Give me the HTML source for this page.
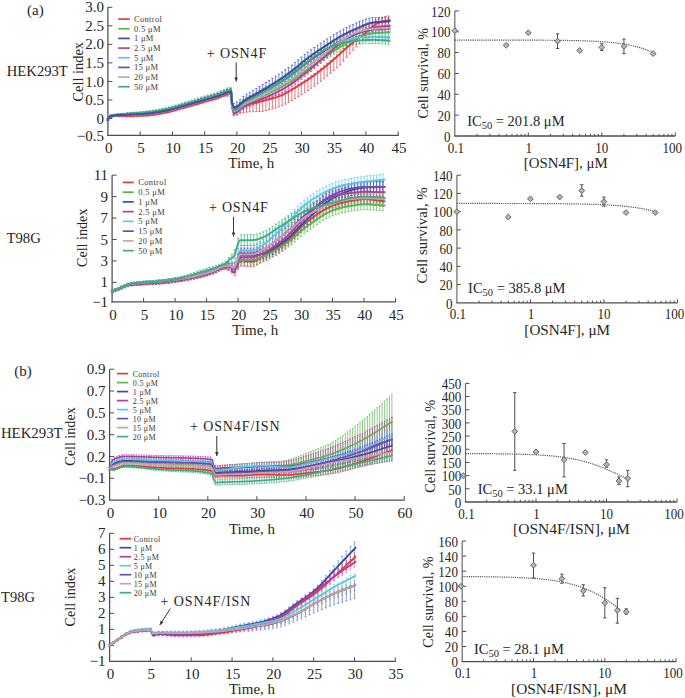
<!DOCTYPE html>
<html><head><meta charset="utf-8"><style>
html,body{margin:0;padding:0;background:#fff;}
body{width:685px;height:698px;overflow:hidden;font-family:"Liberation Serif", serif;}
svg{display:block}
</style></head><body>
<svg width="685" height="698" viewBox="0 0 685 698" font-family='"Liberation Serif", serif'>
<rect width="685" height="698" fill="#fff"/>
<line x1="107.90" y1="7.30" x2="107.90" y2="136.00" stroke="#4e4e4e" stroke-width="1.25" />
<line x1="107.30" y1="135.40" x2="398.69" y2="135.40" stroke="#4e4e4e" stroke-width="1.25" />
<line x1="107.90" y1="7.30" x2="112.40" y2="7.30" stroke="#4e4e4e" stroke-width="1" />
<text x="103.90" y="12.40" font-size="15" text-anchor="end" fill="#262626" >3.0</text>
<line x1="107.90" y1="25.83" x2="112.40" y2="25.83" stroke="#4e4e4e" stroke-width="1" />
<text x="103.90" y="30.93" font-size="15" text-anchor="end" fill="#262626" >2.5</text>
<line x1="107.90" y1="44.36" x2="112.40" y2="44.36" stroke="#4e4e4e" stroke-width="1" />
<text x="103.90" y="49.46" font-size="15" text-anchor="end" fill="#262626" >2.0</text>
<line x1="107.90" y1="62.89" x2="112.40" y2="62.89" stroke="#4e4e4e" stroke-width="1" />
<text x="103.90" y="67.99" font-size="15" text-anchor="end" fill="#262626" >1.5</text>
<line x1="107.90" y1="81.42" x2="112.40" y2="81.42" stroke="#4e4e4e" stroke-width="1" />
<text x="103.90" y="86.52" font-size="15" text-anchor="end" fill="#262626" >1.0</text>
<line x1="107.90" y1="99.95" x2="112.40" y2="99.95" stroke="#4e4e4e" stroke-width="1" />
<text x="103.90" y="105.05" font-size="15" text-anchor="end" fill="#262626" >0.5</text>
<line x1="107.90" y1="118.48" x2="112.40" y2="118.48" stroke="#4e4e4e" stroke-width="1" />
<text x="103.90" y="123.58" font-size="15" text-anchor="end" fill="#262626" >0</text>
<text x="103.90" y="140.50" font-size="15" text-anchor="end" fill="#262626" >−0.5</text>
<text x="108.70" y="153.00" font-size="15" text-anchor="middle" fill="#262626" >0</text>
<line x1="140.16" y1="135.40" x2="140.16" y2="131.40" stroke="#4e4e4e" stroke-width="1" />
<text x="140.96" y="153.00" font-size="15" text-anchor="middle" fill="#262626" >5</text>
<line x1="172.41" y1="135.40" x2="172.41" y2="131.40" stroke="#4e4e4e" stroke-width="1" />
<text x="173.21" y="153.00" font-size="15" text-anchor="middle" fill="#262626" >10</text>
<line x1="204.67" y1="135.40" x2="204.67" y2="131.40" stroke="#4e4e4e" stroke-width="1" />
<text x="205.47" y="153.00" font-size="15" text-anchor="middle" fill="#262626" >15</text>
<line x1="236.92" y1="135.40" x2="236.92" y2="131.40" stroke="#4e4e4e" stroke-width="1" />
<text x="237.72" y="153.00" font-size="15" text-anchor="middle" fill="#262626" >20</text>
<line x1="269.17" y1="135.40" x2="269.17" y2="131.40" stroke="#4e4e4e" stroke-width="1" />
<text x="269.97" y="153.00" font-size="15" text-anchor="middle" fill="#262626" >25</text>
<line x1="301.43" y1="135.40" x2="301.43" y2="131.40" stroke="#4e4e4e" stroke-width="1" />
<text x="302.23" y="153.00" font-size="15" text-anchor="middle" fill="#262626" >30</text>
<line x1="333.69" y1="135.40" x2="333.69" y2="131.40" stroke="#4e4e4e" stroke-width="1" />
<text x="334.49" y="153.00" font-size="15" text-anchor="middle" fill="#262626" >35</text>
<line x1="365.94" y1="135.40" x2="365.94" y2="131.40" stroke="#4e4e4e" stroke-width="1" />
<text x="366.74" y="153.00" font-size="15" text-anchor="middle" fill="#262626" >40</text>
<line x1="398.19" y1="135.40" x2="398.19" y2="131.40" stroke="#4e4e4e" stroke-width="1" />
<text x="398.99" y="153.00" font-size="15" text-anchor="middle" fill="#262626" >45</text>
<path d="M107.9,118.9V120.4M106.7,118.9h2.4M106.7,120.4h2.4M111.1,115.6V117.1M109.9,115.6h2.4M109.9,117.1h2.4M114.4,115.2V116.7M113.2,115.2h2.4M113.2,116.7h2.4M117.6,115.2V116.7M116.4,115.2h2.4M116.4,116.7h2.4M120.8,115.2V116.8M119.6,115.2h2.4M119.6,116.8h2.4M124.0,115.2V116.8M122.8,115.2h2.4M122.8,116.8h2.4M127.3,115.2V116.8M126.1,115.2h2.4M126.1,116.8h2.4M130.5,115.2V116.8M129.3,115.2h2.4M129.3,116.8h2.4M133.7,115.1V116.8M132.5,115.1h2.4M132.5,116.8h2.4M136.9,115.0V116.7M135.7,115.0h2.4M135.7,116.7h2.4M140.2,114.9V116.5M139.0,114.9h2.4M139.0,116.5h2.4M143.4,114.7V116.4M142.2,114.7h2.4M142.2,116.4h2.4M146.6,114.5V116.2M145.4,114.5h2.4M145.4,116.2h2.4M149.8,114.2V116.0M148.6,114.2h2.4M148.6,116.0h2.4M153.1,113.8V115.6M151.9,113.8h2.4M151.9,115.6h2.4M156.3,113.3V115.1M155.1,113.3h2.4M155.1,115.1h2.4M159.5,112.7V114.5M158.3,112.7h2.4M158.3,114.5h2.4M162.7,112.1V113.9M161.5,112.1h2.4M161.5,113.9h2.4M166.0,111.5V113.3M164.8,111.5h2.4M164.8,113.3h2.4M169.2,110.7V112.6M168.0,110.7h2.4M168.0,112.6h2.4M172.4,109.9V111.8M171.2,109.9h2.4M171.2,111.8h2.4M175.6,109.0V110.9M174.4,109.0h2.4M174.4,110.9h2.4M178.9,108.1V110.0M177.7,108.1h2.4M177.7,110.0h2.4M182.1,107.1V109.1M180.9,107.1h2.4M180.9,109.1h2.4M185.3,106.2V108.2M184.1,106.2h2.4M184.1,108.2h2.4M188.5,105.3V107.3M187.3,105.3h2.4M187.3,107.3h2.4M191.8,104.4V106.4M190.6,104.4h2.4M190.6,106.4h2.4M195.0,103.4V105.5M193.8,103.4h2.4M193.8,105.5h2.4M198.2,102.5V104.5M197.0,102.5h2.4M197.0,104.5h2.4M201.4,101.5V103.6M200.2,101.5h2.4M200.2,103.6h2.4M204.7,100.6V102.7M203.5,100.6h2.4M203.5,102.7h2.4M207.9,99.7V101.8M206.7,99.7h2.4M206.7,101.8h2.4M211.1,98.7V100.9M209.9,98.7h2.4M209.9,100.9h2.4M214.3,97.8V100.0M213.1,97.8h2.4M213.1,100.0h2.4M217.6,96.8V99.0M216.4,96.8h2.4M216.4,99.0h2.4M220.8,95.6V97.8M219.6,95.6h2.4M219.6,97.8h2.4M224.0,94.2V96.4M222.8,94.2h2.4M222.8,96.4h2.4M227.2,92.8V96.1M226.0,92.8h2.4M226.0,96.1h2.4M230.5,92.0V96.3M229.3,92.0h2.4M229.3,96.3h2.4M233.7,109.3V114.6M232.5,109.3h2.4M232.5,114.6h2.4M236.9,108.5V114.8M235.7,108.5h2.4M235.7,114.8h2.4M240.1,106.6V113.6M238.9,106.6h2.4M238.9,113.6h2.4M243.4,104.7V112.5M242.2,104.7h2.4M242.2,112.5h2.4M246.6,103.5V112.1M245.4,103.5h2.4M245.4,112.1h2.4M249.8,102.6V111.8M248.6,102.6h2.4M248.6,111.8h2.4M253.0,101.7V111.7M251.8,101.7h2.4M251.8,111.7h2.4M256.3,100.8V111.6M255.1,100.8h2.4M255.1,111.6h2.4M259.5,100.0V111.5M258.3,100.0h2.4M258.3,111.5h2.4M262.7,99.1V111.3M261.5,99.1h2.4M261.5,111.3h2.4M265.9,98.2V110.5M264.7,98.2h2.4M264.7,110.5h2.4M269.2,97.4V109.7M268.0,97.4h2.4M268.0,109.7h2.4M272.4,96.5V108.9M271.2,96.5h2.4M271.2,108.9h2.4M275.6,95.6V107.9M274.4,95.6h2.4M274.4,107.9h2.4M278.9,94.5V106.9M277.7,94.5h2.4M277.7,106.9h2.4M282.1,93.2V105.7M280.9,93.2h2.4M280.9,105.7h2.4M285.3,91.7V104.1M284.1,91.7h2.4M284.1,104.1h2.4M288.5,89.9V102.4M287.3,89.9h2.4M287.3,102.4h2.4M291.8,88.0V100.5M290.6,88.0h2.4M290.6,100.5h2.4M295.0,86.0V98.5M293.8,86.0h2.4M293.8,98.5h2.4M298.2,84.0V96.6M297.0,84.0h2.4M297.0,96.6h2.4M301.4,82.0V94.6M300.2,82.0h2.4M300.2,94.6h2.4M304.7,80.0V92.6M303.5,80.0h2.4M303.5,92.6h2.4M307.9,77.9V90.5M306.7,77.9h2.4M306.7,90.5h2.4M311.1,75.7V88.3M309.9,75.7h2.4M309.9,88.3h2.4M314.3,73.4V86.1M313.1,73.4h2.4M313.1,86.1h2.4M317.6,71.0V83.7M316.4,71.0h2.4M316.4,83.7h2.4M320.8,68.5V81.3M319.6,68.5h2.4M319.6,81.3h2.4M324.0,65.9V78.7M322.8,65.9h2.4M322.8,78.7h2.4M327.2,63.2V76.0M326.0,63.2h2.4M326.0,76.0h2.4M330.5,60.5V73.3M329.3,60.5h2.4M329.3,73.3h2.4M333.7,57.7V70.6M332.5,57.7h2.4M332.5,70.6h2.4M336.9,54.8V67.8M335.7,54.8h2.4M335.7,67.8h2.4M340.1,51.9V64.9M338.9,51.9h2.4M338.9,64.9h2.4M343.4,48.6V61.1M342.2,48.6h2.4M342.2,61.1h2.4M346.6,45.4V57.3M345.4,45.4h2.4M345.4,57.3h2.4M349.8,42.3V53.7M348.6,42.3h2.4M348.6,53.7h2.4M353.0,39.3V50.3M351.8,39.3h2.4M351.8,50.3h2.4M356.3,36.5V46.9M355.1,36.5h2.4M355.1,46.9h2.4M359.5,33.7V43.6M358.3,33.7h2.4M358.3,43.6h2.4M362.7,30.9V40.3M361.5,30.9h2.4M361.5,40.3h2.4M365.9,28.1V37.0M364.7,28.1h2.4M364.7,37.0h2.4M369.2,25.5V34.4M368.0,25.5h2.4M368.0,34.4h2.4M372.4,22.5V31.4M371.2,22.5h2.4M371.2,31.4h2.4M375.6,19.9V28.7M374.4,19.9h2.4M374.4,28.7h2.4M378.8,18.2V27.1M377.6,18.2h2.4M377.6,27.1h2.4M382.1,17.2V26.1M380.9,17.2h2.4M380.9,26.1h2.4M385.3,16.5V25.4M384.1,16.5h2.4M384.1,25.4h2.4M388.5,15.9V24.8M387.3,15.9h2.4M387.3,24.8h2.4" stroke="#e23a44" stroke-width="0.75" stroke-opacity="0.9" fill="none"/>
<path d="M107.9,118.9V120.4M106.7,118.9h2.4M106.7,120.4h2.4M111.1,115.3V116.8M109.9,115.3h2.4M109.9,116.8h2.4M114.4,114.5V116.1M113.2,114.5h2.4M113.2,116.1h2.4M117.6,114.1V115.7M116.4,114.1h2.4M116.4,115.7h2.4M120.8,113.8V115.4M119.6,113.8h2.4M119.6,115.4h2.4M124.0,113.5V115.2M122.8,113.5h2.4M122.8,115.2h2.4M127.3,113.3V115.0M126.1,113.3h2.4M126.1,115.0h2.4M130.5,113.0V114.8M129.3,113.0h2.4M129.3,114.8h2.4M133.7,112.8V114.6M132.5,112.8h2.4M132.5,114.6h2.4M136.9,112.6V114.4M135.7,112.6h2.4M135.7,114.4h2.4M140.2,112.3V114.2M139.0,112.3h2.4M139.0,114.2h2.4M143.4,112.1V114.0M142.2,112.1h2.4M142.2,114.0h2.4M146.6,111.8V113.7M145.4,111.8h2.4M145.4,113.7h2.4M149.8,111.4V113.3M148.6,111.4h2.4M148.6,113.3h2.4M153.1,110.9V112.9M151.9,110.9h2.4M151.9,112.9h2.4M156.3,110.4V112.4M155.1,110.4h2.4M155.1,112.4h2.4M159.5,109.8V111.9M158.3,109.8h2.4M158.3,111.9h2.4M162.7,109.2V111.3M161.5,109.2h2.4M161.5,111.3h2.4M166.0,108.6V110.7M164.8,108.6h2.4M164.8,110.7h2.4M169.2,107.8V110.0M168.0,107.8h2.4M168.0,110.0h2.4M172.4,107.0V109.2M171.2,107.0h2.4M171.2,109.2h2.4M175.6,106.0V108.3M174.4,106.0h2.4M174.4,108.3h2.4M178.9,105.0V107.4M177.7,105.0h2.4M177.7,107.4h2.4M182.1,104.0V106.5M180.9,104.0h2.4M180.9,106.5h2.4M185.3,103.1V105.6M184.1,103.1h2.4M184.1,105.6h2.4M188.5,102.1V104.7M187.3,102.1h2.4M187.3,104.7h2.4M191.8,101.1V103.8M190.6,101.1h2.4M190.6,103.8h2.4M195.0,100.1V102.9M193.8,100.1h2.4M193.8,102.9h2.4M198.2,99.1V102.0M197.0,99.1h2.4M197.0,102.0h2.4M201.4,98.1V101.1M200.2,98.1h2.4M200.2,101.1h2.4M204.7,97.1V100.2M203.5,97.1h2.4M203.5,100.2h2.4M207.9,96.1V99.3M206.7,96.1h2.4M206.7,99.3h2.4M211.1,95.2V98.4M209.9,95.2h2.4M209.9,98.4h2.4M214.3,94.2V97.5M213.1,94.2h2.4M213.1,97.5h2.4M217.6,93.2V96.5M216.4,93.2h2.4M216.4,96.5h2.4M220.8,91.9V95.4M219.6,91.9h2.4M219.6,95.4h2.4M224.0,90.4V94.0M222.8,90.4h2.4M222.8,94.0h2.4M227.2,89.2V92.8M226.0,89.2h2.4M226.0,92.8h2.4M230.5,88.5V92.2M229.3,88.5h2.4M229.3,92.2h2.4M233.7,107.6V112.0M232.5,107.6h2.4M232.5,112.0h2.4M236.9,106.8V112.0M235.7,106.8h2.4M235.7,112.0h2.4M240.1,104.5V109.7M238.9,104.5h2.4M238.9,109.7h2.4M243.4,102.1V107.4M242.2,102.1h2.4M242.2,107.4h2.4M246.6,100.5V105.8M245.4,100.5h2.4M245.4,105.8h2.4M249.8,99.1V104.5M248.6,99.1h2.4M248.6,104.5h2.4M253.0,97.7V103.2M251.8,97.7h2.4M251.8,103.2h2.4M256.3,96.4V101.9M255.1,96.4h2.4M255.1,101.9h2.4M259.5,95.0V100.5M258.3,95.0h2.4M258.3,100.5h2.4M262.7,93.5V99.0M261.5,93.5h2.4M261.5,99.0h2.4M265.9,92.0V97.6M264.7,92.0h2.4M264.7,97.6h2.4M269.2,90.4V96.0M268.0,90.4h2.4M268.0,96.0h2.4M272.4,88.8V94.5M271.2,88.8h2.4M271.2,94.5h2.4M275.6,87.1V92.9M274.4,87.1h2.4M274.4,92.9h2.4M278.9,85.4V91.2M277.7,85.4h2.4M277.7,91.2h2.4M282.1,83.7V89.5M280.9,83.7h2.4M280.9,89.5h2.4M285.3,81.9V87.8M284.1,81.9h2.4M284.1,87.8h2.4M288.5,80.0V86.0M287.3,80.0h2.4M287.3,86.0h2.4M291.8,78.0V84.0M290.6,78.0h2.4M290.6,84.0h2.4M295.0,75.8V81.9M293.8,75.8h2.4M293.8,81.9h2.4M298.2,73.5V79.6M297.0,73.5h2.4M297.0,79.6h2.4M301.4,71.1V77.2M300.2,71.1h2.4M300.2,77.2h2.4M304.7,68.6V74.8M303.5,68.6h2.4M303.5,74.8h2.4M307.9,66.3V72.5M306.7,66.3h2.4M306.7,72.5h2.4M311.1,63.9V70.1M309.9,63.9h2.4M309.9,70.1h2.4M314.3,61.5V67.8M313.1,61.5h2.4M313.1,67.8h2.4M317.6,59.0V65.4M316.4,59.0h2.4M316.4,65.4h2.4M320.8,56.7V63.1M319.6,56.7h2.4M319.6,63.1h2.4M324.0,54.3V60.8M322.8,54.3h2.4M322.8,60.8h2.4M327.2,52.1V58.6M326.0,52.1h2.4M326.0,58.6h2.4M330.5,49.9V56.4M329.3,49.9h2.4M329.3,56.4h2.4M333.7,47.7V54.3M332.5,47.7h2.4M332.5,54.3h2.4M336.9,45.6V52.3M335.7,45.6h2.4M335.7,52.3h2.4M340.1,43.6V50.3M338.9,43.6h2.4M338.9,50.3h2.4M343.4,41.7V48.4M342.2,41.7h2.4M342.2,48.4h2.4M346.6,39.8V46.6M345.4,39.8h2.4M345.4,46.6h2.4M349.8,37.9V44.8M348.6,37.9h2.4M348.6,44.8h2.4M353.0,36.2V43.1M351.8,36.2h2.4M351.8,43.1h2.4M356.3,34.7V41.6M355.1,34.7h2.4M355.1,41.6h2.4M359.5,33.5V40.4M358.3,33.5h2.4M358.3,40.4h2.4M362.7,32.3V39.3M361.5,32.3h2.4M361.5,39.3h2.4M365.9,31.2V38.3M364.7,31.2h2.4M364.7,38.3h2.4M369.2,30.3V37.4M368.0,30.3h2.4M368.0,37.4h2.4M372.4,29.7V36.9M371.2,29.7h2.4M371.2,36.9h2.4M375.6,29.4V36.6M374.4,29.4h2.4M374.4,36.6h2.4M378.8,29.1V36.4M377.6,29.1h2.4M377.6,36.4h2.4M382.1,28.9V36.2M380.9,28.9h2.4M380.9,36.2h2.4M385.3,28.8V36.1M384.1,28.8h2.4M384.1,36.1h2.4M388.5,28.6V35.9M387.3,28.6h2.4M387.3,35.9h2.4" stroke="#55b947" stroke-width="0.75" stroke-opacity="0.9" fill="none"/>
<path d="M107.9,118.9V120.4M106.7,118.9h2.4M106.7,120.4h2.4M111.1,115.4V117.0M109.9,115.4h2.4M109.9,117.0h2.4M114.4,114.8V116.4M113.2,114.8h2.4M113.2,116.4h2.4M117.6,114.6V116.3M116.4,114.6h2.4M116.4,116.3h2.4M120.8,114.4V116.2M119.6,114.4h2.4M119.6,116.2h2.4M124.0,114.3V116.1M122.8,114.3h2.4M122.8,116.1h2.4M127.3,114.1V116.0M126.1,114.1h2.4M126.1,116.0h2.4M130.5,113.9V115.9M129.3,113.9h2.4M129.3,115.9h2.4M133.7,113.7V115.8M132.5,113.7h2.4M132.5,115.8h2.4M136.9,113.5V115.7M135.7,113.5h2.4M135.7,115.7h2.4M140.2,113.3V115.6M139.0,113.3h2.4M139.0,115.6h2.4M143.4,113.1V115.5M142.2,113.1h2.4M142.2,115.5h2.4M146.6,112.8V115.3M145.4,112.8h2.4M145.4,115.3h2.4M149.8,112.5V115.0M148.6,112.5h2.4M148.6,115.0h2.4M153.1,112.0V114.6M151.9,112.0h2.4M151.9,114.6h2.4M156.3,111.5V114.2M155.1,111.5h2.4M155.1,114.2h2.4M159.5,110.9V113.7M158.3,110.9h2.4M158.3,113.7h2.4M162.7,110.3V113.1M161.5,110.3h2.4M161.5,113.1h2.4M166.0,109.6V112.5M164.8,109.6h2.4M164.8,112.5h2.4M169.2,108.9V111.9M168.0,108.9h2.4M168.0,111.9h2.4M172.4,108.1V111.1M171.2,108.1h2.4M171.2,111.1h2.4M175.6,107.1V110.3M174.4,107.1h2.4M174.4,110.3h2.4M178.9,106.2V109.4M177.7,106.2h2.4M177.7,109.4h2.4M182.1,105.2V108.5M180.9,105.2h2.4M180.9,108.5h2.4M185.3,104.2V107.6M184.1,104.2h2.4M184.1,107.6h2.4M188.5,103.3V106.7M187.3,103.3h2.4M187.3,106.7h2.4M191.8,102.3V105.8M190.6,102.3h2.4M190.6,105.8h2.4M195.0,101.3V104.9M193.8,101.3h2.4M193.8,104.9h2.4M198.2,100.4V104.0M197.0,100.4h2.4M197.0,104.0h2.4M201.4,99.4V103.1M200.2,99.4h2.4M200.2,103.1h2.4M204.7,98.4V102.2M203.5,98.4h2.4M203.5,102.2h2.4M207.9,97.5V101.4M206.7,97.5h2.4M206.7,101.4h2.4M211.1,96.5V100.5M209.9,96.5h2.4M209.9,100.5h2.4M214.3,95.6V99.6M213.1,95.6h2.4M213.1,99.6h2.4M217.6,94.6V98.7M216.4,94.6h2.4M216.4,98.7h2.4M220.8,93.3V97.5M219.6,93.3h2.4M219.6,97.5h2.4M224.0,91.9V96.2M222.8,91.9h2.4M222.8,96.2h2.4M227.2,90.6V95.0M226.0,90.6h2.4M226.0,95.0h2.4M230.5,90.0V94.4M229.3,90.0h2.4M229.3,94.4h2.4M233.7,110.7V115.5M232.5,110.7h2.4M232.5,115.5h2.4M236.9,109.7V114.9M235.7,109.7h2.4M235.7,114.9h2.4M240.1,107.0V112.3M238.9,107.0h2.4M238.9,112.3h2.4M243.4,104.4V109.7M242.2,104.4h2.4M242.2,109.7h2.4M246.6,102.7V108.0M245.4,102.7h2.4M245.4,108.0h2.4M249.8,101.2V106.6M248.6,101.2h2.4M248.6,106.6h2.4M253.0,99.9V105.3M251.8,99.9h2.4M251.8,105.3h2.4M256.3,98.6V104.0M255.1,98.6h2.4M255.1,104.0h2.4M259.5,97.2V102.7M258.3,97.2h2.4M258.3,102.7h2.4M262.7,95.8V101.4M261.5,95.8h2.4M261.5,101.4h2.4M265.9,94.5V100.1M264.7,94.5h2.4M264.7,100.1h2.4M269.2,93.1V98.8M268.0,93.1h2.4M268.0,98.8h2.4M272.4,91.7V97.4M271.2,91.7h2.4M271.2,97.4h2.4M275.6,90.1V95.8M274.4,90.1h2.4M274.4,95.8h2.4M278.9,88.4V94.2M277.7,88.4h2.4M277.7,94.2h2.4M282.1,86.6V92.5M280.9,86.6h2.4M280.9,92.5h2.4M285.3,84.7V90.6M284.1,84.7h2.4M284.1,90.6h2.4M288.5,82.7V88.7M287.3,82.7h2.4M287.3,88.7h2.4M291.8,80.6V86.6M290.6,80.6h2.4M290.6,86.6h2.4M295.0,78.3V84.3M293.8,78.3h2.4M293.8,84.3h2.4M298.2,75.9V81.9M297.0,75.9h2.4M297.0,81.9h2.4M301.4,73.3V79.4M300.2,73.3h2.4M300.2,79.4h2.4M304.7,70.7V76.8M303.5,70.7h2.4M303.5,76.8h2.4M307.9,68.0V74.2M306.7,68.0h2.4M306.7,74.2h2.4M311.1,65.3V71.5M309.9,65.3h2.4M309.9,71.5h2.4M314.3,62.5V68.8M313.1,62.5h2.4M313.1,68.8h2.4M317.6,59.6V66.0M316.4,59.6h2.4M316.4,66.0h2.4M320.8,56.8V63.1M319.6,56.8h2.4M319.6,63.1h2.4M324.0,53.9V60.4M322.8,53.9h2.4M322.8,60.4h2.4M327.2,51.1V57.6M326.0,51.1h2.4M326.0,57.6h2.4M330.5,48.3V54.8M329.3,48.3h2.4M329.3,54.8h2.4M333.7,45.4V52.0M332.5,45.4h2.4M332.5,52.0h2.4M336.9,42.6V49.2M335.7,42.6h2.4M335.7,49.2h2.4M340.1,40.1V46.8M338.9,40.1h2.4M338.9,46.8h2.4M343.4,37.8V44.6M342.2,37.8h2.4M342.2,44.6h2.4M346.6,35.8V42.5M345.4,35.8h2.4M345.4,42.5h2.4M349.8,33.8V40.6M348.6,33.8h2.4M348.6,40.6h2.4M353.0,32.0V38.9M351.8,32.0h2.4M351.8,38.9h2.4M356.3,30.4V37.3M355.1,30.4h2.4M355.1,37.3h2.4M359.5,28.9V35.9M358.3,28.9h2.4M358.3,35.9h2.4M362.7,27.5V34.5M361.5,27.5h2.4M361.5,34.5h2.4M365.9,26.2V33.2M364.7,26.2h2.4M364.7,33.2h2.4M369.2,25.0V32.1M368.0,25.0h2.4M368.0,32.1h2.4M372.4,24.2V31.4M371.2,24.2h2.4M371.2,31.4h2.4M375.6,23.7V30.9M374.4,23.7h2.4M374.4,30.9h2.4M378.8,23.3V30.5M377.6,23.3h2.4M377.6,30.5h2.4M382.1,23.0V30.2M380.9,23.0h2.4M380.9,30.2h2.4M385.3,22.6V30.0M384.1,22.6h2.4M384.1,30.0h2.4M388.5,22.3V29.7M387.3,22.3h2.4M387.3,29.7h2.4" stroke="#b53d9d" stroke-width="0.75" stroke-opacity="0.9" fill="none"/>
<path d="M107.9,118.9V120.4M106.7,118.9h2.4M106.7,120.4h2.4M111.1,115.3V116.9M109.9,115.3h2.4M109.9,116.9h2.4M114.4,114.6V116.3M113.2,114.6h2.4M113.2,116.3h2.4M117.6,114.3V116.0M116.4,114.3h2.4M116.4,116.0h2.4M120.8,114.0V115.8M119.6,114.0h2.4M119.6,115.8h2.4M124.0,113.8V115.6M122.8,113.8h2.4M122.8,115.6h2.4M127.3,113.5V115.5M126.1,113.5h2.4M126.1,115.5h2.4M130.5,113.3V115.3M129.3,113.3h2.4M129.3,115.3h2.4M133.7,113.1V115.2M132.5,113.1h2.4M132.5,115.2h2.4M136.9,112.9V115.1M135.7,112.9h2.4M135.7,115.1h2.4M140.2,112.6V114.9M139.0,112.6h2.4M139.0,114.9h2.4M143.4,112.4V114.7M142.2,112.4h2.4M142.2,114.7h2.4M146.6,112.1V114.5M145.4,112.1h2.4M145.4,114.5h2.4M149.8,111.7V114.2M148.6,111.7h2.4M148.6,114.2h2.4M153.1,111.3V113.9M151.9,111.3h2.4M151.9,113.9h2.4M156.3,110.8V113.4M155.1,110.8h2.4M155.1,113.4h2.4M159.5,110.2V112.9M158.3,110.2h2.4M158.3,112.9h2.4M162.7,109.6V112.4M161.5,109.6h2.4M161.5,112.4h2.4M166.0,108.9V111.8M164.8,108.9h2.4M164.8,111.8h2.4M169.2,108.2V111.1M168.0,108.2h2.4M168.0,111.1h2.4M172.4,107.3V110.4M171.2,107.3h2.4M171.2,110.4h2.4M175.6,106.4V109.5M174.4,106.4h2.4M174.4,109.5h2.4M178.9,105.4V108.6M177.7,105.4h2.4M177.7,108.6h2.4M182.1,104.4V107.7M180.9,104.4h2.4M180.9,107.7h2.4M185.3,103.5V106.8M184.1,103.5h2.4M184.1,106.8h2.4M188.5,102.5V106.0M187.3,102.5h2.4M187.3,106.0h2.4M191.8,101.6V105.1M190.6,101.6h2.4M190.6,105.1h2.4M195.0,100.6V104.2M193.8,100.6h2.4M193.8,104.2h2.4M198.2,99.6V103.3M197.0,99.6h2.4M197.0,103.3h2.4M201.4,98.7V102.4M200.2,98.7h2.4M200.2,102.4h2.4M204.7,97.7V101.5M203.5,97.7h2.4M203.5,101.5h2.4M207.9,96.7V100.6M206.7,96.7h2.4M206.7,100.6h2.4M211.1,95.8V99.8M209.9,95.8h2.4M209.9,99.8h2.4M214.3,94.8V98.9M213.1,94.8h2.4M213.1,98.9h2.4M217.6,93.8V98.0M216.4,93.8h2.4M216.4,98.0h2.4M220.8,92.6V96.8M219.6,92.6h2.4M219.6,96.8h2.4M224.0,91.1V95.4M222.8,91.1h2.4M222.8,95.4h2.4M227.2,89.9V94.3M226.0,89.9h2.4M226.0,94.3h2.4M230.5,89.2V93.7M229.3,89.2h2.4M229.3,93.7h2.4M233.7,107.8V112.6M232.5,107.8h2.4M232.5,112.6h2.4M236.9,106.6V111.8M235.7,106.6h2.4M235.7,111.8h2.4M240.1,103.7V108.9M238.9,103.7h2.4M238.9,108.9h2.4M243.4,100.7V106.0M242.2,100.7h2.4M242.2,106.0h2.4M246.6,98.8V104.1M245.4,98.8h2.4M245.4,104.1h2.4M249.8,97.1V102.5M248.6,97.1h2.4M248.6,102.5h2.4M253.0,95.6V101.0M251.8,95.6h2.4M251.8,101.0h2.4M256.3,94.0V99.5M255.1,94.0h2.4M255.1,99.5h2.4M259.5,92.4V97.9M258.3,92.4h2.4M258.3,97.9h2.4M262.7,90.6V96.2M261.5,90.6h2.4M261.5,96.2h2.4M265.9,88.8V94.4M264.7,88.8h2.4M264.7,94.4h2.4M269.2,86.9V92.5M268.0,86.9h2.4M268.0,92.5h2.4M272.4,85.0V90.7M271.2,85.0h2.4M271.2,90.7h2.4M275.6,83.0V88.7M274.4,83.0h2.4M274.4,88.7h2.4M278.9,81.0V86.8M277.7,81.0h2.4M277.7,86.8h2.4M282.1,79.0V84.8M280.9,79.0h2.4M280.9,84.8h2.4M285.3,76.9V82.8M284.1,76.9h2.4M284.1,82.8h2.4M288.5,74.7V80.7M287.3,74.7h2.4M287.3,80.7h2.4M291.8,72.4V78.4M290.6,72.4h2.4M290.6,78.4h2.4M295.0,69.8V75.8M293.8,69.8h2.4M293.8,75.8h2.4M298.2,67.0V73.0M297.0,67.0h2.4M297.0,73.0h2.4M301.4,64.1V70.2M300.2,64.1h2.4M300.2,70.2h2.4M304.7,61.3V67.5M303.5,61.3h2.4M303.5,67.5h2.4M307.9,58.8V65.0M306.7,58.8h2.4M306.7,65.0h2.4M311.1,56.4V62.6M309.9,56.4h2.4M309.9,62.6h2.4M314.3,54.0V60.3M313.1,54.0h2.4M313.1,60.3h2.4M317.6,51.8V58.1M316.4,51.8h2.4M316.4,58.1h2.4M320.8,49.6V56.0M319.6,49.6h2.4M319.6,56.0h2.4M324.0,47.5V53.9M322.8,47.5h2.4M322.8,53.9h2.4M327.2,45.5V52.0M326.0,45.5h2.4M326.0,52.0h2.4M330.5,43.6V50.1M329.3,43.6h2.4M329.3,50.1h2.4M333.7,41.7V48.2M332.5,41.7h2.4M332.5,48.2h2.4M336.9,39.9V46.6M335.7,39.9h2.4M335.7,46.6h2.4M340.1,38.5V45.2M338.9,38.5h2.4M338.9,45.2h2.4M343.4,37.4V44.1M342.2,37.4h2.4M342.2,44.1h2.4M346.6,36.4V43.2M345.4,36.4h2.4M345.4,43.2h2.4M349.8,35.6V42.4M348.6,35.6h2.4M348.6,42.4h2.4M353.0,34.9V41.7M351.8,34.9h2.4M351.8,41.7h2.4M356.3,34.4V41.3M355.1,34.4h2.4M355.1,41.3h2.4M359.5,34.1V41.0M358.3,34.1h2.4M358.3,41.0h2.4M362.7,33.8V40.8M361.5,33.8h2.4M361.5,40.8h2.4M365.9,33.6V40.7M364.7,33.6h2.4M364.7,40.7h2.4M369.2,33.5V40.5M368.0,33.5h2.4M368.0,40.5h2.4M372.4,33.4V40.5M371.2,33.4h2.4M371.2,40.5h2.4M375.6,33.4V40.6M374.4,33.4h2.4M374.4,40.6h2.4M378.8,33.5V40.7M377.6,33.5h2.4M377.6,40.7h2.4M382.1,33.6V40.9M380.9,33.6h2.4M380.9,40.9h2.4M385.3,33.8V41.1M384.1,33.8h2.4M384.1,41.1h2.4M388.5,33.9V41.3M387.3,33.9h2.4M387.3,41.3h2.4" stroke="#5bc6e6" stroke-width="0.75" stroke-opacity="0.9" fill="none"/>
<path d="M107.9,118.9V120.4M106.7,118.9h2.4M106.7,120.4h2.4M111.1,115.4V116.9M109.9,115.4h2.4M109.9,116.9h2.4M114.4,114.7V116.4M113.2,114.7h2.4M113.2,116.4h2.4M117.6,114.4V116.1M116.4,114.4h2.4M116.4,116.1h2.4M120.8,114.2V116.0M119.6,114.2h2.4M119.6,116.0h2.4M124.0,114.0V115.9M122.8,114.0h2.4M122.8,115.9h2.4M127.3,113.8V115.8M126.1,113.8h2.4M126.1,115.8h2.4M130.5,113.6V115.6M129.3,113.6h2.4M129.3,115.6h2.4M133.7,113.4V115.5M132.5,113.4h2.4M132.5,115.5h2.4M136.9,113.2V115.4M135.7,113.2h2.4M135.7,115.4h2.4M140.2,113.0V115.3M139.0,113.0h2.4M139.0,115.3h2.4M143.4,112.8V115.1M142.2,112.8h2.4M142.2,115.1h2.4M146.6,112.5V114.9M145.4,112.5h2.4M145.4,114.9h2.4M149.8,112.1V114.6M148.6,112.1h2.4M148.6,114.6h2.4M153.1,111.7V114.2M151.9,111.7h2.4M151.9,114.2h2.4M156.3,111.1V113.8M155.1,111.1h2.4M155.1,113.8h2.4M159.5,110.6V113.3M158.3,110.6h2.4M158.3,113.3h2.4M162.7,109.9V112.7M161.5,109.9h2.4M161.5,112.7h2.4M166.0,109.3V112.2M164.8,109.3h2.4M164.8,112.2h2.4M169.2,108.5V111.5M168.0,108.5h2.4M168.0,111.5h2.4M172.4,107.7V110.7M171.2,107.7h2.4M171.2,110.7h2.4M175.6,106.8V109.9M174.4,106.8h2.4M174.4,109.9h2.4M178.9,105.8V109.0M177.7,105.8h2.4M177.7,109.0h2.4M182.1,104.8V108.1M180.9,104.8h2.4M180.9,108.1h2.4M185.3,103.8V107.2M184.1,103.8h2.4M184.1,107.2h2.4M188.5,102.9V106.3M187.3,102.9h2.4M187.3,106.3h2.4M191.8,101.9V105.5M190.6,101.9h2.4M190.6,105.5h2.4M195.0,101.0V104.6M193.8,101.0h2.4M193.8,104.6h2.4M198.2,100.0V103.7M197.0,100.0h2.4M197.0,103.7h2.4M201.4,99.0V102.8M200.2,99.0h2.4M200.2,102.8h2.4M204.7,98.1V101.9M203.5,98.1h2.4M203.5,101.9h2.4M207.9,97.1V101.0M206.7,97.1h2.4M206.7,101.0h2.4M211.1,96.2V100.1M209.9,96.2h2.4M209.9,100.1h2.4M214.3,95.2V99.2M213.1,95.2h2.4M213.1,99.2h2.4M217.6,94.2V98.3M216.4,94.2h2.4M216.4,98.3h2.4M220.8,92.9V97.2M219.6,92.9h2.4M219.6,97.2h2.4M224.0,91.5V95.8M222.8,91.5h2.4M222.8,95.8h2.4M227.2,90.3V94.6M226.0,90.3h2.4M226.0,94.6h2.4M230.5,89.6V94.1M229.3,89.6h2.4M229.3,94.1h2.4M233.7,106.7V111.5M232.5,106.7h2.4M232.5,111.5h2.4M236.9,105.5V110.7M235.7,105.5h2.4M235.7,110.7h2.4M240.1,102.6V107.8M238.9,102.6h2.4M238.9,107.8h2.4M243.4,99.6V104.9M242.2,99.6h2.4M242.2,104.9h2.4M246.6,97.6V102.9M245.4,97.6h2.4M245.4,102.9h2.4M249.8,95.7V101.1M248.6,95.7h2.4M248.6,101.1h2.4M253.0,94.0V99.4M251.8,94.0h2.4M251.8,99.4h2.4M256.3,92.3V97.7M255.1,92.3h2.4M255.1,97.7h2.4M259.5,90.5V96.0M258.3,90.5h2.4M258.3,96.0h2.4M262.7,88.8V94.4M261.5,88.8h2.4M261.5,94.4h2.4M265.9,87.1V92.8M264.7,87.1h2.4M264.7,92.8h2.4M269.2,85.5V91.1M268.0,85.5h2.4M268.0,91.1h2.4M272.4,83.7V89.4M271.2,83.7h2.4M271.2,89.4h2.4M275.6,81.9V87.6M274.4,81.9h2.4M274.4,87.6h2.4M278.9,79.9V85.7M277.7,79.9h2.4M277.7,85.7h2.4M282.1,77.9V83.7M280.9,77.9h2.4M280.9,83.7h2.4M285.3,75.8V81.7M284.1,75.8h2.4M284.1,81.7h2.4M288.5,73.6V79.5M287.3,73.6h2.4M287.3,79.5h2.4M291.8,71.3V77.3M290.6,71.3h2.4M290.6,77.3h2.4M295.0,68.9V74.9M293.8,68.9h2.4M293.8,74.9h2.4M298.2,66.3V72.4M297.0,66.3h2.4M297.0,72.4h2.4M301.4,63.8V69.9M300.2,63.8h2.4M300.2,69.9h2.4M304.7,61.2V67.4M303.5,61.2h2.4M303.5,67.4h2.4M307.9,58.9V65.1M306.7,58.9h2.4M306.7,65.1h2.4M311.1,56.6V62.8M309.9,56.6h2.4M309.9,62.8h2.4M314.3,54.4V60.7M313.1,54.4h2.4M313.1,60.7h2.4M317.6,52.2V58.5M316.4,52.2h2.4M316.4,58.5h2.4M320.8,50.0V56.4M319.6,50.0h2.4M319.6,56.4h2.4M324.0,47.9V54.4M322.8,47.9h2.4M322.8,54.4h2.4M327.2,45.9V52.3M326.0,45.9h2.4M326.0,52.3h2.4M330.5,43.8V50.3M329.3,43.8h2.4M329.3,50.3h2.4M333.7,41.8V48.4M332.5,41.8h2.4M332.5,48.4h2.4M336.9,39.8V46.5M335.7,39.8h2.4M335.7,46.5h2.4M340.1,38.0V44.7M338.9,38.0h2.4M338.9,44.7h2.4M343.4,36.3V43.0M342.2,36.3h2.4M342.2,43.0h2.4M346.6,34.6V41.4M345.4,34.6h2.4M345.4,41.4h2.4M349.8,33.0V39.8M348.6,33.0h2.4M348.6,39.8h2.4M353.0,31.5V38.3M351.8,31.5h2.4M351.8,38.3h2.4M356.3,30.2V37.1M355.1,30.2h2.4M355.1,37.1h2.4M359.5,29.2V36.1M358.3,29.2h2.4M358.3,36.1h2.4M362.7,28.1V35.1M361.5,28.1h2.4M361.5,35.1h2.4M365.9,27.2V34.3M364.7,27.2h2.4M364.7,34.3h2.4M369.2,26.5V33.6M368.0,26.5h2.4M368.0,33.6h2.4M372.4,26.0V33.2M371.2,26.0h2.4M371.2,33.2h2.4M375.6,25.8V33.0M374.4,25.8h2.4M374.4,33.0h2.4M378.8,25.6V32.8M377.6,25.6h2.4M377.6,32.8h2.4M382.1,25.4V32.7M380.9,25.4h2.4M380.9,32.7h2.4M385.3,25.3V32.6M384.1,25.3h2.4M384.1,32.6h2.4M388.5,25.2V32.6M387.3,25.2h2.4M387.3,32.6h2.4" stroke="#6a4fb4" stroke-width="0.75" stroke-opacity="0.9" fill="none"/>
<path d="M107.9,118.9V120.4M106.7,118.9h2.4M106.7,120.4h2.4M111.1,115.4V117.0M109.9,115.4h2.4M109.9,117.0h2.4M114.4,114.8V116.4M113.2,114.8h2.4M113.2,116.4h2.4M117.6,114.6V116.3M116.4,114.6h2.4M116.4,116.3h2.4M120.8,114.4V116.2M119.6,114.4h2.4M119.6,116.2h2.4M124.0,114.3V116.1M122.8,114.3h2.4M122.8,116.1h2.4M127.3,114.1V116.0M126.1,114.1h2.4M126.1,116.0h2.4M130.5,113.9V115.9M129.3,113.9h2.4M129.3,115.9h2.4M133.7,113.7V115.8M132.5,113.7h2.4M132.5,115.8h2.4M136.9,113.5V115.7M135.7,113.5h2.4M135.7,115.7h2.4M140.2,113.3V115.6M139.0,113.3h2.4M139.0,115.6h2.4M143.4,113.1V115.5M142.2,113.1h2.4M142.2,115.5h2.4M146.6,112.8V115.3M145.4,112.8h2.4M145.4,115.3h2.4M149.8,112.5V115.0M148.6,112.5h2.4M148.6,115.0h2.4M153.1,112.0V114.6M151.9,112.0h2.4M151.9,114.6h2.4M156.3,111.5V114.2M155.1,111.5h2.4M155.1,114.2h2.4M159.5,110.9V113.7M158.3,110.9h2.4M158.3,113.7h2.4M162.7,110.3V113.1M161.5,110.3h2.4M161.5,113.1h2.4M166.0,109.6V112.5M164.8,109.6h2.4M164.8,112.5h2.4M169.2,108.9V111.9M168.0,108.9h2.4M168.0,111.9h2.4M172.4,108.1V111.1M171.2,108.1h2.4M171.2,111.1h2.4M175.6,107.1V110.3M174.4,107.1h2.4M174.4,110.3h2.4M178.9,106.2V109.4M177.7,106.2h2.4M177.7,109.4h2.4M182.1,105.2V108.5M180.9,105.2h2.4M180.9,108.5h2.4M185.3,104.2V107.6M184.1,104.2h2.4M184.1,107.6h2.4M188.5,103.3V106.7M187.3,103.3h2.4M187.3,106.7h2.4M191.8,102.3V105.8M190.6,102.3h2.4M190.6,105.8h2.4M195.0,101.3V104.9M193.8,101.3h2.4M193.8,104.9h2.4M198.2,100.4V104.0M197.0,100.4h2.4M197.0,104.0h2.4M201.4,99.4V103.1M200.2,99.4h2.4M200.2,103.1h2.4M204.7,98.4V102.2M203.5,98.4h2.4M203.5,102.2h2.4M207.9,97.5V101.4M206.7,97.5h2.4M206.7,101.4h2.4M211.1,96.5V100.5M209.9,96.5h2.4M209.9,100.5h2.4M214.3,95.6V99.6M213.1,95.6h2.4M213.1,99.6h2.4M217.6,94.6V98.7M216.4,94.6h2.4M216.4,98.7h2.4M220.8,93.3V97.5M219.6,93.3h2.4M219.6,97.5h2.4M224.0,91.9V96.2M222.8,91.9h2.4M222.8,96.2h2.4M227.2,90.6V95.0M226.0,90.6h2.4M226.0,95.0h2.4M230.5,90.0V94.4M229.3,90.0h2.4M229.3,94.4h2.4M233.7,108.5V113.3M232.5,108.5h2.4M232.5,113.3h2.4M236.9,107.5V112.7M235.7,107.5h2.4M235.7,112.7h2.4M240.1,104.8V110.1M238.9,104.8h2.4M238.9,110.1h2.4M243.4,102.2V107.5M242.2,102.2h2.4M242.2,107.5h2.4M246.6,100.4V105.7M245.4,100.4h2.4M245.4,105.7h2.4M249.8,98.8V104.2M248.6,98.8h2.4M248.6,104.2h2.4M253.0,97.3V102.7M251.8,97.3h2.4M251.8,102.7h2.4M256.3,95.8V101.3M255.1,95.8h2.4M255.1,101.3h2.4M259.5,94.2V99.8M258.3,94.2h2.4M258.3,99.8h2.4M262.7,92.6V98.1M261.5,92.6h2.4M261.5,98.1h2.4M265.9,90.9V96.5M264.7,90.9h2.4M264.7,96.5h2.4M269.2,89.2V94.8M268.0,89.2h2.4M268.0,94.8h2.4M272.4,87.4V93.1M271.2,87.4h2.4M271.2,93.1h2.4M275.6,85.6V91.4M274.4,85.6h2.4M274.4,91.4h2.4M278.9,83.8V89.6M277.7,83.8h2.4M277.7,89.6h2.4M282.1,82.1V87.9M280.9,82.1h2.4M280.9,87.9h2.4M285.3,80.2V86.1M284.1,80.2h2.4M284.1,86.1h2.4M288.5,78.3V84.2M287.3,78.3h2.4M287.3,84.2h2.4M291.8,76.2V82.1M290.6,76.2h2.4M290.6,82.1h2.4M295.0,73.8V79.8M293.8,73.8h2.4M293.8,79.8h2.4M298.2,71.2V77.2M297.0,71.2h2.4M297.0,77.2h2.4M301.4,68.5V74.6M300.2,68.5h2.4M300.2,74.6h2.4M304.7,65.8V72.0M303.5,65.8h2.4M303.5,72.0h2.4M307.9,63.2V69.4M306.7,63.2h2.4M306.7,69.4h2.4M311.1,60.7V67.0M309.9,60.7h2.4M309.9,67.0h2.4M314.3,58.2V64.5M313.1,58.2h2.4M313.1,64.5h2.4M317.6,55.7V62.1M316.4,55.7h2.4M316.4,62.1h2.4M320.8,53.3V59.7M319.6,53.3h2.4M319.6,59.7h2.4M324.0,50.8V57.2M322.8,50.8h2.4M322.8,57.2h2.4M327.2,48.3V54.8M326.0,48.3h2.4M326.0,54.8h2.4M330.5,45.7V52.2M329.3,45.7h2.4M329.3,52.2h2.4M333.7,43.0V49.6M332.5,43.0h2.4M332.5,49.6h2.4M336.9,40.5V47.1M335.7,40.5h2.4M335.7,47.1h2.4M340.1,38.2V44.8M338.9,38.2h2.4M338.9,44.8h2.4M343.4,36.1V42.8M342.2,36.1h2.4M342.2,42.8h2.4M346.6,34.1V40.8M345.4,34.1h2.4M345.4,40.8h2.4M349.8,32.2V39.0M348.6,32.2h2.4M348.6,39.0h2.4M353.0,30.5V37.3M351.8,30.5h2.4M351.8,37.3h2.4M356.3,29.1V36.0M355.1,29.1h2.4M355.1,36.0h2.4M359.5,28.1V35.0M358.3,28.1h2.4M358.3,35.0h2.4M362.7,27.1V34.1M361.5,27.1h2.4M361.5,34.1h2.4M365.9,26.3V33.4M364.7,26.3h2.4M364.7,33.4h2.4M369.2,25.7V32.8M368.0,25.7h2.4M368.0,32.8h2.4M372.4,25.3V32.4M371.2,25.3h2.4M371.2,32.4h2.4M375.6,25.0V32.2M374.4,25.0h2.4M374.4,32.2h2.4M378.8,24.9V32.1M377.6,24.9h2.4M377.6,32.1h2.4M382.1,24.7V32.0M380.9,24.7h2.4M380.9,32.0h2.4M385.3,24.6V31.9M384.1,24.6h2.4M384.1,31.9h2.4M388.5,24.4V31.8M387.3,24.4h2.4M387.3,31.8h2.4" stroke="#c9a3aa" stroke-width="0.75" stroke-opacity="0.9" fill="none"/>
<path d="M107.9,118.9V120.4M106.7,118.9h2.4M106.7,120.4h2.4M111.1,115.2V116.7M109.9,115.2h2.4M109.9,116.7h2.4M114.4,114.4V116.0M113.2,114.4h2.4M113.2,116.0h2.4M117.6,113.8V115.5M116.4,113.8h2.4M116.4,115.5h2.4M120.8,113.4V115.1M119.6,113.4h2.4M119.6,115.1h2.4M124.0,113.1V114.8M122.8,113.1h2.4M122.8,114.8h2.4M127.3,112.7V114.6M126.1,112.7h2.4M126.1,114.6h2.4M130.5,112.4V114.3M129.3,112.4h2.4M129.3,114.3h2.4M133.7,112.1V114.1M132.5,112.1h2.4M132.5,114.1h2.4M136.9,111.9V113.9M135.7,111.9h2.4M135.7,113.9h2.4M140.2,111.6V113.7M139.0,111.6h2.4M139.0,113.7h2.4M143.4,111.3V113.4M142.2,111.3h2.4M142.2,113.4h2.4M146.6,111.0V113.1M145.4,111.0h2.4M145.4,113.1h2.4M149.8,110.6V112.8M148.6,110.6h2.4M148.6,112.8h2.4M153.1,110.1V112.3M151.9,110.1h2.4M151.9,112.3h2.4M156.3,109.6V111.9M155.1,109.6h2.4M155.1,111.9h2.4M159.5,109.0V111.3M158.3,109.0h2.4M158.3,111.3h2.4M162.7,108.3V110.8M161.5,108.3h2.4M161.5,110.8h2.4M166.0,107.7V110.2M164.8,107.7h2.4M164.8,110.2h2.4M169.2,106.9V109.5M168.0,106.9h2.4M168.0,109.5h2.4M172.4,106.1V108.7M171.2,106.1h2.4M171.2,108.7h2.4M175.6,105.1V107.8M174.4,105.1h2.4M174.4,107.8h2.4M178.9,104.1V106.9M177.7,104.1h2.4M177.7,106.9h2.4M182.1,103.0V105.9M180.9,103.0h2.4M180.9,105.9h2.4M185.3,102.0V105.1M184.1,102.0h2.4M184.1,105.1h2.4M188.5,101.1V104.2M187.3,101.1h2.4M187.3,104.2h2.4M191.8,100.1V103.3M190.6,100.1h2.4M190.6,103.3h2.4M195.0,99.0V102.4M193.8,99.0h2.4M193.8,102.4h2.4M198.2,98.0V101.4M197.0,98.0h2.4M197.0,101.4h2.4M201.4,97.0V100.5M200.2,97.0h2.4M200.2,100.5h2.4M204.7,96.0V99.6M203.5,96.0h2.4M203.5,99.6h2.4M207.9,95.0V98.7M206.7,95.0h2.4M206.7,98.7h2.4M211.1,94.0V97.8M209.9,94.0h2.4M209.9,97.8h2.4M214.3,93.0V96.9M213.1,93.0h2.4M213.1,96.9h2.4M217.6,92.0V96.0M216.4,92.0h2.4M216.4,96.0h2.4M220.8,90.7V94.8M219.6,90.7h2.4M219.6,94.8h2.4M224.0,89.2V93.4M222.8,89.2h2.4M222.8,93.4h2.4M227.2,87.9V92.2M226.0,87.9h2.4M226.0,92.2h2.4M230.5,87.2V91.6M229.3,87.2h2.4M229.3,91.6h2.4M233.7,107.2V112.0M232.5,107.2h2.4M232.5,112.0h2.4M236.9,106.5V111.7M235.7,106.5h2.4M235.7,111.7h2.4M240.1,103.5V108.7M238.9,103.5h2.4M238.9,108.7h2.4M243.4,100.4V105.7M242.2,100.4h2.4M242.2,105.7h2.4M246.6,98.4V103.7M245.4,98.4h2.4M245.4,103.7h2.4M249.8,96.6V102.0M248.6,96.6h2.4M248.6,102.0h2.4M253.0,95.0V100.4M251.8,95.0h2.4M251.8,100.4h2.4M256.3,93.4V98.8M255.1,93.4h2.4M255.1,98.8h2.4M259.5,91.6V97.2M258.3,91.6h2.4M258.3,97.2h2.4M262.7,89.8V95.4M261.5,89.8h2.4M261.5,95.4h2.4M265.9,87.9V93.5M264.7,87.9h2.4M264.7,93.5h2.4M269.2,85.9V91.6M268.0,85.9h2.4M268.0,91.6h2.4M272.4,83.9V89.6M271.2,83.9h2.4M271.2,89.6h2.4M275.6,81.8V87.6M274.4,81.8h2.4M274.4,87.6h2.4M278.9,79.7V85.5M277.7,79.7h2.4M277.7,85.5h2.4M282.1,77.5V83.3M280.9,77.5h2.4M280.9,83.3h2.4M285.3,75.2V81.1M284.1,75.2h2.4M284.1,81.1h2.4M288.5,72.9V78.8M287.3,72.9h2.4M287.3,78.8h2.4M291.8,70.6V76.5M290.6,70.6h2.4M290.6,76.5h2.4M295.0,68.1V74.1M293.8,68.1h2.4M293.8,74.1h2.4M298.2,65.5V71.6M297.0,65.5h2.4M297.0,71.6h2.4M301.4,63.0V69.1M300.2,63.0h2.4M300.2,69.1h2.4M304.7,60.5V66.7M303.5,60.5h2.4M303.5,66.7h2.4M307.9,58.1V64.3M306.7,58.1h2.4M306.7,64.3h2.4M311.1,55.7V62.0M309.9,55.7h2.4M309.9,62.0h2.4M314.3,53.3V59.6M313.1,53.3h2.4M313.1,59.6h2.4M317.6,51.0V57.4M316.4,51.0h2.4M316.4,57.4h2.4M320.8,48.9V55.3M319.6,48.9h2.4M319.6,55.3h2.4M324.0,47.0V53.4M322.8,47.0h2.4M322.8,53.4h2.4M327.2,45.3V51.8M326.0,45.3h2.4M326.0,51.8h2.4M330.5,43.8V50.3M329.3,43.8h2.4M329.3,50.3h2.4M333.7,42.4V49.0M332.5,42.4h2.4M332.5,49.0h2.4M336.9,41.2V47.8M335.7,41.2h2.4M335.7,47.8h2.4M340.1,40.2V46.9M338.9,40.2h2.4M338.9,46.9h2.4M343.4,39.5V46.2M342.2,39.5h2.4M342.2,46.2h2.4M346.6,38.8V45.5M345.4,38.8h2.4M345.4,45.5h2.4M349.8,38.2V45.0M348.6,38.2h2.4M348.6,45.0h2.4M353.0,37.7V44.5M351.8,37.7h2.4M351.8,44.5h2.4M356.3,37.3V44.2M355.1,37.3h2.4M355.1,44.2h2.4M359.5,37.0V44.0M358.3,37.0h2.4M358.3,44.0h2.4M362.7,36.8V43.8M361.5,36.8h2.4M361.5,43.8h2.4M365.9,36.6V43.6M364.7,36.6h2.4M364.7,43.6h2.4M369.2,36.4V43.5M368.0,36.4h2.4M368.0,43.5h2.4M372.4,36.3V43.5M371.2,36.3h2.4M371.2,43.5h2.4M375.6,36.4V43.5M374.4,36.4h2.4M374.4,43.5h2.4M378.8,36.4V43.7M377.6,36.4h2.4M377.6,43.7h2.4M382.1,36.6V43.8M380.9,36.6h2.4M380.9,43.8h2.4M385.3,36.7V44.0M384.1,36.7h2.4M384.1,44.0h2.4M388.5,36.9V44.2M387.3,36.9h2.4M387.3,44.2h2.4" stroke="#3fae7c" stroke-width="0.75" stroke-opacity="0.9" fill="none"/>
<path d="M107.9,118.5V120.7M106.7,118.5h2.4M106.7,120.7h2.4M111.1,115.0V117.3M109.9,115.0h2.4M109.9,117.3h2.4M114.4,114.3V116.6M113.2,114.3h2.4M113.2,116.6h2.4M117.6,114.0V116.4M116.4,114.0h2.4M116.4,116.4h2.4M120.8,113.8V116.2M119.6,113.8h2.4M119.6,116.2h2.4M124.0,113.6V116.1M122.8,113.6h2.4M122.8,116.1h2.4M127.3,113.4V115.9M126.1,113.4h2.4M126.1,115.9h2.4M130.5,113.2V115.7M129.3,113.2h2.4M129.3,115.7h2.4M133.7,113.0V115.6M132.5,113.0h2.4M132.5,115.6h2.4M136.9,112.7V115.4M135.7,112.7h2.4M135.7,115.4h2.4M140.2,112.5V115.2M139.0,112.5h2.4M139.0,115.2h2.4M143.4,112.3V115.0M142.2,112.3h2.4M142.2,115.0h2.4M146.6,112.0V114.8M145.4,112.0h2.4M145.4,114.8h2.4M149.8,111.6V114.5M148.6,111.6h2.4M148.6,114.5h2.4M153.1,111.2V114.1M151.9,111.2h2.4M151.9,114.1h2.4M156.3,110.6V113.6M155.1,110.6h2.4M155.1,113.6h2.4M159.5,110.0V113.0M158.3,110.0h2.4M158.3,113.0h2.4M162.7,109.4V112.4M161.5,109.4h2.4M161.5,112.4h2.4M166.0,108.7V111.8M164.8,108.7h2.4M164.8,111.8h2.4M169.2,108.0V111.1M168.0,108.0h2.4M168.0,111.1h2.4M172.4,107.1V110.3M171.2,107.1h2.4M171.2,110.3h2.4M175.6,106.2V109.4M174.4,106.2h2.4M174.4,109.4h2.4M178.9,105.2V108.5M177.7,105.2h2.4M177.7,108.5h2.4M182.1,104.2V107.6M180.9,104.2h2.4M180.9,107.6h2.4M185.3,103.2V106.6M184.1,103.2h2.4M184.1,106.6h2.4M188.5,102.3V105.7M187.3,102.3h2.4M187.3,105.7h2.4M191.8,101.3V104.8M190.6,101.3h2.4M190.6,104.8h2.4M195.0,100.3V103.9M193.8,100.3h2.4M193.8,103.9h2.4M198.2,99.4V102.9M197.0,99.4h2.4M197.0,102.9h2.4M201.4,98.4V102.0M200.2,98.4h2.4M200.2,102.0h2.4M204.7,97.4V101.1M203.5,97.4h2.4M203.5,101.1h2.4M207.9,96.4V100.2M206.7,96.4h2.4M206.7,100.2h2.4M211.1,95.5V99.3M209.9,95.5h2.4M209.9,99.3h2.4M214.3,94.5V98.3M213.1,94.5h2.4M213.1,98.3h2.4M217.6,93.5V97.4M216.4,93.5h2.4M216.4,97.4h2.4M220.8,92.2V96.2M219.6,92.2h2.4M219.6,96.2h2.4M224.0,90.8V94.8M222.8,90.8h2.4M222.8,94.8h2.4M227.2,89.5V93.6M226.0,89.5h2.4M226.0,93.6h2.4M230.5,88.9V92.9M229.3,88.9h2.4M229.3,92.9h2.4M233.7,103.5V108.2M232.5,103.5h2.4M232.5,108.2h2.4M236.9,101.9V107.1M235.7,101.9h2.4M235.7,107.1h2.4M240.1,99.3V104.6M238.9,99.3h2.4M238.9,104.6h2.4M243.4,96.4V101.9M242.2,96.4h2.4M242.2,101.9h2.4M246.6,94.3V99.9M245.4,94.3h2.4M245.4,99.9h2.4M249.8,92.3V98.0M248.6,92.3h2.4M248.6,98.0h2.4M253.0,90.4V96.2M251.8,90.4h2.4M251.8,96.2h2.4M256.3,88.5V94.4M255.1,88.5h2.4M255.1,94.4h2.4M259.5,86.5V92.6M258.3,86.5h2.4M258.3,92.6h2.4M262.7,84.5V90.7M261.5,84.5h2.4M261.5,90.7h2.4M265.9,82.5V88.8M264.7,82.5h2.4M264.7,88.8h2.4M269.2,80.4V86.9M268.0,80.4h2.4M268.0,86.9h2.4M272.4,78.4V84.9M271.2,78.4h2.4M271.2,84.9h2.4M275.6,76.2V82.9M274.4,76.2h2.4M274.4,82.9h2.4M278.9,74.1V80.8M277.7,74.1h2.4M277.7,80.8h2.4M282.1,72.0V78.6M280.9,72.0h2.4M280.9,78.6h2.4M285.3,69.7V76.4M284.1,69.7h2.4M284.1,76.4h2.4M288.5,67.4V74.1M287.3,67.4h2.4M287.3,74.1h2.4M291.8,65.1V71.7M290.6,65.1h2.4M290.6,71.7h2.4M295.0,62.5V69.1M293.8,62.5h2.4M293.8,69.1h2.4M298.2,59.8V66.4M297.0,59.8h2.4M297.0,66.4h2.4M301.4,57.1V63.7M300.2,57.1h2.4M300.2,63.7h2.4M304.7,54.5V61.1M303.5,54.5h2.4M303.5,61.1h2.4M307.9,52.1V58.6M306.7,52.1h2.4M306.7,58.6h2.4M311.1,49.7V56.3M309.9,49.7h2.4M309.9,56.3h2.4M314.3,47.5V54.0M313.1,47.5h2.4M313.1,54.0h2.4M317.6,45.3V51.8M316.4,45.3h2.4M316.4,51.8h2.4M320.8,43.1V49.6M319.6,43.1h2.4M319.6,49.6h2.4M324.0,41.0V47.5M322.8,41.0h2.4M322.8,47.5h2.4M327.2,38.9V45.4M326.0,38.9h2.4M326.0,45.4h2.4M330.5,36.8V43.3M329.3,36.8h2.4M329.3,43.3h2.4M333.7,34.7V41.2M332.5,34.7h2.4M332.5,41.2h2.4M336.9,32.8V39.2M335.7,32.8h2.4M335.7,39.2h2.4M340.1,30.9V37.3M338.9,30.9h2.4M338.9,37.3h2.4M343.4,29.1V35.5M342.2,29.1h2.4M342.2,35.5h2.4M346.6,27.5V33.9M345.4,27.5h2.4M345.4,33.9h2.4M349.8,25.9V32.3M348.6,25.9h2.4M348.6,32.3h2.4M353.0,24.4V30.7M351.8,24.4h2.4M351.8,30.7h2.4M356.3,23.0V29.3M355.1,23.0h2.4M355.1,29.3h2.4M359.5,21.6V28.0M358.3,21.6h2.4M358.3,28.0h2.4M362.7,20.2V26.6M361.5,20.2h2.4M361.5,26.6h2.4M365.9,18.9V25.2M364.7,18.9h2.4M364.7,25.2h2.4M369.2,18.1V24.1M368.0,18.1h2.4M368.0,24.1h2.4M372.4,17.7V23.3M371.2,17.7h2.4M371.2,23.3h2.4M375.6,17.6V22.9M374.4,17.6h2.4M374.4,22.9h2.4M378.8,17.6V22.6M377.6,17.6h2.4M377.6,22.6h2.4M382.1,17.7V22.3M380.9,17.7h2.4M380.9,22.3h2.4M385.3,17.8V22.1M384.1,17.8h2.4M384.1,22.1h2.4M388.5,17.9V21.9M387.3,17.9h2.4M387.3,21.9h2.4" stroke="#3b4ba6" stroke-width="0.75" stroke-opacity="0.9" fill="none"/>
<path d="M107.9,119.6 L109.2,117.4 L109.8,116.8 L110.5,116.6 L111.8,116.2 L113.0,116.0 L114.3,116.0 L114.4,116.0 L115.6,116.0 L116.9,116.0 L118.2,116.0 L119.5,116.0 L120.7,116.0 L122.0,116.0 L123.3,116.0 L124.6,116.0 L125.9,116.0 L127.2,116.0 L127.3,116.0 L128.4,116.0 L129.7,116.0 L131.0,116.0 L132.3,116.0 L133.6,116.0 L134.9,115.9 L136.2,115.9 L137.4,115.8 L138.7,115.8 L140.0,115.7 L141.3,115.6 L142.6,115.6 L143.9,115.5 L145.1,115.4 L146.4,115.4 L146.6,115.3 L147.7,115.3 L149.0,115.2 L150.3,115.0 L151.6,114.9 L152.9,114.7 L154.1,114.5 L155.4,114.3 L156.7,114.1 L158.0,113.9 L159.3,113.7 L160.6,113.4 L161.8,113.2 L163.1,112.9 L164.4,112.7 L165.7,112.4 L166.0,112.4 L167.0,112.2 L168.3,111.9 L169.5,111.6 L170.8,111.3 L172.1,111.0 L173.4,110.6 L174.7,110.3 L176.0,109.9 L177.3,109.5 L178.5,109.1 L179.8,108.8 L181.1,108.4 L182.4,108.0 L183.7,107.7 L185.0,107.3 L185.3,107.2 L186.2,106.9 L187.5,106.6 L188.8,106.2 L190.1,105.8 L191.4,105.5 L192.7,105.1 L194.0,104.7 L195.2,104.4 L196.5,104.0 L197.8,103.6 L199.1,103.2 L200.4,102.9 L201.7,102.5 L202.9,102.1 L204.2,101.8 L204.7,101.6 L205.5,101.4 L206.8,101.0 L208.1,100.7 L209.4,100.3 L210.6,99.9 L211.9,99.6 L213.2,99.2 L214.5,98.8 L215.8,98.5 L217.1,98.1 L217.6,97.9 L218.4,97.7 L219.6,97.2 L220.9,96.7 L222.2,96.1 L223.5,95.5 L224.8,95.0 L226.1,94.5 L227.3,94.1 L228.6,93.8 L229.9,93.5 L231.1,93.5 L231.2,93.8 L231.9,105.5 L232.5,108.1 L233.8,111.0 L234.0,111.1 L235.0,111.0 L236.3,110.6 L237.6,110.0 L238.9,109.2 L240.2,108.4 L241.5,107.6 L242.8,106.8 L244.0,106.3 L244.0,106.3 L245.3,105.8 L246.6,105.4 L247.9,105.0 L249.2,104.6 L250.5,104.2 L251.7,103.9 L253.0,103.6 L254.3,103.2 L255.6,102.9 L256.9,102.5 L258.2,102.2 L259.5,101.8 L259.5,101.8 L260.7,101.5 L262.0,101.1 L263.3,100.8 L264.6,100.4 L265.9,100.1 L267.2,99.8 L268.4,99.5 L269.7,99.1 L271.0,98.8 L272.3,98.4 L273.6,98.1 L274.9,97.7 L276.1,97.3 L277.4,96.9 L278.7,96.4 L280.0,95.9 L280.1,95.9 L281.3,95.4 L282.6,94.9 L283.9,94.3 L285.1,93.6 L286.4,92.9 L287.7,92.2 L289.0,91.5 L290.3,90.7 L291.6,89.9 L292.8,89.1 L294.1,88.3 L295.4,87.6 L296.7,86.8 L297.6,86.2 L298.0,86.0 L299.3,85.2 L300.6,84.4 L301.8,83.6 L303.1,82.8 L304.4,82.0 L305.7,81.2 L307.0,80.3 L308.3,79.5 L309.5,78.6 L310.8,77.7 L312.1,76.8 L313.4,75.9 L314.7,75.0 L315.0,74.8 L316.0,74.0 L317.2,73.1 L318.5,72.1 L319.8,71.1 L321.1,70.1 L322.4,69.0 L323.7,68.0 L325.0,66.9 L326.2,65.9 L327.5,64.8 L328.8,63.7 L330.1,62.6 L331.4,61.5 L332.4,60.7 L332.7,60.4 L333.9,59.3 L335.2,58.2 L336.5,57.1 L337.8,55.9 L339.1,54.7 L340.4,53.5 L341.6,52.3 L342.9,51.2 L344.2,50.0 L345.5,48.8 L346.8,47.7 L348.1,46.6 L349.4,45.5 L349.8,45.1 L350.6,44.4 L351.9,43.4 L353.2,42.3 L354.5,41.3 L355.8,40.3 L357.1,39.3 L358.3,38.3 L359.6,37.3 L360.9,36.4 L362.2,35.4 L363.5,34.4 L364.8,33.4 L366.1,32.4 L367.3,31.4 L367.9,31.0 L368.6,30.4 L369.9,29.3 L371.2,28.1 L372.5,26.9 L373.8,25.8 L375.0,24.7 L376.3,23.8 L377.6,23.1 L378.2,22.9 L378.9,22.6 L380.2,22.2 L381.5,21.8 L382.7,21.5 L384.0,21.2 L385.3,21.0 L386.6,20.7 L387.9,20.5 L389.2,20.2 L390.5,19.9" stroke="#e23a44" stroke-width="1.9" fill="none" stroke-linejoin="round"/>
<path d="M107.9,119.6 L109.2,117.3 L109.8,116.6 L110.5,116.3 L111.8,115.8 L113.0,115.6 L114.3,115.4 L114.4,115.3 L115.6,115.2 L116.9,115.0 L118.2,114.9 L119.5,114.8 L120.7,114.7 L122.0,114.6 L123.3,114.5 L124.6,114.4 L125.9,114.3 L127.2,114.2 L127.3,114.2 L128.4,114.1 L129.7,114.1 L131.0,114.0 L132.3,113.9 L133.6,113.8 L134.9,113.7 L136.2,113.7 L137.4,113.6 L138.7,113.5 L140.0,113.4 L141.3,113.4 L142.6,113.3 L143.9,113.2 L145.1,113.1 L146.4,113.0 L146.6,112.9 L147.7,112.8 L149.0,112.7 L150.3,112.5 L151.6,112.4 L152.9,112.2 L154.1,112.0 L155.4,111.8 L156.7,111.6 L158.0,111.4 L159.3,111.2 L160.6,111.0 L161.8,110.8 L163.1,110.5 L164.4,110.3 L165.7,110.0 L166.0,110.0 L167.0,109.8 L168.3,109.5 L169.5,109.2 L170.8,108.9 L172.1,108.5 L173.4,108.2 L174.7,107.8 L176.0,107.5 L177.3,107.1 L178.5,106.7 L179.8,106.4 L181.1,106.0 L182.4,105.6 L183.7,105.2 L185.0,104.9 L185.3,104.8 L186.2,104.5 L187.5,104.2 L188.8,103.8 L190.1,103.4 L191.4,103.1 L192.7,102.7 L194.0,102.3 L195.2,102.0 L196.5,101.6 L197.8,101.2 L199.1,100.8 L200.4,100.5 L201.7,100.1 L202.9,99.7 L204.2,99.4 L204.7,99.2 L205.5,99.0 L206.8,98.6 L208.1,98.3 L209.4,97.9 L210.6,97.5 L211.9,97.2 L213.2,96.8 L214.5,96.4 L215.8,96.1 L217.1,95.7 L217.6,95.5 L218.4,95.3 L219.6,94.8 L220.9,94.3 L222.2,93.7 L223.5,93.1 L224.8,92.6 L226.1,92.1 L227.3,91.7 L228.6,91.3 L229.9,91.1 L231.1,91.1 L231.2,91.4 L231.9,103.7 L232.5,106.7 L233.8,110.2 L234.0,110.3 L235.0,110.2 L236.3,109.7 L237.6,109.0 L238.9,108.1 L240.2,107.1 L241.5,106.1 L242.8,105.2 L244.0,104.4 L244.0,104.4 L245.3,103.8 L246.6,103.2 L247.9,102.6 L249.2,102.0 L250.5,101.5 L251.7,101.0 L253.0,100.5 L254.3,99.9 L255.6,99.4 L256.9,98.9 L258.2,98.3 L259.5,97.8 L259.5,97.7 L260.7,97.2 L262.0,96.6 L263.3,96.0 L264.6,95.4 L265.9,94.8 L267.2,94.2 L268.4,93.6 L269.7,92.9 L271.0,92.3 L272.3,91.7 L273.6,91.0 L274.9,90.4 L275.0,90.3 L276.1,89.7 L277.4,89.1 L278.7,88.4 L280.0,87.7 L281.3,87.1 L282.6,86.4 L283.9,85.7 L285.1,85.0 L286.4,84.2 L287.7,83.5 L289.0,82.7 L290.3,81.9 L291.1,81.4 L291.6,81.1 L292.8,80.3 L294.1,79.4 L295.4,78.6 L296.7,77.6 L298.0,76.7 L299.3,75.8 L300.6,74.8 L301.8,73.8 L303.1,72.9 L304.4,71.9 L305.7,71.0 L306.6,70.3 L307.0,70.0 L308.3,69.1 L309.5,68.2 L310.8,67.2 L312.1,66.3 L313.4,65.3 L314.7,64.3 L316.0,63.4 L317.2,62.4 L318.5,61.5 L319.8,60.6 L321.1,59.6 L322.4,58.7 L323.7,57.8 L325.0,56.9 L325.9,56.2 L326.2,56.0 L327.5,55.1 L328.8,54.3 L330.1,53.4 L331.4,52.5 L332.7,51.7 L333.9,50.9 L335.2,50.0 L336.5,49.2 L337.8,48.4 L339.1,47.6 L340.4,46.8 L341.4,46.2 L341.6,46.1 L342.9,45.3 L344.2,44.6 L345.5,43.8 L346.8,43.1 L348.1,42.3 L349.4,41.6 L350.6,40.9 L351.9,40.2 L353.2,39.6 L354.5,39.0 L355.8,38.4 L357.1,37.9 L357.6,37.7 L358.3,37.4 L359.6,36.9 L360.9,36.4 L362.2,36.0 L363.5,35.5 L364.8,35.1 L366.1,34.7 L367.3,34.4 L368.6,34.0 L369.9,33.7 L371.2,33.5 L372.5,33.3 L373.0,33.2 L373.8,33.2 L375.0,33.0 L376.3,32.9 L377.6,32.8 L378.9,32.8 L380.2,32.7 L381.5,32.6 L382.7,32.5 L384.0,32.5 L385.3,32.4 L386.6,32.3 L387.9,32.3 L389.2,32.2 L390.5,32.1" stroke="#55b947" stroke-width="1.9" fill="none" stroke-linejoin="round"/>
<path d="M107.9,119.6 L109.2,117.4 L109.8,116.7 L110.5,116.4 L111.8,116.0 L113.0,115.8 L114.3,115.6 L114.4,115.6 L115.6,115.5 L116.9,115.5 L118.2,115.4 L119.5,115.3 L120.7,115.3 L122.0,115.3 L123.3,115.2 L124.6,115.2 L125.9,115.1 L127.2,115.1 L127.3,115.1 L128.4,115.0 L129.7,115.0 L131.0,114.9 L132.3,114.8 L133.6,114.8 L134.9,114.7 L136.2,114.7 L137.4,114.6 L138.7,114.5 L140.0,114.5 L141.3,114.4 L142.6,114.3 L143.9,114.3 L145.1,114.2 L146.4,114.1 L146.6,114.1 L147.7,114.0 L149.0,113.8 L150.3,113.7 L151.6,113.5 L152.9,113.4 L154.1,113.2 L155.4,113.0 L156.7,112.8 L158.0,112.6 L159.3,112.3 L160.6,112.1 L161.8,111.9 L163.1,111.6 L164.4,111.4 L165.7,111.1 L166.0,111.1 L167.0,110.9 L168.3,110.6 L169.5,110.3 L170.8,110.0 L172.1,109.7 L173.4,109.3 L174.7,109.0 L176.0,108.6 L177.3,108.2 L178.5,107.9 L179.8,107.5 L181.1,107.1 L182.4,106.7 L183.7,106.4 L185.0,106.0 L185.3,105.9 L186.2,105.6 L187.5,105.3 L188.8,104.9 L190.1,104.5 L191.4,104.2 L192.7,103.8 L194.0,103.4 L195.2,103.1 L196.5,102.7 L197.8,102.3 L199.1,101.9 L200.4,101.6 L201.7,101.2 L202.9,100.8 L204.2,100.5 L204.7,100.3 L205.5,100.1 L206.8,99.7 L208.1,99.4 L209.4,99.0 L210.6,98.6 L211.9,98.3 L213.2,97.9 L214.5,97.5 L215.8,97.2 L217.1,96.8 L217.6,96.6 L218.4,96.4 L219.6,95.9 L220.9,95.4 L222.2,94.8 L223.5,94.2 L224.8,93.7 L226.1,93.2 L227.3,92.8 L228.6,92.5 L229.9,92.2 L231.1,92.2 L231.2,92.5 L231.9,105.5 L232.5,109.1 L233.8,113.2 L234.0,113.3 L235.0,113.2 L236.3,112.6 L237.6,111.8 L238.9,110.7 L240.2,109.6 L241.5,108.5 L242.8,107.4 L244.0,106.6 L244.0,106.6 L245.3,106.0 L246.6,105.3 L247.9,104.7 L249.2,104.2 L250.5,103.6 L251.7,103.1 L253.0,102.6 L254.3,102.1 L255.6,101.6 L256.9,101.1 L258.2,100.5 L259.5,100.0 L259.5,100.0 L260.7,99.4 L262.0,98.9 L263.3,98.4 L264.6,97.8 L265.9,97.3 L267.2,96.8 L268.4,96.2 L269.7,95.7 L271.0,95.1 L272.3,94.6 L273.6,94.0 L274.9,93.4 L275.0,93.3 L276.1,92.7 L277.4,92.1 L278.7,91.4 L280.0,90.7 L281.3,90.0 L282.6,89.3 L283.9,88.5 L285.1,87.8 L286.4,87.0 L287.7,86.2 L289.0,85.4 L290.3,84.6 L291.1,84.0 L291.6,83.7 L292.8,82.9 L294.1,81.9 L295.4,81.0 L296.7,80.0 L298.0,79.1 L299.3,78.1 L300.6,77.0 L301.8,76.0 L303.1,75.0 L304.4,73.9 L305.7,72.9 L306.6,72.2 L307.0,71.9 L308.3,70.8 L309.5,69.7 L310.8,68.6 L312.1,67.5 L313.4,66.4 L314.7,65.3 L316.0,64.2 L317.2,63.1 L318.5,61.9 L319.8,60.8 L321.1,59.7 L322.4,58.5 L323.7,57.4 L325.0,56.3 L325.9,55.5 L326.2,55.2 L327.5,54.1 L328.8,53.0 L330.1,51.9 L331.4,50.7 L332.7,49.6 L333.9,48.4 L335.2,47.3 L336.5,46.3 L337.8,45.2 L339.1,44.2 L340.4,43.3 L341.4,42.5 L341.6,42.4 L342.9,41.5 L344.2,40.6 L345.5,39.8 L346.8,39.0 L348.1,38.2 L349.4,37.5 L350.6,36.7 L351.9,36.0 L353.2,35.3 L354.5,34.7 L355.8,34.1 L357.1,33.5 L357.6,33.2 L358.3,32.9 L359.6,32.3 L360.9,31.8 L362.2,31.2 L363.5,30.7 L364.8,30.1 L366.1,29.6 L367.3,29.2 L368.6,28.8 L369.9,28.4 L371.2,28.0 L372.5,27.8 L373.0,27.7 L373.8,27.6 L375.0,27.4 L376.3,27.2 L377.6,27.0 L378.9,26.9 L380.2,26.8 L381.5,26.6 L382.7,26.5 L384.0,26.4 L385.3,26.3 L386.6,26.2 L387.9,26.1 L389.2,26.0 L390.5,25.8" stroke="#b53d9d" stroke-width="1.9" fill="none" stroke-linejoin="round"/>
<path d="M107.9,119.6 L109.2,117.3 L109.8,116.6 L110.5,116.3 L111.8,115.9 L113.0,115.6 L114.3,115.4 L114.4,115.4 L115.6,115.3 L116.9,115.2 L118.2,115.1 L119.5,115.0 L120.7,114.9 L122.0,114.8 L123.3,114.7 L124.6,114.7 L125.9,114.6 L127.2,114.5 L127.3,114.5 L128.4,114.4 L129.7,114.4 L131.0,114.3 L132.3,114.2 L133.6,114.1 L134.9,114.1 L136.2,114.0 L137.4,113.9 L138.7,113.9 L140.0,113.8 L141.3,113.7 L142.6,113.6 L143.9,113.5 L145.1,113.4 L146.4,113.3 L146.6,113.3 L147.7,113.2 L149.0,113.1 L150.3,112.9 L151.6,112.8 L152.9,112.6 L154.1,112.4 L155.4,112.2 L156.7,112.0 L158.0,111.8 L159.3,111.6 L160.6,111.4 L161.8,111.1 L163.1,110.9 L164.4,110.6 L165.7,110.4 L166.0,110.3 L167.0,110.1 L168.3,109.9 L169.5,109.6 L170.8,109.2 L172.1,108.9 L173.4,108.6 L174.7,108.2 L176.0,107.9 L177.3,107.5 L178.5,107.1 L179.8,106.7 L181.1,106.4 L182.4,106.0 L183.7,105.6 L185.0,105.3 L185.3,105.2 L186.2,104.9 L187.5,104.5 L188.8,104.2 L190.1,103.8 L191.4,103.4 L192.7,103.1 L194.0,102.7 L195.2,102.3 L196.5,102.0 L197.8,101.6 L199.1,101.2 L200.4,100.8 L201.7,100.5 L202.9,100.1 L204.2,99.7 L204.7,99.6 L205.5,99.4 L206.8,99.0 L208.1,98.6 L209.4,98.3 L210.6,97.9 L211.9,97.5 L213.2,97.2 L214.5,96.8 L215.8,96.4 L217.1,96.0 L217.6,95.9 L218.4,95.6 L219.6,95.2 L220.9,94.6 L222.2,94.1 L223.5,93.5 L224.8,93.0 L226.1,92.5 L227.3,92.0 L228.6,91.7 L229.9,91.5 L231.1,91.4 L231.2,91.8 L231.9,103.7 L232.5,106.7 L233.8,110.2 L234.0,110.3 L235.0,110.2 L236.3,109.6 L237.6,108.7 L238.9,107.5 L240.2,106.2 L241.5,105.0 L242.8,103.8 L244.0,102.9 L244.0,102.9 L245.3,102.2 L246.6,101.5 L247.9,100.8 L249.2,100.1 L250.5,99.5 L251.7,98.9 L253.0,98.3 L254.3,97.7 L255.6,97.1 L256.9,96.5 L258.2,95.8 L259.5,95.2 L259.5,95.1 L260.7,94.5 L262.0,93.8 L263.3,93.1 L264.6,92.3 L265.9,91.6 L267.2,90.9 L268.4,90.1 L269.7,89.4 L271.0,88.6 L272.3,87.9 L273.6,87.1 L274.9,86.3 L275.0,86.2 L276.1,85.5 L277.4,84.8 L278.7,84.0 L280.0,83.2 L281.3,82.4 L282.6,81.6 L283.9,80.8 L285.1,80.0 L286.4,79.1 L287.7,78.3 L289.0,77.4 L290.3,76.5 L291.1,75.9 L291.6,75.5 L292.8,74.6 L294.1,73.5 L295.4,72.4 L296.7,71.3 L298.0,70.2 L299.3,69.1 L300.6,67.9 L301.8,66.8 L303.1,65.7 L304.4,64.6 L305.7,63.6 L306.6,62.9 L307.0,62.6 L308.3,61.6 L309.5,60.7 L310.8,59.7 L312.1,58.8 L313.4,57.9 L314.7,56.9 L316.0,56.0 L317.2,55.1 L318.5,54.3 L319.8,53.4 L321.1,52.6 L322.4,51.7 L323.7,50.9 L325.0,50.1 L325.9,49.5 L326.2,49.4 L327.5,48.6 L328.8,47.8 L330.1,47.0 L331.4,46.3 L332.7,45.5 L333.9,44.8 L335.2,44.1 L336.5,43.4 L337.8,42.8 L339.1,42.3 L340.4,41.8 L341.4,41.4 L341.6,41.3 L342.9,40.9 L344.2,40.5 L345.5,40.1 L346.8,39.8 L348.1,39.4 L349.4,39.1 L350.6,38.8 L351.9,38.5 L353.2,38.3 L354.5,38.0 L355.8,37.9 L357.1,37.7 L357.6,37.7 L358.3,37.6 L359.6,37.5 L360.9,37.4 L362.2,37.3 L363.5,37.3 L364.8,37.2 L366.1,37.1 L367.3,37.1 L368.6,37.0 L369.9,37.0 L371.2,37.0 L372.5,36.9 L373.0,36.9 L373.8,36.9 L375.0,37.0 L376.3,37.0 L377.6,37.0 L378.9,37.1 L380.2,37.1 L381.5,37.2 L382.7,37.3 L384.0,37.4 L385.3,37.4 L386.6,37.5 L387.9,37.6 L389.2,37.6 L390.5,37.7" stroke="#5bc6e6" stroke-width="1.9" fill="none" stroke-linejoin="round"/>
<path d="M107.9,119.6 L109.2,117.3 L109.8,116.6 L110.5,116.4 L111.8,116.0 L113.0,115.7 L114.3,115.5 L114.4,115.5 L115.6,115.4 L116.9,115.3 L118.2,115.2 L119.5,115.2 L120.7,115.1 L122.0,115.0 L123.3,115.0 L124.6,114.9 L125.9,114.9 L127.2,114.8 L127.3,114.8 L128.4,114.7 L129.7,114.7 L131.0,114.6 L132.3,114.5 L133.6,114.5 L134.9,114.4 L136.2,114.3 L137.4,114.3 L138.7,114.2 L140.0,114.1 L141.3,114.1 L142.6,114.0 L143.9,113.9 L145.1,113.8 L146.4,113.7 L146.6,113.7 L147.7,113.6 L149.0,113.5 L150.3,113.3 L151.6,113.2 L152.9,113.0 L154.1,112.8 L155.4,112.6 L156.7,112.4 L158.0,112.2 L159.3,112.0 L160.6,111.7 L161.8,111.5 L163.1,111.3 L164.4,111.0 L165.7,110.8 L166.0,110.7 L167.0,110.5 L168.3,110.2 L169.5,109.9 L170.8,109.6 L172.1,109.3 L173.4,108.9 L174.7,108.6 L176.0,108.2 L177.3,107.9 L178.5,107.5 L179.8,107.1 L181.1,106.7 L182.4,106.4 L183.7,106.0 L185.0,105.6 L185.3,105.5 L186.2,105.3 L187.5,104.9 L188.8,104.5 L190.1,104.2 L191.4,103.8 L192.7,103.4 L194.0,103.1 L195.2,102.7 L196.5,102.3 L197.8,102.0 L199.1,101.6 L200.4,101.2 L201.7,100.8 L202.9,100.5 L204.2,100.1 L204.7,100.0 L205.5,99.7 L206.8,99.4 L208.1,99.0 L209.4,98.6 L210.6,98.3 L211.9,97.9 L213.2,97.5 L214.5,97.2 L215.8,96.8 L217.1,96.4 L217.6,96.3 L218.4,96.0 L219.6,95.5 L220.9,95.0 L222.2,94.4 L223.5,93.9 L224.8,93.3 L226.1,92.8 L227.3,92.4 L228.6,92.1 L229.9,91.9 L231.1,91.8 L231.2,92.1 L231.9,102.9 L232.5,105.8 L233.8,109.1 L234.0,109.2 L235.0,109.1 L236.3,108.5 L237.6,107.6 L238.9,106.4 L240.2,105.2 L241.5,103.9 L242.8,102.8 L244.0,101.8 L244.0,101.8 L245.3,101.0 L246.6,100.2 L247.9,99.5 L249.2,98.8 L250.5,98.1 L251.7,97.4 L253.0,96.7 L254.3,96.0 L255.6,95.3 L256.9,94.7 L258.2,94.0 L259.5,93.3 L259.5,93.3 L260.7,92.6 L262.0,92.0 L263.3,91.3 L264.6,90.6 L265.9,90.0 L267.2,89.3 L268.4,88.7 L269.7,88.0 L271.0,87.3 L272.3,86.6 L273.6,85.9 L274.9,85.2 L275.0,85.1 L276.1,84.5 L277.4,83.7 L278.7,82.9 L280.0,82.1 L281.3,81.3 L282.6,80.5 L283.9,79.7 L285.1,78.8 L286.4,78.0 L287.7,77.1 L289.0,76.2 L290.3,75.3 L291.1,74.8 L291.6,74.4 L292.8,73.5 L294.1,72.5 L295.4,71.6 L296.7,70.6 L298.0,69.5 L299.3,68.5 L300.6,67.5 L301.8,66.5 L303.1,65.5 L304.4,64.5 L305.7,63.6 L306.6,62.9 L307.0,62.6 L308.3,61.7 L309.5,60.8 L310.8,59.9 L312.1,59.0 L313.4,58.1 L314.7,57.3 L316.0,56.4 L317.2,55.5 L318.5,54.7 L319.8,53.9 L321.1,53.0 L322.4,52.2 L323.7,51.4 L325.0,50.5 L325.9,49.9 L326.2,49.7 L327.5,48.9 L328.8,48.1 L330.1,47.3 L331.4,46.5 L332.7,45.7 L333.9,44.9 L335.2,44.1 L336.5,43.4 L337.8,42.6 L339.1,41.9 L340.4,41.2 L341.4,40.7 L341.6,40.5 L342.9,39.9 L344.2,39.2 L345.5,38.5 L346.8,37.9 L348.1,37.2 L349.4,36.6 L350.6,36.0 L351.9,35.4 L353.2,34.8 L354.5,34.3 L355.8,33.8 L357.1,33.4 L357.6,33.2 L358.3,33.0 L359.6,32.6 L360.9,32.2 L362.2,31.8 L363.5,31.4 L364.8,31.1 L366.1,30.7 L367.3,30.4 L368.6,30.1 L369.9,29.9 L371.2,29.7 L372.5,29.6 L373.0,29.5 L373.8,29.5 L375.0,29.4 L376.3,29.3 L377.6,29.3 L378.9,29.2 L380.2,29.2 L381.5,29.1 L382.7,29.1 L384.0,29.0 L385.3,29.0 L386.6,28.9 L387.9,28.9 L389.2,28.8 L390.5,28.8" stroke="#6a4fb4" stroke-width="1.9" fill="none" stroke-linejoin="round"/>
<path d="M107.9,119.6 L109.2,117.4 L109.8,116.7 L110.5,116.4 L111.8,116.0 L113.0,115.8 L114.3,115.6 L114.4,115.6 L115.6,115.5 L116.9,115.5 L118.2,115.4 L119.5,115.3 L120.7,115.3 L122.0,115.3 L123.3,115.2 L124.6,115.2 L125.9,115.1 L127.2,115.1 L127.3,115.1 L128.4,115.0 L129.7,115.0 L131.0,114.9 L132.3,114.8 L133.6,114.8 L134.9,114.7 L136.2,114.7 L137.4,114.6 L138.7,114.5 L140.0,114.5 L141.3,114.4 L142.6,114.3 L143.9,114.3 L145.1,114.2 L146.4,114.1 L146.6,114.1 L147.7,114.0 L149.0,113.8 L150.3,113.7 L151.6,113.5 L152.9,113.4 L154.1,113.2 L155.4,113.0 L156.7,112.8 L158.0,112.6 L159.3,112.3 L160.6,112.1 L161.8,111.9 L163.1,111.6 L164.4,111.4 L165.7,111.1 L166.0,111.1 L167.0,110.9 L168.3,110.6 L169.5,110.3 L170.8,110.0 L172.1,109.7 L173.4,109.3 L174.7,109.0 L176.0,108.6 L177.3,108.2 L178.5,107.9 L179.8,107.5 L181.1,107.1 L182.4,106.7 L183.7,106.4 L185.0,106.0 L185.3,105.9 L186.2,105.6 L187.5,105.3 L188.8,104.9 L190.1,104.5 L191.4,104.2 L192.7,103.8 L194.0,103.4 L195.2,103.1 L196.5,102.7 L197.8,102.3 L199.1,101.9 L200.4,101.6 L201.7,101.2 L202.9,100.8 L204.2,100.5 L204.7,100.3 L205.5,100.1 L206.8,99.7 L208.1,99.4 L209.4,99.0 L210.6,98.6 L211.9,98.3 L213.2,97.9 L214.5,97.5 L215.8,97.2 L217.1,96.8 L217.6,96.6 L218.4,96.4 L219.6,95.9 L220.9,95.4 L222.2,94.8 L223.5,94.2 L224.8,93.7 L226.1,93.2 L227.3,92.8 L228.6,92.5 L229.9,92.2 L231.1,92.2 L231.2,92.5 L231.9,104.4 L232.5,107.5 L233.8,111.0 L234.0,111.1 L235.0,110.9 L236.3,110.4 L237.6,109.6 L238.9,108.6 L240.2,107.4 L241.5,106.3 L242.8,105.2 L244.0,104.4 L244.0,104.4 L245.3,103.7 L246.6,103.0 L247.9,102.4 L249.2,101.8 L250.5,101.2 L251.7,100.6 L253.0,100.0 L254.3,99.4 L255.6,98.9 L256.9,98.3 L258.2,97.7 L259.5,97.0 L259.5,97.0 L260.7,96.4 L262.0,95.7 L263.3,95.1 L264.6,94.4 L265.9,93.7 L267.2,93.1 L268.4,92.4 L269.7,91.7 L271.0,91.0 L272.3,90.3 L273.6,89.6 L274.9,88.9 L275.0,88.8 L276.1,88.2 L277.4,87.5 L278.7,86.8 L280.0,86.1 L281.3,85.4 L282.6,84.7 L283.9,84.0 L285.1,83.3 L286.4,82.5 L287.7,81.7 L289.0,80.9 L290.3,80.1 L291.1,79.6 L291.6,79.3 L292.8,78.4 L294.1,77.4 L295.4,76.4 L296.7,75.4 L298.0,74.4 L299.3,73.3 L300.6,72.3 L301.8,71.2 L303.1,70.1 L304.4,69.1 L305.7,68.1 L306.6,67.3 L307.0,67.0 L308.3,66.1 L309.5,65.1 L310.8,64.1 L312.1,63.1 L313.4,62.1 L314.7,61.1 L316.0,60.1 L317.2,59.2 L318.5,58.2 L319.8,57.2 L321.1,56.2 L322.4,55.2 L323.7,54.3 L325.0,53.3 L325.9,52.5 L326.2,52.3 L327.5,51.3 L328.8,50.3 L330.1,49.2 L331.4,48.2 L332.7,47.1 L333.9,46.1 L335.2,45.1 L336.5,44.1 L337.8,43.1 L339.1,42.2 L340.4,41.3 L341.4,40.7 L341.6,40.5 L342.9,39.7 L344.2,38.9 L345.5,38.1 L346.8,37.3 L348.1,36.6 L349.4,35.8 L350.6,35.1 L351.9,34.4 L353.2,33.8 L354.5,33.3 L355.8,32.7 L357.1,32.3 L357.6,32.1 L358.3,31.9 L359.6,31.5 L360.9,31.1 L362.2,30.8 L363.5,30.4 L364.8,30.1 L366.1,29.8 L367.3,29.6 L368.6,29.3 L369.9,29.1 L371.2,29.0 L372.5,28.8 L373.0,28.8 L373.8,28.7 L375.0,28.7 L376.3,28.6 L377.6,28.5 L378.9,28.5 L380.2,28.4 L381.5,28.4 L382.7,28.3 L384.0,28.3 L385.3,28.2 L386.6,28.2 L387.9,28.1 L389.2,28.1 L390.5,28.0" stroke="#c9a3aa" stroke-width="1.9" fill="none" stroke-linejoin="round"/>
<path d="M107.9,119.6 L109.2,117.3 L109.8,116.5 L110.5,116.2 L111.8,115.8 L113.0,115.4 L114.3,115.2 L114.4,115.2 L115.6,115.0 L116.9,114.8 L118.2,114.7 L119.5,114.5 L120.7,114.4 L122.0,114.3 L123.3,114.2 L124.6,114.0 L125.9,113.9 L127.2,113.8 L127.3,113.8 L128.4,113.7 L129.7,113.6 L131.0,113.5 L132.3,113.4 L133.6,113.3 L134.9,113.3 L136.2,113.2 L137.4,113.1 L138.7,113.0 L140.0,112.9 L141.3,112.8 L142.6,112.7 L143.9,112.6 L145.1,112.5 L146.4,112.4 L146.6,112.4 L147.7,112.3 L149.0,112.1 L150.3,112.0 L151.6,111.8 L152.9,111.6 L154.1,111.5 L155.4,111.3 L156.7,111.1 L158.0,110.9 L159.3,110.6 L160.6,110.4 L161.8,110.2 L163.1,110.0 L164.4,109.7 L165.7,109.5 L166.0,109.4 L167.0,109.2 L168.3,108.9 L169.5,108.6 L170.8,108.3 L172.1,108.0 L173.4,107.6 L174.7,107.3 L176.0,106.9 L177.3,106.6 L178.5,106.2 L179.8,105.8 L181.1,105.4 L182.4,105.1 L183.7,104.7 L185.0,104.3 L185.3,104.2 L186.2,104.0 L187.5,103.6 L188.8,103.2 L190.1,102.9 L191.4,102.5 L192.7,102.1 L194.0,101.8 L195.2,101.4 L196.5,101.0 L197.8,100.7 L199.1,100.3 L200.4,99.9 L201.7,99.5 L202.9,99.2 L204.2,98.8 L204.7,98.7 L205.5,98.4 L206.8,98.1 L208.1,97.7 L209.4,97.3 L210.6,97.0 L211.9,96.6 L213.2,96.2 L214.5,95.9 L215.8,95.5 L217.1,95.1 L217.6,95.0 L218.4,94.7 L219.6,94.2 L220.9,93.7 L222.2,93.1 L223.5,92.6 L224.8,92.0 L226.1,91.5 L227.3,91.1 L228.6,90.8 L229.9,90.6 L231.1,90.5 L231.2,90.9 L231.9,102.9 L232.5,106.3 L233.8,110.2 L234.0,110.3 L235.0,110.2 L236.3,109.5 L237.6,108.6 L238.9,107.4 L240.2,106.0 L241.5,104.7 L242.8,103.5 L244.0,102.6 L244.0,102.5 L245.3,101.8 L246.6,101.0 L247.9,100.3 L249.2,99.6 L250.5,99.0 L251.7,98.3 L253.0,97.7 L254.3,97.1 L255.6,96.5 L256.9,95.8 L258.2,95.1 L259.5,94.4 L259.5,94.4 L260.7,93.7 L262.0,93.0 L263.3,92.2 L264.6,91.5 L265.9,90.7 L267.2,90.0 L268.4,89.2 L269.7,88.4 L271.0,87.6 L272.3,86.8 L273.6,86.0 L274.9,85.2 L275.0,85.1 L276.1,84.4 L277.4,83.5 L278.7,82.7 L280.0,81.8 L281.3,81.0 L282.6,80.1 L283.9,79.2 L285.1,78.3 L286.4,77.4 L287.7,76.5 L289.0,75.5 L290.3,74.6 L291.1,74.0 L291.6,73.7 L292.8,72.7 L294.1,71.8 L295.4,70.8 L296.7,69.8 L298.0,68.8 L299.3,67.7 L300.6,66.7 L301.8,65.7 L303.1,64.7 L304.4,63.8 L305.7,62.8 L306.6,62.2 L307.0,61.9 L308.3,60.9 L309.5,60.0 L310.8,59.1 L312.1,58.1 L313.4,57.2 L314.7,56.2 L316.0,55.3 L317.2,54.4 L318.5,53.5 L319.8,52.7 L321.1,51.9 L322.4,51.1 L323.7,50.4 L325.0,49.7 L325.9,49.2 L326.2,49.0 L327.5,48.4 L328.8,47.8 L330.1,47.2 L331.4,46.7 L332.7,46.1 L333.9,45.6 L335.2,45.1 L336.5,44.7 L337.8,44.2 L339.1,43.9 L340.4,43.5 L341.4,43.2 L341.6,43.2 L342.9,42.9 L344.2,42.6 L345.5,42.4 L346.8,42.1 L348.1,41.9 L349.4,41.7 L350.6,41.5 L351.9,41.3 L353.2,41.1 L354.5,40.9 L355.8,40.8 L357.1,40.7 L357.6,40.7 L358.3,40.6 L359.6,40.5 L360.9,40.4 L362.2,40.3 L363.5,40.2 L364.8,40.2 L366.1,40.1 L367.3,40.0 L368.6,40.0 L369.9,40.0 L371.2,39.9 L372.5,39.9 L373.0,39.9 L373.8,39.9 L375.0,39.9 L376.3,40.0 L377.6,40.0 L378.9,40.1 L380.2,40.1 L381.5,40.2 L382.7,40.2 L384.0,40.3 L385.3,40.4 L386.6,40.5 L387.9,40.5 L389.2,40.6 L390.5,40.7" stroke="#3fae7c" stroke-width="1.9" fill="none" stroke-linejoin="round"/>
<path d="M107.9,119.6 L109.2,117.3 L109.8,116.6 L110.5,116.4 L111.8,116.0 L113.0,115.7 L114.3,115.5 L114.4,115.5 L115.6,115.4 L116.9,115.3 L118.2,115.2 L119.5,115.2 L120.7,115.1 L122.0,115.0 L123.3,115.0 L124.6,114.9 L125.9,114.9 L127.2,114.8 L127.3,114.8 L128.4,114.7 L129.7,114.7 L131.0,114.6 L132.3,114.5 L133.6,114.5 L134.9,114.4 L136.2,114.3 L137.4,114.3 L138.7,114.2 L140.0,114.1 L141.3,114.1 L142.6,114.0 L143.9,113.9 L145.1,113.8 L146.4,113.7 L146.6,113.7 L147.7,113.6 L149.0,113.5 L150.3,113.3 L151.6,113.2 L152.9,113.0 L154.1,112.8 L155.4,112.6 L156.7,112.4 L158.0,112.2 L159.3,112.0 L160.6,111.7 L161.8,111.5 L163.1,111.3 L164.4,111.0 L165.7,110.8 L166.0,110.7 L167.0,110.5 L168.3,110.2 L169.5,109.9 L170.8,109.6 L172.1,109.3 L173.4,108.9 L174.7,108.6 L176.0,108.2 L177.3,107.9 L178.5,107.5 L179.8,107.1 L181.1,106.7 L182.4,106.4 L183.7,106.0 L185.0,105.6 L185.3,105.5 L186.2,105.3 L187.5,104.9 L188.8,104.5 L190.1,104.2 L191.4,103.8 L192.7,103.4 L194.0,103.1 L195.2,102.7 L196.5,102.3 L197.8,102.0 L199.1,101.6 L200.4,101.2 L201.7,100.8 L202.9,100.5 L204.2,100.1 L204.7,100.0 L205.5,99.7 L206.8,99.4 L208.1,99.0 L209.4,98.6 L210.6,98.3 L211.9,97.9 L213.2,97.5 L214.5,97.2 L215.8,96.8 L217.1,96.4 L217.6,96.3 L218.4,96.0 L219.6,95.5 L220.9,95.0 L222.2,94.4 L223.5,93.9 L224.8,93.3 L226.1,92.8 L227.3,92.4 L228.6,92.1 L229.9,91.9 L231.1,91.8 L231.2,92.1 L231.9,101.8 L232.5,104.4 L233.8,107.3 L234.0,107.4 L235.0,107.2 L236.3,106.7 L237.6,105.9 L238.9,104.9 L240.2,103.8 L241.5,102.7 L242.8,101.6 L244.0,100.7 L244.0,100.7 L245.3,99.9 L246.6,99.1 L247.9,98.4 L249.2,97.6 L250.5,96.9 L251.7,96.2 L253.0,95.5 L254.3,94.8 L255.6,94.0 L256.9,93.3 L258.2,92.6 L259.5,91.8 L259.5,91.8 L260.7,91.1 L262.0,90.3 L263.3,89.6 L264.6,88.8 L265.9,88.1 L267.2,87.3 L268.4,86.6 L269.7,85.8 L271.0,85.0 L272.3,84.2 L273.6,83.4 L274.9,82.6 L275.0,82.5 L276.1,81.8 L277.4,81.0 L278.7,80.1 L280.0,79.3 L281.3,78.4 L282.6,77.5 L283.9,76.6 L285.1,75.7 L286.4,74.8 L287.7,73.9 L289.0,73.0 L290.3,72.0 L291.1,71.4 L291.6,71.1 L292.8,70.1 L294.1,69.1 L295.4,68.0 L296.7,66.9 L298.0,65.9 L299.3,64.8 L300.6,63.7 L301.8,62.6 L303.1,61.5 L304.4,60.5 L305.7,59.5 L306.6,58.8 L307.0,58.5 L308.3,57.6 L309.5,56.6 L310.8,55.7 L312.1,54.8 L313.4,53.9 L314.7,53.0 L316.0,52.1 L317.2,51.2 L318.5,50.4 L319.8,49.5 L321.1,48.7 L322.4,47.8 L323.7,47.0 L325.0,46.1 L325.9,45.5 L326.2,45.3 L327.5,44.4 L328.8,43.6 L330.1,42.8 L331.4,41.9 L332.7,41.1 L333.9,40.3 L335.2,39.5 L336.5,38.7 L337.8,37.9 L339.1,37.2 L340.4,36.4 L341.4,35.8 L341.6,35.7 L342.9,35.0 L344.2,34.3 L345.5,33.7 L346.8,33.0 L348.1,32.4 L349.4,31.7 L350.6,31.1 L351.9,30.5 L353.2,29.9 L354.5,29.4 L355.8,28.8 L357.1,28.3 L357.6,28.0 L358.3,27.7 L359.6,27.2 L360.9,26.6 L362.2,26.0 L363.5,25.5 L364.8,25.0 L366.1,24.4 L367.3,24.0 L368.6,23.5 L369.9,23.1 L371.2,22.8 L372.5,22.6 L373.0,22.5 L373.8,22.4 L375.0,22.2 L376.3,22.1 L377.6,22.0 L378.9,21.9 L380.2,21.7 L381.5,21.6 L382.7,21.6 L384.0,21.5 L385.3,21.4 L386.6,21.3 L387.9,21.2 L389.2,21.1 L390.5,21.0" stroke="#3b4ba6" stroke-width="1.9" fill="none" stroke-linejoin="round"/>
<line x1="118.20" y1="19.10" x2="129.70" y2="19.10" stroke="#e23a44" stroke-width="1.7" />
<text x="133.90" y="22.10" font-size="8.5" text-anchor="start" fill="#3a3a3a" letter-spacing="0.35">Control</text>
<line x1="118.20" y1="28.76" x2="129.70" y2="28.76" stroke="#55b947" stroke-width="1.7" />
<text x="133.90" y="31.76" font-size="8.5" text-anchor="start" fill="#3a3a3a" letter-spacing="0.35">0.5 μM</text>
<line x1="118.20" y1="38.42" x2="129.70" y2="38.42" stroke="#3b4ba6" stroke-width="1.7" />
<text x="133.90" y="41.42" font-size="8.5" text-anchor="start" fill="#3a3a3a" letter-spacing="0.35">1 μM</text>
<line x1="118.20" y1="48.08" x2="129.70" y2="48.08" stroke="#b53d9d" stroke-width="1.7" />
<text x="133.90" y="51.08" font-size="8.5" text-anchor="start" fill="#3a3a3a" letter-spacing="0.35">2.5 μM</text>
<line x1="118.20" y1="57.74" x2="129.70" y2="57.74" stroke="#5bc6e6" stroke-width="1.7" />
<text x="133.90" y="60.74" font-size="8.5" text-anchor="start" fill="#3a3a3a" letter-spacing="0.35">5 μM</text>
<line x1="118.20" y1="67.40" x2="129.70" y2="67.40" stroke="#6a4fb4" stroke-width="1.7" />
<text x="133.90" y="70.40" font-size="8.5" text-anchor="start" fill="#3a3a3a" letter-spacing="0.35">15 μM</text>
<line x1="118.20" y1="77.06" x2="129.70" y2="77.06" stroke="#c9a3aa" stroke-width="1.7" />
<text x="133.90" y="80.06" font-size="8.5" text-anchor="start" fill="#3a3a3a" letter-spacing="0.35">20 μM</text>
<line x1="118.20" y1="86.72" x2="129.70" y2="86.72" stroke="#3fae7c" stroke-width="1.7" />
<text x="133.90" y="89.72" font-size="8.5" text-anchor="start" fill="#3a3a3a" letter-spacing="0.35">50 μM</text>
<text x="206.70" y="57.80" font-size="14" text-anchor="start" fill="#262626" textLength="59.6" lengthAdjust="spacing">+ OSN4F</text>
<line x1="236.20" y1="62.50" x2="236.20" y2="81.50" stroke="#333" stroke-width="1" />
<path d="M236.20,81.50 L234.40,77.50 L238.00,77.50Z" fill="#333"/>
<line x1="112.10" y1="175.20" x2="112.10" y2="302.50" stroke="#4e4e4e" stroke-width="1.25" />
<line x1="111.50" y1="301.90" x2="396.01" y2="301.90" stroke="#4e4e4e" stroke-width="1.25" />
<line x1="112.10" y1="175.18" x2="116.60" y2="175.18" stroke="#4e4e4e" stroke-width="1" />
<text x="108.10" y="180.28" font-size="15" text-anchor="end" fill="#262626" >11</text>
<line x1="112.10" y1="196.62" x2="116.60" y2="196.62" stroke="#4e4e4e" stroke-width="1" />
<text x="108.10" y="201.72" font-size="15" text-anchor="end" fill="#262626" >9</text>
<line x1="112.10" y1="218.06" x2="116.60" y2="218.06" stroke="#4e4e4e" stroke-width="1" />
<text x="108.10" y="223.16" font-size="15" text-anchor="end" fill="#262626" >7</text>
<line x1="112.10" y1="239.50" x2="116.60" y2="239.50" stroke="#4e4e4e" stroke-width="1" />
<text x="108.10" y="244.60" font-size="15" text-anchor="end" fill="#262626" >5</text>
<line x1="112.10" y1="260.94" x2="116.60" y2="260.94" stroke="#4e4e4e" stroke-width="1" />
<text x="108.10" y="266.04" font-size="15" text-anchor="end" fill="#262626" >3</text>
<line x1="112.10" y1="282.38" x2="116.60" y2="282.38" stroke="#4e4e4e" stroke-width="1" />
<text x="108.10" y="287.48" font-size="15" text-anchor="end" fill="#262626" >1</text>
<text x="108.10" y="307.00" font-size="15" text-anchor="end" fill="#262626" >−1</text>
<text x="112.90" y="319.50" font-size="15" text-anchor="middle" fill="#262626" >0</text>
<line x1="143.59" y1="301.90" x2="143.59" y2="297.90" stroke="#4e4e4e" stroke-width="1" />
<text x="144.39" y="319.50" font-size="15" text-anchor="middle" fill="#262626" >5</text>
<line x1="175.08" y1="301.90" x2="175.08" y2="297.90" stroke="#4e4e4e" stroke-width="1" />
<text x="175.88" y="319.50" font-size="15" text-anchor="middle" fill="#262626" >10</text>
<line x1="206.57" y1="301.90" x2="206.57" y2="297.90" stroke="#4e4e4e" stroke-width="1" />
<text x="207.37" y="319.50" font-size="15" text-anchor="middle" fill="#262626" >15</text>
<line x1="238.06" y1="301.90" x2="238.06" y2="297.90" stroke="#4e4e4e" stroke-width="1" />
<text x="238.86" y="319.50" font-size="15" text-anchor="middle" fill="#262626" >20</text>
<line x1="269.55" y1="301.90" x2="269.55" y2="297.90" stroke="#4e4e4e" stroke-width="1" />
<text x="270.35" y="319.50" font-size="15" text-anchor="middle" fill="#262626" >25</text>
<line x1="301.04" y1="301.90" x2="301.04" y2="297.90" stroke="#4e4e4e" stroke-width="1" />
<text x="301.84" y="319.50" font-size="15" text-anchor="middle" fill="#262626" >30</text>
<line x1="332.53" y1="301.90" x2="332.53" y2="297.90" stroke="#4e4e4e" stroke-width="1" />
<text x="333.33" y="319.50" font-size="15" text-anchor="middle" fill="#262626" >35</text>
<line x1="364.02" y1="301.90" x2="364.02" y2="297.90" stroke="#4e4e4e" stroke-width="1" />
<text x="364.82" y="319.50" font-size="15" text-anchor="middle" fill="#262626" >40</text>
<line x1="395.51" y1="301.90" x2="395.51" y2="297.90" stroke="#4e4e4e" stroke-width="1" />
<text x="396.31" y="319.50" font-size="15" text-anchor="middle" fill="#262626" >45</text>
<path d="M112.1,290.4V292.6M110.9,290.4h2.4M110.9,292.6h2.4M115.2,289.1V291.3M114.0,289.1h2.4M114.0,291.3h2.4M118.4,287.7V290.0M117.2,287.7h2.4M117.2,290.0h2.4M121.5,286.4V288.8M120.3,286.4h2.4M120.3,288.8h2.4M124.7,285.3V287.6M123.5,285.3h2.4M123.5,287.6h2.4M127.8,284.1V286.5M126.6,284.1h2.4M126.6,286.5h2.4M131.0,283.2V285.7M129.8,283.2h2.4M129.8,285.7h2.4M134.1,282.7V285.3M132.9,282.7h2.4M132.9,285.3h2.4M137.3,282.4V285.0M136.1,282.4h2.4M136.1,285.0h2.4M140.4,282.2V284.8M139.2,282.2h2.4M139.2,284.8h2.4M143.6,281.9V284.6M142.4,281.9h2.4M142.4,284.6h2.4M146.7,281.7V284.5M145.5,281.7h2.4M145.5,284.5h2.4M149.9,281.4V284.3M148.7,281.4h2.4M148.7,284.3h2.4M153.0,281.2V284.1M151.8,281.2h2.4M151.8,284.1h2.4M156.2,281.0V284.0M155.0,281.0h2.4M155.0,284.0h2.4M159.3,280.7V283.7M158.1,280.7h2.4M158.1,283.7h2.4M162.5,280.4V283.5M161.3,280.4h2.4M161.3,283.5h2.4M165.6,280.0V283.2M164.4,280.0h2.4M164.4,283.2h2.4M168.8,279.6V282.8M167.6,279.6h2.4M167.6,282.8h2.4M171.9,279.2V282.5M170.7,279.2h2.4M170.7,282.5h2.4M175.1,278.7V282.0M173.9,278.7h2.4M173.9,282.0h2.4M178.2,278.2V281.6M177.0,278.2h2.4M177.0,281.6h2.4M181.4,277.7V281.1M180.2,277.7h2.4M180.2,281.1h2.4M184.5,277.1V280.6M183.3,277.1h2.4M183.3,280.6h2.4M187.7,276.5V280.0M186.5,276.5h2.4M186.5,280.0h2.4M190.8,275.8V279.4M189.6,275.8h2.4M189.6,279.4h2.4M194.0,275.1V278.8M192.8,275.1h2.4M192.8,278.8h2.4M197.1,274.3V278.1M195.9,274.3h2.4M195.9,278.1h2.4M200.3,273.5V277.3M199.1,273.5h2.4M199.1,277.3h2.4M203.4,272.7V276.5M202.2,272.7h2.4M202.2,276.5h2.4M206.6,271.7V275.6M205.4,271.7h2.4M205.4,275.6h2.4M209.7,270.7V274.7M208.5,270.7h2.4M208.5,274.7h2.4M212.9,269.6V273.7M211.7,269.6h2.4M211.7,273.7h2.4M216.0,268.2V272.3M214.8,268.2h2.4M214.8,272.3h2.4M219.2,266.5V270.7M218.0,266.5h2.4M218.0,270.7h2.4M222.3,265.1V269.3M221.1,265.1h2.4M221.1,269.3h2.4M225.5,264.5V268.8M224.3,264.5h2.4M224.3,268.8h2.4M228.6,263.8V269.7M227.4,263.8h2.4M227.4,269.7h2.4M231.8,263.7V271.2M230.6,263.7h2.4M230.6,271.2h2.4M234.9,263.4V272.5M233.7,263.4h2.4M233.7,272.5h2.4M238.1,258.5V269.3M236.9,258.5h2.4M236.9,269.3h2.4M241.2,255.4V266.1M240.0,255.4h2.4M240.0,266.1h2.4M244.4,255.6V266.3M243.2,255.6h2.4M243.2,266.3h2.4M247.5,255.9V266.6M246.3,255.9h2.4M246.3,266.6h2.4M250.7,256.1V266.8M249.5,256.1h2.4M249.5,266.8h2.4M253.8,255.9V266.7M252.6,255.9h2.4M252.6,266.7h2.4M257.0,254.3V265.1M255.8,254.3h2.4M255.8,265.1h2.4M260.1,252.4V263.1M258.9,252.4h2.4M258.9,263.1h2.4M263.3,250.7V261.4M262.1,250.7h2.4M262.1,261.4h2.4M266.4,249.1V259.8M265.2,249.1h2.4M265.2,259.8h2.4M269.5,247.4V258.1M268.3,247.4h2.4M268.3,258.1h2.4M272.7,245.6V256.4M271.5,245.6h2.4M271.5,256.4h2.4M275.8,243.8V254.5M274.6,243.8h2.4M274.6,254.5h2.4M279.0,241.9V252.6M277.8,241.9h2.4M277.8,252.6h2.4M282.1,239.7V250.5M280.9,239.7h2.4M280.9,250.5h2.4M285.3,237.4V248.1M284.1,237.4h2.4M284.1,248.1h2.4M288.4,234.6V245.3M287.2,234.6h2.4M287.2,245.3h2.4M291.6,231.5V242.2M290.4,231.5h2.4M290.4,242.2h2.4M294.7,228.2V239.0M293.5,228.2h2.4M293.5,239.0h2.4M297.9,224.9V235.6M296.7,224.9h2.4M296.7,235.6h2.4M301.0,221.7V232.4M299.8,221.7h2.4M299.8,232.4h2.4M304.2,218.8V229.5M303.0,218.8h2.4M303.0,229.5h2.4M307.3,216.2V226.9M306.1,216.2h2.4M306.1,226.9h2.4M310.5,213.8V224.5M309.3,213.8h2.4M309.3,224.5h2.4M313.6,211.4V222.2M312.4,211.4h2.4M312.4,222.2h2.4M316.8,209.2V219.9M315.6,209.2h2.4M315.6,219.9h2.4M319.9,207.1V217.8M318.7,207.1h2.4M318.7,217.8h2.4M323.1,205.1V215.9M321.9,205.1h2.4M321.9,215.9h2.4M326.2,203.4V214.1M325.0,203.4h2.4M325.0,214.1h2.4M329.4,201.8V212.6M328.2,201.8h2.4M328.2,212.6h2.4M332.5,200.5V211.2M331.3,200.5h2.4M331.3,211.2h2.4M335.7,199.4V210.1M334.5,199.4h2.4M334.5,210.1h2.4M338.8,198.4V209.1M337.6,198.4h2.4M337.6,209.1h2.4M342.0,197.5V208.2M340.8,197.5h2.4M340.8,208.2h2.4M345.1,196.8V207.5M343.9,196.8h2.4M343.9,207.5h2.4M348.3,196.1V206.8M347.1,196.1h2.4M347.1,206.8h2.4M351.4,195.5V206.3M350.2,195.5h2.4M350.2,206.3h2.4M354.6,195.0V205.8M353.4,195.0h2.4M353.4,205.8h2.4M357.7,194.5V205.2M356.5,194.5h2.4M356.5,205.2h2.4M360.9,194.1V204.9M359.7,194.1h2.4M359.7,204.9h2.4M364.0,193.9V204.7M362.8,193.9h2.4M362.8,204.7h2.4M367.2,194.0V204.7M366.0,194.0h2.4M366.0,204.7h2.4M370.3,194.2V204.9M369.1,194.2h2.4M369.1,204.9h2.4M373.5,194.5V205.3M372.3,194.5h2.4M372.3,205.3h2.4M376.6,195.0V205.7M375.4,195.0h2.4M375.4,205.7h2.4M379.8,195.4V206.1M378.6,195.4h2.4M378.6,206.1h2.4M382.9,195.8V206.5M381.7,195.8h2.4M381.7,206.5h2.4" stroke="#e23a44" stroke-width="0.75" stroke-opacity="0.9" fill="none"/>
<path d="M112.1,290.4V292.6M110.9,290.4h2.4M110.9,292.6h2.4M115.2,289.1V291.3M114.0,289.1h2.4M114.0,291.3h2.4M118.4,287.7V290.0M117.2,287.7h2.4M117.2,290.0h2.4M121.5,286.4V288.8M120.3,286.4h2.4M120.3,288.8h2.4M124.7,285.3V287.6M123.5,285.3h2.4M123.5,287.6h2.4M127.8,284.1V286.5M126.6,284.1h2.4M126.6,286.5h2.4M131.0,283.2V285.7M129.8,283.2h2.4M129.8,285.7h2.4M134.1,282.7V285.3M132.9,282.7h2.4M132.9,285.3h2.4M137.3,282.4V285.0M136.1,282.4h2.4M136.1,285.0h2.4M140.4,282.2V284.8M139.2,282.2h2.4M139.2,284.8h2.4M143.6,281.9V284.6M142.4,281.9h2.4M142.4,284.6h2.4M146.7,281.7V284.5M145.5,281.7h2.4M145.5,284.5h2.4M149.9,281.4V284.3M148.7,281.4h2.4M148.7,284.3h2.4M153.0,281.2V284.1M151.8,281.2h2.4M151.8,284.1h2.4M156.2,281.0V284.0M155.0,281.0h2.4M155.0,284.0h2.4M159.3,280.7V283.7M158.1,280.7h2.4M158.1,283.7h2.4M162.5,280.4V283.5M161.3,280.4h2.4M161.3,283.5h2.4M165.6,280.0V283.2M164.4,280.0h2.4M164.4,283.2h2.4M168.8,279.6V282.8M167.6,279.6h2.4M167.6,282.8h2.4M171.9,279.2V282.5M170.7,279.2h2.4M170.7,282.5h2.4M175.1,278.7V282.0M173.9,278.7h2.4M173.9,282.0h2.4M178.2,278.2V281.6M177.0,278.2h2.4M177.0,281.6h2.4M181.4,277.7V281.1M180.2,277.7h2.4M180.2,281.1h2.4M184.5,277.1V280.6M183.3,277.1h2.4M183.3,280.6h2.4M187.7,276.5V280.0M186.5,276.5h2.4M186.5,280.0h2.4M190.8,275.8V279.4M189.6,275.8h2.4M189.6,279.4h2.4M194.0,275.1V278.8M192.8,275.1h2.4M192.8,278.8h2.4M197.1,274.3V278.1M195.9,274.3h2.4M195.9,278.1h2.4M200.3,273.5V277.3M199.1,273.5h2.4M199.1,277.3h2.4M203.4,272.7V276.5M202.2,272.7h2.4M202.2,276.5h2.4M206.6,271.7V275.6M205.4,271.7h2.4M205.4,275.6h2.4M209.7,270.7V274.7M208.5,270.7h2.4M208.5,274.7h2.4M212.9,269.6V273.7M211.7,269.6h2.4M211.7,273.7h2.4M216.0,268.2V272.3M214.8,268.2h2.4M214.8,272.3h2.4M219.2,266.5V270.7M218.0,266.5h2.4M218.0,270.7h2.4M222.3,265.1V269.3M221.1,265.1h2.4M221.1,269.3h2.4M225.5,264.5V268.8M224.3,264.5h2.4M224.3,268.8h2.4M228.6,263.8V269.7M227.4,263.8h2.4M227.4,269.7h2.4M231.8,263.7V271.2M230.6,263.7h2.4M230.6,271.2h2.4M234.9,263.4V272.6M233.7,263.4h2.4M233.7,272.6h2.4M238.1,258.2V268.9M236.9,258.2h2.4M236.9,268.9h2.4M241.2,254.5V265.2M240.0,254.5h2.4M240.0,265.2h2.4M244.4,254.5V265.2M243.2,254.5h2.4M243.2,265.2h2.4M247.5,254.5V265.2M246.3,254.5h2.4M246.3,265.2h2.4M250.7,254.5V265.2M249.5,254.5h2.4M249.5,265.2h2.4M253.8,254.4V265.1M252.6,254.4h2.4M252.6,265.1h2.4M257.0,253.5V264.3M255.8,253.5h2.4M255.8,264.3h2.4M260.1,252.4V263.1M258.9,252.4h2.4M258.9,263.1h2.4M263.3,251.2V261.9M262.1,251.2h2.4M262.1,261.9h2.4M266.4,249.8V260.5M265.2,249.8h2.4M265.2,260.5h2.4M269.5,248.2V258.9M268.3,248.2h2.4M268.3,258.9h2.4M272.7,246.5V257.2M271.5,246.5h2.4M271.5,257.2h2.4M275.8,244.7V255.4M274.6,244.7h2.4M274.6,255.4h2.4M279.0,242.8V253.5M277.8,242.8h2.4M277.8,253.5h2.4M282.1,240.8V251.6M280.9,240.8h2.4M280.9,251.6h2.4M285.3,238.8V249.5M284.1,238.8h2.4M284.1,249.5h2.4M288.4,236.4V247.1M287.2,236.4h2.4M287.2,247.1h2.4M291.6,233.9V244.6M290.4,233.9h2.4M290.4,244.6h2.4M294.7,231.2V241.9M293.5,231.2h2.4M293.5,241.9h2.4M297.9,228.4V239.1M296.7,228.4h2.4M296.7,239.1h2.4M301.0,225.7V236.5M299.8,225.7h2.4M299.8,236.5h2.4M304.2,223.2V233.9M303.0,223.2h2.4M303.0,233.9h2.4M307.3,220.8V231.5M306.1,220.8h2.4M306.1,231.5h2.4M310.5,218.5V229.3M309.3,218.5h2.4M309.3,229.3h2.4M313.6,216.2V227.0M312.4,216.2h2.4M312.4,227.0h2.4M316.8,214.0V224.7M315.6,214.0h2.4M315.6,224.7h2.4M319.9,211.8V222.6M318.7,211.8h2.4M318.7,222.6h2.4M323.1,209.8V220.6M321.9,209.8h2.4M321.9,220.6h2.4M326.2,208.0V218.7M325.0,208.0h2.4M325.0,218.7h2.4M329.4,206.4V217.2M328.2,206.4h2.4M328.2,217.2h2.4M332.5,205.1V215.8M331.3,205.1h2.4M331.3,215.8h2.4M335.7,203.9V214.7M334.5,203.9h2.4M334.5,214.7h2.4M338.8,203.0V213.7M337.6,203.0h2.4M337.6,213.7h2.4M342.0,202.2V212.9M340.8,202.2h2.4M340.8,212.9h2.4M345.1,201.5V212.2M343.9,201.5h2.4M343.9,212.2h2.4M348.3,200.9V211.6M347.1,200.9h2.4M347.1,211.6h2.4M351.4,200.4V211.1M350.2,200.4h2.4M350.2,211.1h2.4M354.6,199.9V210.6M353.4,199.9h2.4M353.4,210.6h2.4M357.7,199.4V210.1M356.5,199.4h2.4M356.5,210.1h2.4M360.9,199.1V209.8M359.7,199.1h2.4M359.7,209.8h2.4M364.0,198.9V209.6M362.8,198.9h2.4M362.8,209.6h2.4M367.2,198.9V209.6M366.0,198.9h2.4M366.0,209.6h2.4M370.3,199.0V209.8M369.1,199.0h2.4M369.1,209.8h2.4M373.5,199.2V210.0M372.3,199.2h2.4M372.3,210.0h2.4M376.6,199.5V210.2M375.4,199.5h2.4M375.4,210.2h2.4M379.8,199.7V210.5M378.6,199.7h2.4M378.6,210.5h2.4M382.9,200.0V210.7M381.7,200.0h2.4M381.7,210.7h2.4" stroke="#55b947" stroke-width="0.75" stroke-opacity="0.9" fill="none"/>
<path d="M112.1,290.4V292.6M110.9,290.4h2.4M110.9,292.6h2.4M115.2,289.0V291.2M114.0,289.0h2.4M114.0,291.2h2.4M118.4,287.6V289.9M117.2,287.6h2.4M117.2,289.9h2.4M121.5,286.3V288.6M120.3,286.3h2.4M120.3,288.6h2.4M124.7,285.0V287.4M123.5,285.0h2.4M123.5,287.4h2.4M127.8,283.8V286.3M126.6,283.8h2.4M126.6,286.3h2.4M131.0,282.9V285.4M129.8,282.9h2.4M129.8,285.4h2.4M134.1,282.3V284.9M132.9,282.3h2.4M132.9,284.9h2.4M137.3,282.0V284.6M136.1,282.0h2.4M136.1,284.6h2.4M140.4,281.7V284.4M139.2,281.7h2.4M139.2,284.4h2.4M143.6,281.4V284.1M142.4,281.4h2.4M142.4,284.1h2.4M146.7,281.1V283.9M145.5,281.1h2.4M145.5,283.9h2.4M149.9,280.9V283.8M148.7,280.9h2.4M148.7,283.8h2.4M153.0,280.7V283.6M151.8,280.7h2.4M151.8,283.6h2.4M156.2,280.4V283.4M155.0,280.4h2.4M155.0,283.4h2.4M159.3,280.2V283.2M158.1,280.2h2.4M158.1,283.2h2.4M162.5,279.9V282.9M161.3,279.9h2.4M161.3,282.9h2.4M165.6,279.5V282.6M164.4,279.5h2.4M164.4,282.6h2.4M168.8,279.1V282.3M167.6,279.1h2.4M167.6,282.3h2.4M171.9,278.6V281.9M170.7,278.6h2.4M170.7,281.9h2.4M175.1,278.2V281.5M173.9,278.2h2.4M173.9,281.5h2.4M178.2,277.6V281.0M177.0,277.6h2.4M177.0,281.0h2.4M181.4,277.1V280.6M180.2,277.1h2.4M180.2,280.6h2.4M184.5,276.5V280.1M183.3,276.5h2.4M183.3,280.1h2.4M187.7,275.9V279.5M186.5,275.9h2.4M186.5,279.5h2.4M190.8,275.2V278.9M189.6,275.2h2.4M189.6,278.9h2.4M194.0,274.5V278.2M192.8,274.5h2.4M192.8,278.2h2.4M197.1,273.8V277.5M195.9,273.8h2.4M195.9,277.5h2.4M200.3,273.0V276.8M199.1,273.0h2.4M199.1,276.8h2.4M203.4,272.1V276.0M202.2,272.1h2.4M202.2,276.0h2.4M206.6,271.2V275.1M205.4,271.2h2.4M205.4,275.1h2.4M209.7,270.2V274.2M208.5,270.2h2.4M208.5,274.2h2.4M212.9,269.1V273.1M211.7,269.1h2.4M211.7,273.1h2.4M216.0,267.7V271.8M214.8,267.7h2.4M214.8,271.8h2.4M219.2,266.0V270.2M218.0,266.0h2.4M218.0,270.2h2.4M222.3,264.6V268.8M221.1,264.6h2.4M221.1,268.8h2.4M225.5,263.9V268.2M224.3,263.9h2.4M224.3,268.2h2.4M228.6,263.2V269.1M227.4,263.2h2.4M227.4,269.1h2.4M231.8,263.3V270.8M230.6,263.3h2.4M230.6,270.8h2.4M234.9,262.9V272.1M233.7,262.9h2.4M233.7,272.1h2.4M238.1,254.7V265.4M236.9,254.7h2.4M236.9,265.4h2.4M241.2,249.6V260.3M240.0,249.6h2.4M240.0,260.3h2.4M244.4,249.8V260.5M243.2,249.8h2.4M243.2,260.5h2.4M247.5,250.0V260.7M246.3,250.0h2.4M246.3,260.7h2.4M250.7,250.2V260.9M249.5,250.2h2.4M249.5,260.9h2.4M253.8,250.2V260.9M252.6,250.2h2.4M252.6,260.9h2.4M257.0,249.8V260.5M255.8,249.8h2.4M255.8,260.5h2.4M260.1,249.1V259.9M258.9,249.1h2.4M258.9,259.9h2.4M263.3,248.3V259.0M262.1,248.3h2.4M262.1,259.0h2.4M266.4,247.0V257.8M265.2,247.0h2.4M265.2,257.8h2.4M269.5,245.5V256.2M268.3,245.5h2.4M268.3,256.2h2.4M272.7,243.7V254.4M271.5,243.7h2.4M271.5,254.4h2.4M275.8,241.7V252.4M274.6,241.7h2.4M274.6,252.4h2.4M279.0,239.6V250.3M277.8,239.6h2.4M277.8,250.3h2.4M282.1,237.4V248.1M280.9,237.4h2.4M280.9,248.1h2.4M285.3,235.1V245.8M284.1,235.1h2.4M284.1,245.8h2.4M288.4,232.5V243.2M287.2,232.5h2.4M287.2,243.2h2.4M291.6,229.5V240.2M290.4,229.5h2.4M290.4,240.2h2.4M294.7,226.3V237.0M293.5,226.3h2.4M293.5,237.0h2.4M297.9,223.1V233.8M296.7,223.1h2.4M296.7,233.8h2.4M301.0,219.8V230.5M299.8,219.8h2.4M299.8,230.5h2.4M304.2,216.7V227.4M303.0,216.7h2.4M303.0,227.4h2.4M307.3,213.7V224.5M306.1,213.7h2.4M306.1,224.5h2.4M310.5,210.9V221.6M309.3,210.9h2.4M309.3,221.6h2.4M313.6,208.0V218.7M312.4,208.0h2.4M312.4,218.7h2.4M316.8,205.1V215.8M315.6,205.1h2.4M315.6,215.8h2.4M319.9,202.3V213.0M318.7,202.3h2.4M318.7,213.0h2.4M323.1,199.7V210.4M321.9,199.7h2.4M321.9,210.4h2.4M326.2,197.2V207.9M325.0,197.2h2.4M325.0,207.9h2.4M329.4,195.0V205.7M328.2,195.0h2.4M328.2,205.7h2.4M332.5,193.0V203.7M331.3,193.0h2.4M331.3,203.7h2.4M335.7,191.3V202.0M334.5,191.3h2.4M334.5,202.0h2.4M338.8,189.7V200.4M337.6,189.7h2.4M337.6,200.4h2.4M342.0,188.3V199.0M340.8,188.3h2.4M340.8,199.0h2.4M345.1,187.0V197.7M343.9,187.0h2.4M343.9,197.7h2.4M348.3,185.8V196.5M347.1,185.8h2.4M347.1,196.5h2.4M351.4,184.8V195.5M350.2,184.8h2.4M350.2,195.5h2.4M354.6,184.0V194.7M353.4,184.0h2.4M353.4,194.7h2.4M357.7,183.2V193.9M356.5,183.2h2.4M356.5,193.9h2.4M360.9,182.6V193.3M359.7,182.6h2.4M359.7,193.3h2.4M364.0,182.2V192.9M362.8,182.2h2.4M362.8,192.9h2.4M367.2,182.0V192.8M366.0,182.0h2.4M366.0,192.8h2.4M370.3,181.9V192.7M369.1,181.9h2.4M369.1,192.7h2.4M373.5,181.9V192.6M372.3,181.9h2.4M372.3,192.6h2.4M376.6,181.8V192.5M375.4,181.8h2.4M375.4,192.5h2.4M379.8,181.7V192.5M378.6,181.7h2.4M378.6,192.5h2.4M382.9,181.7V192.4M381.7,181.7h2.4M381.7,192.4h2.4" stroke="#3b4ba6" stroke-width="0.75" stroke-opacity="0.9" fill="none"/>
<path d="M112.1,290.4V292.6M110.9,290.4h2.4M110.9,292.6h2.4M115.2,289.1V291.3M114.0,289.1h2.4M114.0,291.3h2.4M118.4,287.8V290.1M117.2,287.8h2.4M117.2,290.1h2.4M121.5,286.6V288.9M120.3,286.6h2.4M120.3,288.9h2.4M124.7,285.5V287.8M123.5,285.5h2.4M123.5,287.8h2.4M127.8,284.3V286.8M126.6,284.3h2.4M126.6,286.8h2.4M131.0,283.5V286.0M129.8,283.5h2.4M129.8,286.0h2.4M134.1,283.1V285.7M132.9,283.1h2.4M132.9,285.7h2.4M137.3,282.9V285.5M136.1,282.9h2.4M136.1,285.5h2.4M140.4,282.6V285.3M139.2,282.6h2.4M139.2,285.3h2.4M143.6,282.4V285.2M142.4,282.4h2.4M142.4,285.2h2.4M146.7,282.2V285.0M145.5,282.2h2.4M145.5,285.0h2.4M149.9,282.0V284.8M148.7,282.0h2.4M148.7,284.8h2.4M153.0,281.7V284.7M151.8,281.7h2.4M151.8,284.7h2.4M156.2,281.5V284.5M155.0,281.5h2.4M155.0,284.5h2.4M159.3,281.2V284.3M158.1,281.2h2.4M158.1,284.3h2.4M162.5,280.9V284.0M161.3,280.9h2.4M161.3,284.0h2.4M165.6,280.6V283.7M164.4,280.6h2.4M164.4,283.7h2.4M168.8,280.2V283.4M167.6,280.2h2.4M167.6,283.4h2.4M171.9,279.7V283.0M170.7,279.7h2.4M170.7,283.0h2.4M175.1,279.2V282.6M173.9,279.2h2.4M173.9,282.6h2.4M178.2,278.7V282.1M177.0,278.7h2.4M177.0,282.1h2.4M181.4,278.2V281.6M180.2,278.2h2.4M180.2,281.6h2.4M184.5,277.6V281.1M183.3,277.6h2.4M183.3,281.1h2.4M187.7,277.0V280.6M186.5,277.0h2.4M186.5,280.6h2.4M190.8,276.3V280.0M189.6,276.3h2.4M189.6,280.0h2.4M194.0,275.6V279.3M192.8,275.6h2.4M192.8,279.3h2.4M197.1,274.8V278.6M195.9,274.8h2.4M195.9,278.6h2.4M200.3,274.0V277.9M199.1,274.0h2.4M199.1,277.9h2.4M203.4,273.2V277.1M202.2,273.2h2.4M202.2,277.1h2.4M206.6,272.3V276.2M205.4,272.3h2.4M205.4,276.2h2.4M209.7,271.2V275.2M208.5,271.2h2.4M208.5,275.2h2.4M212.9,270.2V274.2M211.7,270.2h2.4M211.7,274.2h2.4M216.0,268.7V272.9M214.8,268.7h2.4M214.8,272.9h2.4M219.2,267.1V271.2M218.0,267.1h2.4M218.0,271.2h2.4M222.3,265.6V269.9M221.1,265.6h2.4M221.1,269.9h2.4M225.5,265.0V269.3M224.3,265.0h2.4M224.3,269.3h2.4M228.6,264.3V270.2M227.4,264.3h2.4M227.4,270.2h2.4M231.8,265.5V273.1M230.6,265.5h2.4M230.6,273.1h2.4M234.9,266.6V275.7M233.7,266.6h2.4M233.7,275.7h2.4M238.1,256.6V267.4M236.9,256.6h2.4M236.9,267.4h2.4M241.2,251.8V262.5M240.0,251.8h2.4M240.0,262.5h2.4M244.4,251.8V262.5M243.2,251.8h2.4M243.2,262.5h2.4M247.5,251.8V262.5M246.3,251.8h2.4M246.3,262.5h2.4M250.7,251.8V262.5M249.5,251.8h2.4M249.5,262.5h2.4M253.8,251.7V262.4M252.6,251.7h2.4M252.6,262.4h2.4M257.0,250.6V261.3M255.8,250.6h2.4M255.8,261.3h2.4M260.1,249.1V259.9M258.9,249.1h2.4M258.9,259.9h2.4M263.3,247.7V258.4M262.1,247.7h2.4M262.1,258.4h2.4M266.4,246.0V256.7M265.2,246.0h2.4M265.2,256.7h2.4M269.5,244.1V254.8M268.3,244.1h2.4M268.3,254.8h2.4M272.7,242.0V252.8M271.5,242.0h2.4M271.5,252.8h2.4M275.8,239.8V250.6M274.6,239.8h2.4M274.6,250.6h2.4M279.0,237.5V248.3M277.8,237.5h2.4M277.8,248.3h2.4M282.1,235.1V245.8M280.9,235.1h2.4M280.9,245.8h2.4M285.3,232.6V243.3M284.1,232.6h2.4M284.1,243.3h2.4M288.4,229.6V240.3M287.2,229.6h2.4M287.2,240.3h2.4M291.6,226.4V237.1M290.4,226.4h2.4M290.4,237.1h2.4M294.7,223.0V233.7M293.5,223.0h2.4M293.5,233.7h2.4M297.9,219.5V230.2M296.7,219.5h2.4M296.7,230.2h2.4M301.0,216.1V226.8M299.8,216.1h2.4M299.8,226.8h2.4M304.2,212.9V223.6M303.0,212.9h2.4M303.0,223.6h2.4M307.3,210.0V220.7M306.1,210.0h2.4M306.1,220.7h2.4M310.5,207.2V217.9M309.3,207.2h2.4M309.3,217.9h2.4M313.6,204.3V215.0M312.4,204.3h2.4M312.4,215.0h2.4M316.8,201.5V212.2M315.6,201.5h2.4M315.6,212.2h2.4M319.9,198.8V209.5M318.7,198.8h2.4M318.7,209.5h2.4M323.1,196.4V207.1M321.9,196.4h2.4M321.9,207.1h2.4M326.2,194.3V205.0M325.0,194.3h2.4M325.0,205.0h2.4M329.4,192.6V203.3M328.2,192.6h2.4M328.2,203.3h2.4M332.5,191.3V202.0M331.3,191.3h2.4M331.3,202.0h2.4M335.7,190.2V201.0M334.5,190.2h2.4M334.5,201.0h2.4M338.8,189.4V200.1M337.6,189.4h2.4M337.6,200.1h2.4M342.0,188.8V199.5M340.8,188.8h2.4M340.8,199.5h2.4M345.1,188.3V199.0M343.9,188.3h2.4M343.9,199.0h2.4M348.3,187.9V198.6M347.1,187.9h2.4M347.1,198.6h2.4M351.4,187.5V198.2M350.2,187.5h2.4M350.2,198.2h2.4M354.6,187.2V197.9M353.4,187.2h2.4M353.4,197.9h2.4M357.7,186.8V197.6M356.5,186.8h2.4M356.5,197.6h2.4M360.9,186.6V197.3M359.7,186.6h2.4M359.7,197.3h2.4M364.0,186.4V197.2M362.8,186.4h2.4M362.8,197.2h2.4M367.2,186.5V197.2M366.0,186.5h2.4M366.0,197.2h2.4M370.3,186.5V197.2M369.1,186.5h2.4M369.1,197.2h2.4M373.5,186.6V197.3M372.3,186.6h2.4M372.3,197.3h2.4M376.6,186.7V197.4M375.4,186.7h2.4M375.4,197.4h2.4M379.8,186.8V197.5M378.6,186.8h2.4M378.6,197.5h2.4M382.9,186.9V197.6M381.7,186.9h2.4M381.7,197.6h2.4" stroke="#b53d9d" stroke-width="0.75" stroke-opacity="0.9" fill="none"/>
<path d="M112.1,290.4V292.6M110.9,290.4h2.4M110.9,292.6h2.4M115.2,289.0V291.2M114.0,289.0h2.4M114.0,291.2h2.4M118.4,287.6V289.8M117.2,287.6h2.4M117.2,289.8h2.4M121.5,286.2V288.5M120.3,286.2h2.4M120.3,288.5h2.4M124.7,285.0V287.3M123.5,285.0h2.4M123.5,287.3h2.4M127.8,283.7V286.2M126.6,283.7h2.4M126.6,286.2h2.4M131.0,282.7V285.2M129.8,282.7h2.4M129.8,285.2h2.4M134.1,282.2V284.7M132.9,282.2h2.4M132.9,284.7h2.4M137.3,281.8V284.4M136.1,281.8h2.4M136.1,284.4h2.4M140.4,281.5V284.2M139.2,281.5h2.4M139.2,284.2h2.4M143.6,281.2V283.9M142.4,281.2h2.4M142.4,283.9h2.4M146.7,280.9V283.7M145.5,280.9h2.4M145.5,283.7h2.4M149.9,280.7V283.6M148.7,280.7h2.4M148.7,283.6h2.4M153.0,280.5V283.4M151.8,280.5h2.4M151.8,283.4h2.4M156.2,280.2V283.2M155.0,280.2h2.4M155.0,283.2h2.4M159.3,280.0V283.0M158.1,280.0h2.4M158.1,283.0h2.4M162.5,279.6V282.7M161.3,279.6h2.4M161.3,282.7h2.4M165.6,279.3V282.4M164.4,279.3h2.4M164.4,282.4h2.4M168.8,278.9V282.1M167.6,278.9h2.4M167.6,282.1h2.4M171.9,278.4V281.7M170.7,278.4h2.4M170.7,281.7h2.4M175.1,277.9V281.3M173.9,277.9h2.4M173.9,281.3h2.4M178.2,277.4V280.8M177.0,277.4h2.4M177.0,280.8h2.4M181.4,276.9V280.4M180.2,276.9h2.4M180.2,280.4h2.4M184.5,276.3V279.8M183.3,276.3h2.4M183.3,279.8h2.4M187.7,275.7V279.3M186.5,275.7h2.4M186.5,279.3h2.4M190.8,275.0V278.7M189.6,275.0h2.4M189.6,278.7h2.4M194.0,274.3V278.0M192.8,274.3h2.4M192.8,278.0h2.4M197.1,273.6V277.3M195.9,273.6h2.4M195.9,277.3h2.4M200.3,272.8V276.6M199.1,272.8h2.4M199.1,276.6h2.4M203.4,271.9V275.8M202.2,271.9h2.4M202.2,275.8h2.4M206.6,271.0V274.9M205.4,271.0h2.4M205.4,274.9h2.4M209.7,270.0V273.9M208.5,270.0h2.4M208.5,273.9h2.4M212.9,268.9V272.9M211.7,268.9h2.4M211.7,272.9h2.4M216.0,267.5V271.6M214.8,267.5h2.4M214.8,271.6h2.4M219.2,265.8V269.9M218.0,265.8h2.4M218.0,269.9h2.4M222.3,264.3V268.6M221.1,264.3h2.4M221.1,268.6h2.4M225.5,263.7V268.0M224.3,263.7h2.4M224.3,268.0h2.4M228.6,263.0V268.9M227.4,263.0h2.4M227.4,268.9h2.4M231.8,262.8V270.3M230.6,262.8h2.4M230.6,270.3h2.4M234.9,261.0V270.1M233.7,261.0h2.4M233.7,270.1h2.4M238.1,250.1V260.8M236.9,250.1h2.4M236.9,260.8h2.4M241.2,245.4V256.1M240.0,245.4h2.4M240.0,256.1h2.4M244.4,245.4V256.1M243.2,245.4h2.4M243.2,256.1h2.4M247.5,245.4V256.1M246.3,245.4h2.4M246.3,256.1h2.4M250.7,245.4V256.1M249.5,245.4h2.4M249.5,256.1h2.4M253.8,245.2V255.9M252.6,245.2h2.4M252.6,255.9h2.4M257.0,243.7V254.4M255.8,243.7h2.4M255.8,254.4h2.4M260.1,241.6V252.4M258.9,241.6h2.4M258.9,252.4h2.4M263.3,239.5V250.3M262.1,239.5h2.4M262.1,250.3h2.4M266.4,237.1V247.8M265.2,237.1h2.4M265.2,247.8h2.4M269.5,234.4V245.1M268.3,234.4h2.4M268.3,245.1h2.4M272.7,231.5V242.3M271.5,231.5h2.4M271.5,242.3h2.4M275.8,228.5V239.2M274.6,228.5h2.4M274.6,239.2h2.4M279.0,225.5V236.2M277.8,225.5h2.4M277.8,236.2h2.4M282.1,222.5V233.2M280.9,222.5h2.4M280.9,233.2h2.4M285.3,219.5V230.2M284.1,219.5h2.4M284.1,230.2h2.4M288.4,216.2V226.9M287.2,216.2h2.4M287.2,226.9h2.4M291.6,212.8V223.6M290.4,212.8h2.4M290.4,223.6h2.4M294.7,209.4V220.1M293.5,209.4h2.4M293.5,220.1h2.4M297.9,206.1V216.8M296.7,206.1h2.4M296.7,216.8h2.4M301.0,202.9V213.6M299.8,202.9h2.4M299.8,213.6h2.4M304.2,200.0V210.7M303.0,200.0h2.4M303.0,210.7h2.4M307.3,197.6V208.3M306.1,197.6h2.4M306.1,208.3h2.4M310.5,195.4V206.1M309.3,195.4h2.4M309.3,206.1h2.4M313.6,193.3V204.0M312.4,193.3h2.4M312.4,204.0h2.4M316.8,191.4V202.1M315.6,191.4h2.4M315.6,202.1h2.4M319.9,189.6V200.3M318.7,189.6h2.4M318.7,200.3h2.4M323.1,187.9V198.6M321.9,187.9h2.4M321.9,198.6h2.4M326.2,186.3V197.0M325.0,186.3h2.4M325.0,197.0h2.4M329.4,184.8V195.5M328.2,184.8h2.4M328.2,195.5h2.4M332.5,183.4V194.1M331.3,183.4h2.4M331.3,194.1h2.4M335.7,182.0V192.7M334.5,182.0h2.4M334.5,192.7h2.4M338.8,180.9V191.6M337.6,180.9h2.4M337.6,191.6h2.4M342.0,180.1V190.8M340.8,180.1h2.4M340.8,190.8h2.4M345.1,179.5V190.2M343.9,179.5h2.4M343.9,190.2h2.4M348.3,178.9V189.6M347.1,178.9h2.4M347.1,189.6h2.4M351.4,178.4V189.1M350.2,178.4h2.4M350.2,189.1h2.4M354.6,177.8V188.6M353.4,177.8h2.4M353.4,188.6h2.4M357.7,177.3V188.0M356.5,177.3h2.4M356.5,188.0h2.4M360.9,176.8V187.5M359.7,176.8h2.4M359.7,187.5h2.4M364.0,176.3V187.1M362.8,176.3h2.4M362.8,187.1h2.4M367.2,175.9V186.7M366.0,175.9h2.4M366.0,186.7h2.4M370.3,175.6V186.3M369.1,175.6h2.4M369.1,186.3h2.4M373.5,175.3V186.0M372.3,175.3h2.4M372.3,186.0h2.4M376.6,175.0V185.7M375.4,175.0h2.4M375.4,185.7h2.4M379.8,174.7V185.4M378.6,174.7h2.4M378.6,185.4h2.4M382.9,174.4V185.1M381.7,174.4h2.4M381.7,185.1h2.4" stroke="#5bc6e6" stroke-width="0.75" stroke-opacity="0.9" fill="none"/>
<path d="M112.1,290.4V292.6M110.9,290.4h2.4M110.9,292.6h2.4M115.2,289.0V291.2M114.0,289.0h2.4M114.0,291.2h2.4M118.4,287.6V289.9M117.2,287.6h2.4M117.2,289.9h2.4M121.5,286.3V288.6M120.3,286.3h2.4M120.3,288.6h2.4M124.7,285.0V287.4M123.5,285.0h2.4M123.5,287.4h2.4M127.8,283.8V286.3M126.6,283.8h2.4M126.6,286.3h2.4M131.0,282.9V285.4M129.8,282.9h2.4M129.8,285.4h2.4M134.1,282.3V284.9M132.9,282.3h2.4M132.9,284.9h2.4M137.3,282.0V284.6M136.1,282.0h2.4M136.1,284.6h2.4M140.4,281.7V284.4M139.2,281.7h2.4M139.2,284.4h2.4M143.6,281.4V284.1M142.4,281.4h2.4M142.4,284.1h2.4M146.7,281.1V283.9M145.5,281.1h2.4M145.5,283.9h2.4M149.9,280.9V283.8M148.7,280.9h2.4M148.7,283.8h2.4M153.0,280.7V283.6M151.8,280.7h2.4M151.8,283.6h2.4M156.2,280.4V283.4M155.0,280.4h2.4M155.0,283.4h2.4M159.3,280.2V283.2M158.1,280.2h2.4M158.1,283.2h2.4M162.5,279.9V282.9M161.3,279.9h2.4M161.3,282.9h2.4M165.6,279.5V282.6M164.4,279.5h2.4M164.4,282.6h2.4M168.8,279.1V282.3M167.6,279.1h2.4M167.6,282.3h2.4M171.9,278.6V281.9M170.7,278.6h2.4M170.7,281.9h2.4M175.1,278.2V281.5M173.9,278.2h2.4M173.9,281.5h2.4M178.2,277.6V281.0M177.0,277.6h2.4M177.0,281.0h2.4M181.4,277.1V280.6M180.2,277.1h2.4M180.2,280.6h2.4M184.5,276.5V280.1M183.3,276.5h2.4M183.3,280.1h2.4M187.7,275.9V279.5M186.5,275.9h2.4M186.5,279.5h2.4M190.8,275.2V278.9M189.6,275.2h2.4M189.6,278.9h2.4M194.0,274.5V278.2M192.8,274.5h2.4M192.8,278.2h2.4M197.1,273.8V277.5M195.9,273.8h2.4M195.9,277.5h2.4M200.3,273.0V276.8M199.1,273.0h2.4M199.1,276.8h2.4M203.4,272.1V276.0M202.2,272.1h2.4M202.2,276.0h2.4M206.6,271.2V275.1M205.4,271.2h2.4M205.4,275.1h2.4M209.7,270.2V274.2M208.5,270.2h2.4M208.5,274.2h2.4M212.9,269.1V273.1M211.7,269.1h2.4M211.7,273.1h2.4M216.0,267.7V271.8M214.8,267.7h2.4M214.8,271.8h2.4M219.2,266.0V270.2M218.0,266.0h2.4M218.0,270.2h2.4M222.3,264.6V268.8M221.1,264.6h2.4M221.1,268.8h2.4M225.5,263.9V268.2M224.3,263.9h2.4M224.3,268.2h2.4M228.6,263.2V269.1M227.4,263.2h2.4M227.4,269.1h2.4M231.8,263.3V270.8M230.6,263.3h2.4M230.6,270.8h2.4M234.9,262.7V271.8M233.7,262.7h2.4M233.7,271.8h2.4M238.1,253.3V264.1M236.9,253.3h2.4M236.9,264.1h2.4M241.2,248.1V258.8M240.0,248.1h2.4M240.0,258.8h2.4M244.4,248.1V258.8M243.2,248.1h2.4M243.2,258.8h2.4M247.5,248.1V258.8M246.3,248.1h2.4M246.3,258.8h2.4M250.7,248.1V258.8M249.5,248.1h2.4M249.5,258.8h2.4M253.8,248.0V258.7M252.6,248.0h2.4M252.6,258.7h2.4M257.0,247.1V257.8M255.8,247.1h2.4M255.8,257.8h2.4M260.1,245.8V256.5M258.9,245.8h2.4M258.9,256.5h2.4M263.3,244.4V255.1M262.1,244.4h2.4M262.1,255.1h2.4M266.4,242.6V253.3M265.2,242.6h2.4M265.2,253.3h2.4M269.5,240.4V251.2M268.3,240.4h2.4M268.3,251.2h2.4M272.7,238.1V248.8M271.5,238.1h2.4M271.5,248.8h2.4M275.8,235.6V246.4M274.6,235.6h2.4M274.6,246.4h2.4M279.0,233.1V243.8M277.8,233.1h2.4M277.8,243.8h2.4M282.1,230.5V241.3M280.9,230.5h2.4M280.9,241.3h2.4M285.3,228.0V238.7M284.1,228.0h2.4M284.1,238.7h2.4M288.4,225.3V236.0M287.2,225.3h2.4M287.2,236.0h2.4M291.6,222.4V233.1M290.4,222.4h2.4M290.4,233.1h2.4M294.7,219.4V230.1M293.5,219.4h2.4M293.5,230.1h2.4M297.9,216.4V227.1M296.7,216.4h2.4M296.7,227.1h2.4M301.0,213.5V224.2M299.8,213.5h2.4M299.8,224.2h2.4M304.2,210.7V221.4M303.0,210.7h2.4M303.0,221.4h2.4M307.3,208.0V218.7M306.1,208.0h2.4M306.1,218.7h2.4M310.5,205.4V216.1M309.3,205.4h2.4M309.3,216.1h2.4M313.6,202.8V213.5M312.4,202.8h2.4M312.4,213.5h2.4M316.8,200.3V211.0M315.6,200.3h2.4M315.6,211.0h2.4M319.9,197.8V208.5M318.7,197.8h2.4M318.7,208.5h2.4M323.1,195.5V206.2M321.9,195.5h2.4M321.9,206.2h2.4M326.2,193.3V204.1M325.0,193.3h2.4M325.0,204.1h2.4M329.4,191.4V202.1M328.2,191.4h2.4M328.2,202.1h2.4M332.5,189.7V200.4M331.3,189.7h2.4M331.3,200.4h2.4M335.7,188.1V198.8M334.5,188.1h2.4M334.5,198.8h2.4M338.8,186.8V197.5M337.6,186.8h2.4M337.6,197.5h2.4M342.0,185.7V196.4M340.8,185.7h2.4M340.8,196.4h2.4M345.1,184.7V195.4M343.9,184.7h2.4M343.9,195.4h2.4M348.3,183.9V194.6M347.1,183.9h2.4M347.1,194.6h2.4M351.4,183.2V193.9M350.2,183.2h2.4M350.2,193.9h2.4M354.6,182.7V193.4M353.4,182.7h2.4M353.4,193.4h2.4M357.7,182.2V192.9M356.5,182.2h2.4M356.5,192.9h2.4M360.9,181.8V192.5M359.7,181.8h2.4M359.7,192.5h2.4M364.0,181.6V192.3M362.8,181.6h2.4M362.8,192.3h2.4M367.2,181.6V192.3M366.0,181.6h2.4M366.0,192.3h2.4M370.3,181.6V192.3M369.1,181.6h2.4M369.1,192.3h2.4M373.5,181.6V192.3M372.3,181.6h2.4M372.3,192.3h2.4M376.6,181.6V192.3M375.4,181.6h2.4M375.4,192.3h2.4M379.8,181.6V192.3M378.6,181.6h2.4M378.6,192.3h2.4M382.9,181.6V192.3M381.7,181.6h2.4M381.7,192.3h2.4" stroke="#6a4fb4" stroke-width="0.75" stroke-opacity="0.9" fill="none"/>
<path d="M112.1,290.4V292.6M110.9,290.4h2.4M110.9,292.6h2.4M115.2,289.0V291.2M114.0,289.0h2.4M114.0,291.2h2.4M118.4,287.6V289.9M117.2,287.6h2.4M117.2,289.9h2.4M121.5,286.3V288.6M120.3,286.3h2.4M120.3,288.6h2.4M124.7,285.0V287.4M123.5,285.0h2.4M123.5,287.4h2.4M127.8,283.8V286.3M126.6,283.8h2.4M126.6,286.3h2.4M131.0,282.9V285.4M129.8,282.9h2.4M129.8,285.4h2.4M134.1,282.3V284.9M132.9,282.3h2.4M132.9,284.9h2.4M137.3,282.0V284.6M136.1,282.0h2.4M136.1,284.6h2.4M140.4,281.7V284.4M139.2,281.7h2.4M139.2,284.4h2.4M143.6,281.4V284.1M142.4,281.4h2.4M142.4,284.1h2.4M146.7,281.1V283.9M145.5,281.1h2.4M145.5,283.9h2.4M149.9,280.9V283.8M148.7,280.9h2.4M148.7,283.8h2.4M153.0,280.7V283.6M151.8,280.7h2.4M151.8,283.6h2.4M156.2,280.4V283.4M155.0,280.4h2.4M155.0,283.4h2.4M159.3,280.2V283.2M158.1,280.2h2.4M158.1,283.2h2.4M162.5,279.9V282.9M161.3,279.9h2.4M161.3,282.9h2.4M165.6,279.5V282.6M164.4,279.5h2.4M164.4,282.6h2.4M168.8,279.1V282.3M167.6,279.1h2.4M167.6,282.3h2.4M171.9,278.6V281.9M170.7,278.6h2.4M170.7,281.9h2.4M175.1,278.2V281.5M173.9,278.2h2.4M173.9,281.5h2.4M178.2,277.6V281.0M177.0,277.6h2.4M177.0,281.0h2.4M181.4,277.1V280.6M180.2,277.1h2.4M180.2,280.6h2.4M184.5,276.5V280.1M183.3,276.5h2.4M183.3,280.1h2.4M187.7,275.9V279.5M186.5,275.9h2.4M186.5,279.5h2.4M190.8,275.2V278.9M189.6,275.2h2.4M189.6,278.9h2.4M194.0,274.5V278.2M192.8,274.5h2.4M192.8,278.2h2.4M197.1,273.8V277.5M195.9,273.8h2.4M195.9,277.5h2.4M200.3,273.0V276.8M199.1,273.0h2.4M199.1,276.8h2.4M203.4,272.1V276.0M202.2,272.1h2.4M202.2,276.0h2.4M206.6,271.2V275.1M205.4,271.2h2.4M205.4,275.1h2.4M209.7,270.2V274.2M208.5,270.2h2.4M208.5,274.2h2.4M212.9,269.1V273.1M211.7,269.1h2.4M211.7,273.1h2.4M216.0,267.7V271.8M214.8,267.7h2.4M214.8,271.8h2.4M219.2,266.0V270.2M218.0,266.0h2.4M218.0,270.2h2.4M222.3,264.6V268.8M221.1,264.6h2.4M221.1,268.8h2.4M225.5,263.9V268.2M224.3,263.9h2.4M224.3,268.2h2.4M228.6,263.2V269.1M227.4,263.2h2.4M227.4,269.1h2.4M231.8,263.2V270.7M230.6,263.2h2.4M230.6,270.7h2.4M234.9,261.9V271.0M233.7,261.9h2.4M233.7,271.0h2.4M238.1,253.1V263.8M236.9,253.1h2.4M236.9,263.8h2.4M241.2,249.1V259.9M240.0,249.1h2.4M240.0,259.9h2.4M244.4,249.1V259.9M243.2,249.1h2.4M243.2,259.9h2.4M247.5,249.1V259.9M246.3,249.1h2.4M246.3,259.9h2.4M250.7,249.1V259.9M249.5,249.1h2.4M249.5,259.9h2.4M253.8,249.0V259.7M252.6,249.0h2.4M252.6,259.7h2.4M257.0,247.7V258.4M255.8,247.7h2.4M255.8,258.4h2.4M260.1,245.9V256.7M258.9,245.9h2.4M258.9,256.7h2.4M263.3,244.2V254.9M262.1,244.2h2.4M262.1,254.9h2.4M266.4,242.3V253.0M265.2,242.3h2.4M265.2,253.0h2.4M269.5,240.2V250.9M268.3,240.2h2.4M268.3,250.9h2.4M272.7,237.9V248.6M271.5,237.9h2.4M271.5,248.6h2.4M275.8,235.6V246.3M274.6,235.6h2.4M274.6,246.3h2.4M279.0,233.2V243.9M277.8,233.2h2.4M277.8,243.9h2.4M282.1,230.8V241.5M280.9,230.8h2.4M280.9,241.5h2.4M285.3,228.4V239.1M284.1,228.4h2.4M284.1,239.1h2.4M288.4,225.7V236.5M287.2,225.7h2.4M287.2,236.5h2.4M291.6,223.0V233.7M290.4,223.0h2.4M290.4,233.7h2.4M294.7,220.1V230.8M293.5,220.1h2.4M293.5,230.8h2.4M297.9,217.3V228.1M296.7,217.3h2.4M296.7,228.1h2.4M301.0,214.7V225.4M299.8,214.7h2.4M299.8,225.4h2.4M304.2,212.3V223.0M303.0,212.3h2.4M303.0,223.0h2.4M307.3,210.2V220.9M306.1,210.2h2.4M306.1,220.9h2.4M310.5,208.3V219.0M309.3,208.3h2.4M309.3,219.0h2.4M313.6,206.5V217.2M312.4,206.5h2.4M312.4,217.2h2.4M316.8,204.7V215.5M315.6,204.7h2.4M315.6,215.5h2.4M319.9,203.2V213.9M318.7,203.2h2.4M318.7,213.9h2.4M323.1,201.7V212.4M321.9,201.7h2.4M321.9,212.4h2.4M326.2,200.3V211.0M325.0,200.3h2.4M325.0,211.0h2.4M329.4,199.0V209.7M328.2,199.0h2.4M328.2,209.7h2.4M332.5,197.8V208.6M331.3,197.8h2.4M331.3,208.6h2.4M335.7,196.8V207.5M334.5,196.8h2.4M334.5,207.5h2.4M338.8,195.9V206.6M337.6,195.9h2.4M337.6,206.6h2.4M342.0,195.1V205.8M340.8,195.1h2.4M340.8,205.8h2.4M345.1,194.4V205.1M343.9,194.4h2.4M343.9,205.1h2.4M348.3,193.8V204.5M347.1,193.8h2.4M347.1,204.5h2.4M351.4,193.4V204.1M350.2,193.4h2.4M350.2,204.1h2.4M354.6,193.2V203.9M353.4,193.2h2.4M353.4,203.9h2.4M357.7,193.0V203.8M356.5,193.0h2.4M356.5,203.8h2.4M360.9,192.9V203.6M359.7,192.9h2.4M359.7,203.6h2.4M364.0,192.9V203.6M362.8,192.9h2.4M362.8,203.6h2.4M367.2,192.9V203.6M366.0,192.9h2.4M366.0,203.6h2.4M370.3,192.9V203.7M369.1,192.9h2.4M369.1,203.7h2.4M373.5,193.0V203.7M372.3,193.0h2.4M372.3,203.7h2.4M376.6,193.1V203.8M375.4,193.1h2.4M375.4,203.8h2.4M379.8,193.2V203.9M378.6,193.2h2.4M378.6,203.9h2.4M382.9,193.3V204.1M381.7,193.3h2.4M381.7,204.1h2.4" stroke="#c9a3aa" stroke-width="0.75" stroke-opacity="0.9" fill="none"/>
<path d="M112.1,290.4V292.6M110.9,290.4h2.4M110.9,292.6h2.4M115.2,289.0V291.2M114.0,289.0h2.4M114.0,291.2h2.4M118.4,287.6V289.9M117.2,287.6h2.4M117.2,289.9h2.4M121.5,286.3V288.6M120.3,286.3h2.4M120.3,288.6h2.4M124.7,285.0V287.4M123.5,285.0h2.4M123.5,287.4h2.4M127.8,283.8V286.3M126.6,283.8h2.4M126.6,286.3h2.4M131.0,282.9V285.4M129.8,282.9h2.4M129.8,285.4h2.4M134.1,282.3V284.9M132.9,282.3h2.4M132.9,284.9h2.4M137.3,282.0V284.6M136.1,282.0h2.4M136.1,284.6h2.4M140.4,281.7V284.4M139.2,281.7h2.4M139.2,284.4h2.4M143.6,281.4V284.1M142.4,281.4h2.4M142.4,284.1h2.4M146.7,281.2V284.0M145.5,281.2h2.4M145.5,284.0h2.4M149.9,280.9V283.8M148.7,280.9h2.4M148.7,283.8h2.4M153.0,280.7V283.6M151.8,280.7h2.4M151.8,283.6h2.4M156.2,280.5V283.4M155.0,280.5h2.4M155.0,283.4h2.4M159.3,280.2V283.2M158.1,280.2h2.4M158.1,283.2h2.4M162.5,279.8V282.9M161.3,279.8h2.4M161.3,282.9h2.4M165.6,279.4V282.6M164.4,279.4h2.4M164.4,282.6h2.4M168.8,278.9V282.2M167.6,278.9h2.4M167.6,282.2h2.4M171.9,278.4V281.7M170.7,278.4h2.4M170.7,281.7h2.4M175.1,277.8V281.1M173.9,277.8h2.4M173.9,281.1h2.4M178.2,277.1V280.5M177.0,277.1h2.4M177.0,280.5h2.4M181.4,276.4V279.9M180.2,276.4h2.4M180.2,279.9h2.4M184.5,275.6V279.1M183.3,275.6h2.4M183.3,279.1h2.4M187.7,274.7V278.2M186.5,274.7h2.4M186.5,278.2h2.4M190.8,273.6V277.2M189.6,273.6h2.4M189.6,277.2h2.4M194.0,272.5V276.1M192.8,272.5h2.4M192.8,276.1h2.4M197.1,271.3V275.1M195.9,271.3h2.4M195.9,275.1h2.4M200.3,270.3V274.1M199.1,270.3h2.4M199.1,274.1h2.4M203.4,269.3V273.2M202.2,269.3h2.4M202.2,273.2h2.4M206.6,268.4V272.3M205.4,268.4h2.4M205.4,272.3h2.4M209.7,267.5V271.4M208.5,267.5h2.4M208.5,271.4h2.4M212.9,266.4V270.5M211.7,266.4h2.4M211.7,270.5h2.4M216.0,265.3V269.5M214.8,265.3h2.4M214.8,269.5h2.4M219.2,264.2V268.4M218.0,264.2h2.4M218.0,268.4h2.4M222.3,262.9V267.1M221.1,262.9h2.4M221.1,267.1h2.4M225.5,261.3V265.5M224.3,261.3h2.4M224.3,265.5h2.4M228.6,257.6V263.5M227.4,257.6h2.4M227.4,263.5h2.4M231.8,254.2V261.7M230.6,254.2h2.4M230.6,261.7h2.4M234.9,249.6V258.7M233.7,249.6h2.4M233.7,258.7h2.4M238.1,238.1V248.8M236.9,238.1h2.4M236.9,248.8h2.4M241.2,234.9V245.6M240.0,234.9h2.4M240.0,245.6h2.4M244.4,234.8V245.5M243.2,234.8h2.4M243.2,245.5h2.4M247.5,234.8V245.5M246.3,234.8h2.4M246.3,245.5h2.4M250.7,234.7V245.5M249.5,234.7h2.4M249.5,245.5h2.4M253.8,234.7V245.4M252.6,234.7h2.4M252.6,245.4h2.4M257.0,234.1V244.8M255.8,234.1h2.4M255.8,244.8h2.4M260.1,233.1V243.8M258.9,233.1h2.4M258.9,243.8h2.4M263.3,231.8V242.5M262.1,231.8h2.4M262.1,242.5h2.4M266.4,230.2V240.9M265.2,230.2h2.4M265.2,240.9h2.4M269.5,228.3V239.0M268.3,228.3h2.4M268.3,239.0h2.4M272.7,226.2V236.9M271.5,226.2h2.4M271.5,236.9h2.4M275.8,224.0V234.7M274.6,224.0h2.4M274.6,234.7h2.4M279.0,221.9V232.6M277.8,221.9h2.4M277.8,232.6h2.4M282.1,219.8V230.5M280.9,219.8h2.4M280.9,230.5h2.4M285.3,217.9V228.6M284.1,217.9h2.4M284.1,228.6h2.4M288.4,215.8V226.6M287.2,215.8h2.4M287.2,226.6h2.4M291.6,213.8V224.5M290.4,213.8h2.4M290.4,224.5h2.4M294.7,211.7V222.4M293.5,211.7h2.4M293.5,222.4h2.4M297.9,209.7V220.4M296.7,209.7h2.4M296.7,220.4h2.4M301.0,207.8V218.6M299.8,207.8h2.4M299.8,218.6h2.4M304.2,206.2V216.9M303.0,206.2h2.4M303.0,216.9h2.4M307.3,204.8V215.6M306.1,204.8h2.4M306.1,215.6h2.4M310.5,203.7V214.4M309.3,203.7h2.4M309.3,214.4h2.4M313.6,202.6V213.3M312.4,202.6h2.4M312.4,213.3h2.4M316.8,201.6V212.3M315.6,201.6h2.4M315.6,212.3h2.4M319.9,200.7V211.4M318.7,200.7h2.4M318.7,211.4h2.4M323.1,199.8V210.5M321.9,199.8h2.4M321.9,210.5h2.4M326.2,199.0V209.7M325.0,199.0h2.4M325.0,209.7h2.4M329.4,198.2V208.9M328.2,198.2h2.4M328.2,208.9h2.4M332.5,197.4V208.1M331.3,197.4h2.4M331.3,208.1h2.4M335.7,196.7V207.4M334.5,196.7h2.4M334.5,207.4h2.4M338.8,196.0V206.7M337.6,196.0h2.4M337.6,206.7h2.4M342.0,195.1V205.8M340.8,195.1h2.4M340.8,205.8h2.4M345.1,194.0V204.7M343.9,194.0h2.4M343.9,204.7h2.4M348.3,193.0V203.7M347.1,193.0h2.4M347.1,203.7h2.4M351.4,192.3V203.1M350.2,192.3h2.4M350.2,203.1h2.4M354.6,191.9V202.7M353.4,191.9h2.4M353.4,202.7h2.4M357.7,191.6V202.3M356.5,191.6h2.4M356.5,202.3h2.4M360.9,191.4V202.1M359.7,191.4h2.4M359.7,202.1h2.4M364.0,191.3V202.0M362.8,191.3h2.4M362.8,202.0h2.4M367.2,191.3V202.0M366.0,191.3h2.4M366.0,202.0h2.4M370.3,191.4V202.1M369.1,191.4h2.4M369.1,202.1h2.4M373.5,191.6V202.3M372.3,191.6h2.4M372.3,202.3h2.4M376.6,191.8V202.5M375.4,191.8h2.4M375.4,202.5h2.4M379.8,192.0V202.7M378.6,192.0h2.4M378.6,202.7h2.4M382.9,192.2V202.9M381.7,192.2h2.4M381.7,202.9h2.4" stroke="#3fae7c" stroke-width="0.75" stroke-opacity="0.9" fill="none"/>
<path d="M112.1,291.5 L113.4,291.0 L114.6,290.4 L115.9,289.9 L117.1,289.4 L118.4,288.9 L119.6,288.3 L120.9,287.9 L122.1,287.4 L122.2,287.4 L123.4,286.9 L124.6,286.5 L125.9,286.0 L127.1,285.5 L128.4,285.1 L129.7,284.8 L130.9,284.5 L132.2,284.2 L132.3,284.2 L133.4,284.1 L134.7,284.0 L135.9,283.8 L137.2,283.7 L138.4,283.7 L139.7,283.6 L140.4,283.5 L140.9,283.5 L142.2,283.4 L143.4,283.3 L144.7,283.2 L146.0,283.1 L147.2,283.0 L148.5,283.0 L149.7,282.9 L151.0,282.8 L152.2,282.7 L153.5,282.6 L154.7,282.6 L156.0,282.5 L157.2,282.4 L158.5,282.3 L159.7,282.2 L161.0,282.1 L161.2,282.1 L162.3,282.0 L163.5,281.8 L164.8,281.7 L166.0,281.6 L167.3,281.4 L168.5,281.3 L169.8,281.1 L171.0,280.9 L172.3,280.8 L173.5,280.6 L174.8,280.4 L176.0,280.2 L177.3,280.0 L178.6,279.8 L179.8,279.6 L181.1,279.4 L181.4,279.4 L182.3,279.2 L183.6,279.0 L184.8,278.8 L186.1,278.6 L187.3,278.3 L188.6,278.1 L189.8,277.8 L191.1,277.5 L192.3,277.3 L193.6,277.0 L194.9,276.7 L196.1,276.4 L197.4,276.1 L198.6,275.8 L199.9,275.5 L200.3,275.4 L201.1,275.2 L202.4,274.9 L203.6,274.5 L204.9,274.2 L206.1,273.8 L207.4,273.4 L208.6,273.0 L209.9,272.6 L211.2,272.2 L212.4,271.8 L212.9,271.7 L213.7,271.4 L214.9,270.8 L216.2,270.2 L217.4,269.5 L218.7,268.9 L219.9,268.2 L221.2,267.6 L222.4,267.2 L223.7,266.8 L224.9,266.6 L225.5,266.6 L226.2,266.6 L227.5,266.7 L228.7,266.7 L230.0,266.8 L230.5,266.8 L231.2,267.1 L232.5,268.0 L233.7,268.4 L233.7,268.4 L235.0,267.9 L236.2,266.9 L236.8,266.3 L237.5,265.2 L238.7,262.3 L239.9,260.7 L240.0,260.7 L241.2,260.7 L242.5,260.8 L243.8,260.9 L245.0,261.0 L246.3,261.1 L247.5,261.2 L248.8,261.3 L250.0,261.4 L251.3,261.5 L252.5,261.5 L252.5,261.5 L253.8,261.3 L255.0,260.8 L256.3,260.1 L257.5,259.3 L258.8,258.5 L260.1,257.8 L260.1,257.7 L261.3,257.1 L262.6,256.4 L263.8,255.8 L265.1,255.1 L266.3,254.5 L267.6,253.8 L268.8,253.1 L270.1,252.5 L271.3,251.8 L272.6,251.1 L273.8,250.3 L275.1,249.6 L276.4,248.9 L277.6,248.1 L278.9,247.3 L280.1,246.5 L281.4,245.6 L282.6,244.8 L283.4,244.2 L283.9,243.9 L285.1,242.9 L286.4,241.8 L287.6,240.7 L288.9,239.6 L290.1,238.3 L291.4,237.1 L292.7,235.8 L293.9,234.5 L295.2,233.2 L296.4,231.8 L297.7,230.5 L298.9,229.2 L300.2,227.9 L301.4,226.7 L302.7,225.5 L303.9,224.3 L305.2,223.3 L306.4,222.2 L306.7,222.0 L307.7,221.3 L309.0,220.3 L310.2,219.4 L311.5,218.4 L312.7,217.5 L314.0,216.6 L315.2,215.7 L316.5,214.8 L317.7,213.9 L319.0,213.1 L320.2,212.3 L321.5,211.5 L322.7,210.7 L324.0,210.0 L325.2,209.3 L326.5,208.6 L327.8,208.0 L329.0,207.4 L330.0,206.9 L330.3,206.8 L331.5,206.3 L332.8,205.8 L334.0,205.3 L335.3,204.8 L336.5,204.4 L337.8,204.0 L339.0,203.7 L340.1,203.4 L340.3,203.3 L341.5,203.0 L342.8,202.7 L344.1,202.4 L345.3,202.1 L346.6,201.8 L347.8,201.5 L349.1,201.3 L350.3,201.1 L351.4,200.9 L351.6,200.9 L352.8,200.7 L354.1,200.5 L355.3,200.3 L356.6,200.1 L357.8,199.9 L359.1,199.7 L360.4,199.6 L361.6,199.4 L362.9,199.3 L364.1,199.3 L364.6,199.3 L365.4,199.3 L366.6,199.3 L367.9,199.4 L369.1,199.5 L370.4,199.6 L371.6,199.7 L372.9,199.8 L374.1,200.0 L375.4,200.2 L376.7,200.3 L377.9,200.5 L379.2,200.7 L380.4,200.8 L381.7,201.0 L382.9,201.2 L384.2,201.3 L385.4,201.4" stroke="#e23a44" stroke-width="1.9" fill="none" stroke-linejoin="round"/>
<path d="M112.1,291.5 L113.4,291.0 L114.6,290.4 L115.9,289.9 L117.1,289.4 L118.4,288.9 L119.6,288.3 L120.9,287.9 L122.1,287.4 L122.2,287.4 L123.4,286.9 L124.6,286.5 L125.9,286.0 L127.1,285.5 L128.4,285.1 L129.7,284.8 L130.9,284.5 L132.2,284.2 L132.3,284.2 L133.4,284.1 L134.7,284.0 L135.9,283.8 L137.2,283.7 L138.4,283.7 L139.7,283.6 L140.4,283.5 L140.9,283.5 L142.2,283.4 L143.4,283.3 L144.7,283.2 L146.0,283.1 L147.2,283.0 L148.5,283.0 L149.7,282.9 L151.0,282.8 L152.2,282.7 L153.5,282.6 L154.7,282.6 L156.0,282.5 L157.2,282.4 L158.5,282.3 L159.7,282.2 L161.0,282.1 L161.2,282.1 L162.3,282.0 L163.5,281.8 L164.8,281.7 L166.0,281.6 L167.3,281.4 L168.5,281.3 L169.8,281.1 L171.0,280.9 L172.3,280.8 L173.5,280.6 L174.8,280.4 L176.0,280.2 L177.3,280.0 L178.6,279.8 L179.8,279.6 L181.1,279.4 L181.4,279.4 L182.3,279.2 L183.6,279.0 L184.8,278.8 L186.1,278.6 L187.3,278.3 L188.6,278.1 L189.8,277.8 L191.1,277.5 L192.3,277.3 L193.6,277.0 L194.9,276.7 L196.1,276.4 L197.4,276.1 L198.6,275.8 L199.9,275.5 L200.3,275.4 L201.1,275.2 L202.4,274.9 L203.6,274.5 L204.9,274.2 L206.1,273.8 L207.4,273.4 L208.6,273.0 L209.9,272.6 L211.2,272.2 L212.4,271.8 L212.9,271.7 L213.7,271.4 L214.9,270.8 L216.2,270.2 L217.4,269.5 L218.7,268.9 L219.9,268.2 L221.2,267.6 L222.4,267.2 L223.7,266.8 L224.9,266.6 L225.5,266.6 L226.2,266.6 L227.5,266.7 L228.7,266.7 L230.0,266.8 L230.5,266.8 L231.2,267.1 L232.5,268.0 L233.7,268.4 L233.7,268.4 L235.0,268.0 L236.2,266.9 L236.8,266.3 L237.5,265.1 L238.7,261.7 L239.9,259.9 L240.0,259.9 L241.2,259.9 L242.5,259.9 L243.8,259.9 L245.0,259.9 L246.3,259.9 L247.5,259.9 L248.8,259.9 L250.0,259.9 L251.3,259.9 L252.5,259.9 L252.5,259.9 L253.8,259.8 L255.0,259.5 L256.3,259.1 L257.5,258.7 L258.8,258.2 L260.1,257.7 L260.1,257.7 L261.3,257.3 L262.6,256.8 L263.8,256.3 L265.1,255.7 L266.3,255.2 L267.6,254.6 L268.8,253.9 L270.1,253.3 L271.3,252.6 L272.6,251.9 L273.8,251.2 L275.1,250.5 L276.4,249.8 L277.6,249.0 L278.9,248.3 L280.1,247.5 L281.4,246.7 L282.6,245.9 L283.4,245.4 L283.9,245.1 L285.1,244.2 L286.4,243.3 L287.6,242.4 L288.9,241.4 L290.1,240.4 L291.4,239.4 L292.7,238.3 L293.9,237.2 L295.2,236.2 L296.4,235.1 L297.7,234.0 L298.9,232.9 L300.2,231.8 L301.4,230.8 L302.7,229.7 L303.9,228.7 L305.2,227.8 L306.4,226.8 L306.7,226.6 L307.7,225.9 L309.0,225.0 L310.2,224.1 L311.5,223.2 L312.7,222.3 L314.0,221.4 L315.2,220.5 L316.5,219.6 L317.7,218.7 L319.0,217.8 L320.2,217.0 L321.5,216.2 L322.7,215.4 L324.0,214.6 L325.2,213.9 L326.5,213.2 L327.8,212.6 L329.0,212.0 L330.0,211.5 L330.3,211.4 L331.5,210.9 L332.8,210.4 L334.0,209.9 L335.3,209.4 L336.5,209.0 L337.8,208.6 L339.0,208.3 L340.1,208.0 L340.3,207.9 L341.5,207.6 L342.8,207.3 L344.1,207.1 L345.3,206.8 L346.6,206.5 L347.8,206.3 L349.1,206.1 L350.3,205.9 L351.4,205.7 L351.6,205.7 L352.8,205.5 L354.1,205.3 L355.3,205.1 L356.6,204.9 L357.8,204.8 L359.1,204.6 L360.4,204.5 L361.6,204.4 L362.9,204.3 L364.1,204.2 L364.6,204.2 L365.4,204.2 L366.6,204.3 L367.9,204.3 L369.1,204.3 L370.4,204.4 L371.6,204.5 L372.9,204.6 L374.1,204.6 L375.4,204.7 L376.7,204.8 L377.9,204.9 L379.2,205.0 L380.4,205.2 L381.7,205.3 L382.9,205.3 L384.2,205.4 L385.4,205.5" stroke="#55b947" stroke-width="1.9" fill="none" stroke-linejoin="round"/>
<path d="M112.1,291.5 L113.4,291.0 L114.6,290.4 L115.9,289.8 L117.1,289.3 L118.4,288.7 L119.6,288.2 L120.9,287.7 L122.1,287.2 L122.2,287.2 L123.4,286.7 L124.6,286.3 L125.9,285.8 L127.1,285.3 L128.4,284.9 L129.7,284.5 L130.9,284.1 L132.2,283.9 L132.3,283.9 L133.4,283.7 L134.7,283.6 L135.9,283.4 L137.2,283.3 L138.4,283.2 L139.7,283.1 L140.4,283.0 L140.9,283.0 L142.2,282.9 L143.4,282.8 L144.7,282.7 L146.0,282.6 L147.2,282.5 L148.5,282.4 L149.7,282.4 L151.0,282.3 L152.2,282.2 L153.5,282.1 L154.7,282.0 L156.0,281.9 L157.2,281.9 L158.5,281.8 L159.7,281.7 L161.0,281.5 L161.2,281.5 L162.3,281.4 L163.5,281.3 L164.8,281.2 L166.0,281.0 L167.3,280.9 L168.5,280.7 L169.8,280.6 L171.0,280.4 L172.3,280.2 L173.5,280.0 L174.8,279.9 L176.0,279.7 L177.3,279.5 L178.6,279.3 L179.8,279.1 L181.1,278.9 L181.4,278.8 L182.3,278.7 L183.6,278.5 L184.8,278.2 L186.1,278.0 L187.3,277.8 L188.6,277.5 L189.8,277.3 L191.1,277.0 L192.3,276.7 L193.6,276.5 L194.9,276.2 L196.1,275.9 L197.4,275.6 L198.6,275.3 L199.9,275.0 L200.3,274.9 L201.1,274.7 L202.4,274.3 L203.6,274.0 L204.9,273.6 L206.1,273.3 L207.4,272.9 L208.6,272.5 L209.9,272.1 L211.2,271.7 L212.4,271.3 L212.9,271.1 L213.7,270.8 L214.9,270.3 L216.2,269.7 L217.4,269.0 L218.7,268.3 L219.9,267.7 L221.2,267.1 L222.4,266.6 L223.7,266.3 L224.9,266.1 L225.5,266.1 L226.2,266.1 L227.5,266.1 L228.7,266.2 L230.0,266.3 L230.5,266.3 L231.2,266.6 L232.5,267.8 L233.7,268.4 L233.7,268.4 L235.0,267.4 L236.2,265.2 L236.8,264.2 L237.5,262.3 L238.7,257.5 L239.9,254.9 L240.0,254.9 L241.2,255.0 L242.5,255.0 L243.8,255.1 L245.0,255.2 L246.3,255.3 L247.5,255.4 L248.8,255.4 L250.0,255.5 L251.3,255.6 L252.5,255.6 L252.5,255.6 L253.8,255.5 L255.0,255.4 L256.3,255.2 L257.5,255.0 L258.8,254.8 L260.1,254.5 L260.1,254.5 L261.3,254.2 L262.6,253.9 L263.8,253.5 L265.1,253.0 L266.3,252.4 L267.6,251.9 L268.8,251.2 L270.1,250.6 L271.3,249.8 L272.6,249.1 L273.8,248.3 L275.1,247.5 L276.4,246.7 L277.6,245.9 L278.9,245.0 L280.1,244.1 L281.4,243.3 L282.6,242.4 L283.4,241.9 L283.9,241.5 L285.1,240.6 L286.4,239.6 L287.6,238.5 L288.9,237.4 L290.1,236.3 L291.4,235.0 L292.7,233.8 L293.9,232.5 L295.2,231.3 L296.4,230.0 L297.7,228.6 L298.9,227.3 L300.2,226.0 L301.4,224.8 L302.7,223.5 L303.9,222.3 L305.2,221.1 L306.4,219.9 L306.7,219.7 L307.7,218.8 L309.0,217.6 L310.2,216.5 L311.5,215.3 L312.7,214.2 L314.0,213.0 L315.2,211.9 L316.5,210.8 L317.7,209.6 L319.0,208.5 L320.2,207.4 L321.5,206.4 L322.7,205.3 L324.0,204.3 L325.2,203.3 L326.5,202.4 L327.8,201.5 L329.0,200.6 L330.0,199.9 L330.3,199.8 L331.5,199.0 L332.8,198.2 L334.0,197.5 L335.3,196.8 L336.5,196.2 L337.8,195.6 L339.0,195.0 L340.1,194.5 L340.3,194.4 L341.5,193.8 L342.8,193.3 L344.1,192.8 L345.3,192.2 L346.6,191.8 L347.8,191.3 L349.1,190.9 L350.3,190.5 L351.4,190.2 L351.6,190.1 L352.8,189.8 L354.1,189.5 L355.3,189.1 L356.6,188.8 L357.8,188.5 L359.1,188.3 L360.4,188.0 L361.6,187.8 L362.9,187.7 L364.1,187.5 L364.6,187.5 L365.4,187.5 L366.6,187.4 L367.9,187.4 L369.1,187.3 L370.4,187.3 L371.6,187.3 L372.9,187.2 L374.1,187.2 L375.4,187.2 L376.7,187.1 L377.9,187.1 L379.2,187.1 L380.4,187.1 L381.7,187.1 L382.9,187.0 L384.2,187.0 L385.4,187.0" stroke="#3b4ba6" stroke-width="1.9" fill="none" stroke-linejoin="round"/>
<path d="M112.1,291.5 L113.4,291.0 L114.6,290.5 L115.9,290.0 L117.1,289.5 L118.4,289.0 L119.6,288.5 L120.9,288.0 L122.1,287.6 L122.2,287.5 L123.4,287.1 L124.6,286.7 L125.9,286.2 L127.1,285.8 L128.4,285.4 L129.7,285.1 L130.9,284.8 L132.2,284.6 L132.3,284.6 L133.4,284.4 L134.7,284.3 L135.9,284.3 L137.2,284.2 L138.4,284.1 L139.7,284.0 L140.4,284.0 L140.9,284.0 L142.2,283.9 L143.4,283.8 L144.7,283.7 L146.0,283.6 L147.2,283.6 L148.5,283.5 L149.7,283.4 L151.0,283.3 L152.2,283.3 L153.5,283.2 L154.7,283.1 L156.0,283.0 L157.2,282.9 L158.5,282.8 L159.7,282.7 L161.0,282.6 L161.2,282.6 L162.3,282.5 L163.5,282.4 L164.8,282.2 L166.0,282.1 L167.3,282.0 L168.5,281.8 L169.8,281.6 L171.0,281.5 L172.3,281.3 L173.5,281.1 L174.8,280.9 L176.0,280.8 L177.3,280.6 L178.6,280.4 L179.8,280.2 L181.1,280.0 L181.4,279.9 L182.3,279.8 L183.6,279.5 L184.8,279.3 L186.1,279.1 L187.3,278.8 L188.6,278.6 L189.8,278.3 L191.1,278.1 L192.3,277.8 L193.6,277.5 L194.9,277.2 L196.1,277.0 L197.4,276.7 L198.6,276.4 L199.9,276.0 L200.3,275.9 L201.1,275.7 L202.4,275.4 L203.6,275.1 L204.9,274.7 L206.1,274.3 L207.4,274.0 L208.6,273.6 L209.9,273.2 L211.2,272.8 L212.4,272.4 L212.9,272.2 L213.7,271.9 L214.9,271.4 L216.2,270.7 L217.4,270.1 L218.7,269.4 L219.9,268.8 L221.2,268.2 L222.4,267.7 L223.7,267.4 L224.9,267.2 L225.5,267.2 L226.2,267.2 L227.5,267.2 L228.7,267.2 L230.0,267.3 L230.5,267.4 L231.2,268.1 L232.5,271.1 L233.7,272.7 L233.7,272.7 L235.0,271.1 L236.2,267.8 L236.8,266.3 L237.5,264.2 L238.7,259.5 L239.9,257.2 L240.0,257.2 L241.2,257.2 L242.5,257.2 L243.8,257.2 L245.0,257.2 L246.3,257.2 L247.5,257.2 L248.8,257.2 L250.0,257.2 L251.3,257.2 L252.5,257.2 L252.5,257.2 L253.8,257.1 L255.0,256.7 L256.3,256.3 L257.5,255.7 L258.8,255.1 L260.1,254.5 L260.1,254.5 L261.3,254.0 L262.6,253.4 L263.8,252.7 L265.1,252.1 L266.3,251.4 L267.6,250.6 L268.8,249.9 L270.1,249.1 L271.3,248.3 L272.6,247.5 L273.8,246.6 L275.1,245.7 L276.4,244.8 L277.6,243.9 L278.9,243.0 L280.1,242.1 L281.4,241.1 L282.6,240.1 L283.4,239.5 L283.9,239.1 L285.1,238.1 L286.4,237.0 L287.6,235.8 L288.9,234.5 L290.1,233.3 L291.4,232.0 L292.7,230.6 L293.9,229.3 L295.2,227.9 L296.4,226.5 L297.7,225.1 L298.9,223.7 L300.2,222.4 L301.4,221.1 L302.7,219.8 L303.9,218.5 L305.2,217.3 L306.4,216.2 L306.7,215.9 L307.7,215.0 L309.0,213.9 L310.2,212.8 L311.5,211.6 L312.7,210.5 L314.0,209.3 L315.2,208.2 L316.5,207.1 L317.7,206.0 L319.0,205.0 L320.2,203.9 L321.5,202.9 L322.7,202.0 L324.0,201.1 L325.2,200.3 L326.5,199.5 L327.8,198.8 L329.0,198.1 L330.0,197.7 L330.3,197.6 L331.5,197.1 L332.8,196.6 L334.0,196.1 L335.3,195.7 L336.5,195.3 L337.8,195.0 L339.0,194.7 L340.1,194.5 L340.3,194.4 L341.5,194.2 L342.8,194.0 L344.1,193.8 L345.3,193.6 L346.6,193.4 L347.8,193.3 L349.1,193.1 L350.3,193.0 L351.4,192.9 L351.6,192.9 L352.8,192.7 L354.1,192.6 L355.3,192.4 L356.6,192.3 L357.8,192.2 L359.1,192.1 L360.4,192.0 L361.6,191.9 L362.9,191.8 L364.1,191.8 L364.6,191.8 L365.4,191.8 L366.6,191.8 L367.9,191.8 L369.1,191.8 L370.4,191.9 L371.6,191.9 L372.9,191.9 L374.1,192.0 L375.4,192.0 L376.7,192.1 L377.9,192.1 L379.2,192.1 L380.4,192.2 L381.7,192.2 L382.9,192.3 L384.2,192.3 L385.4,192.3" stroke="#b53d9d" stroke-width="1.9" fill="none" stroke-linejoin="round"/>
<path d="M112.1,291.5 L113.4,290.9 L114.6,290.4 L115.9,289.8 L117.1,289.3 L118.4,288.7 L119.6,288.2 L120.9,287.6 L122.1,287.2 L122.2,287.1 L123.4,286.7 L124.6,286.2 L125.9,285.7 L127.1,285.2 L128.4,284.8 L129.7,284.4 L130.9,284.0 L132.2,283.8 L132.3,283.7 L133.4,283.6 L134.7,283.4 L135.9,283.3 L137.2,283.1 L138.4,283.0 L139.7,282.9 L140.4,282.8 L140.9,282.8 L142.2,282.7 L143.4,282.6 L144.7,282.5 L146.0,282.4 L147.2,282.3 L148.5,282.2 L149.7,282.1 L151.0,282.1 L152.2,282.0 L153.5,281.9 L154.7,281.8 L156.0,281.7 L157.2,281.6 L158.5,281.5 L159.7,281.4 L161.0,281.3 L161.2,281.3 L162.3,281.2 L163.5,281.1 L164.8,280.9 L166.0,280.8 L167.3,280.7 L168.5,280.5 L169.8,280.3 L171.0,280.2 L172.3,280.0 L173.5,279.8 L174.8,279.6 L176.0,279.5 L177.3,279.3 L178.6,279.1 L179.8,278.9 L181.1,278.7 L181.4,278.6 L182.3,278.5 L183.6,278.3 L184.8,278.0 L186.1,277.8 L187.3,277.6 L188.6,277.3 L189.8,277.1 L191.1,276.8 L192.3,276.5 L193.6,276.2 L194.9,276.0 L196.1,275.7 L197.4,275.4 L198.6,275.1 L199.9,274.8 L200.3,274.7 L201.1,274.4 L202.4,274.1 L203.6,273.8 L204.9,273.4 L206.1,273.1 L207.4,272.7 L208.6,272.3 L209.9,271.9 L211.2,271.5 L212.4,271.1 L212.9,270.9 L213.7,270.6 L214.9,270.1 L216.2,269.4 L217.4,268.8 L218.7,268.1 L219.9,267.5 L221.2,266.9 L222.4,266.4 L223.7,266.1 L224.9,265.9 L225.5,265.9 L226.2,265.9 L227.5,265.9 L228.7,266.0 L230.0,266.0 L230.5,266.1 L231.2,266.3 L232.5,267.0 L233.7,267.4 L233.7,267.4 L235.0,265.4 L236.2,261.5 L236.8,259.9 L237.5,257.7 L238.7,253.0 L239.9,250.8 L240.0,250.8 L241.2,250.8 L242.5,250.8 L243.8,250.8 L245.0,250.8 L246.3,250.8 L247.5,250.8 L248.8,250.8 L250.0,250.8 L251.3,250.8 L252.5,250.8 L252.5,250.8 L253.8,250.6 L255.0,250.1 L256.3,249.5 L257.5,248.7 L258.8,247.8 L260.1,247.0 L260.1,247.0 L261.3,246.2 L262.6,245.4 L263.8,244.5 L265.1,243.5 L266.3,242.5 L267.6,241.5 L268.8,240.4 L270.1,239.3 L271.3,238.2 L272.6,237.0 L273.8,235.8 L275.1,234.6 L276.4,233.4 L277.6,232.2 L278.9,231.0 L280.1,229.8 L281.4,228.6 L282.6,227.4 L283.4,226.6 L283.9,226.2 L285.1,225.0 L286.4,223.7 L287.6,222.4 L288.9,221.1 L290.1,219.8 L291.4,218.4 L292.7,217.0 L293.9,215.7 L295.2,214.3 L296.4,213.0 L297.7,211.6 L298.9,210.3 L300.2,209.1 L301.4,207.9 L302.7,206.7 L303.9,205.6 L305.2,204.5 L306.4,203.6 L306.7,203.4 L307.7,202.7 L309.0,201.8 L310.2,200.9 L311.5,200.1 L312.7,199.2 L314.0,198.4 L315.2,197.7 L316.5,196.9 L317.7,196.2 L319.0,195.5 L320.2,194.8 L321.5,194.1 L322.7,193.4 L324.0,192.8 L325.2,192.1 L326.5,191.5 L327.8,190.9 L329.0,190.3 L330.0,189.9 L330.3,189.8 L331.5,189.2 L332.8,188.6 L334.0,188.1 L335.3,187.5 L336.5,187.0 L337.8,186.6 L339.0,186.2 L340.1,185.9 L340.3,185.8 L341.5,185.5 L342.8,185.3 L344.1,185.0 L345.3,184.8 L346.6,184.6 L347.8,184.4 L349.1,184.2 L350.3,183.9 L351.4,183.8 L351.6,183.7 L352.8,183.5 L354.1,183.3 L355.3,183.1 L356.6,182.9 L357.8,182.6 L359.1,182.4 L360.4,182.2 L361.6,182.0 L362.9,181.9 L364.1,181.7 L364.6,181.6 L365.4,181.5 L366.6,181.4 L367.9,181.2 L369.1,181.1 L370.4,180.9 L371.6,180.8 L372.9,180.7 L374.1,180.6 L375.4,180.4 L376.7,180.3 L377.9,180.2 L379.2,180.1 L380.4,180.0 L381.7,179.8 L382.9,179.7 L384.2,179.6 L385.4,179.5" stroke="#5bc6e6" stroke-width="1.9" fill="none" stroke-linejoin="round"/>
<path d="M112.1,291.5 L113.4,291.0 L114.6,290.4 L115.9,289.8 L117.1,289.3 L118.4,288.7 L119.6,288.2 L120.9,287.7 L122.1,287.2 L122.2,287.2 L123.4,286.7 L124.6,286.3 L125.9,285.8 L127.1,285.3 L128.4,284.9 L129.7,284.5 L130.9,284.1 L132.2,283.9 L132.3,283.9 L133.4,283.7 L134.7,283.6 L135.9,283.4 L137.2,283.3 L138.4,283.2 L139.7,283.1 L140.4,283.0 L140.9,283.0 L142.2,282.9 L143.4,282.8 L144.7,282.7 L146.0,282.6 L147.2,282.5 L148.5,282.4 L149.7,282.4 L151.0,282.3 L152.2,282.2 L153.5,282.1 L154.7,282.0 L156.0,281.9 L157.2,281.9 L158.5,281.8 L159.7,281.7 L161.0,281.5 L161.2,281.5 L162.3,281.4 L163.5,281.3 L164.8,281.2 L166.0,281.0 L167.3,280.9 L168.5,280.7 L169.8,280.6 L171.0,280.4 L172.3,280.2 L173.5,280.0 L174.8,279.9 L176.0,279.7 L177.3,279.5 L178.6,279.3 L179.8,279.1 L181.1,278.9 L181.4,278.8 L182.3,278.7 L183.6,278.5 L184.8,278.2 L186.1,278.0 L187.3,277.8 L188.6,277.5 L189.8,277.3 L191.1,277.0 L192.3,276.7 L193.6,276.5 L194.9,276.2 L196.1,275.9 L197.4,275.6 L198.6,275.3 L199.9,275.0 L200.3,274.9 L201.1,274.7 L202.4,274.3 L203.6,274.0 L204.9,273.6 L206.1,273.3 L207.4,272.9 L208.6,272.5 L209.9,272.1 L211.2,271.7 L212.4,271.3 L212.9,271.1 L213.7,270.8 L214.9,270.3 L216.2,269.7 L217.4,269.0 L218.7,268.3 L219.9,267.7 L221.2,267.1 L222.4,266.6 L223.7,266.3 L224.9,266.1 L225.5,266.1 L226.2,266.1 L227.5,266.1 L228.7,266.2 L230.0,266.3 L230.5,266.3 L231.2,266.6 L232.5,267.8 L233.7,268.4 L233.7,268.4 L235.0,267.1 L236.2,264.4 L236.8,263.1 L237.5,261.0 L238.7,256.0 L239.9,253.4 L240.0,253.4 L241.2,253.4 L242.5,253.4 L243.8,253.4 L245.0,253.4 L246.3,253.4 L247.5,253.4 L248.8,253.4 L250.0,253.4 L251.3,253.4 L252.5,253.4 L252.5,253.4 L253.8,253.3 L255.0,253.1 L256.3,252.7 L257.5,252.2 L258.8,251.7 L260.1,251.2 L260.1,251.2 L261.3,250.7 L262.6,250.1 L263.8,249.4 L265.1,248.7 L266.3,248.0 L267.6,247.2 L268.8,246.3 L270.1,245.4 L271.3,244.5 L272.6,243.6 L273.8,242.6 L275.1,241.6 L276.4,240.6 L277.6,239.6 L278.9,238.6 L280.1,237.5 L281.4,236.5 L282.6,235.5 L283.4,234.9 L283.9,234.5 L285.1,233.5 L286.4,232.4 L287.6,231.3 L288.9,230.2 L290.1,229.1 L291.4,227.9 L292.7,226.8 L293.9,225.6 L295.2,224.4 L296.4,223.2 L297.7,222.0 L298.9,220.8 L300.2,219.6 L301.4,218.5 L302.7,217.3 L303.9,216.2 L305.2,215.1 L306.4,214.1 L306.7,213.9 L307.7,213.1 L309.0,212.0 L310.2,211.0 L311.5,210.0 L312.7,208.9 L314.0,207.9 L315.2,206.9 L316.5,205.9 L317.7,204.9 L319.0,203.9 L320.2,202.9 L321.5,202.0 L322.7,201.1 L324.0,200.2 L325.2,199.3 L326.5,198.5 L327.8,197.7 L329.0,197.0 L330.0,196.4 L330.3,196.3 L331.5,195.6 L332.8,194.9 L334.0,194.3 L335.3,193.7 L336.5,193.1 L337.8,192.6 L339.0,192.1 L340.1,191.7 L340.3,191.6 L341.5,191.2 L342.8,190.8 L344.1,190.4 L345.3,190.0 L346.6,189.7 L347.8,189.3 L349.1,189.0 L350.3,188.8 L351.4,188.6 L351.6,188.6 L352.8,188.3 L354.1,188.1 L355.3,187.9 L356.6,187.7 L357.8,187.5 L359.1,187.4 L360.4,187.2 L361.6,187.1 L362.9,187.0 L364.1,187.0 L364.6,187.0 L365.4,187.0 L366.6,187.0 L367.9,187.0 L369.1,187.0 L370.4,187.0 L371.6,187.0 L372.9,187.0 L374.1,187.0 L375.4,187.0 L376.7,187.0 L377.9,187.0 L379.2,187.0 L380.4,187.0 L381.7,187.0 L382.9,187.0 L384.2,187.0 L385.4,187.0" stroke="#6a4fb4" stroke-width="1.9" fill="none" stroke-linejoin="round"/>
<path d="M112.1,291.5 L113.4,291.0 L114.6,290.4 L115.9,289.8 L117.1,289.3 L118.4,288.7 L119.6,288.2 L120.9,287.7 L122.1,287.2 L122.2,287.2 L123.4,286.7 L124.6,286.3 L125.9,285.8 L127.1,285.3 L128.4,284.9 L129.7,284.5 L130.9,284.1 L132.2,283.9 L132.3,283.9 L133.4,283.7 L134.7,283.6 L135.9,283.4 L137.2,283.3 L138.4,283.2 L139.7,283.1 L140.4,283.0 L140.9,283.0 L142.2,282.9 L143.4,282.8 L144.7,282.7 L146.0,282.6 L147.2,282.5 L148.5,282.4 L149.7,282.4 L151.0,282.3 L152.2,282.2 L153.5,282.1 L154.7,282.0 L156.0,281.9 L157.2,281.9 L158.5,281.8 L159.7,281.7 L161.0,281.5 L161.2,281.5 L162.3,281.4 L163.5,281.3 L164.8,281.2 L166.0,281.0 L167.3,280.9 L168.5,280.7 L169.8,280.6 L171.0,280.4 L172.3,280.2 L173.5,280.0 L174.8,279.9 L176.0,279.7 L177.3,279.5 L178.6,279.3 L179.8,279.1 L181.1,278.9 L181.4,278.8 L182.3,278.7 L183.6,278.5 L184.8,278.2 L186.1,278.0 L187.3,277.8 L188.6,277.5 L189.8,277.3 L191.1,277.0 L192.3,276.7 L193.6,276.5 L194.9,276.2 L196.1,275.9 L197.4,275.6 L198.6,275.3 L199.9,275.0 L200.3,274.9 L201.1,274.7 L202.4,274.3 L203.6,274.0 L204.9,273.6 L206.1,273.3 L207.4,272.9 L208.6,272.5 L209.9,272.1 L211.2,271.7 L212.4,271.3 L212.9,271.1 L213.7,270.8 L214.9,270.3 L216.2,269.7 L217.4,269.0 L218.7,268.3 L219.9,267.7 L221.2,267.1 L222.4,266.6 L223.7,266.3 L224.9,266.1 L225.5,266.1 L226.2,266.1 L227.5,266.1 L228.7,266.2 L230.0,266.3 L230.5,266.3 L231.2,266.5 L232.5,267.4 L233.7,267.9 L233.7,267.9 L235.0,266.3 L236.2,263.3 L236.8,262.0 L237.5,260.2 L238.7,256.4 L239.9,254.5 L240.0,254.5 L241.2,254.5 L242.5,254.5 L243.8,254.5 L245.0,254.5 L246.3,254.5 L247.5,254.5 L248.8,254.5 L250.0,254.5 L251.3,254.5 L252.5,254.5 L252.5,254.5 L253.8,254.4 L255.0,254.0 L256.3,253.4 L257.5,252.7 L258.8,252.0 L260.1,251.3 L260.1,251.3 L261.3,250.7 L262.6,250.0 L263.8,249.2 L265.1,248.5 L266.3,247.7 L267.6,246.9 L268.8,246.0 L270.1,245.2 L271.3,244.3 L272.6,243.4 L273.8,242.4 L275.1,241.5 L276.4,240.6 L277.6,239.6 L278.9,238.7 L280.1,237.7 L281.4,236.8 L282.6,235.8 L283.4,235.2 L283.9,234.9 L285.1,233.9 L286.4,232.9 L287.6,231.8 L288.9,230.7 L290.1,229.6 L291.4,228.5 L292.7,227.4 L293.9,226.2 L295.2,225.1 L296.4,224.0 L297.7,222.9 L298.9,221.8 L300.2,220.8 L301.4,219.7 L302.7,218.7 L303.9,217.8 L305.2,216.9 L306.4,216.1 L306.7,215.9 L307.7,215.3 L309.0,214.5 L310.2,213.8 L311.5,213.0 L312.7,212.3 L314.0,211.6 L315.2,210.9 L316.5,210.3 L317.7,209.6 L319.0,209.0 L320.2,208.4 L321.5,207.8 L322.7,207.2 L324.0,206.6 L325.2,206.1 L326.5,205.5 L327.8,205.0 L329.0,204.5 L330.0,204.1 L330.3,204.0 L331.5,203.6 L332.8,203.1 L334.0,202.7 L335.3,202.3 L336.5,201.9 L337.8,201.5 L339.0,201.2 L340.1,200.9 L340.3,200.9 L341.5,200.6 L342.8,200.3 L344.1,200.0 L345.3,199.7 L346.6,199.4 L347.8,199.2 L349.1,199.0 L350.3,198.9 L351.4,198.8 L351.6,198.8 L352.8,198.7 L354.1,198.6 L355.3,198.5 L356.6,198.5 L357.8,198.4 L359.1,198.3 L360.4,198.3 L361.6,198.3 L362.9,198.2 L364.1,198.2 L364.6,198.2 L365.4,198.2 L366.6,198.2 L367.9,198.3 L369.1,198.3 L370.4,198.3 L371.6,198.3 L372.9,198.4 L374.1,198.4 L375.4,198.4 L376.7,198.5 L377.9,198.5 L379.2,198.6 L380.4,198.6 L381.7,198.7 L382.9,198.7 L384.2,198.7 L385.4,198.8" stroke="#c9a3aa" stroke-width="1.9" fill="none" stroke-linejoin="round"/>
<path d="M112.1,291.5 L113.4,291.0 L114.6,290.4 L115.9,289.8 L117.1,289.3 L118.4,288.7 L119.6,288.2 L120.9,287.7 L122.1,287.2 L122.2,287.2 L123.4,286.7 L124.6,286.3 L125.9,285.8 L127.1,285.3 L128.4,284.9 L129.7,284.5 L130.9,284.1 L132.2,283.9 L132.3,283.9 L133.4,283.7 L134.7,283.6 L135.9,283.4 L137.2,283.3 L138.4,283.2 L139.7,283.1 L140.4,283.0 L140.9,283.0 L142.2,282.9 L143.4,282.8 L144.7,282.7 L146.0,282.6 L147.2,282.5 L148.5,282.5 L149.7,282.4 L151.0,282.3 L152.2,282.2 L153.5,282.1 L154.7,282.1 L156.0,282.0 L157.2,281.9 L158.5,281.8 L159.7,281.7 L161.0,281.5 L161.2,281.5 L162.3,281.4 L163.5,281.3 L164.8,281.1 L166.0,281.0 L167.3,280.8 L168.5,280.6 L169.8,280.4 L171.0,280.2 L172.3,280.0 L173.5,279.8 L174.8,279.5 L176.0,279.3 L177.3,279.0 L178.6,278.8 L179.8,278.5 L181.1,278.2 L181.4,278.2 L182.3,278.0 L183.6,277.6 L184.8,277.3 L186.1,276.9 L187.3,276.5 L188.6,276.1 L189.8,275.7 L191.1,275.3 L192.3,274.9 L193.6,274.4 L194.9,274.0 L196.1,273.6 L197.4,273.1 L198.6,272.7 L199.9,272.3 L200.3,272.2 L201.1,271.9 L202.4,271.6 L203.6,271.2 L204.9,270.9 L206.1,270.5 L207.4,270.1 L208.6,269.8 L209.9,269.4 L211.2,269.0 L212.4,268.6 L212.9,268.4 L213.7,268.2 L214.9,267.8 L216.2,267.4 L217.4,266.9 L218.7,266.5 L219.9,266.0 L221.2,265.5 L222.4,265.0 L223.7,264.4 L224.9,263.7 L225.5,263.4 L226.2,262.9 L227.5,261.8 L228.7,260.5 L230.0,259.2 L230.5,258.8 L231.2,258.3 L232.5,257.6 L233.7,256.7 L233.7,256.6 L235.0,254.0 L236.2,249.8 L237.5,245.3 L238.7,241.7 L239.9,240.3 L240.0,240.2 L241.2,240.2 L242.5,240.2 L243.8,240.2 L245.0,240.2 L246.3,240.1 L247.5,240.1 L248.8,240.1 L250.0,240.1 L251.3,240.1 L252.5,240.1 L253.8,240.0 L253.8,240.0 L255.0,239.9 L256.3,239.7 L257.5,239.3 L258.8,238.9 L260.1,238.4 L260.1,238.4 L261.3,238.0 L262.6,237.5 L263.8,236.9 L265.1,236.3 L266.3,235.6 L267.6,234.9 L268.8,234.1 L270.1,233.3 L271.3,232.5 L272.6,231.6 L273.8,230.8 L275.1,229.9 L276.4,229.0 L277.6,228.2 L278.9,227.3 L280.1,226.5 L281.4,225.7 L282.6,224.9 L283.4,224.4 L283.9,224.1 L285.1,223.3 L286.4,222.5 L287.6,221.7 L288.9,220.9 L290.1,220.1 L291.4,219.2 L292.7,218.4 L293.9,217.6 L295.2,216.8 L296.4,216.0 L297.7,215.2 L298.9,214.4 L300.2,213.7 L301.4,213.0 L302.7,212.3 L303.9,211.7 L305.2,211.1 L306.4,210.6 L306.7,210.4 L307.7,210.1 L309.0,209.6 L310.2,209.1 L311.5,208.7 L312.7,208.2 L314.0,207.8 L315.2,207.4 L316.5,207.1 L317.7,206.7 L319.0,206.3 L320.2,206.0 L321.5,205.6 L322.7,205.3 L324.0,204.9 L325.2,204.6 L326.5,204.3 L327.8,204.0 L329.0,203.6 L330.0,203.4 L330.3,203.3 L331.5,203.0 L332.8,202.7 L334.0,202.4 L335.3,202.1 L336.5,201.9 L337.8,201.6 L339.0,201.3 L340.1,201.0 L340.3,201.0 L341.5,200.6 L342.8,200.2 L344.1,199.8 L345.3,199.3 L346.6,198.9 L347.8,198.5 L349.1,198.2 L350.3,197.9 L351.4,197.7 L351.6,197.7 L352.8,197.5 L354.1,197.4 L355.3,197.2 L356.6,197.1 L357.8,197.0 L359.1,196.9 L360.4,196.8 L361.6,196.7 L362.9,196.6 L364.1,196.6 L364.6,196.6 L365.4,196.6 L366.6,196.6 L367.9,196.7 L369.1,196.7 L370.4,196.8 L371.6,196.8 L372.9,196.9 L374.1,197.0 L375.4,197.0 L376.7,197.1 L377.9,197.2 L379.2,197.3 L380.4,197.4 L381.7,197.5 L382.9,197.5 L384.2,197.6 L385.4,197.7" stroke="#3fae7c" stroke-width="1.9" fill="none" stroke-linejoin="round"/>
<line x1="122.80" y1="182.40" x2="133.70" y2="182.40" stroke="#e23a44" stroke-width="1.7" />
<text x="138.20" y="185.40" font-size="8.5" text-anchor="start" fill="#3a3a3a" letter-spacing="0.35">Control</text>
<line x1="122.80" y1="192.15" x2="133.70" y2="192.15" stroke="#55b947" stroke-width="1.7" />
<text x="138.20" y="195.15" font-size="8.5" text-anchor="start" fill="#3a3a3a" letter-spacing="0.35">0.5 μM</text>
<line x1="122.80" y1="201.90" x2="133.70" y2="201.90" stroke="#3b4ba6" stroke-width="1.7" />
<text x="138.20" y="204.90" font-size="8.5" text-anchor="start" fill="#3a3a3a" letter-spacing="0.35">1 μM</text>
<line x1="122.80" y1="211.65" x2="133.70" y2="211.65" stroke="#b53d9d" stroke-width="1.7" />
<text x="138.20" y="214.65" font-size="8.5" text-anchor="start" fill="#3a3a3a" letter-spacing="0.35">2.5 μM</text>
<line x1="122.80" y1="221.40" x2="133.70" y2="221.40" stroke="#5bc6e6" stroke-width="1.7" />
<text x="138.20" y="224.40" font-size="8.5" text-anchor="start" fill="#3a3a3a" letter-spacing="0.35">5 μM</text>
<line x1="122.80" y1="231.15" x2="133.70" y2="231.15" stroke="#6a4fb4" stroke-width="1.7" />
<text x="138.20" y="234.15" font-size="8.5" text-anchor="start" fill="#3a3a3a" letter-spacing="0.35">15 μM</text>
<line x1="122.80" y1="240.90" x2="133.70" y2="240.90" stroke="#c9a3aa" stroke-width="1.7" />
<text x="138.20" y="243.90" font-size="8.5" text-anchor="start" fill="#3a3a3a" letter-spacing="0.35">20 μM</text>
<line x1="122.80" y1="250.65" x2="133.70" y2="250.65" stroke="#3fae7c" stroke-width="1.7" />
<text x="138.20" y="253.65" font-size="8.5" text-anchor="start" fill="#3a3a3a" letter-spacing="0.35">50 μM</text>
<text x="209.10" y="212.00" font-size="14" text-anchor="start" fill="#262626" textLength="58.7" lengthAdjust="spacing">+ OSN4F</text>
<line x1="233.50" y1="216.80" x2="233.50" y2="236.40" stroke="#333" stroke-width="1" />
<path d="M233.50,236.40 L231.70,232.40 L235.30,232.40Z" fill="#333"/>
<line x1="109.60" y1="369.20" x2="109.60" y2="500.70" stroke="#4e4e4e" stroke-width="1.25" />
<line x1="109.00" y1="500.10" x2="404.70" y2="500.10" stroke="#4e4e4e" stroke-width="1.25" />
<line x1="109.60" y1="369.23" x2="114.10" y2="369.23" stroke="#4e4e4e" stroke-width="1" />
<text x="105.60" y="374.33" font-size="15" text-anchor="end" fill="#262626" >0.9</text>
<line x1="109.60" y1="391.04" x2="114.10" y2="391.04" stroke="#4e4e4e" stroke-width="1" />
<text x="105.60" y="396.14" font-size="15" text-anchor="end" fill="#262626" >0.7</text>
<line x1="109.60" y1="412.86" x2="114.10" y2="412.86" stroke="#4e4e4e" stroke-width="1" />
<text x="105.60" y="417.96" font-size="15" text-anchor="end" fill="#262626" >0.5</text>
<line x1="109.60" y1="434.68" x2="114.10" y2="434.68" stroke="#4e4e4e" stroke-width="1" />
<text x="105.60" y="439.78" font-size="15" text-anchor="end" fill="#262626" >0.3</text>
<line x1="109.60" y1="456.49" x2="114.10" y2="456.49" stroke="#4e4e4e" stroke-width="1" />
<text x="105.60" y="461.59" font-size="15" text-anchor="end" fill="#262626" >0.2</text>
<line x1="109.60" y1="478.31" x2="114.10" y2="478.31" stroke="#4e4e4e" stroke-width="1" />
<text x="105.60" y="483.41" font-size="15" text-anchor="end" fill="#262626" >−0.1</text>
<text x="105.60" y="505.20" font-size="15" text-anchor="end" fill="#262626" >−0.3</text>
<text x="110.40" y="517.70" font-size="15" text-anchor="middle" fill="#262626" >0</text>
<line x1="158.70" y1="500.10" x2="158.70" y2="496.10" stroke="#4e4e4e" stroke-width="1" />
<text x="159.50" y="517.70" font-size="15" text-anchor="middle" fill="#262626" >10</text>
<line x1="207.80" y1="500.10" x2="207.80" y2="496.10" stroke="#4e4e4e" stroke-width="1" />
<text x="208.60" y="517.70" font-size="15" text-anchor="middle" fill="#262626" >20</text>
<line x1="256.90" y1="500.10" x2="256.90" y2="496.10" stroke="#4e4e4e" stroke-width="1" />
<text x="257.70" y="517.70" font-size="15" text-anchor="middle" fill="#262626" >30</text>
<line x1="306.00" y1="500.10" x2="306.00" y2="496.10" stroke="#4e4e4e" stroke-width="1" />
<text x="306.80" y="517.70" font-size="15" text-anchor="middle" fill="#262626" >40</text>
<line x1="355.10" y1="500.10" x2="355.10" y2="496.10" stroke="#4e4e4e" stroke-width="1" />
<text x="355.90" y="517.70" font-size="15" text-anchor="middle" fill="#262626" >50</text>
<line x1="404.20" y1="500.10" x2="404.20" y2="496.10" stroke="#4e4e4e" stroke-width="1" />
<text x="405.00" y="517.70" font-size="15" text-anchor="middle" fill="#262626" >60</text>
<path d="M109.6,467.4V469.6M108.7,467.4h1.8M108.7,469.6h1.8M112.1,467.9V470.1M111.2,467.9h1.8M111.2,470.1h1.8M114.5,467.8V470.0M113.6,467.8h1.8M113.6,470.0h1.8M117.0,467.0V469.3M116.1,467.0h1.8M116.1,469.3h1.8M119.4,465.9V468.2M118.5,465.9h1.8M118.5,468.2h1.8M121.9,465.0V467.3M121.0,465.0h1.8M121.0,467.3h1.8M124.3,464.6V466.9M123.4,464.6h1.8M123.4,466.9h1.8M126.8,464.6V467.0M125.9,464.6h1.8M125.9,467.0h1.8M129.2,464.6V467.0M128.3,464.6h1.8M128.3,467.0h1.8M131.7,464.7V467.1M130.8,464.7h1.8M130.8,467.1h1.8M134.2,464.8V467.3M133.2,464.8h1.8M133.2,467.3h1.8M136.6,464.9V467.4M135.7,464.9h1.8M135.7,467.4h1.8M139.1,465.1V467.6M138.2,465.1h1.8M138.2,467.6h1.8M141.5,465.2V467.7M140.6,465.2h1.8M140.6,467.7h1.8M144.0,465.4V467.9M143.1,465.4h1.8M143.1,467.9h1.8M146.4,465.5V468.1M145.5,465.5h1.8M145.5,468.1h1.8M148.9,465.7V468.3M148.0,465.7h1.8M148.0,468.3h1.8M151.3,465.9V468.5M150.4,465.9h1.8M150.4,468.5h1.8M153.8,466.0V468.7M152.9,466.0h1.8M152.9,468.7h1.8M156.2,466.2V468.9M155.3,466.2h1.8M155.3,468.9h1.8M158.7,466.3V469.0M157.8,466.3h1.8M157.8,469.0h1.8M161.2,466.4V469.2M160.3,466.4h1.8M160.3,469.2h1.8M163.6,466.5V469.3M162.7,466.5h1.8M162.7,469.3h1.8M166.1,466.6V469.4M165.2,466.6h1.8M165.2,469.4h1.8M168.5,466.7V469.5M167.6,466.7h1.8M167.6,469.5h1.8M171.0,466.7V469.6M170.1,466.7h1.8M170.1,469.6h1.8M173.4,466.8V469.7M172.5,466.8h1.8M172.5,469.7h1.8M175.9,466.8V469.8M175.0,466.8h1.8M175.0,469.8h1.8M178.3,466.9V469.8M177.4,466.9h1.8M177.4,469.8h1.8M180.8,467.0V469.9M179.9,467.0h1.8M179.9,469.9h1.8M183.2,467.0V470.0M182.3,467.0h1.8M182.3,470.0h1.8M185.7,467.1V470.1M184.8,467.1h1.8M184.8,470.1h1.8M188.2,467.2V470.2M187.3,467.2h1.8M187.3,470.2h1.8M190.6,467.3V470.3M189.7,467.3h1.8M189.7,470.3h1.8M193.1,467.4V470.5M192.2,467.4h1.8M192.2,470.5h1.8M195.5,467.5V470.6M194.6,467.5h1.8M194.6,470.6h1.8M198.0,467.7V470.8M197.1,467.7h1.8M197.1,470.8h1.8M200.4,467.8V471.0M199.5,467.8h1.8M199.5,471.0h1.8M202.9,468.1V471.3M202.0,468.1h1.8M202.0,471.3h1.8M205.3,468.3V471.5M204.4,468.3h1.8M204.4,471.5h1.8M207.8,468.6V471.8M206.9,468.6h1.8M206.9,471.8h1.8M210.3,468.8V472.3M209.4,468.8h1.8M209.4,472.3h1.8M212.7,470.3V474.1M211.8,470.3h1.8M211.8,474.1h1.8M215.2,473.9V478.0M214.3,473.9h1.8M214.3,478.0h1.8M217.6,473.8V478.2M216.7,473.8h1.8M216.7,478.2h1.8M220.1,473.5V478.0M219.2,473.5h1.8M219.2,478.0h1.8M222.5,473.3V477.8M221.6,473.3h1.8M221.6,477.8h1.8M225.0,473.3V477.9M224.1,473.3h1.8M224.1,477.9h1.8M227.4,473.3V477.9M226.5,473.3h1.8M226.5,477.9h1.8M229.9,473.2V477.9M229.0,473.2h1.8M229.0,477.9h1.8M232.3,473.2V477.9M231.4,473.2h1.8M231.4,477.9h1.8M234.8,473.2V478.0M233.9,473.2h1.8M233.9,478.0h1.8M237.3,473.2V478.0M236.4,473.2h1.8M236.4,478.0h1.8M239.7,473.1V478.0M238.8,473.1h1.8M238.8,478.0h1.8M242.2,473.1V478.1M241.3,473.1h1.8M241.3,478.1h1.8M244.6,473.0V478.0M243.7,473.0h1.8M243.7,478.0h1.8M247.1,472.9V478.0M246.2,472.9h1.8M246.2,478.0h1.8M249.5,472.7V477.8M248.6,472.7h1.8M248.6,477.8h1.8M252.0,472.4V477.6M251.1,472.4h1.8M251.1,477.6h1.8M254.4,472.2V477.5M253.5,472.2h1.8M253.5,477.5h1.8M256.9,472.0V477.3M256.0,472.0h1.8M256.0,477.3h1.8M259.4,471.8V477.2M258.5,471.8h1.8M258.5,477.2h1.8M261.8,471.8V477.2M260.9,471.8h1.8M260.9,477.2h1.8M264.3,471.7V477.3M263.4,471.7h1.8M263.4,477.3h1.8M266.7,471.8V477.3M265.8,471.8h1.8M265.8,477.3h1.8M269.2,471.8V477.4M268.3,471.8h1.8M268.3,477.4h1.8M271.6,471.8V477.5M270.7,471.8h1.8M270.7,477.5h1.8M274.1,471.9V477.6M273.2,471.9h1.8M273.2,477.6h1.8M276.5,471.9V477.8M275.6,471.9h1.8M275.6,477.8h1.8M279.0,472.0V477.9M278.1,472.0h1.8M278.1,477.9h1.8M281.4,472.0V477.9M280.6,472.0h1.8M280.6,477.9h1.8M283.9,472.0V478.0M283.0,472.0h1.8M283.0,478.0h1.8M286.4,472.0V478.1M285.5,472.0h1.8M285.5,478.1h1.8M288.8,471.9V478.1M287.9,471.9h1.8M287.9,478.1h1.8M291.3,471.8V478.0M290.4,471.8h1.8M290.4,478.0h1.8M293.7,471.6V477.8M292.8,471.6h1.8M292.8,477.8h1.8M296.2,471.3V477.6M295.3,471.3h1.8M295.3,477.6h1.8M298.6,471.0V477.3M297.7,471.0h1.8M297.7,477.3h1.8M301.1,470.6V477.1M300.2,470.6h1.8M300.2,477.1h1.8M303.5,470.3V476.8M302.6,470.3h1.8M302.6,476.8h1.8M306.0,469.9V476.5M305.1,469.9h1.8M305.1,476.5h1.8M308.5,469.5V476.2M307.6,469.5h1.8M307.6,476.2h1.8M310.9,469.2V476.0M310.0,469.2h1.8M310.0,476.0h1.8M313.4,468.9V475.8M312.5,468.9h1.8M312.5,475.8h1.8M315.8,468.5V475.6M314.9,468.5h1.8M314.9,475.6h1.8M318.3,468.2V475.4M317.4,468.2h1.8M317.4,475.4h1.8M320.7,467.8V475.1M319.8,467.8h1.8M319.8,475.1h1.8M323.2,467.5V474.9M322.3,467.5h1.8M322.3,474.9h1.8M325.6,467.1V474.6M324.7,467.1h1.8M324.7,474.6h1.8M328.1,466.7V474.4M327.2,466.7h1.8M327.2,474.4h1.8M330.6,466.2V474.0M329.7,466.2h1.8M329.7,474.0h1.8M333.0,465.7V473.6M332.1,465.7h1.8M332.1,473.6h1.8M335.5,465.1V473.2M334.6,465.1h1.8M334.6,473.2h1.8M337.9,464.5V472.7M337.0,464.5h1.8M337.0,472.7h1.8M340.4,463.8V472.1M339.5,463.8h1.8M339.5,472.1h1.8M342.8,463.1V471.5M341.9,463.1h1.8M341.9,471.5h1.8M345.3,462.3V470.9M344.4,462.3h1.8M344.4,470.9h1.8M347.7,461.5V470.2M346.8,461.5h1.8M346.8,470.2h1.8M350.2,460.7V469.5M349.3,460.7h1.8M349.3,469.5h1.8M352.6,459.8V468.8M351.7,459.8h1.8M351.7,468.8h1.8M355.1,459.0V468.0M354.2,459.0h1.8M354.2,468.0h1.8M357.6,458.1V467.3M356.7,458.1h1.8M356.7,467.3h1.8M360.0,457.3V466.6M359.1,457.3h1.8M359.1,466.6h1.8M362.5,456.4V465.9M361.6,456.4h1.8M361.6,465.9h1.8M364.9,455.5V465.1M364.0,455.5h1.8M364.0,465.1h1.8M367.4,454.6V464.3M366.5,454.6h1.8M366.5,464.3h1.8M369.8,453.7V463.5M368.9,453.7h1.8M368.9,463.5h1.8M372.3,452.7V462.6M371.4,452.7h1.8M371.4,462.6h1.8M374.7,451.7V461.7M373.8,451.7h1.8M373.8,461.7h1.8M377.2,450.7V460.9M376.3,450.7h1.8M376.3,460.9h1.8M379.6,449.7V460.0M378.8,449.7h1.8M378.8,460.0h1.8M382.1,448.7V459.1M381.2,448.7h1.8M381.2,459.1h1.8M384.6,447.7V458.2M383.7,447.7h1.8M383.7,458.2h1.8M387.0,446.7V457.3M386.1,446.7h1.8M386.1,457.3h1.8M389.5,445.7V456.4M388.6,445.7h1.8M388.6,456.4h1.8M391.9,444.7V455.6M391.0,444.7h1.8M391.0,455.6h1.8" stroke="#e23a44" stroke-width="0.75" stroke-opacity="0.9" fill="none"/>
<path d="M109.6,467.4V469.6M108.7,467.4h1.8M108.7,469.6h1.8M112.1,465.3V467.5M111.2,465.3h1.8M111.2,467.5h1.8M114.5,464.0V466.2M113.6,464.0h1.8M113.6,466.2h1.8M117.0,462.9V465.3M116.1,462.9h1.8M116.1,465.3h1.8M119.4,462.1V464.5M118.5,462.1h1.8M118.5,464.5h1.8M121.9,461.5V463.9M121.0,461.5h1.8M121.0,463.9h1.8M124.3,461.2V463.7M123.4,461.2h1.8M123.4,463.7h1.8M126.8,461.2V463.8M125.9,461.2h1.8M125.9,463.8h1.8M129.2,461.2V463.9M128.3,461.2h1.8M128.3,463.9h1.8M131.7,461.3V464.0M130.8,461.3h1.8M130.8,464.0h1.8M134.2,461.4V464.1M133.2,461.4h1.8M133.2,464.1h1.8M136.6,461.4V464.2M135.7,461.4h1.8M135.7,464.2h1.8M139.1,461.5V464.4M138.2,461.5h1.8M138.2,464.4h1.8M141.5,461.7V464.5M140.6,461.7h1.8M140.6,464.5h1.8M144.0,461.8V464.7M143.1,461.8h1.8M143.1,464.7h1.8M146.4,461.9V464.9M145.5,461.9h1.8M145.5,464.9h1.8M148.9,462.0V465.1M148.0,462.0h1.8M148.0,465.1h1.8M151.3,462.2V465.3M150.4,462.2h1.8M150.4,465.3h1.8M153.8,462.3V465.4M152.9,462.3h1.8M152.9,465.4h1.8M156.2,462.4V465.6M155.3,462.4h1.8M155.3,465.6h1.8M158.7,462.5V465.8M157.8,462.5h1.8M157.8,465.8h1.8M161.2,462.6V465.9M160.3,462.6h1.8M160.3,465.9h1.8M163.6,462.7V466.0M162.7,462.7h1.8M162.7,466.0h1.8M166.1,462.7V466.1M165.2,462.7h1.8M165.2,466.1h1.8M168.5,462.8V466.3M167.6,462.8h1.8M167.6,466.3h1.8M171.0,462.8V466.4M170.1,462.8h1.8M170.1,466.4h1.8M173.4,462.9V466.5M172.5,462.9h1.8M172.5,466.5h1.8M175.9,462.9V466.5M175.0,462.9h1.8M175.0,466.5h1.8M178.3,462.9V466.6M177.4,462.9h1.8M177.4,466.6h1.8M180.8,463.0V466.7M179.9,463.0h1.8M179.9,466.7h1.8M183.2,463.0V466.8M182.3,463.0h1.8M182.3,466.8h1.8M185.7,463.1V467.0M184.8,463.1h1.8M184.8,467.0h1.8M188.2,463.1V467.1M187.3,463.1h1.8M187.3,467.1h1.8M190.6,463.2V467.2M189.7,463.2h1.8M189.7,467.2h1.8M193.1,463.3V467.3M192.2,463.3h1.8M192.2,467.3h1.8M195.5,463.4V467.5M194.6,463.4h1.8M194.6,467.5h1.8M198.0,463.5V467.7M197.1,463.5h1.8M197.1,467.7h1.8M200.4,463.7V467.9M199.5,463.7h1.8M199.5,467.9h1.8M202.9,463.9V468.1M202.0,463.9h1.8M202.0,468.1h1.8M205.3,464.1V468.4M204.4,464.1h1.8M204.4,468.4h1.8M207.8,464.3V468.6M206.9,464.3h1.8M206.9,468.6h1.8M210.3,464.3V469.2M209.4,464.3h1.8M209.4,469.2h1.8M212.7,464.9V470.4M211.8,464.9h1.8M211.8,470.4h1.8M215.2,466.5V472.5M214.3,466.5h1.8M214.3,472.5h1.8M217.6,466.2V472.8M216.7,466.2h1.8M216.7,472.8h1.8M220.1,466.0V472.6M219.2,466.0h1.8M219.2,472.6h1.8M222.5,465.7V472.4M221.6,465.7h1.8M221.6,472.4h1.8M225.0,465.4V472.2M224.1,465.4h1.8M224.1,472.2h1.8M227.4,465.2V472.1M226.5,465.2h1.8M226.5,472.1h1.8M229.9,464.9V471.9M229.0,464.9h1.8M229.0,471.9h1.8M232.3,464.7V471.7M231.4,464.7h1.8M231.4,471.7h1.8M234.8,464.4V471.5M233.9,464.4h1.8M233.9,471.5h1.8M237.3,464.2V471.4M236.4,464.2h1.8M236.4,471.4h1.8M239.7,463.9V471.2M238.8,463.9h1.8M238.8,471.2h1.8M242.2,463.7V471.1M241.3,463.7h1.8M241.3,471.1h1.8M244.6,463.5V471.0M243.7,463.5h1.8M243.7,471.0h1.8M247.1,463.3V470.9M246.2,463.3h1.8M246.2,470.9h1.8M249.5,463.1V470.8M248.6,463.1h1.8M248.6,470.8h1.8M252.0,463.0V470.7M251.1,463.0h1.8M251.1,470.7h1.8M254.4,462.8V470.6M253.5,462.8h1.8M253.5,470.6h1.8M256.9,462.6V470.5M256.0,462.6h1.8M256.0,470.5h1.8M259.4,462.4V470.4M258.5,462.4h1.8M258.5,470.4h1.8M261.8,462.3V470.3M260.9,462.3h1.8M260.9,470.3h1.8M264.3,462.1V470.3M263.4,462.1h1.8M263.4,470.3h1.8M266.7,462.0V470.2M265.8,462.0h1.8M265.8,470.2h1.8M269.2,461.9V470.2M268.3,461.9h1.8M268.3,470.2h1.8M271.6,461.7V470.1M270.7,461.7h1.8M270.7,470.1h1.8M274.1,461.6V470.1M273.2,461.6h1.8M273.2,470.1h1.8M276.5,461.5V470.0M275.6,461.5h1.8M275.6,470.0h1.8M279.0,461.3V470.0M278.1,461.3h1.8M278.1,470.0h1.8M281.4,461.2V469.9M280.6,461.2h1.8M280.6,469.9h1.8M283.9,460.7V470.1M283.0,460.7h1.8M283.0,470.1h1.8M286.4,460.2V470.2M285.5,460.2h1.8M285.5,470.2h1.8M288.8,459.6V470.3M287.9,459.6h1.8M287.9,470.3h1.8M291.3,458.9V470.3M290.4,458.9h1.8M290.4,470.3h1.8M293.7,458.2V470.2M292.8,458.2h1.8M292.8,470.2h1.8M296.2,457.3V469.9M295.3,457.3h1.8M295.3,469.9h1.8M298.6,456.4V469.7M297.7,456.4h1.8M297.7,469.7h1.8M301.1,455.4V469.4M300.2,455.4h1.8M300.2,469.4h1.8M303.5,454.4V469.0M302.6,454.4h1.8M302.6,469.0h1.8M306.0,453.4V468.7M305.1,453.4h1.8M305.1,468.7h1.8M308.5,452.4V468.4M307.6,452.4h1.8M307.6,468.4h1.8M310.9,451.5V468.1M310.0,451.5h1.8M310.0,468.1h1.8M313.4,450.5V467.8M312.5,450.5h1.8M312.5,467.8h1.8M315.8,449.6V467.5M314.9,449.6h1.8M314.9,467.5h1.8M318.3,448.6V467.2M317.4,448.6h1.8M317.4,467.2h1.8M320.7,447.7V466.9M319.8,447.7h1.8M319.8,466.9h1.8M323.2,446.7V466.5M322.3,446.7h1.8M322.3,466.5h1.8M325.6,445.6V466.1M324.7,445.6h1.8M324.7,466.1h1.8M328.1,444.5V465.7M327.2,444.5h1.8M327.2,465.7h1.8M330.6,443.4V465.2M329.7,443.4h1.8M329.7,465.2h1.8M333.0,441.9V465.0M332.1,441.9h1.8M332.1,465.0h1.8M335.5,440.3V464.8M334.6,440.3h1.8M334.6,464.8h1.8M337.9,438.7V464.4M337.0,438.7h1.8M337.0,464.4h1.8M340.4,437.0V464.1M339.5,437.0h1.8M339.5,464.1h1.8M342.8,435.3V463.7M341.9,435.3h1.8M341.9,463.7h1.8M345.3,433.6V463.2M344.4,433.6h1.8M344.4,463.2h1.8M347.7,431.8V462.8M346.8,431.8h1.8M346.8,462.8h1.8M350.2,430.0V462.3M349.3,430.0h1.8M349.3,462.3h1.8M352.6,428.1V461.7M351.7,428.1h1.8M351.7,461.7h1.8M355.1,426.3V461.2M354.2,426.3h1.8M354.2,461.2h1.8M357.6,424.4V460.6M356.7,424.4h1.8M356.7,460.6h1.8M360.0,422.5V460.0M359.1,422.5h1.8M359.1,460.0h1.8M362.5,420.5V459.3M361.6,420.5h1.8M361.6,459.3h1.8M364.9,418.5V458.7M364.0,418.5h1.8M364.0,458.7h1.8M367.4,416.4V457.9M366.5,416.4h1.8M366.5,457.9h1.8M369.8,414.3V457.1M368.9,414.3h1.8M368.9,457.1h1.8M372.3,412.2V456.3M371.4,412.2h1.8M371.4,456.3h1.8M374.7,410.0V455.4M373.8,410.0h1.8M373.8,455.4h1.8M377.2,407.8V454.5M376.3,407.8h1.8M376.3,454.5h1.8M379.6,405.6V453.6M378.8,405.6h1.8M378.8,453.6h1.8M382.1,403.4V452.7M381.2,403.4h1.8M381.2,452.7h1.8M384.6,401.2V451.8M383.7,401.2h1.8M383.7,451.8h1.8M387.0,399.0V450.9M386.1,399.0h1.8M386.1,450.9h1.8M389.5,396.8V450.0M388.6,396.8h1.8M388.6,450.0h1.8M391.9,394.6V449.2M391.0,394.6h1.8M391.0,449.2h1.8" stroke="#55b947" stroke-width="0.75" stroke-opacity="0.9" fill="none"/>
<path d="M109.6,467.4V469.6M108.7,467.4h1.8M108.7,469.6h1.8M112.1,463.9V466.1M111.2,463.9h1.8M111.2,466.1h1.8M114.5,462.3V464.5M113.6,462.3h1.8M113.6,464.5h1.8M117.0,461.2V463.5M116.1,461.2h1.8M116.1,463.5h1.8M119.4,460.4V462.7M118.5,460.4h1.8M118.5,462.7h1.8M121.9,459.9V462.2M121.0,459.9h1.8M121.0,462.2h1.8M124.3,459.7V462.0M123.4,459.7h1.8M123.4,462.0h1.8M126.8,459.7V462.0M125.9,459.7h1.8M125.9,462.0h1.8M129.2,459.7V462.1M128.3,459.7h1.8M128.3,462.1h1.8M131.7,459.7V462.1M130.8,459.7h1.8M130.8,462.1h1.8M134.2,459.7V462.2M133.2,459.7h1.8M133.2,462.2h1.8M136.6,459.8V462.3M135.7,459.8h1.8M135.7,462.3h1.8M139.1,459.8V462.3M138.2,459.8h1.8M138.2,462.3h1.8M141.5,459.9V462.4M140.6,459.9h1.8M140.6,462.4h1.8M144.0,459.9V462.5M143.1,459.9h1.8M143.1,462.5h1.8M146.4,460.0V462.6M145.5,460.0h1.8M145.5,462.6h1.8M148.9,460.1V462.7M148.0,460.1h1.8M148.0,462.7h1.8M151.3,460.1V462.8M150.4,460.1h1.8M150.4,462.8h1.8M153.8,460.2V462.9M152.9,460.2h1.8M152.9,462.9h1.8M156.2,460.3V463.0M155.3,460.3h1.8M155.3,463.0h1.8M158.7,460.3V463.0M157.8,460.3h1.8M157.8,463.0h1.8M161.2,460.4V463.1M160.3,460.4h1.8M160.3,463.1h1.8M163.6,460.4V463.2M162.7,460.4h1.8M162.7,463.2h1.8M166.1,460.4V463.2M165.2,460.4h1.8M165.2,463.2h1.8M168.5,460.5V463.3M167.6,460.5h1.8M167.6,463.3h1.8M171.0,460.5V463.4M170.1,460.5h1.8M170.1,463.4h1.8M173.4,460.5V463.4M172.5,460.5h1.8M172.5,463.4h1.8M175.9,460.5V463.5M175.0,460.5h1.8M175.0,463.5h1.8M178.3,460.6V463.5M177.4,460.6h1.8M177.4,463.5h1.8M180.8,460.6V463.6M179.9,460.6h1.8M179.9,463.6h1.8M183.2,460.6V463.6M182.3,460.6h1.8M182.3,463.6h1.8M185.7,460.7V463.7M184.8,460.7h1.8M184.8,463.7h1.8M188.2,460.7V463.8M187.3,460.7h1.8M187.3,463.8h1.8M190.6,460.8V463.9M189.7,460.8h1.8M189.7,463.9h1.8M193.1,460.9V464.0M192.2,460.9h1.8M192.2,464.0h1.8M195.5,460.9V464.1M194.6,460.9h1.8M194.6,464.1h1.8M198.0,461.0V464.2M197.1,461.0h1.8M197.1,464.2h1.8M200.4,461.2V464.3M199.5,461.2h1.8M199.5,464.3h1.8M202.9,461.3V464.5M202.0,461.3h1.8M202.0,464.5h1.8M205.3,461.5V464.7M204.4,461.5h1.8M204.4,464.7h1.8M207.8,461.6V464.9M206.9,461.6h1.8M206.9,464.9h1.8M210.3,461.7V465.3M209.4,461.7h1.8M209.4,465.3h1.8M212.7,464.1V468.0M211.8,464.1h1.8M211.8,468.0h1.8M215.2,470.5V474.6M214.3,470.5h1.8M214.3,474.6h1.8M217.6,470.6V474.9M216.7,470.6h1.8M216.7,474.9h1.8M220.1,470.3V474.7M219.2,470.3h1.8M219.2,474.7h1.8M222.5,470.1V474.6M221.6,470.1h1.8M221.6,474.6h1.8M225.0,469.9V474.5M224.1,469.9h1.8M224.1,474.5h1.8M227.4,469.8V474.4M226.5,469.8h1.8M226.5,474.4h1.8M229.9,469.7V474.4M229.0,469.7h1.8M229.0,474.4h1.8M232.3,469.7V474.4M231.4,469.7h1.8M231.4,474.4h1.8M234.8,469.6V474.4M233.9,469.6h1.8M233.9,474.4h1.8M237.3,469.5V474.3M236.4,469.5h1.8M236.4,474.3h1.8M239.7,469.4V474.3M238.8,469.4h1.8M238.8,474.3h1.8M242.2,469.3V474.2M241.3,469.3h1.8M241.3,474.2h1.8M244.6,469.1V474.2M243.7,469.1h1.8M243.7,474.2h1.8M247.1,469.0V474.1M246.2,469.0h1.8M246.2,474.1h1.8M249.5,468.8V474.0M248.6,468.8h1.8M248.6,474.0h1.8M252.0,468.6V473.9M251.1,468.6h1.8M251.1,473.9h1.8M254.4,468.5V473.7M253.5,468.5h1.8M253.5,473.7h1.8M256.9,468.3V473.6M256.0,468.3h1.8M256.0,473.6h1.8M259.4,468.1V473.5M258.5,468.1h1.8M258.5,473.5h1.8M261.8,467.9V473.4M260.9,467.9h1.8M260.9,473.4h1.8M264.3,467.8V473.3M263.4,467.8h1.8M263.4,473.3h1.8M266.7,467.7V473.2M265.8,467.7h1.8M265.8,473.2h1.8M269.2,467.5V473.2M268.3,467.5h1.8M268.3,473.2h1.8M271.6,467.4V473.1M270.7,467.4h1.8M270.7,473.1h1.8M274.1,467.3V473.1M273.2,467.3h1.8M273.2,473.1h1.8M276.5,467.2V473.0M275.6,467.2h1.8M275.6,473.0h1.8M279.0,467.1V472.9M278.1,467.1h1.8M278.1,472.9h1.8M281.4,466.9V472.8M280.6,466.9h1.8M280.6,472.8h1.8M283.9,466.7V472.7M283.0,466.7h1.8M283.0,472.7h1.8M286.4,466.6V472.6M285.5,466.6h1.8M285.5,472.6h1.8M288.8,466.3V472.4M287.9,466.3h1.8M287.9,472.4h1.8M291.3,466.0V472.2M290.4,466.0h1.8M290.4,472.2h1.8M293.7,465.7V471.9M292.8,465.7h1.8M292.8,471.9h1.8M296.2,465.3V471.6M295.3,465.3h1.8M295.3,471.6h1.8M298.6,464.8V471.2M297.7,464.8h1.8M297.7,471.2h1.8M301.1,464.3V470.8M300.2,464.3h1.8M300.2,470.8h1.8M303.5,463.9V470.3M302.6,463.9h1.8M302.6,470.3h1.8M306.0,463.4V469.9M305.1,463.4h1.8M305.1,469.9h1.8M308.5,462.9V469.5M307.6,462.9h1.8M307.6,469.5h1.8M310.9,462.4V469.2M310.0,462.4h1.8M310.0,469.2h1.8M313.4,461.9V468.8M312.5,461.9h1.8M312.5,468.8h1.8M315.8,461.4V468.4M314.9,461.4h1.8M314.9,468.4h1.8M318.3,460.8V468.0M317.4,460.8h1.8M317.4,468.0h1.8M320.7,460.3V467.6M319.8,460.3h1.8M319.8,467.6h1.8M323.2,459.7V467.2M322.3,459.7h1.8M322.3,467.2h1.8M325.6,459.2V466.7M324.7,459.2h1.8M324.7,466.7h1.8M328.1,458.6V466.3M327.2,458.6h1.8M327.2,466.3h1.8M330.6,458.1V465.8M329.7,458.1h1.8M329.7,465.8h1.8M333.0,457.5V465.4M332.1,457.5h1.8M332.1,465.4h1.8M335.5,456.9V465.0M334.6,456.9h1.8M334.6,465.0h1.8M337.9,456.3V464.5M337.0,456.3h1.8M337.0,464.5h1.8M340.4,455.8V464.1M339.5,455.8h1.8M339.5,464.1h1.8M342.8,455.2V463.6M341.9,455.2h1.8M341.9,463.6h1.8M345.3,454.6V463.1M344.4,454.6h1.8M344.4,463.1h1.8M347.7,454.0V462.6M346.8,454.0h1.8M346.8,462.6h1.8M350.2,453.4V462.2M349.3,453.4h1.8M349.3,462.2h1.8M352.6,452.7V461.7M351.7,452.7h1.8M351.7,461.7h1.8M355.1,452.1V461.1M354.2,452.1h1.8M354.2,461.1h1.8M357.6,451.4V460.6M356.7,451.4h1.8M356.7,460.6h1.8M360.0,450.8V460.0M359.1,450.8h1.8M359.1,460.0h1.8M362.5,450.1V459.5M361.6,450.1h1.8M361.6,459.5h1.8M364.9,449.3V458.8M364.0,449.3h1.8M364.0,458.8h1.8M367.4,448.5V458.2M366.5,448.5h1.8M366.5,458.2h1.8M369.8,447.8V457.5M368.9,447.8h1.8M368.9,457.5h1.8M372.3,447.0V456.9M371.4,447.0h1.8M371.4,456.9h1.8M374.7,446.1V456.2M373.8,446.1h1.8M373.8,456.2h1.8M377.2,445.3V455.5M376.3,445.3h1.8M376.3,455.5h1.8M379.6,444.5V454.7M378.8,444.5h1.8M378.8,454.7h1.8M382.1,443.6V454.0M381.2,443.6h1.8M381.2,454.0h1.8M384.6,442.8V453.3M383.7,442.8h1.8M383.7,453.3h1.8M387.0,441.9V452.6M386.1,441.9h1.8M386.1,452.6h1.8M389.5,441.1V451.9M388.6,441.1h1.8M388.6,451.9h1.8M391.9,440.3V451.2M391.0,440.3h1.8M391.0,451.2h1.8" stroke="#3b4ba6" stroke-width="0.75" stroke-opacity="0.9" fill="none"/>
<path d="M109.6,466.9V470.1M108.7,466.9h1.8M108.7,470.1h1.8M112.1,459.6V462.9M111.2,459.6h1.8M111.2,462.9h1.8M114.5,457.3V460.6M113.6,457.3h1.8M113.6,460.6h1.8M117.0,456.2V459.5M116.1,456.2h1.8M116.1,459.5h1.8M119.4,455.4V458.8M118.5,455.4h1.8M118.5,458.8h1.8M121.9,454.9V458.3M121.0,454.9h1.8M121.0,458.3h1.8M124.3,454.8V458.2M123.4,454.8h1.8M123.4,458.2h1.8M126.8,454.8V458.2M125.9,454.8h1.8M125.9,458.2h1.8M129.2,454.8V458.3M128.3,454.8h1.8M128.3,458.3h1.8M131.7,454.8V458.3M130.8,454.8h1.8M130.8,458.3h1.8M134.2,454.8V458.4M133.2,454.8h1.8M133.2,458.4h1.8M136.6,454.9V458.5M135.7,454.9h1.8M135.7,458.5h1.8M139.1,454.9V458.5M138.2,454.9h1.8M138.2,458.5h1.8M141.5,455.0V458.6M140.6,455.0h1.8M140.6,458.6h1.8M144.0,455.1V458.7M143.1,455.1h1.8M143.1,458.7h1.8M146.4,455.1V458.8M145.5,455.1h1.8M145.5,458.8h1.8M148.9,455.2V458.9M148.0,455.2h1.8M148.0,458.9h1.8M151.3,455.3V459.0M150.4,455.3h1.8M150.4,459.0h1.8M153.8,455.4V459.1M152.9,455.4h1.8M152.9,459.1h1.8M156.2,455.4V459.2M155.3,455.4h1.8M155.3,459.2h1.8M158.7,455.5V459.3M157.8,455.5h1.8M157.8,459.3h1.8M161.2,455.6V459.4M160.3,455.6h1.8M160.3,459.4h1.8M163.6,455.6V459.5M162.7,455.6h1.8M162.7,459.5h1.8M166.1,455.7V459.6M165.2,455.7h1.8M165.2,459.6h1.8M168.5,455.7V459.6M167.6,455.7h1.8M167.6,459.6h1.8M171.0,455.7V459.7M170.1,455.7h1.8M170.1,459.7h1.8M173.4,455.7V459.7M172.5,455.7h1.8M172.5,459.7h1.8M175.9,455.8V459.8M175.0,455.8h1.8M175.0,459.8h1.8M178.3,455.8V459.8M177.4,455.8h1.8M177.4,459.8h1.8M180.8,455.8V459.9M179.9,455.8h1.8M179.9,459.9h1.8M183.2,455.9V460.0M182.3,455.9h1.8M182.3,460.0h1.8M185.7,455.9V460.0M184.8,455.9h1.8M184.8,460.0h1.8M188.2,456.0V460.1M187.3,456.0h1.8M187.3,460.1h1.8M190.6,456.0V460.2M189.7,456.0h1.8M189.7,460.2h1.8M193.1,456.1V460.3M192.2,456.1h1.8M192.2,460.3h1.8M195.5,456.2V460.4M194.6,456.2h1.8M194.6,460.4h1.8M198.0,456.3V460.6M197.1,456.3h1.8M197.1,460.6h1.8M200.4,456.4V460.7M199.5,456.4h1.8M199.5,460.7h1.8M202.9,456.6V460.9M202.0,456.6h1.8M202.0,460.9h1.8M205.3,456.7V461.1M204.4,456.7h1.8M204.4,461.1h1.8M207.8,456.9V461.3M206.9,456.9h1.8M206.9,461.3h1.8M210.3,457.0V461.7M209.4,457.0h1.8M209.4,461.7h1.8M212.7,459.4V464.3M211.8,459.4h1.8M211.8,464.3h1.8M215.2,465.6V470.8M214.3,465.6h1.8M214.3,470.8h1.8M217.6,465.7V471.1M216.7,465.7h1.8M216.7,471.1h1.8M220.1,465.4V470.9M219.2,465.4h1.8M219.2,470.9h1.8M222.5,465.1V470.8M221.6,465.1h1.8M221.6,470.8h1.8M225.0,464.9V470.8M224.1,464.9h1.8M224.1,470.8h1.8M227.4,464.8V470.7M226.5,464.8h1.8M226.5,470.7h1.8M229.9,464.7V470.8M229.0,464.7h1.8M229.0,470.8h1.8M232.3,464.5V470.8M231.4,464.5h1.8M231.4,470.8h1.8M234.8,464.4V470.8M233.9,464.4h1.8M233.9,470.8h1.8M237.3,464.3V470.8M236.4,464.3h1.8M236.4,470.8h1.8M239.7,464.2V470.8M238.8,464.2h1.8M238.8,470.8h1.8M242.2,464.0V470.8M241.3,464.0h1.8M241.3,470.8h1.8M244.6,463.9V470.7M243.7,463.9h1.8M243.7,470.7h1.8M247.1,463.6V470.6M246.2,463.6h1.8M246.2,470.6h1.8M249.5,463.4V470.5M248.6,463.4h1.8M248.6,470.5h1.8M252.0,463.2V470.4M251.1,463.2h1.8M251.1,470.4h1.8M254.4,462.9V470.3M253.5,462.9h1.8M253.5,470.3h1.8M256.9,462.7V470.2M256.0,462.7h1.8M256.0,470.2h1.8M259.4,462.5V470.1M258.5,462.5h1.8M258.5,470.1h1.8M261.8,462.4V470.2M260.9,462.4h1.8M260.9,470.2h1.8M264.3,462.4V470.2M263.4,462.4h1.8M263.4,470.2h1.8M266.7,462.3V470.3M265.8,462.3h1.8M265.8,470.3h1.8M269.2,462.3V470.4M268.3,462.3h1.8M268.3,470.4h1.8M271.6,462.2V470.4M270.7,462.2h1.8M270.7,470.4h1.8M274.1,462.1V470.5M273.2,462.1h1.8M273.2,470.5h1.8M276.5,462.1V470.5M275.6,462.1h1.8M275.6,470.5h1.8M279.0,462.0V470.6M278.1,462.0h1.8M278.1,470.6h1.8M281.4,461.9V470.7M280.6,461.9h1.8M280.6,470.7h1.8M283.9,461.7V470.9M283.0,461.7h1.8M283.0,470.9h1.8M286.4,461.4V471.2M285.5,461.4h1.8M285.5,471.2h1.8M288.8,461.0V471.4M287.9,461.0h1.8M287.9,471.4h1.8M291.3,460.6V471.5M290.4,460.6h1.8M290.4,471.5h1.8M293.7,459.9V471.4M292.8,459.9h1.8M292.8,471.4h1.8M296.2,459.2V471.2M295.3,459.2h1.8M295.3,471.2h1.8M298.6,458.5V471.0M297.7,458.5h1.8M297.7,471.0h1.8M301.1,457.6V470.7M300.2,457.6h1.8M300.2,470.7h1.8M303.5,456.8V470.4M302.6,456.8h1.8M302.6,470.4h1.8M306.0,455.9V470.1M305.1,455.9h1.8M305.1,470.1h1.8M308.5,455.1V469.8M307.6,455.1h1.8M307.6,469.8h1.8M310.9,454.3V469.6M310.0,454.3h1.8M310.0,469.6h1.8M313.4,453.5V469.4M312.5,453.5h1.8M312.5,469.4h1.8M315.8,452.8V469.1M314.9,452.8h1.8M314.9,469.1h1.8M318.3,452.0V468.9M317.4,452.0h1.8M317.4,468.9h1.8M320.7,451.1V468.6M319.8,451.1h1.8M319.8,468.6h1.8M323.2,450.3V468.3M322.3,450.3h1.8M322.3,468.3h1.8M325.6,449.5V468.0M324.7,449.5h1.8M324.7,468.0h1.8M328.1,448.6V467.7M327.2,448.6h1.8M327.2,467.7h1.8M330.6,447.8V467.4M329.7,447.8h1.8M329.7,467.4h1.8M333.0,446.7V467.3M332.1,446.7h1.8M332.1,467.3h1.8M335.5,445.6V467.2M334.6,445.6h1.8M334.6,467.2h1.8M337.9,444.6V467.1M337.0,444.6h1.8M337.0,467.1h1.8M340.4,443.5V466.9M339.5,443.5h1.8M339.5,466.9h1.8M342.8,442.4V466.8M341.9,442.4h1.8M341.9,466.8h1.8M345.3,441.3V466.7M344.4,441.3h1.8M344.4,466.7h1.8M347.7,440.2V466.5M346.8,440.2h1.8M346.8,466.5h1.8M350.2,439.0V466.3M349.3,439.0h1.8M349.3,466.3h1.8M352.6,437.9V466.2M351.7,437.9h1.8M351.7,466.2h1.8M355.1,436.7V466.0M354.2,436.7h1.8M354.2,466.0h1.8M357.6,435.6V465.8M356.7,435.6h1.8M356.7,465.8h1.8M360.0,434.4V465.5M359.1,434.4h1.8M359.1,465.5h1.8M362.5,433.2V465.3M361.6,433.2h1.8M361.6,465.3h1.8M364.9,431.9V465.0M364.0,431.9h1.8M364.0,465.0h1.8M367.4,430.6V464.7M366.5,430.6h1.8M366.5,464.7h1.8M369.8,429.4V464.3M368.9,429.4h1.8M368.9,464.3h1.8M372.3,428.0V464.0M371.4,428.0h1.8M371.4,464.0h1.8M374.7,426.7V463.6M373.8,426.7h1.8M373.8,463.6h1.8M377.2,425.4V463.3M376.3,425.4h1.8M376.3,463.3h1.8M379.6,424.1V462.9M378.8,424.1h1.8M378.8,462.9h1.8M382.1,422.7V462.5M381.2,422.7h1.8M381.2,462.5h1.8M384.6,421.4V462.1M383.7,421.4h1.8M383.7,462.1h1.8M387.0,420.0V461.7M386.1,420.0h1.8M386.1,461.7h1.8M389.5,418.7V461.4M388.6,418.7h1.8M388.6,461.4h1.8M391.9,417.4V461.0M391.0,417.4h1.8M391.0,461.0h1.8" stroke="#b53d9d" stroke-width="0.75" stroke-opacity="0.9" fill="none"/>
<path d="M109.6,467.4V469.6M108.7,467.4h1.8M108.7,469.6h1.8M112.1,462.5V464.7M111.2,462.5h1.8M111.2,464.7h1.8M114.5,460.6V462.8M113.6,460.6h1.8M113.6,462.8h1.8M117.0,459.5V461.8M116.1,459.5h1.8M116.1,461.8h1.8M119.4,458.7V461.0M118.5,458.7h1.8M118.5,461.0h1.8M121.9,458.2V460.5M121.0,458.2h1.8M121.0,460.5h1.8M124.3,458.0V460.4M123.4,458.0h1.8M123.4,460.4h1.8M126.8,458.0V460.4M125.9,458.0h1.8M125.9,460.4h1.8M129.2,458.1V460.5M128.3,458.1h1.8M128.3,460.5h1.8M131.7,458.1V460.5M130.8,458.1h1.8M130.8,460.5h1.8M134.2,458.2V460.6M133.2,458.2h1.8M133.2,460.6h1.8M136.6,458.3V460.7M135.7,458.3h1.8M135.7,460.7h1.8M139.1,458.3V460.9M138.2,458.3h1.8M138.2,460.9h1.8M141.5,458.4V461.0M140.6,458.4h1.8M140.6,461.0h1.8M144.0,458.6V461.1M143.1,458.6h1.8M143.1,461.1h1.8M146.4,458.7V461.3M145.5,458.7h1.8M145.5,461.3h1.8M148.9,458.8V461.4M148.0,458.8h1.8M148.0,461.4h1.8M151.3,458.9V461.6M150.4,458.9h1.8M150.4,461.6h1.8M153.8,459.0V461.7M152.9,459.0h1.8M152.9,461.7h1.8M156.2,459.1V461.8M155.3,459.1h1.8M155.3,461.8h1.8M158.7,459.2V461.9M157.8,459.2h1.8M157.8,461.9h1.8M161.2,459.3V462.1M160.3,459.3h1.8M160.3,462.1h1.8M163.6,459.4V462.2M162.7,459.4h1.8M162.7,462.2h1.8M166.1,459.4V462.2M165.2,459.4h1.8M165.2,462.2h1.8M168.5,459.5V462.3M167.6,459.5h1.8M167.6,462.3h1.8M171.0,459.5V462.4M170.1,459.5h1.8M170.1,462.4h1.8M173.4,459.6V462.5M172.5,459.6h1.8M172.5,462.5h1.8M175.9,459.6V462.5M175.0,459.6h1.8M175.0,462.5h1.8M178.3,459.6V462.6M177.4,459.6h1.8M177.4,462.6h1.8M180.8,459.7V462.7M179.9,459.7h1.8M179.9,462.7h1.8M183.2,459.7V462.7M182.3,459.7h1.8M182.3,462.7h1.8M185.7,459.8V462.8M184.8,459.8h1.8M184.8,462.8h1.8M188.2,459.8V462.9M187.3,459.8h1.8M187.3,462.9h1.8M190.6,459.9V463.0M189.7,459.9h1.8M189.7,463.0h1.8M193.1,460.0V463.1M192.2,460.0h1.8M192.2,463.1h1.8M195.5,460.1V463.3M194.6,460.1h1.8M194.6,463.3h1.8M198.0,460.3V463.4M197.1,460.3h1.8M197.1,463.4h1.8M200.4,460.4V463.6M199.5,460.4h1.8M199.5,463.6h1.8M202.9,460.6V463.8M202.0,460.6h1.8M202.0,463.8h1.8M205.3,460.8V464.0M204.4,460.8h1.8M204.4,464.0h1.8M207.8,461.0V464.3M206.9,461.0h1.8M206.9,464.3h1.8M210.3,461.1V464.7M209.4,461.1h1.8M209.4,464.7h1.8M212.7,463.2V467.0M211.8,463.2h1.8M211.8,467.0h1.8M215.2,468.4V472.5M214.3,468.4h1.8M214.3,472.5h1.8M217.6,468.4V472.8M216.7,468.4h1.8M216.7,472.8h1.8M220.1,468.2V472.6M219.2,468.2h1.8M219.2,472.6h1.8M222.5,467.9V472.4M221.6,467.9h1.8M221.6,472.4h1.8M225.0,467.5V472.1M224.1,467.5h1.8M224.1,472.1h1.8M227.4,467.1V471.7M226.5,467.1h1.8M226.5,471.7h1.8M229.9,466.6V471.3M229.0,466.6h1.8M229.0,471.3h1.8M232.3,466.1V470.8M231.4,466.1h1.8M231.4,470.8h1.8M234.8,465.6V470.3M233.9,465.6h1.8M233.9,470.3h1.8M237.3,465.1V469.9M236.4,465.1h1.8M236.4,469.9h1.8M239.7,464.7V469.6M238.8,464.7h1.8M238.8,469.6h1.8M242.2,464.4V469.3M241.3,464.4h1.8M241.3,469.3h1.8M244.6,464.1V469.2M243.7,464.1h1.8M243.7,469.2h1.8M247.1,463.9V469.0M246.2,463.9h1.8M246.2,469.0h1.8M249.5,463.7V468.8M248.6,463.7h1.8M248.6,468.8h1.8M252.0,463.5V468.7M251.1,463.5h1.8M251.1,468.7h1.8M254.4,463.3V468.6M253.5,463.3h1.8M253.5,468.6h1.8M256.9,463.2V468.5M256.0,463.2h1.8M256.0,468.5h1.8M259.4,463.1V468.5M258.5,463.1h1.8M258.5,468.5h1.8M261.8,463.0V468.5M260.9,463.0h1.8M260.9,468.5h1.8M264.3,463.1V468.6M263.4,463.1h1.8M263.4,468.6h1.8M266.7,463.1V468.7M265.8,463.1h1.8M265.8,468.7h1.8M269.2,463.3V468.9M268.3,463.3h1.8M268.3,468.9h1.8M271.6,463.5V469.2M270.7,463.5h1.8M270.7,469.2h1.8M274.1,463.7V469.5M273.2,463.7h1.8M273.2,469.5h1.8M276.5,463.9V469.7M275.6,463.9h1.8M275.6,469.7h1.8M279.0,464.1V470.0M278.1,464.1h1.8M278.1,470.0h1.8M281.4,464.3V470.2M280.6,464.3h1.8M280.6,470.2h1.8M283.9,464.4V470.4M283.0,464.4h1.8M283.0,470.4h1.8M286.4,464.4V470.4M285.5,464.4h1.8M285.5,470.4h1.8M288.8,464.3V470.4M287.9,464.3h1.8M287.9,470.4h1.8M291.3,464.0V470.2M290.4,464.0h1.8M290.4,470.2h1.8M293.7,463.6V469.8M292.8,463.6h1.8M292.8,469.8h1.8M296.2,463.1V469.4M295.3,463.1h1.8M295.3,469.4h1.8M298.6,462.5V468.9M297.7,462.5h1.8M297.7,468.9h1.8M301.1,461.9V468.4M300.2,461.9h1.8M300.2,468.4h1.8M303.5,461.3V467.8M302.6,461.3h1.8M302.6,467.8h1.8M306.0,460.6V467.2M305.1,460.6h1.8M305.1,467.2h1.8M308.5,460.0V466.6M307.6,460.0h1.8M307.6,466.6h1.8M310.9,459.4V466.2M310.0,459.4h1.8M310.0,466.2h1.8M313.4,458.8V465.7M312.5,458.8h1.8M312.5,465.7h1.8M315.8,458.2V465.2M314.9,458.2h1.8M314.9,465.2h1.8M318.3,457.5V464.7M317.4,457.5h1.8M317.4,464.7h1.8M320.7,456.9V464.2M319.8,456.9h1.8M319.8,464.2h1.8M323.2,456.3V463.7M322.3,456.3h1.8M322.3,463.7h1.8M325.6,455.6V463.1M324.7,455.6h1.8M324.7,463.1h1.8M328.1,454.9V462.6M327.2,454.9h1.8M327.2,462.6h1.8M330.6,454.2V462.0M329.7,454.2h1.8M329.7,462.0h1.8M333.0,453.6V461.5M332.1,453.6h1.8M332.1,461.5h1.8M335.5,452.9V460.9M334.6,452.9h1.8M334.6,460.9h1.8M337.9,452.2V460.4M337.0,452.2h1.8M337.0,460.4h1.8M340.4,451.5V459.8M339.5,451.5h1.8M339.5,459.8h1.8M342.8,450.8V459.2M341.9,450.8h1.8M341.9,459.2h1.8M345.3,450.1V458.7M344.4,450.1h1.8M344.4,458.7h1.8M347.7,449.4V458.1M346.8,449.4h1.8M346.8,458.1h1.8M350.2,448.6V457.4M349.3,448.6h1.8M349.3,457.4h1.8M352.6,447.9V456.8M351.7,447.9h1.8M351.7,456.8h1.8M355.1,447.0V456.1M354.2,447.0h1.8M354.2,456.1h1.8M357.6,446.2V455.4M356.7,446.2h1.8M356.7,455.4h1.8M360.0,445.3V454.6M359.1,445.3h1.8M359.1,454.6h1.8M362.5,444.3V453.8M361.6,444.3h1.8M361.6,453.8h1.8M364.9,443.3V452.8M364.0,443.3h1.8M364.0,452.8h1.8M367.4,442.2V451.8M366.5,442.2h1.8M366.5,451.8h1.8M369.8,441.0V450.8M368.9,441.0h1.8M368.9,450.8h1.8M372.3,439.8V449.7M371.4,439.8h1.8M371.4,449.7h1.8M374.7,438.5V448.6M373.8,438.5h1.8M373.8,448.6h1.8M377.2,437.2V447.4M376.3,437.2h1.8M376.3,447.4h1.8M379.6,435.9V446.2M378.8,435.9h1.8M378.8,446.2h1.8M382.1,434.6V445.0M381.2,434.6h1.8M381.2,445.0h1.8M384.6,433.3V443.8M383.7,433.3h1.8M383.7,443.8h1.8M387.0,432.0V442.6M386.1,432.0h1.8M386.1,442.6h1.8M389.5,430.7V441.5M388.6,430.7h1.8M388.6,441.5h1.8M391.9,429.5V440.4M391.0,429.5h1.8M391.0,440.4h1.8" stroke="#5bc6e6" stroke-width="0.75" stroke-opacity="0.9" fill="none"/>
<path d="M109.6,467.4V469.6M108.7,467.4h1.8M108.7,469.6h1.8M112.1,464.4V466.6M111.2,464.4h1.8M111.2,466.6h1.8M114.5,462.8V465.1M113.6,462.8h1.8M113.6,465.1h1.8M117.0,461.8V464.0M116.1,461.8h1.8M116.1,464.0h1.8M119.4,461.0V463.2M118.5,461.0h1.8M118.5,463.2h1.8M121.9,460.4V462.7M121.0,460.4h1.8M121.0,462.7h1.8M124.3,460.2V462.6M123.4,460.2h1.8M123.4,462.6h1.8M126.8,460.2V462.6M125.9,460.2h1.8M125.9,462.6h1.8M129.2,460.2V462.6M128.3,460.2h1.8M128.3,462.6h1.8M131.7,460.2V462.7M130.8,460.2h1.8M130.8,462.7h1.8M134.2,460.3V462.7M133.2,460.3h1.8M133.2,462.7h1.8M136.6,460.3V462.8M135.7,460.3h1.8M135.7,462.8h1.8M139.1,460.4V462.9M138.2,460.4h1.8M138.2,462.9h1.8M141.5,460.4V463.0M140.6,460.4h1.8M140.6,463.0h1.8M144.0,460.5V463.0M143.1,460.5h1.8M143.1,463.0h1.8M146.4,460.5V463.1M145.5,460.5h1.8M145.5,463.1h1.8M148.9,460.6V463.2M148.0,460.6h1.8M148.0,463.2h1.8M151.3,460.7V463.3M150.4,460.7h1.8M150.4,463.3h1.8M153.8,460.7V463.4M152.9,460.7h1.8M152.9,463.4h1.8M156.2,460.8V463.5M155.3,460.8h1.8M155.3,463.5h1.8M158.7,460.9V463.6M157.8,460.9h1.8M157.8,463.6h1.8M161.2,460.9V463.7M160.3,460.9h1.8M160.3,463.7h1.8M163.6,460.9V463.7M162.7,460.9h1.8M162.7,463.7h1.8M166.1,461.0V463.8M165.2,461.0h1.8M165.2,463.8h1.8M168.5,461.0V463.8M167.6,461.0h1.8M167.6,463.8h1.8M171.0,461.0V463.9M170.1,461.0h1.8M170.1,463.9h1.8M173.4,461.1V464.0M172.5,461.1h1.8M172.5,464.0h1.8M175.9,461.1V464.0M175.0,461.1h1.8M175.0,464.0h1.8M178.3,461.1V464.1M177.4,461.1h1.8M177.4,464.1h1.8M180.8,461.1V464.1M179.9,461.1h1.8M179.9,464.1h1.8M183.2,461.2V464.2M182.3,461.2h1.8M182.3,464.2h1.8M185.7,461.2V464.2M184.8,461.2h1.8M184.8,464.2h1.8M188.2,461.3V464.3M187.3,461.3h1.8M187.3,464.3h1.8M190.6,461.3V464.4M189.7,461.3h1.8M189.7,464.4h1.8M193.1,461.4V464.5M192.2,461.4h1.8M192.2,464.5h1.8M195.5,461.5V464.6M194.6,461.5h1.8M194.6,464.6h1.8M198.0,461.6V464.7M197.1,461.6h1.8M197.1,464.7h1.8M200.4,461.7V464.9M199.5,461.7h1.8M199.5,464.9h1.8M202.9,461.8V465.1M202.0,461.8h1.8M202.0,465.1h1.8M205.3,462.0V465.2M204.4,462.0h1.8M204.4,465.2h1.8M207.8,462.2V465.5M206.9,462.2h1.8M206.9,465.5h1.8M210.3,462.3V465.8M209.4,462.3h1.8M209.4,465.8h1.8M212.7,464.8V468.6M211.8,464.8h1.8M211.8,468.6h1.8M215.2,471.6V475.7M214.3,471.6h1.8M214.3,475.7h1.8M217.6,471.7V476.0M216.7,471.7h1.8M216.7,476.0h1.8M220.1,471.4V475.8M219.2,471.4h1.8M219.2,475.8h1.8M222.5,471.2V475.6M221.6,471.2h1.8M221.6,475.6h1.8M225.0,471.0V475.6M224.1,471.0h1.8M224.1,475.6h1.8M227.4,470.9V475.5M226.5,470.9h1.8M226.5,475.5h1.8M229.9,470.8V475.5M229.0,470.8h1.8M229.0,475.5h1.8M232.3,470.7V475.5M231.4,470.7h1.8M231.4,475.5h1.8M234.8,470.7V475.4M233.9,470.7h1.8M233.9,475.4h1.8M237.3,470.6V475.4M236.4,470.6h1.8M236.4,475.4h1.8M239.7,470.5V475.4M238.8,470.5h1.8M238.8,475.4h1.8M242.2,470.4V475.3M241.3,470.4h1.8M241.3,475.3h1.8M244.6,470.2V475.3M243.7,470.2h1.8M243.7,475.3h1.8M247.1,470.1V475.2M246.2,470.1h1.8M246.2,475.2h1.8M249.5,469.9V475.1M248.6,469.9h1.8M248.6,475.1h1.8M252.0,469.7V474.9M251.1,469.7h1.8M251.1,474.9h1.8M254.4,469.6V474.8M253.5,469.6h1.8M253.5,474.8h1.8M256.9,469.4V474.7M256.0,469.4h1.8M256.0,474.7h1.8M259.4,469.2V474.6M258.5,469.2h1.8M258.5,474.6h1.8M261.8,469.0V474.5M260.9,469.0h1.8M260.9,474.5h1.8M264.3,468.9V474.4M263.4,468.9h1.8M263.4,474.4h1.8M266.7,468.8V474.3M265.8,468.8h1.8M265.8,474.3h1.8M269.2,468.6V474.3M268.3,468.6h1.8M268.3,474.3h1.8M271.6,468.5V474.2M270.7,468.5h1.8M270.7,474.2h1.8M274.1,468.4V474.2M273.2,468.4h1.8M273.2,474.2h1.8M276.5,468.3V474.1M275.6,468.3h1.8M275.6,474.1h1.8M279.0,468.2V474.0M278.1,468.2h1.8M278.1,474.0h1.8M281.4,468.0V473.9M280.6,468.0h1.8M280.6,473.9h1.8M283.9,467.8V473.8M283.0,467.8h1.8M283.0,473.8h1.8M286.4,467.6V473.7M285.5,467.6h1.8M285.5,473.7h1.8M288.8,467.4V473.5M287.9,467.4h1.8M287.9,473.5h1.8M291.3,467.0V473.2M290.4,467.0h1.8M290.4,473.2h1.8M293.7,466.6V472.8M292.8,466.6h1.8M292.8,472.8h1.8M296.2,466.1V472.4M295.3,466.1h1.8M295.3,472.4h1.8M298.6,465.5V471.9M297.7,465.5h1.8M297.7,471.9h1.8M301.1,464.9V471.3M300.2,464.9h1.8M300.2,471.3h1.8M303.5,464.3V470.8M302.6,464.3h1.8M302.6,470.8h1.8M306.0,463.6V470.2M305.1,463.6h1.8M305.1,470.2h1.8M308.5,463.0V469.7M307.6,463.0h1.8M307.6,469.7h1.8M310.9,462.4V469.2M310.0,462.4h1.8M310.0,469.2h1.8M313.4,461.7V468.7M312.5,461.7h1.8M312.5,468.7h1.8M315.8,461.1V468.2M314.9,461.1h1.8M314.9,468.2h1.8M318.3,460.5V467.6M317.4,460.5h1.8M317.4,467.6h1.8M320.7,459.8V467.1M319.8,459.8h1.8M319.8,467.1h1.8M323.2,459.1V466.5M322.3,459.1h1.8M322.3,466.5h1.8M325.6,458.4V465.9M324.7,458.4h1.8M324.7,465.9h1.8M328.1,457.7V465.3M327.2,457.7h1.8M327.2,465.3h1.8M330.6,457.0V464.8M329.7,457.0h1.8M329.7,464.8h1.8M333.0,456.2V464.1M332.1,456.2h1.8M332.1,464.1h1.8M335.5,455.5V463.5M334.6,455.5h1.8M334.6,463.5h1.8M337.9,454.8V462.9M337.0,454.8h1.8M337.0,462.9h1.8M340.4,454.0V462.3M339.5,454.0h1.8M339.5,462.3h1.8M342.8,453.3V461.7M341.9,453.3h1.8M341.9,461.7h1.8M345.3,452.5V461.0M344.4,452.5h1.8M344.4,461.0h1.8M347.7,451.7V460.4M346.8,451.7h1.8M346.8,460.4h1.8M350.2,450.9V459.7M349.3,450.9h1.8M349.3,459.7h1.8M352.6,450.1V459.0M351.7,450.1h1.8M351.7,459.0h1.8M355.1,449.2V458.3M354.2,449.2h1.8M354.2,458.3h1.8M357.6,448.4V457.5M356.7,448.4h1.8M356.7,457.5h1.8M360.0,447.5V456.8M359.1,447.5h1.8M359.1,456.8h1.8M362.5,446.6V456.0M361.6,446.6h1.8M361.6,456.0h1.8M364.9,445.6V455.1M364.0,445.6h1.8M364.0,455.1h1.8M367.4,444.6V454.3M366.5,444.6h1.8M366.5,454.3h1.8M369.8,443.6V453.4M368.9,443.6h1.8M368.9,453.4h1.8M372.3,442.5V452.4M371.4,442.5h1.8M371.4,452.4h1.8M374.7,441.4V451.5M373.8,441.4h1.8M373.8,451.5h1.8M377.2,440.3V450.5M376.3,440.3h1.8M376.3,450.5h1.8M379.6,439.2V449.5M378.8,439.2h1.8M378.8,449.5h1.8M382.1,438.1V448.5M381.2,438.1h1.8M381.2,448.5h1.8M384.6,437.0V447.6M383.7,437.0h1.8M383.7,447.6h1.8M387.0,435.9V446.6M386.1,435.9h1.8M386.1,446.6h1.8M389.5,434.9V445.6M388.6,434.9h1.8M388.6,445.6h1.8M391.9,433.8V444.7M391.0,433.8h1.8M391.0,444.7h1.8" stroke="#6a4fb4" stroke-width="0.75" stroke-opacity="0.9" fill="none"/>
<path d="M109.6,467.4V469.6M108.7,467.4h1.8M108.7,469.6h1.8M112.1,465.7V467.9M111.2,465.7h1.8M111.2,467.9h1.8M114.5,464.6V466.8M113.6,464.6h1.8M113.6,466.8h1.8M117.0,463.6V465.8M116.1,463.6h1.8M116.1,465.8h1.8M119.4,462.7V465.0M118.5,462.7h1.8M118.5,465.0h1.8M121.9,462.1V464.4M121.0,462.1h1.8M121.0,464.4h1.8M124.3,461.9V464.2M123.4,461.9h1.8M123.4,464.2h1.8M126.8,461.9V464.2M125.9,461.9h1.8M125.9,464.2h1.8M129.2,461.9V464.3M128.3,461.9h1.8M128.3,464.3h1.8M131.7,462.0V464.4M130.8,462.0h1.8M130.8,464.4h1.8M134.2,462.0V464.5M133.2,462.0h1.8M133.2,464.5h1.8M136.6,462.1V464.6M135.7,462.1h1.8M135.7,464.6h1.8M139.1,462.2V464.8M138.2,462.2h1.8M138.2,464.8h1.8M141.5,462.4V464.9M140.6,462.4h1.8M140.6,464.9h1.8M144.0,462.5V465.1M143.1,462.5h1.8M143.1,465.1h1.8M146.4,462.6V465.2M145.5,462.6h1.8M145.5,465.2h1.8M148.9,462.8V465.4M148.0,462.8h1.8M148.0,465.4h1.8M151.3,462.9V465.6M150.4,462.9h1.8M150.4,465.6h1.8M153.8,463.1V465.7M152.9,463.1h1.8M152.9,465.7h1.8M156.2,463.2V465.9M155.3,463.2h1.8M155.3,465.9h1.8M158.7,463.3V466.0M157.8,463.3h1.8M157.8,466.0h1.8M161.2,463.4V466.2M160.3,463.4h1.8M160.3,466.2h1.8M163.6,463.5V466.3M162.7,463.5h1.8M162.7,466.3h1.8M166.1,463.6V466.4M165.2,463.6h1.8M165.2,466.4h1.8M168.5,463.6V466.5M167.6,463.6h1.8M167.6,466.5h1.8M171.0,463.7V466.5M170.1,463.7h1.8M170.1,466.5h1.8M173.4,463.7V466.6M172.5,463.7h1.8M172.5,466.6h1.8M175.9,463.8V466.7M175.0,463.8h1.8M175.0,466.7h1.8M178.3,463.8V466.8M177.4,463.8h1.8M177.4,466.8h1.8M180.8,463.9V466.8M179.9,463.9h1.8M179.9,466.8h1.8M183.2,463.9V466.9M182.3,463.9h1.8M182.3,466.9h1.8M185.7,464.0V467.0M184.8,464.0h1.8M184.8,467.0h1.8M188.2,464.0V467.1M187.3,464.0h1.8M187.3,467.1h1.8M190.6,464.1V467.2M189.7,464.1h1.8M189.7,467.2h1.8M193.1,464.2V467.3M192.2,464.2h1.8M192.2,467.3h1.8M195.5,464.4V467.5M194.6,464.4h1.8M194.6,467.5h1.8M198.0,464.5V467.7M197.1,464.5h1.8M197.1,467.7h1.8M200.4,464.7V467.8M199.5,464.7h1.8M199.5,467.8h1.8M202.9,464.9V468.1M202.0,464.9h1.8M202.0,468.1h1.8M205.3,465.1V468.3M204.4,465.1h1.8M204.4,468.3h1.8M207.8,465.3V468.6M206.9,465.3h1.8M206.9,468.6h1.8M210.3,465.5V469.0M209.4,465.5h1.8M209.4,469.0h1.8M212.7,467.6V471.4M211.8,467.6h1.8M211.8,471.4h1.8M215.2,472.7V476.8M214.3,472.7h1.8M214.3,476.8h1.8M217.6,472.8V477.1M216.7,472.8h1.8M216.7,477.1h1.8M220.1,472.5V476.9M219.2,472.5h1.8M219.2,476.9h1.8M222.5,472.2V476.7M221.6,472.2h1.8M221.6,476.7h1.8M225.0,472.1V476.7M224.1,472.1h1.8M224.1,476.7h1.8M227.4,472.0V476.6M226.5,472.0h1.8M226.5,476.6h1.8M229.9,471.9V476.6M229.0,471.9h1.8M229.0,476.6h1.8M232.3,471.8V476.6M231.4,471.8h1.8M231.4,476.6h1.8M234.8,471.8V476.5M233.9,471.8h1.8M233.9,476.5h1.8M237.3,471.7V476.5M236.4,471.7h1.8M236.4,476.5h1.8M239.7,471.6V476.5M238.8,471.6h1.8M238.8,476.5h1.8M242.2,471.5V476.4M241.3,471.5h1.8M241.3,476.4h1.8M244.6,471.3V476.4M243.7,471.3h1.8M243.7,476.4h1.8M247.1,471.2V476.3M246.2,471.2h1.8M246.2,476.3h1.8M249.5,471.0V476.2M248.6,471.0h1.8M248.6,476.2h1.8M252.0,470.8V476.0M251.1,470.8h1.8M251.1,476.0h1.8M254.4,470.6V475.9M253.5,470.6h1.8M253.5,475.9h1.8M256.9,470.5V475.8M256.0,470.5h1.8M256.0,475.8h1.8M259.4,470.3V475.7M258.5,470.3h1.8M258.5,475.7h1.8M261.8,470.1V475.6M260.9,470.1h1.8M260.9,475.6h1.8M264.3,470.0V475.5M263.4,470.0h1.8M263.4,475.5h1.8M266.7,469.9V475.4M265.8,469.9h1.8M265.8,475.4h1.8M269.2,469.7V475.4M268.3,469.7h1.8M268.3,475.4h1.8M271.6,469.6V475.3M270.7,469.6h1.8M270.7,475.3h1.8M274.1,469.5V475.3M273.2,469.5h1.8M273.2,475.3h1.8M276.5,469.4V475.2M275.6,469.4h1.8M275.6,475.2h1.8M279.0,469.2V475.1M278.1,469.2h1.8M278.1,475.1h1.8M281.4,469.1V475.0M280.6,469.1h1.8M280.6,475.0h1.8M283.9,468.9V474.9M283.0,468.9h1.8M283.0,474.9h1.8M286.4,468.7V474.8M285.5,468.7h1.8M285.5,474.8h1.8M288.8,468.5V474.6M287.9,468.5h1.8M287.9,474.6h1.8M291.3,468.2V474.3M290.4,468.2h1.8M290.4,474.3h1.8M293.7,467.7V474.0M292.8,467.7h1.8M292.8,474.0h1.8M296.2,467.3V473.6M295.3,467.3h1.8M295.3,473.6h1.8M298.6,466.8V473.2M297.7,466.8h1.8M297.7,473.2h1.8M301.1,466.3V472.7M300.2,466.3h1.8M300.2,472.7h1.8M303.5,465.7V472.2M302.6,465.7h1.8M302.6,472.2h1.8M306.0,465.1V471.7M305.1,465.1h1.8M305.1,471.7h1.8M308.5,464.6V471.2M307.6,464.6h1.8M307.6,471.2h1.8M310.9,464.0V470.8M310.0,464.0h1.8M310.0,470.8h1.8M313.4,463.4V470.4M312.5,463.4h1.8M312.5,470.4h1.8M315.8,462.8V469.9M314.9,462.8h1.8M314.9,469.9h1.8M318.3,462.2V469.4M317.4,462.2h1.8M317.4,469.4h1.8M320.7,461.6V468.9M319.8,461.6h1.8M319.8,468.9h1.8M323.2,461.0V468.4M322.3,461.0h1.8M322.3,468.4h1.8M325.6,460.3V467.9M324.7,460.3h1.8M324.7,467.9h1.8M328.1,459.7V467.4M327.2,459.7h1.8M327.2,467.4h1.8M330.6,459.1V466.9M329.7,459.1h1.8M329.7,466.9h1.8M333.0,458.6V466.5M332.1,458.6h1.8M332.1,466.5h1.8M335.5,458.0V466.1M334.6,458.0h1.8M334.6,466.1h1.8M337.9,457.5V465.7M337.0,457.5h1.8M337.0,465.7h1.8M340.4,457.0V465.3M339.5,457.0h1.8M339.5,465.3h1.8M342.8,456.5V464.9M341.9,456.5h1.8M341.9,464.9h1.8M345.3,455.9V464.5M344.4,455.9h1.8M344.4,464.5h1.8M347.7,455.4V464.1M346.8,455.4h1.8M346.8,464.1h1.8M350.2,454.9V463.7M349.3,454.9h1.8M349.3,463.7h1.8M352.6,454.4V463.3M351.7,454.4h1.8M351.7,463.3h1.8M355.1,453.9V463.0M354.2,453.9h1.8M354.2,463.0h1.8M357.6,453.4V462.6M356.7,453.4h1.8M356.7,462.6h1.8M360.0,452.9V462.2M359.1,452.9h1.8M359.1,462.2h1.8M362.5,452.4V461.9M361.6,452.4h1.8M361.6,461.9h1.8M364.9,452.0V461.5M364.0,452.0h1.8M364.0,461.5h1.8M367.4,451.5V461.1M366.5,451.5h1.8M366.5,461.1h1.8M369.8,451.0V460.8M368.9,451.0h1.8M368.9,460.8h1.8M372.3,450.5V460.4M371.4,450.5h1.8M371.4,460.4h1.8M374.7,450.1V460.1M373.8,450.1h1.8M373.8,460.1h1.8M377.2,449.6V459.7M376.3,449.6h1.8M376.3,459.7h1.8M379.6,449.1V459.4M378.8,449.1h1.8M378.8,459.4h1.8M382.1,448.6V459.1M381.2,448.6h1.8M381.2,459.1h1.8M384.6,448.2V458.7M383.7,448.2h1.8M383.7,458.7h1.8M387.0,447.7V458.4M386.1,447.7h1.8M386.1,458.4h1.8M389.5,447.2V458.0M388.6,447.2h1.8M388.6,458.0h1.8M391.9,446.8V457.7M391.0,446.8h1.8M391.0,457.7h1.8" stroke="#c9a3aa" stroke-width="0.75" stroke-opacity="0.9" fill="none"/>
<path d="M109.6,467.4V469.6M108.7,467.4h1.8M108.7,469.6h1.8M112.1,468.3V470.5M111.2,468.3h1.8M111.2,470.5h1.8M114.5,468.3V470.5M113.6,468.3h1.8M113.6,470.5h1.8M117.0,467.5V469.8M116.1,467.5h1.8M116.1,469.8h1.8M119.4,466.5V468.8M118.5,466.5h1.8M118.5,468.8h1.8M121.9,465.5V467.9M121.0,465.5h1.8M121.0,467.9h1.8M124.3,465.1V467.5M123.4,465.1h1.8M123.4,467.5h1.8M126.8,465.2V467.5M125.9,465.2h1.8M125.9,467.5h1.8M129.2,465.2V467.6M128.3,465.2h1.8M128.3,467.6h1.8M131.7,465.3V467.8M130.8,465.3h1.8M130.8,467.8h1.8M134.2,465.5V468.0M133.2,465.5h1.8M133.2,468.0h1.8M136.6,465.7V468.2M135.7,465.7h1.8M135.7,468.2h1.8M139.1,465.9V468.4M138.2,465.9h1.8M138.2,468.4h1.8M141.5,466.2V468.7M140.6,466.2h1.8M140.6,468.7h1.8M144.0,466.4V469.0M143.1,466.4h1.8M143.1,469.0h1.8M146.4,466.7V469.3M145.5,466.7h1.8M145.5,469.3h1.8M148.9,467.0V469.6M148.0,467.0h1.8M148.0,469.6h1.8M151.3,467.3V469.9M150.4,467.3h1.8M150.4,469.9h1.8M153.8,467.5V470.2M152.9,467.5h1.8M152.9,470.2h1.8M156.2,467.7V470.4M155.3,467.7h1.8M155.3,470.4h1.8M158.7,467.9V470.7M157.8,467.9h1.8M157.8,470.7h1.8M161.2,468.1V470.9M160.3,468.1h1.8M160.3,470.9h1.8M163.6,468.3V471.0M162.7,468.3h1.8M162.7,471.0h1.8M166.1,468.4V471.2M165.2,468.4h1.8M165.2,471.2h1.8M168.5,468.5V471.3M167.6,468.5h1.8M167.6,471.3h1.8M171.0,468.6V471.5M170.1,468.6h1.8M170.1,471.5h1.8M173.4,468.7V471.6M172.5,468.7h1.8M172.5,471.6h1.8M175.9,468.8V471.7M175.0,468.8h1.8M175.0,471.7h1.8M178.3,468.8V471.8M177.4,468.8h1.8M177.4,471.8h1.8M180.8,468.9V471.9M179.9,468.9h1.8M179.9,471.9h1.8M183.2,469.0V472.0M182.3,469.0h1.8M182.3,472.0h1.8M185.7,469.1V472.1M184.8,469.1h1.8M184.8,472.1h1.8M188.2,469.2V472.2M187.3,469.2h1.8M187.3,472.2h1.8M190.6,469.3V472.4M189.7,469.3h1.8M189.7,472.4h1.8M193.1,469.5V472.6M192.2,469.5h1.8M192.2,472.6h1.8M195.5,469.7V472.8M194.6,469.7h1.8M194.6,472.8h1.8M198.0,469.9V473.0M197.1,469.9h1.8M197.1,473.0h1.8M200.4,470.1V473.3M199.5,470.1h1.8M199.5,473.3h1.8M202.9,470.4V473.6M202.0,470.4h1.8M202.0,473.6h1.8M205.3,470.7V474.0M204.4,470.7h1.8M204.4,474.0h1.8M207.8,471.1V474.4M206.9,471.1h1.8M206.9,474.4h1.8M210.3,471.3V475.1M209.4,471.3h1.8M209.4,475.1h1.8M212.7,473.8V478.1M211.8,473.8h1.8M211.8,478.1h1.8M215.2,479.9V484.8M214.3,479.9h1.8M214.3,484.8h1.8M217.6,479.9V485.3M216.7,479.9h1.8M216.7,485.3h1.8M220.1,479.6V485.1M219.2,479.6h1.8M219.2,485.1h1.8M222.5,479.4V484.9M221.6,479.4h1.8M221.6,484.9h1.8M225.0,479.3V484.8M224.1,479.3h1.8M224.1,484.8h1.8M227.4,479.2V484.7M226.5,479.2h1.8M226.5,484.7h1.8M229.9,479.1V484.7M229.0,479.1h1.8M229.0,484.7h1.8M232.3,479.0V484.7M231.4,479.0h1.8M231.4,484.7h1.8M234.8,478.9V484.6M233.9,478.9h1.8M233.9,484.6h1.8M237.3,478.9V484.6M236.4,478.9h1.8M236.4,484.6h1.8M239.7,478.8V484.5M238.8,478.8h1.8M238.8,484.5h1.8M242.2,478.7V484.5M241.3,478.7h1.8M241.3,484.5h1.8M244.6,478.6V484.4M243.7,478.6h1.8M243.7,484.4h1.8M247.1,478.5V484.3M246.2,478.5h1.8M246.2,484.3h1.8M249.5,478.3V484.2M248.6,478.3h1.8M248.6,484.2h1.8M252.0,478.2V484.0M251.1,478.2h1.8M251.1,484.0h1.8M254.4,478.0V483.9M253.5,478.0h1.8M253.5,483.9h1.8M256.9,477.8V483.8M256.0,477.8h1.8M256.0,483.8h1.8M259.4,477.7V483.6M258.5,477.7h1.8M258.5,483.6h1.8M261.8,477.5V483.5M260.9,477.5h1.8M260.9,483.5h1.8M264.3,477.3V483.3M263.4,477.3h1.8M263.4,483.3h1.8M266.7,477.1V483.2M265.8,477.1h1.8M265.8,483.2h1.8M269.2,476.9V483.0M268.3,476.9h1.8M268.3,483.0h1.8M271.6,476.7V482.8M270.7,476.7h1.8M270.7,482.8h1.8M274.1,476.5V482.6M273.2,476.5h1.8M273.2,482.6h1.8M276.5,476.2V482.4M275.6,476.2h1.8M275.6,482.4h1.8M279.0,476.0V482.2M278.1,476.0h1.8M278.1,482.2h1.8M281.4,475.7V482.0M280.6,475.7h1.8M280.6,482.0h1.8M283.9,475.5V481.7M283.0,475.5h1.8M283.0,481.7h1.8M286.4,475.2V481.5M285.5,475.2h1.8M285.5,481.5h1.8M288.8,474.8V481.2M287.9,474.8h1.8M287.9,481.2h1.8M291.3,474.5V480.8M290.4,474.5h1.8M290.4,480.8h1.8M293.7,474.0V480.4M292.8,474.0h1.8M292.8,480.4h1.8M296.2,473.6V480.0M295.3,473.6h1.8M295.3,480.0h1.8M298.6,473.1V479.6M297.7,473.1h1.8M297.7,479.6h1.8M301.1,472.7V479.1M300.2,472.7h1.8M300.2,479.1h1.8M303.5,472.2V478.7M302.6,472.2h1.8M302.6,478.7h1.8M306.0,471.7V478.2M305.1,471.7h1.8M305.1,478.2h1.8M308.5,471.1V477.7M307.6,471.1h1.8M307.6,477.7h1.8M310.9,470.6V477.3M310.0,470.6h1.8M310.0,477.3h1.8M313.4,470.1V476.8M312.5,470.1h1.8M312.5,476.8h1.8M315.8,469.5V476.3M314.9,469.5h1.8M314.9,476.3h1.8M318.3,468.9V475.8M317.4,468.9h1.8M317.4,475.8h1.8M320.7,468.4V475.3M319.8,468.4h1.8M319.8,475.3h1.8M323.2,467.8V474.7M322.3,467.8h1.8M322.3,474.7h1.8M325.6,467.2V474.2M324.7,467.2h1.8M324.7,474.2h1.8M328.1,466.6V473.7M327.2,466.6h1.8M327.2,473.7h1.8M330.6,466.0V473.2M329.7,466.0h1.8M329.7,473.2h1.8M333.0,465.4V472.7M332.1,465.4h1.8M332.1,472.7h1.8M335.5,464.8V472.1M334.6,464.8h1.8M334.6,472.1h1.8M337.9,464.3V471.6M337.0,464.3h1.8M337.0,471.6h1.8M340.4,463.7V471.1M339.5,463.7h1.8M339.5,471.1h1.8M342.8,463.1V470.6M341.9,463.1h1.8M341.9,470.6h1.8M345.3,462.6V470.1M344.4,462.6h1.8M344.4,470.1h1.8M347.7,462.0V469.6M346.8,462.0h1.8M346.8,469.6h1.8M350.2,461.4V469.1M349.3,461.4h1.8M349.3,469.1h1.8M352.6,460.8V468.6M351.7,460.8h1.8M351.7,468.6h1.8M355.1,460.3V468.0M354.2,460.3h1.8M354.2,468.0h1.8M357.6,459.7V467.5M356.7,459.7h1.8M356.7,467.5h1.8M360.0,459.1V467.0M359.1,459.1h1.8M359.1,467.0h1.8M362.5,458.5V466.5M361.6,458.5h1.8M361.6,466.5h1.8M364.9,457.9V465.9M364.0,457.9h1.8M364.0,465.9h1.8M367.4,457.3V465.4M366.5,457.3h1.8M366.5,465.4h1.8M369.8,456.7V464.8M368.9,456.7h1.8M368.9,464.8h1.8M372.3,456.1V464.3M371.4,456.1h1.8M371.4,464.3h1.8M374.7,455.5V463.7M373.8,455.5h1.8M373.8,463.7h1.8M377.2,454.8V463.2M376.3,454.8h1.8M376.3,463.2h1.8M379.6,454.2V462.6M378.8,454.2h1.8M378.8,462.6h1.8M382.1,453.6V462.1M381.2,453.6h1.8M381.2,462.1h1.8M384.6,453.0V461.5M383.7,453.0h1.8M383.7,461.5h1.8M387.0,452.4V461.0M386.1,452.4h1.8M386.1,461.0h1.8M389.5,451.8V460.4M388.6,451.8h1.8M388.6,460.4h1.8M391.9,451.2V459.9M391.0,451.2h1.8M391.0,459.9h1.8" stroke="#3fae7c" stroke-width="0.75" stroke-opacity="0.9" fill="none"/>
<path d="M109.6,468.5 L110.6,468.7 L111.6,468.9 L112.5,469.0 L113.0,469.0 L113.5,469.0 L114.5,468.9 L115.5,468.6 L116.5,468.3 L117.4,467.9 L118.4,467.5 L119.4,467.1 L120.4,466.7 L121.3,466.3 L122.3,466.0 L123.3,465.8 L124.3,465.8 L124.3,465.8 L125.3,465.8 L126.2,465.8 L127.2,465.8 L128.2,465.8 L129.2,465.8 L130.2,465.9 L131.1,465.9 L132.1,465.9 L133.1,466.0 L134.1,466.0 L135.0,466.1 L136.0,466.1 L137.0,466.2 L138.0,466.2 L139.0,466.3 L139.9,466.4 L140.9,466.4 L141.9,466.5 L142.9,466.6 L143.9,466.6 L144.8,466.7 L145.8,466.8 L146.8,466.9 L147.8,466.9 L148.7,467.0 L149.7,467.1 L150.7,467.1 L151.7,467.2 L152.7,467.3 L153.6,467.4 L154.6,467.4 L155.6,467.5 L156.6,467.5 L157.6,467.6 L158.5,467.7 L158.7,467.7 L159.5,467.7 L160.5,467.8 L161.5,467.8 L162.4,467.9 L163.4,467.9 L164.4,467.9 L165.4,468.0 L166.4,468.0 L167.3,468.1 L168.3,468.1 L169.3,468.1 L170.3,468.1 L171.3,468.2 L172.2,468.2 L173.2,468.2 L174.2,468.3 L175.2,468.3 L176.1,468.3 L177.1,468.3 L178.1,468.4 L179.1,468.4 L180.1,468.4 L181.0,468.5 L182.0,468.5 L183.0,468.5 L184.0,468.5 L185.0,468.6 L185.9,468.6 L186.9,468.6 L187.9,468.7 L188.9,468.7 L189.8,468.8 L190.8,468.8 L191.8,468.9 L192.8,468.9 L193.8,469.0 L194.7,469.0 L195.7,469.1 L196.7,469.2 L197.7,469.2 L198.7,469.3 L199.6,469.4 L200.6,469.5 L201.6,469.5 L202.6,469.6 L203.5,469.7 L204.5,469.8 L205.5,469.9 L206.5,470.0 L207.5,470.2 L208.4,470.3 L209.4,470.4 L210.4,470.6 L211.2,470.7 L211.4,470.7 L212.4,471.6 L213.3,473.3 L214.3,475.0 L215.3,476.0 L215.7,476.1 L216.3,476.1 L217.2,476.1 L218.2,476.0 L219.2,475.8 L220.2,475.7 L221.2,475.6 L222.1,475.6 L222.5,475.6 L223.1,475.6 L224.1,475.6 L225.1,475.6 L226.1,475.6 L227.0,475.6 L228.0,475.6 L229.0,475.6 L230.0,475.6 L230.9,475.6 L231.9,475.6 L232.9,475.6 L233.9,475.6 L234.9,475.6 L235.8,475.6 L236.8,475.6 L237.8,475.6 L238.8,475.6 L239.8,475.6 L240.7,475.6 L241.7,475.6 L242.2,475.6 L242.7,475.6 L243.7,475.6 L244.6,475.5 L245.6,475.5 L246.6,475.4 L247.6,475.4 L248.6,475.3 L249.5,475.2 L250.5,475.2 L251.5,475.1 L252.5,475.0 L253.5,474.9 L254.4,474.8 L255.4,474.8 L256.4,474.7 L257.4,474.6 L258.3,474.6 L259.3,474.5 L260.3,474.5 L261.3,474.5 L261.8,474.5 L262.3,474.5 L263.2,474.5 L264.2,474.5 L265.2,474.5 L266.2,474.5 L267.2,474.6 L268.1,474.6 L269.1,474.6 L270.1,474.6 L271.1,474.7 L272.0,474.7 L273.0,474.7 L274.0,474.8 L275.0,474.8 L276.0,474.8 L276.9,474.9 L277.9,474.9 L278.9,474.9 L279.9,474.9 L280.9,475.0 L281.8,475.0 L282.8,475.0 L283.8,475.0 L284.8,475.0 L285.7,475.0 L286.4,475.0 L286.7,475.0 L287.7,475.0 L288.7,475.0 L289.7,475.0 L290.6,474.9 L291.6,474.8 L292.6,474.8 L293.6,474.7 L294.6,474.6 L295.5,474.5 L296.5,474.4 L297.5,474.3 L298.5,474.2 L299.4,474.0 L300.4,473.9 L301.4,473.8 L302.4,473.7 L303.4,473.5 L304.3,473.4 L305.3,473.3 L306.3,473.1 L307.3,473.0 L308.3,472.9 L309.2,472.8 L310.2,472.7 L310.9,472.6 L311.2,472.5 L312.2,472.4 L313.1,472.3 L314.1,472.2 L315.1,472.1 L316.1,472.0 L317.1,471.9 L318.0,471.8 L319.0,471.7 L320.0,471.6 L321.0,471.5 L322.0,471.3 L322.9,471.2 L323.9,471.1 L324.9,471.0 L325.9,470.8 L326.8,470.7 L327.8,470.6 L328.8,470.4 L329.8,470.3 L330.6,470.1 L330.8,470.1 L331.7,469.9 L332.7,469.7 L333.7,469.5 L334.7,469.3 L335.7,469.1 L336.6,468.9 L337.6,468.7 L338.6,468.4 L339.6,468.2 L340.6,467.9 L341.5,467.7 L342.5,467.4 L343.5,467.1 L344.5,466.8 L345.4,466.5 L346.4,466.2 L347.4,465.9 L348.4,465.6 L349.4,465.3 L350.3,465.0 L351.3,464.7 L352.3,464.4 L353.3,464.1 L354.3,463.8 L355.2,463.5 L356.2,463.2 L357.2,462.8 L358.2,462.5 L359.1,462.2 L360.0,461.9 L360.1,461.9 L361.1,461.6 L362.1,461.3 L363.1,461.0 L364.0,460.6 L365.0,460.3 L366.0,459.9 L367.0,459.6 L368.0,459.2 L368.9,458.9 L369.9,458.5 L370.9,458.2 L371.9,457.8 L372.8,457.4 L373.8,457.1 L374.8,456.7 L375.8,456.3 L376.8,456.0 L377.7,455.6 L378.7,455.2 L379.7,454.8 L380.7,454.4 L381.7,454.1 L382.6,453.7 L383.6,453.3 L384.6,452.9 L385.6,452.5 L386.5,452.2 L387.5,451.8 L388.5,451.4 L389.5,451.0 L390.5,450.7 L391.4,450.3 L392.4,449.9" stroke="#e23a44" stroke-width="1.6" fill="none" stroke-linejoin="round"/>
<path d="M109.6,468.5 L110.6,467.6 L111.6,466.8 L112.5,466.0 L113.0,465.8 L113.5,465.5 L114.5,465.1 L115.5,464.7 L116.5,464.3 L117.4,463.9 L118.4,463.6 L119.4,463.3 L120.4,463.0 L121.3,462.8 L122.3,462.6 L123.3,462.5 L124.3,462.5 L124.3,462.5 L125.3,462.5 L126.2,462.5 L127.2,462.5 L128.2,462.5 L129.2,462.6 L130.2,462.6 L131.1,462.6 L132.1,462.6 L133.1,462.7 L134.1,462.7 L135.0,462.8 L136.0,462.8 L137.0,462.8 L138.0,462.9 L139.0,463.0 L139.9,463.0 L140.9,463.1 L141.9,463.1 L142.9,463.2 L143.9,463.2 L144.8,463.3 L145.8,463.4 L146.8,463.4 L147.8,463.5 L148.7,463.5 L149.7,463.6 L150.7,463.7 L151.7,463.7 L152.7,463.8 L153.6,463.8 L154.6,463.9 L155.6,464.0 L156.6,464.0 L157.6,464.1 L158.5,464.1 L158.7,464.1 L159.5,464.2 L160.5,464.2 L161.5,464.3 L162.4,464.3 L163.4,464.3 L164.4,464.4 L165.4,464.4 L166.4,464.4 L167.3,464.5 L168.3,464.5 L169.3,464.5 L170.3,464.6 L171.3,464.6 L172.2,464.6 L173.2,464.6 L174.2,464.7 L175.2,464.7 L176.1,464.7 L177.1,464.8 L178.1,464.8 L179.1,464.8 L180.1,464.8 L181.0,464.9 L182.0,464.9 L183.0,464.9 L184.0,465.0 L185.0,465.0 L185.9,465.0 L186.9,465.1 L187.9,465.1 L188.9,465.1 L189.8,465.2 L190.8,465.2 L191.8,465.3 L192.8,465.3 L193.8,465.4 L194.7,465.4 L195.7,465.5 L196.7,465.5 L197.7,465.6 L198.7,465.7 L199.6,465.7 L200.6,465.8 L201.6,465.9 L202.6,466.0 L203.5,466.0 L204.5,466.1 L205.5,466.2 L206.5,466.3 L207.5,466.4 L208.4,466.5 L209.4,466.6 L210.4,466.8 L211.2,466.9 L211.4,466.9 L212.4,467.4 L213.3,468.2 L214.3,469.0 L215.3,469.5 L215.7,469.6 L216.3,469.6 L217.2,469.5 L218.2,469.5 L219.2,469.4 L220.2,469.3 L221.2,469.2 L222.1,469.1 L222.5,469.0 L223.1,469.0 L224.1,468.9 L225.1,468.8 L226.1,468.7 L227.0,468.7 L228.0,468.6 L229.0,468.5 L230.0,468.4 L230.9,468.3 L231.9,468.2 L232.9,468.1 L233.9,468.0 L234.9,468.0 L235.8,467.9 L236.8,467.8 L237.8,467.7 L238.8,467.6 L239.8,467.6 L240.7,467.5 L241.7,467.4 L242.2,467.4 L242.7,467.4 L243.7,467.3 L244.6,467.2 L245.6,467.2 L246.6,467.1 L247.6,467.1 L248.6,467.0 L249.5,466.9 L250.5,466.9 L251.5,466.8 L252.5,466.8 L253.5,466.7 L254.4,466.7 L255.4,466.6 L256.4,466.6 L257.4,466.5 L258.3,466.5 L259.3,466.4 L260.3,466.4 L261.3,466.3 L261.8,466.3 L262.3,466.3 L263.2,466.2 L264.2,466.2 L265.2,466.2 L266.2,466.1 L267.2,466.1 L268.1,466.0 L269.1,466.0 L270.1,466.0 L271.1,465.9 L272.0,465.9 L273.0,465.9 L274.0,465.8 L275.0,465.8 L276.0,465.8 L276.9,465.7 L277.9,465.7 L278.9,465.6 L279.9,465.6 L280.9,465.6 L281.8,465.5 L282.8,465.5 L283.8,465.4 L284.8,465.3 L285.7,465.3 L286.4,465.2 L286.7,465.2 L287.7,465.1 L288.7,465.0 L289.7,464.9 L290.6,464.7 L291.6,464.6 L292.6,464.4 L293.6,464.2 L294.6,464.0 L295.5,463.8 L296.5,463.5 L297.5,463.3 L298.5,463.1 L299.4,462.8 L300.4,462.6 L301.4,462.3 L302.4,462.0 L303.4,461.8 L304.3,461.5 L305.3,461.2 L306.3,461.0 L307.3,460.7 L308.3,460.4 L309.2,460.2 L310.2,459.9 L310.9,459.8 L311.2,459.7 L312.2,459.5 L313.1,459.2 L314.1,459.0 L315.1,458.7 L316.1,458.5 L317.1,458.2 L318.0,458.0 L319.0,457.7 L320.0,457.5 L321.0,457.2 L322.0,456.9 L322.9,456.6 L323.9,456.4 L324.9,456.1 L325.9,455.8 L326.8,455.5 L327.8,455.2 L328.8,454.9 L329.8,454.6 L330.6,454.3 L330.8,454.2 L331.7,453.9 L332.7,453.6 L333.7,453.2 L334.7,452.8 L335.7,452.5 L336.6,452.1 L337.6,451.7 L338.6,451.3 L339.6,450.9 L340.6,450.5 L341.5,450.1 L342.5,449.6 L343.5,449.2 L344.5,448.8 L345.4,448.3 L346.4,447.9 L347.4,447.4 L348.4,447.0 L349.4,446.5 L350.3,446.0 L351.3,445.6 L352.3,445.1 L353.3,444.6 L354.3,444.1 L355.2,443.6 L356.2,443.1 L357.2,442.7 L358.2,442.2 L359.1,441.7 L360.0,441.2 L360.1,441.2 L361.1,440.7 L362.1,440.1 L363.1,439.6 L364.0,439.1 L365.0,438.5 L366.0,438.0 L367.0,437.4 L368.0,436.8 L368.9,436.3 L369.9,435.7 L370.9,435.1 L371.9,434.5 L372.8,433.9 L373.8,433.3 L374.8,432.7 L375.8,432.1 L376.8,431.4 L377.7,430.8 L378.7,430.2 L379.7,429.6 L380.7,429.0 L381.7,428.3 L382.6,427.7 L383.6,427.1 L384.6,426.5 L385.6,425.8 L386.5,425.2 L387.5,424.6 L388.5,424.0 L389.5,423.4 L390.5,422.8 L391.4,422.2 L392.4,421.6" stroke="#55b947" stroke-width="1.6" fill="none" stroke-linejoin="round"/>
<path d="M109.6,468.5 L110.6,467.1 L111.6,465.7 L112.5,464.5 L113.0,464.1 L113.5,463.9 L114.5,463.4 L115.5,462.9 L116.5,462.5 L117.4,462.2 L118.4,461.8 L119.4,461.5 L120.4,461.3 L121.3,461.1 L122.3,461.0 L123.3,460.9 L124.3,460.9 L124.3,460.9 L125.3,460.9 L126.2,460.9 L127.2,460.9 L128.2,460.9 L129.2,460.9 L130.2,460.9 L131.1,460.9 L132.1,460.9 L133.1,460.9 L134.1,461.0 L135.0,461.0 L136.0,461.0 L137.0,461.0 L138.0,461.0 L139.0,461.1 L139.9,461.1 L140.9,461.1 L141.9,461.2 L142.9,461.2 L143.9,461.2 L144.8,461.2 L145.8,461.3 L146.8,461.3 L147.8,461.3 L148.7,461.4 L149.7,461.4 L150.7,461.4 L151.7,461.5 L152.7,461.5 L153.6,461.5 L154.6,461.6 L155.6,461.6 L156.6,461.6 L157.6,461.6 L158.5,461.7 L158.7,461.7 L159.5,461.7 L160.5,461.7 L161.5,461.7 L162.4,461.8 L163.4,461.8 L164.4,461.8 L165.4,461.8 L166.4,461.8 L167.3,461.9 L168.3,461.9 L169.3,461.9 L170.3,461.9 L171.3,461.9 L172.2,461.9 L173.2,462.0 L174.2,462.0 L175.2,462.0 L176.1,462.0 L177.1,462.0 L178.1,462.0 L179.1,462.1 L180.1,462.1 L181.0,462.1 L182.0,462.1 L183.0,462.1 L184.0,462.1 L185.0,462.2 L185.9,462.2 L186.9,462.2 L187.9,462.2 L188.9,462.3 L189.8,462.3 L190.8,462.3 L191.8,462.4 L192.8,462.4 L193.8,462.4 L194.7,462.5 L195.7,462.5 L196.7,462.6 L197.7,462.6 L198.7,462.7 L199.6,462.7 L200.6,462.8 L201.6,462.8 L202.6,462.9 L203.5,462.9 L204.5,463.0 L205.5,463.1 L206.5,463.2 L207.5,463.2 L208.4,463.3 L209.4,463.4 L210.4,463.5 L211.2,463.6 L211.4,463.6 L212.4,465.1 L213.3,467.9 L214.3,470.8 L215.3,472.7 L215.7,472.9 L216.3,472.8 L217.2,472.8 L218.2,472.7 L219.2,472.6 L220.2,472.5 L221.2,472.4 L222.1,472.3 L222.5,472.3 L223.1,472.3 L224.1,472.2 L225.1,472.2 L226.1,472.2 L227.0,472.1 L228.0,472.1 L229.0,472.1 L230.0,472.1 L230.9,472.0 L231.9,472.0 L232.9,472.0 L233.9,472.0 L234.9,472.0 L235.8,471.9 L236.8,471.9 L237.8,471.9 L238.8,471.9 L239.8,471.8 L240.7,471.8 L241.7,471.8 L242.2,471.8 L242.7,471.7 L243.7,471.7 L244.6,471.7 L245.6,471.6 L246.6,471.6 L247.6,471.5 L248.6,471.5 L249.5,471.4 L250.5,471.3 L251.5,471.3 L252.5,471.2 L253.5,471.2 L254.4,471.1 L255.4,471.0 L256.4,471.0 L257.4,470.9 L258.3,470.9 L259.3,470.8 L260.3,470.8 L261.3,470.7 L261.8,470.7 L262.3,470.7 L263.2,470.6 L264.2,470.6 L265.2,470.5 L266.2,470.5 L267.2,470.4 L268.1,470.4 L269.1,470.4 L270.1,470.3 L271.1,470.3 L272.0,470.3 L273.0,470.2 L274.0,470.2 L275.0,470.2 L276.0,470.1 L276.9,470.1 L277.9,470.0 L278.9,470.0 L279.9,469.9 L280.9,469.9 L281.8,469.9 L282.8,469.8 L283.8,469.7 L284.8,469.7 L285.7,469.6 L286.4,469.6 L286.7,469.6 L287.7,469.5 L288.7,469.4 L289.7,469.3 L290.6,469.2 L291.6,469.1 L292.6,468.9 L293.6,468.8 L294.6,468.7 L295.5,468.5 L296.5,468.3 L297.5,468.2 L298.5,468.0 L299.4,467.9 L300.4,467.7 L301.4,467.5 L302.4,467.3 L303.4,467.1 L304.3,467.0 L305.3,466.8 L306.3,466.6 L307.3,466.4 L308.3,466.2 L309.2,466.1 L310.2,465.9 L310.9,465.8 L311.2,465.7 L312.2,465.5 L313.1,465.4 L314.1,465.2 L315.1,465.0 L316.1,464.8 L317.1,464.6 L318.0,464.5 L319.0,464.3 L320.0,464.1 L321.0,463.9 L322.0,463.7 L322.9,463.5 L323.9,463.3 L324.9,463.1 L325.9,462.9 L326.8,462.7 L327.8,462.5 L328.8,462.3 L329.8,462.1 L330.6,461.9 L330.8,461.9 L331.7,461.7 L332.7,461.5 L333.7,461.3 L334.7,461.1 L335.7,460.9 L336.6,460.7 L337.6,460.5 L338.6,460.3 L339.6,460.1 L340.6,459.9 L341.5,459.7 L342.5,459.5 L343.5,459.2 L344.5,459.0 L345.4,458.8 L346.4,458.6 L347.4,458.4 L348.4,458.2 L349.4,458.0 L350.3,457.7 L351.3,457.5 L352.3,457.3 L353.3,457.1 L354.3,456.8 L355.2,456.6 L356.2,456.3 L357.2,456.1 L358.2,455.9 L359.1,455.6 L360.0,455.4 L360.1,455.4 L361.1,455.1 L362.1,454.9 L363.1,454.6 L364.0,454.3 L365.0,454.1 L366.0,453.8 L367.0,453.5 L368.0,453.2 L368.9,452.9 L369.9,452.6 L370.9,452.3 L371.9,452.0 L372.8,451.7 L373.8,451.4 L374.8,451.1 L375.8,450.8 L376.8,450.5 L377.7,450.2 L378.7,449.9 L379.7,449.6 L380.7,449.3 L381.7,449.0 L382.6,448.6 L383.6,448.3 L384.6,448.0 L385.6,447.7 L386.5,447.4 L387.5,447.1 L388.5,446.8 L389.5,446.5 L390.5,446.2 L391.4,445.9 L392.4,445.6" stroke="#3b4ba6" stroke-width="1.6" fill="none" stroke-linejoin="round"/>
<path d="M109.6,468.5 L110.6,465.6 L111.6,462.6 L112.5,460.3 L113.0,459.8 L113.5,459.5 L114.5,458.9 L115.5,458.5 L116.5,458.0 L117.4,457.7 L118.4,457.4 L119.4,457.1 L120.4,456.9 L121.3,456.7 L122.3,456.6 L123.3,456.5 L124.3,456.5 L124.3,456.5 L125.3,456.5 L126.2,456.5 L127.2,456.5 L128.2,456.5 L129.2,456.5 L130.2,456.5 L131.1,456.6 L132.1,456.6 L133.1,456.6 L134.1,456.6 L135.0,456.6 L136.0,456.7 L137.0,456.7 L138.0,456.7 L139.0,456.7 L139.9,456.8 L140.9,456.8 L141.9,456.8 L142.9,456.9 L143.9,456.9 L144.8,456.9 L145.8,457.0 L146.8,457.0 L147.8,457.0 L148.7,457.1 L149.7,457.1 L150.7,457.1 L151.7,457.2 L152.7,457.2 L153.6,457.2 L154.6,457.3 L155.6,457.3 L156.6,457.4 L157.6,457.4 L158.5,457.4 L158.7,457.4 L159.5,457.4 L160.5,457.5 L161.5,457.5 L162.4,457.5 L163.4,457.5 L164.4,457.6 L165.4,457.6 L166.4,457.6 L167.3,457.6 L168.3,457.6 L169.3,457.7 L170.3,457.7 L171.3,457.7 L172.2,457.7 L173.2,457.7 L174.2,457.7 L175.2,457.8 L176.1,457.8 L177.1,457.8 L178.1,457.8 L179.1,457.8 L180.1,457.9 L181.0,457.9 L182.0,457.9 L183.0,457.9 L184.0,457.9 L185.0,458.0 L185.9,458.0 L186.9,458.0 L187.9,458.0 L188.9,458.1 L189.8,458.1 L190.8,458.1 L191.8,458.2 L192.8,458.2 L193.8,458.2 L194.7,458.3 L195.7,458.3 L196.7,458.4 L197.7,458.4 L198.7,458.5 L199.6,458.5 L200.6,458.6 L201.6,458.6 L202.6,458.7 L203.5,458.8 L204.5,458.8 L205.5,458.9 L206.5,459.0 L207.5,459.1 L208.4,459.2 L209.4,459.3 L210.4,459.4 L211.2,459.4 L211.4,459.5 L212.4,460.9 L213.3,463.7 L214.3,466.5 L215.3,468.3 L215.7,468.5 L216.3,468.5 L217.2,468.4 L218.2,468.3 L219.2,468.2 L220.2,468.1 L221.2,468.0 L222.1,468.0 L222.5,467.9 L223.1,467.9 L224.1,467.9 L225.1,467.8 L226.1,467.8 L227.0,467.8 L228.0,467.8 L229.0,467.7 L230.0,467.7 L230.9,467.7 L231.9,467.7 L232.9,467.6 L233.9,467.6 L234.9,467.6 L235.8,467.6 L236.8,467.6 L237.8,467.5 L238.8,467.5 L239.8,467.5 L240.7,467.4 L241.7,467.4 L242.2,467.4 L242.7,467.4 L243.7,467.3 L244.6,467.3 L245.6,467.2 L246.6,467.2 L247.6,467.1 L248.6,467.0 L249.5,466.9 L250.5,466.9 L251.5,466.8 L252.5,466.7 L253.5,466.7 L254.4,466.6 L255.4,466.5 L256.4,466.5 L257.4,466.4 L258.3,466.4 L259.3,466.3 L260.3,466.3 L261.3,466.3 L261.8,466.3 L262.3,466.3 L263.2,466.3 L264.2,466.3 L265.2,466.3 L266.2,466.3 L267.2,466.3 L268.1,466.3 L269.1,466.3 L270.1,466.3 L271.1,466.3 L272.0,466.3 L273.0,466.3 L274.0,466.3 L275.0,466.3 L276.0,466.3 L276.9,466.3 L277.9,466.3 L278.9,466.3 L279.9,466.3 L280.9,466.3 L281.8,466.3 L282.8,466.3 L283.8,466.3 L284.8,466.3 L285.7,466.3 L286.4,466.3 L286.7,466.3 L287.7,466.3 L288.7,466.2 L289.7,466.2 L290.6,466.1 L291.6,466.0 L292.6,465.8 L293.6,465.7 L294.6,465.5 L295.5,465.4 L296.5,465.2 L297.5,465.0 L298.5,464.8 L299.4,464.6 L300.4,464.3 L301.4,464.1 L302.4,463.9 L303.4,463.6 L304.3,463.4 L305.3,463.2 L306.3,463.0 L307.3,462.7 L308.3,462.5 L309.2,462.3 L310.2,462.1 L310.9,461.9 L311.2,461.9 L312.2,461.7 L313.1,461.5 L314.1,461.3 L315.1,461.1 L316.1,460.9 L317.1,460.7 L318.0,460.5 L319.0,460.2 L320.0,460.0 L321.0,459.8 L322.0,459.6 L322.9,459.4 L323.9,459.1 L324.9,458.9 L325.9,458.7 L326.8,458.5 L327.8,458.2 L328.8,458.0 L329.8,457.8 L330.6,457.6 L330.8,457.5 L331.7,457.3 L332.7,457.1 L333.7,456.8 L334.7,456.6 L335.7,456.4 L336.6,456.1 L337.6,455.9 L338.6,455.6 L339.6,455.4 L340.6,455.2 L341.5,454.9 L342.5,454.7 L343.5,454.4 L344.5,454.2 L345.4,453.9 L346.4,453.7 L347.4,453.4 L348.4,453.2 L349.4,452.9 L350.3,452.6 L351.3,452.4 L352.3,452.1 L353.3,451.9 L354.3,451.6 L355.2,451.3 L356.2,451.0 L357.2,450.8 L358.2,450.5 L359.1,450.2 L360.0,449.9 L360.1,449.9 L361.1,449.6 L362.1,449.3 L363.1,449.0 L364.0,448.7 L365.0,448.4 L366.0,448.1 L367.0,447.8 L368.0,447.5 L368.9,447.2 L369.9,446.8 L370.9,446.5 L371.9,446.2 L372.8,445.8 L373.8,445.5 L374.8,445.2 L375.8,444.8 L376.8,444.5 L377.7,444.1 L378.7,443.8 L379.7,443.5 L380.7,443.1 L381.7,442.8 L382.6,442.4 L383.6,442.1 L384.6,441.7 L385.6,441.4 L386.5,441.1 L387.5,440.7 L388.5,440.4 L389.5,440.0 L390.5,439.7 L391.4,439.4 L392.4,439.0" stroke="#b53d9d" stroke-width="1.6" fill="none" stroke-linejoin="round"/>
<path d="M109.6,468.5 L110.6,466.5 L111.6,464.5 L112.5,462.9 L113.0,462.5 L113.5,462.2 L114.5,461.7 L115.5,461.2 L116.5,460.8 L117.4,460.5 L118.4,460.1 L119.4,459.9 L120.4,459.6 L121.3,459.5 L122.3,459.3 L123.3,459.2 L124.3,459.2 L124.3,459.2 L125.3,459.2 L126.2,459.2 L127.2,459.2 L128.2,459.3 L129.2,459.3 L130.2,459.3 L131.1,459.3 L132.1,459.3 L133.1,459.4 L134.1,459.4 L135.0,459.4 L136.0,459.5 L137.0,459.5 L138.0,459.6 L139.0,459.6 L139.9,459.6 L140.9,459.7 L141.9,459.7 L142.9,459.8 L143.9,459.8 L144.8,459.9 L145.8,459.9 L146.8,460.0 L147.8,460.0 L148.7,460.1 L149.7,460.1 L150.7,460.2 L151.7,460.2 L152.7,460.3 L153.6,460.3 L154.6,460.4 L155.6,460.4 L156.6,460.5 L157.6,460.5 L158.5,460.6 L158.7,460.6 L159.5,460.6 L160.5,460.7 L161.5,460.7 L162.4,460.7 L163.4,460.8 L164.4,460.8 L165.4,460.8 L166.4,460.8 L167.3,460.9 L168.3,460.9 L169.3,460.9 L170.3,460.9 L171.3,461.0 L172.2,461.0 L173.2,461.0 L174.2,461.0 L175.2,461.0 L176.1,461.1 L177.1,461.1 L178.1,461.1 L179.1,461.1 L180.1,461.2 L181.0,461.2 L182.0,461.2 L183.0,461.2 L184.0,461.2 L185.0,461.3 L185.9,461.3 L186.9,461.3 L187.9,461.4 L188.9,461.4 L189.8,461.4 L190.8,461.5 L191.8,461.5 L192.8,461.6 L193.8,461.6 L194.7,461.7 L195.7,461.7 L196.7,461.8 L197.7,461.8 L198.7,461.9 L199.6,461.9 L200.6,462.0 L201.6,462.1 L202.6,462.2 L203.5,462.2 L204.5,462.3 L205.5,462.4 L206.5,462.5 L207.5,462.6 L208.4,462.7 L209.4,462.8 L210.4,462.9 L211.2,463.0 L211.4,463.1 L212.4,464.3 L213.3,466.6 L214.3,469.0 L215.3,470.5 L215.7,470.7 L216.3,470.7 L217.2,470.6 L218.2,470.6 L219.2,470.5 L220.2,470.4 L221.2,470.3 L222.1,470.2 L222.5,470.1 L223.1,470.1 L224.1,469.9 L225.1,469.8 L226.1,469.7 L227.0,469.5 L228.0,469.3 L229.0,469.1 L230.0,468.9 L230.9,468.7 L231.9,468.5 L232.9,468.3 L233.9,468.1 L234.9,467.9 L235.8,467.8 L236.8,467.6 L237.8,467.4 L238.8,467.3 L239.8,467.1 L240.7,467.0 L241.7,466.9 L242.2,466.9 L242.7,466.8 L243.7,466.7 L244.6,466.6 L245.6,466.6 L246.6,466.5 L247.6,466.4 L248.6,466.3 L249.5,466.3 L250.5,466.2 L251.5,466.1 L252.5,466.1 L253.5,466.0 L254.4,466.0 L255.4,465.9 L256.4,465.9 L257.4,465.8 L258.3,465.8 L259.3,465.8 L260.3,465.8 L261.3,465.8 L261.8,465.8 L262.3,465.8 L263.2,465.8 L264.2,465.8 L265.2,465.8 L266.2,465.9 L267.2,466.0 L268.1,466.0 L269.1,466.1 L270.1,466.2 L271.1,466.3 L272.0,466.4 L273.0,466.5 L274.0,466.6 L275.0,466.7 L276.0,466.8 L276.9,466.9 L277.9,467.0 L278.9,467.0 L279.9,467.1 L280.9,467.2 L281.8,467.3 L282.8,467.3 L283.8,467.4 L284.8,467.4 L285.7,467.4 L286.4,467.4 L286.7,467.4 L287.7,467.4 L288.7,467.3 L289.7,467.3 L290.6,467.2 L291.6,467.0 L292.6,466.9 L293.6,466.7 L294.6,466.6 L295.5,466.4 L296.5,466.2 L297.5,466.0 L298.5,465.8 L299.4,465.5 L300.4,465.3 L301.4,465.1 L302.4,464.8 L303.4,464.6 L304.3,464.3 L305.3,464.1 L306.3,463.8 L307.3,463.6 L308.3,463.4 L309.2,463.1 L310.2,462.9 L310.9,462.8 L311.2,462.7 L312.2,462.5 L313.1,462.3 L314.1,462.1 L315.1,461.9 L316.1,461.6 L317.1,461.4 L318.0,461.2 L319.0,461.0 L320.0,460.7 L321.0,460.5 L322.0,460.3 L322.9,460.0 L323.9,459.8 L324.9,459.5 L325.9,459.3 L326.8,459.1 L327.8,458.8 L328.8,458.6 L329.8,458.3 L330.6,458.1 L330.8,458.1 L331.7,457.8 L332.7,457.6 L333.7,457.3 L334.7,457.1 L335.7,456.8 L336.6,456.6 L337.6,456.4 L338.6,456.1 L339.6,455.9 L340.6,455.6 L341.5,455.4 L342.5,455.1 L343.5,454.9 L344.5,454.6 L345.4,454.3 L346.4,454.1 L347.4,453.8 L348.4,453.5 L349.4,453.3 L350.3,453.0 L351.3,452.7 L352.3,452.4 L353.3,452.1 L354.3,451.8 L355.2,451.5 L356.2,451.2 L357.2,450.9 L358.2,450.6 L359.1,450.2 L360.0,449.9 L360.1,449.9 L361.1,449.6 L362.1,449.2 L363.1,448.8 L364.0,448.4 L365.0,448.0 L366.0,447.6 L367.0,447.2 L368.0,446.8 L368.9,446.3 L369.9,445.9 L370.9,445.4 L371.9,444.9 L372.8,444.5 L373.8,444.0 L374.8,443.5 L375.8,443.0 L376.8,442.5 L377.7,442.0 L378.7,441.5 L379.7,441.0 L380.7,440.5 L381.7,440.0 L382.6,439.5 L383.6,439.0 L384.6,438.5 L385.6,438.0 L386.5,437.6 L387.5,437.1 L388.5,436.6 L389.5,436.1 L390.5,435.6 L391.4,435.1 L392.4,434.7" stroke="#5bc6e6" stroke-width="1.6" fill="none" stroke-linejoin="round"/>
<path d="M109.6,468.5 L110.6,467.3 L111.6,466.0 L112.5,465.0 L113.0,464.7 L113.5,464.4 L114.5,464.0 L115.5,463.5 L116.5,463.1 L117.4,462.7 L118.4,462.4 L119.4,462.1 L120.4,461.9 L121.3,461.7 L122.3,461.5 L123.3,461.4 L124.3,461.4 L124.3,461.4 L125.3,461.4 L126.2,461.4 L127.2,461.4 L128.2,461.4 L129.2,461.4 L130.2,461.4 L131.1,461.5 L132.1,461.5 L133.1,461.5 L134.1,461.5 L135.0,461.5 L136.0,461.5 L137.0,461.6 L138.0,461.6 L139.0,461.6 L139.9,461.6 L140.9,461.7 L141.9,461.7 L142.9,461.7 L143.9,461.8 L144.8,461.8 L145.8,461.8 L146.8,461.8 L147.8,461.9 L148.7,461.9 L149.7,461.9 L150.7,462.0 L151.7,462.0 L152.7,462.0 L153.6,462.1 L154.6,462.1 L155.6,462.1 L156.6,462.2 L157.6,462.2 L158.5,462.2 L158.7,462.2 L159.5,462.2 L160.5,462.3 L161.5,462.3 L162.4,462.3 L163.4,462.3 L164.4,462.4 L165.4,462.4 L166.4,462.4 L167.3,462.4 L168.3,462.4 L169.3,462.4 L170.3,462.5 L171.3,462.5 L172.2,462.5 L173.2,462.5 L174.2,462.5 L175.2,462.5 L176.1,462.6 L177.1,462.6 L178.1,462.6 L179.1,462.6 L180.1,462.6 L181.0,462.6 L182.0,462.7 L183.0,462.7 L184.0,462.7 L185.0,462.7 L185.9,462.7 L186.9,462.8 L187.9,462.8 L188.9,462.8 L189.8,462.8 L190.8,462.9 L191.8,462.9 L192.8,462.9 L193.8,463.0 L194.7,463.0 L195.7,463.1 L196.7,463.1 L197.7,463.2 L198.7,463.2 L199.6,463.3 L200.6,463.3 L201.6,463.4 L202.6,463.4 L203.5,463.5 L204.5,463.6 L205.5,463.6 L206.5,463.7 L207.5,463.8 L208.4,463.9 L209.4,464.0 L210.4,464.0 L211.2,464.1 L211.4,464.2 L212.4,465.8 L213.3,468.7 L214.3,471.8 L215.3,473.8 L215.7,473.9 L216.3,473.9 L217.2,473.9 L218.2,473.8 L219.2,473.7 L220.2,473.6 L221.2,473.5 L222.1,473.4 L222.5,473.4 L223.1,473.4 L224.1,473.3 L225.1,473.3 L226.1,473.3 L227.0,473.2 L228.0,473.2 L229.0,473.2 L230.0,473.2 L230.9,473.1 L231.9,473.1 L232.9,473.1 L233.9,473.1 L234.9,473.1 L235.8,473.0 L236.8,473.0 L237.8,473.0 L238.8,473.0 L239.8,472.9 L240.7,472.9 L241.7,472.9 L242.2,472.9 L242.7,472.8 L243.7,472.8 L244.6,472.7 L245.6,472.7 L246.6,472.7 L247.6,472.6 L248.6,472.5 L249.5,472.5 L250.5,472.4 L251.5,472.4 L252.5,472.3 L253.5,472.2 L254.4,472.2 L255.4,472.1 L256.4,472.1 L257.4,472.0 L258.3,472.0 L259.3,471.9 L260.3,471.8 L261.3,471.8 L261.8,471.8 L262.3,471.7 L263.2,471.7 L264.2,471.7 L265.2,471.6 L266.2,471.6 L267.2,471.5 L268.1,471.5 L269.1,471.5 L270.1,471.4 L271.1,471.4 L272.0,471.4 L273.0,471.3 L274.0,471.3 L275.0,471.3 L276.0,471.2 L276.9,471.2 L277.9,471.1 L278.9,471.1 L279.9,471.1 L280.9,471.0 L281.8,471.0 L282.8,470.9 L283.8,470.8 L284.8,470.8 L285.7,470.7 L286.4,470.7 L286.7,470.6 L287.7,470.6 L288.7,470.5 L289.7,470.3 L290.6,470.2 L291.6,470.1 L292.6,469.9 L293.6,469.7 L294.6,469.5 L295.5,469.3 L296.5,469.1 L297.5,468.9 L298.5,468.7 L299.4,468.5 L300.4,468.3 L301.4,468.0 L302.4,467.8 L303.4,467.6 L304.3,467.3 L305.3,467.1 L306.3,466.8 L307.3,466.6 L308.3,466.4 L309.2,466.1 L310.2,465.9 L310.9,465.8 L311.2,465.7 L312.2,465.5 L313.1,465.3 L314.1,465.0 L315.1,464.8 L316.1,464.6 L317.1,464.3 L318.0,464.1 L319.0,463.9 L320.0,463.6 L321.0,463.4 L322.0,463.1 L322.9,462.9 L323.9,462.6 L324.9,462.4 L325.9,462.1 L326.8,461.8 L327.8,461.6 L328.8,461.3 L329.8,461.1 L330.6,460.9 L330.8,460.8 L331.7,460.5 L332.7,460.3 L333.7,460.0 L334.7,459.7 L335.7,459.5 L336.6,459.2 L337.6,458.9 L338.6,458.7 L339.6,458.4 L340.6,458.1 L341.5,457.8 L342.5,457.6 L343.5,457.3 L344.5,457.0 L345.4,456.7 L346.4,456.4 L347.4,456.1 L348.4,455.8 L349.4,455.5 L350.3,455.2 L351.3,454.9 L352.3,454.6 L353.3,454.3 L354.3,454.0 L355.2,453.7 L356.2,453.4 L357.2,453.1 L358.2,452.8 L359.1,452.4 L360.0,452.1 L360.1,452.1 L361.1,451.8 L362.1,451.4 L363.1,451.1 L364.0,450.7 L365.0,450.3 L366.0,450.0 L367.0,449.6 L368.0,449.2 L368.9,448.8 L369.9,448.4 L370.9,448.0 L371.9,447.6 L372.8,447.2 L373.8,446.8 L374.8,446.4 L375.8,446.0 L376.8,445.6 L377.7,445.2 L378.7,444.8 L379.7,444.4 L380.7,444.0 L381.7,443.5 L382.6,443.1 L383.6,442.7 L384.6,442.3 L385.6,441.9 L386.5,441.5 L387.5,441.1 L388.5,440.6 L389.5,440.2 L390.5,439.8 L391.4,439.4 L392.4,439.0" stroke="#6a4fb4" stroke-width="1.6" fill="none" stroke-linejoin="round"/>
<path d="M109.6,468.5 L110.6,467.8 L111.6,467.1 L112.5,466.6 L113.0,466.3 L113.5,466.1 L114.5,465.7 L115.5,465.3 L116.5,464.9 L117.4,464.5 L118.4,464.2 L119.4,463.9 L120.4,463.6 L121.3,463.4 L122.3,463.2 L123.3,463.1 L124.3,463.0 L124.3,463.0 L125.3,463.0 L126.2,463.0 L127.2,463.1 L128.2,463.1 L129.2,463.1 L130.2,463.1 L131.1,463.2 L132.1,463.2 L133.1,463.2 L134.1,463.3 L135.0,463.3 L136.0,463.3 L137.0,463.4 L138.0,463.4 L139.0,463.5 L139.9,463.6 L140.9,463.6 L141.9,463.7 L142.9,463.7 L143.9,463.8 L144.8,463.8 L145.8,463.9 L146.8,464.0 L147.8,464.0 L148.7,464.1 L149.7,464.2 L150.7,464.2 L151.7,464.3 L152.7,464.3 L153.6,464.4 L154.6,464.5 L155.6,464.5 L156.6,464.6 L157.6,464.6 L158.5,464.7 L158.7,464.7 L159.5,464.7 L160.5,464.8 L161.5,464.8 L162.4,464.8 L163.4,464.9 L164.4,464.9 L165.4,464.9 L166.4,465.0 L167.3,465.0 L168.3,465.0 L169.3,465.1 L170.3,465.1 L171.3,465.1 L172.2,465.1 L173.2,465.2 L174.2,465.2 L175.2,465.2 L176.1,465.2 L177.1,465.3 L178.1,465.3 L179.1,465.3 L180.1,465.3 L181.0,465.3 L182.0,465.4 L183.0,465.4 L184.0,465.4 L185.0,465.5 L185.9,465.5 L186.9,465.5 L187.9,465.6 L188.9,465.6 L189.8,465.6 L190.8,465.7 L191.8,465.7 L192.8,465.8 L193.8,465.8 L194.7,465.9 L195.7,465.9 L196.7,466.0 L197.7,466.1 L198.7,466.1 L199.6,466.2 L200.6,466.3 L201.6,466.3 L202.6,466.4 L203.5,466.5 L204.5,466.6 L205.5,466.7 L206.5,466.8 L207.5,466.9 L208.4,467.0 L209.4,467.2 L210.4,467.3 L211.2,467.4 L211.4,467.4 L212.4,468.7 L213.3,471.0 L214.3,473.4 L215.3,474.9 L215.7,475.0 L216.3,475.0 L217.2,475.0 L218.2,474.9 L219.2,474.8 L220.2,474.7 L221.2,474.6 L222.1,474.5 L222.5,474.5 L223.1,474.5 L224.1,474.4 L225.1,474.4 L226.1,474.4 L227.0,474.3 L228.0,474.3 L229.0,474.3 L230.0,474.3 L230.9,474.2 L231.9,474.2 L232.9,474.2 L233.9,474.2 L234.9,474.1 L235.8,474.1 L236.8,474.1 L237.8,474.1 L238.8,474.1 L239.8,474.0 L240.7,474.0 L241.7,474.0 L242.2,473.9 L242.7,473.9 L243.7,473.9 L244.6,473.8 L245.6,473.8 L246.6,473.7 L247.6,473.7 L248.6,473.6 L249.5,473.6 L250.5,473.5 L251.5,473.5 L252.5,473.4 L253.5,473.3 L254.4,473.3 L255.4,473.2 L256.4,473.2 L257.4,473.1 L258.3,473.0 L259.3,473.0 L260.3,472.9 L261.3,472.9 L261.8,472.9 L262.3,472.8 L263.2,472.8 L264.2,472.7 L265.2,472.7 L266.2,472.7 L267.2,472.6 L268.1,472.6 L269.1,472.6 L270.1,472.5 L271.1,472.5 L272.0,472.4 L273.0,472.4 L274.0,472.4 L275.0,472.3 L276.0,472.3 L276.9,472.3 L277.9,472.2 L278.9,472.2 L279.9,472.1 L280.9,472.1 L281.8,472.0 L282.8,472.0 L283.8,471.9 L284.8,471.9 L285.7,471.8 L286.4,471.8 L286.7,471.7 L287.7,471.7 L288.7,471.6 L289.7,471.4 L290.6,471.3 L291.6,471.2 L292.6,471.0 L293.6,470.9 L294.6,470.7 L295.5,470.6 L296.5,470.4 L297.5,470.2 L298.5,470.0 L299.4,469.8 L300.4,469.6 L301.4,469.4 L302.4,469.2 L303.4,469.0 L304.3,468.8 L305.3,468.6 L306.3,468.4 L307.3,468.1 L308.3,467.9 L309.2,467.7 L310.2,467.5 L310.9,467.4 L311.2,467.3 L312.2,467.1 L313.1,466.9 L314.1,466.7 L315.1,466.5 L316.1,466.3 L317.1,466.1 L318.0,465.9 L319.0,465.6 L320.0,465.4 L321.0,465.2 L322.0,464.9 L322.9,464.7 L323.9,464.5 L324.9,464.3 L325.9,464.0 L326.8,463.8 L327.8,463.6 L328.8,463.4 L329.8,463.2 L330.6,463.0 L330.8,463.0 L331.7,462.8 L332.7,462.6 L333.7,462.4 L334.7,462.2 L335.7,462.0 L336.6,461.8 L337.6,461.6 L338.6,461.5 L339.6,461.3 L340.6,461.1 L341.5,460.9 L342.5,460.7 L343.5,460.5 L344.5,460.4 L345.4,460.2 L346.4,460.0 L347.4,459.8 L348.4,459.6 L349.4,459.5 L350.3,459.3 L351.3,459.1 L352.3,458.9 L353.3,458.8 L354.3,458.6 L355.2,458.4 L356.2,458.3 L357.2,458.1 L358.2,457.9 L359.1,457.7 L360.0,457.6 L360.1,457.6 L361.1,457.4 L362.1,457.2 L363.1,457.0 L364.0,456.9 L365.0,456.7 L366.0,456.5 L367.0,456.4 L368.0,456.2 L368.9,456.0 L369.9,455.9 L370.9,455.7 L371.9,455.5 L372.8,455.4 L373.8,455.2 L374.8,455.1 L375.8,454.9 L376.8,454.7 L377.7,454.6 L378.7,454.4 L379.7,454.2 L380.7,454.1 L381.7,453.9 L382.6,453.8 L383.6,453.6 L384.6,453.4 L385.6,453.3 L386.5,453.1 L387.5,452.9 L388.5,452.8 L389.5,452.6 L390.5,452.5 L391.4,452.3 L392.4,452.1" stroke="#c9a3aa" stroke-width="1.6" fill="none" stroke-linejoin="round"/>
<path d="M109.6,468.5 L110.6,468.9 L111.6,469.3 L112.5,469.5 L113.0,469.6 L113.5,469.6 L114.5,469.4 L115.5,469.2 L116.5,468.9 L117.4,468.5 L118.4,468.1 L119.4,467.6 L120.4,467.2 L121.3,466.9 L122.3,466.6 L123.3,466.4 L124.3,466.3 L124.3,466.3 L125.3,466.3 L126.2,466.3 L127.2,466.4 L128.2,466.4 L129.2,466.4 L130.2,466.5 L131.1,466.5 L132.1,466.6 L133.1,466.7 L134.1,466.7 L135.0,466.8 L136.0,466.9 L137.0,467.0 L138.0,467.1 L139.0,467.2 L139.9,467.3 L140.9,467.4 L141.9,467.5 L142.9,467.6 L143.9,467.7 L144.8,467.8 L145.8,467.9 L146.8,468.1 L147.8,468.2 L148.7,468.3 L149.7,468.4 L150.7,468.5 L151.7,468.6 L152.7,468.7 L153.6,468.8 L154.6,468.9 L155.6,469.0 L156.6,469.1 L157.6,469.2 L158.5,469.3 L158.7,469.3 L159.5,469.4 L160.5,469.4 L161.5,469.5 L162.4,469.6 L163.4,469.6 L164.4,469.7 L165.4,469.8 L166.4,469.8 L167.3,469.9 L168.3,469.9 L169.3,470.0 L170.3,470.0 L171.3,470.0 L172.2,470.1 L173.2,470.1 L174.2,470.1 L175.2,470.2 L176.1,470.2 L177.1,470.3 L178.1,470.3 L179.1,470.3 L180.1,470.4 L181.0,470.4 L182.0,470.4 L183.0,470.5 L184.0,470.5 L185.0,470.6 L185.9,470.6 L186.9,470.7 L187.9,470.7 L188.9,470.8 L189.8,470.8 L190.8,470.9 L191.8,470.9 L192.8,471.0 L193.8,471.1 L194.7,471.2 L195.7,471.2 L196.7,471.3 L197.7,471.4 L198.7,471.5 L199.6,471.6 L200.6,471.7 L201.6,471.8 L202.6,472.0 L203.5,472.1 L204.5,472.2 L205.5,472.4 L206.5,472.5 L207.5,472.7 L208.4,472.9 L209.4,473.0 L210.4,473.2 L211.2,473.4 L211.4,473.5 L212.4,475.0 L213.3,477.8 L214.3,480.7 L215.3,482.5 L215.7,482.7 L216.3,482.7 L217.2,482.6 L218.2,482.5 L219.2,482.4 L220.2,482.3 L221.2,482.2 L222.1,482.1 L222.5,482.1 L223.1,482.1 L224.1,482.1 L225.1,482.0 L226.1,482.0 L227.0,482.0 L228.0,481.9 L229.0,481.9 L230.0,481.9 L230.9,481.9 L231.9,481.8 L232.9,481.8 L233.9,481.8 L234.9,481.8 L235.8,481.8 L236.8,481.7 L237.8,481.7 L238.8,481.7 L239.8,481.7 L240.7,481.6 L241.7,481.6 L242.2,481.6 L242.7,481.6 L243.7,481.5 L244.6,481.5 L245.6,481.4 L246.6,481.4 L247.6,481.3 L248.6,481.3 L249.5,481.2 L250.5,481.2 L251.5,481.1 L252.5,481.1 L253.5,481.0 L254.4,481.0 L255.4,480.9 L256.4,480.8 L257.4,480.8 L258.3,480.7 L259.3,480.7 L260.3,480.6 L261.3,480.5 L261.8,480.5 L262.3,480.5 L263.2,480.4 L264.2,480.3 L265.2,480.3 L266.2,480.2 L267.2,480.1 L268.1,480.0 L269.1,480.0 L270.1,479.9 L271.1,479.8 L272.0,479.7 L273.0,479.6 L274.0,479.6 L275.0,479.5 L276.0,479.4 L276.9,479.3 L277.9,479.2 L278.9,479.1 L279.9,479.0 L280.9,478.9 L281.8,478.8 L282.8,478.7 L283.8,478.6 L284.8,478.5 L285.7,478.4 L286.4,478.3 L286.7,478.3 L287.7,478.1 L288.7,478.0 L289.7,477.9 L290.6,477.7 L291.6,477.6 L292.6,477.4 L293.6,477.3 L294.6,477.1 L295.5,476.9 L296.5,476.8 L297.5,476.6 L298.5,476.4 L299.4,476.2 L300.4,476.0 L301.4,475.8 L302.4,475.6 L303.4,475.5 L304.3,475.3 L305.3,475.1 L306.3,474.9 L307.3,474.7 L308.3,474.5 L309.2,474.3 L310.2,474.1 L310.9,473.9 L311.2,473.9 L312.2,473.7 L313.1,473.5 L314.1,473.3 L315.1,473.1 L316.1,472.9 L317.1,472.6 L318.0,472.4 L319.0,472.2 L320.0,472.0 L321.0,471.8 L322.0,471.5 L322.9,471.3 L323.9,471.1 L324.9,470.9 L325.9,470.6 L326.8,470.4 L327.8,470.2 L328.8,470.0 L329.8,469.8 L330.6,469.6 L330.8,469.5 L331.7,469.3 L332.7,469.1 L333.7,468.9 L334.7,468.7 L335.7,468.5 L336.6,468.2 L337.6,468.0 L338.6,467.8 L339.6,467.6 L340.6,467.4 L341.5,467.2 L342.5,466.9 L343.5,466.7 L344.5,466.5 L345.4,466.3 L346.4,466.1 L347.4,465.9 L348.4,465.6 L349.4,465.4 L350.3,465.2 L351.3,465.0 L352.3,464.8 L353.3,464.6 L354.3,464.3 L355.2,464.1 L356.2,463.9 L357.2,463.7 L358.2,463.5 L359.1,463.2 L360.0,463.0 L360.1,463.0 L361.1,462.8 L362.1,462.6 L363.1,462.3 L364.0,462.1 L365.0,461.9 L366.0,461.7 L367.0,461.4 L368.0,461.2 L368.9,461.0 L369.9,460.7 L370.9,460.5 L371.9,460.3 L372.8,460.0 L373.8,459.8 L374.8,459.6 L375.8,459.4 L376.8,459.1 L377.7,458.9 L378.7,458.7 L379.7,458.4 L380.7,458.2 L381.7,458.0 L382.6,457.7 L383.6,457.5 L384.6,457.3 L385.6,457.0 L386.5,456.8 L387.5,456.6 L388.5,456.3 L389.5,456.1 L390.5,455.9 L391.4,455.6 L392.4,455.4" stroke="#3fae7c" stroke-width="1.6" fill="none" stroke-linejoin="round"/>
<line x1="117.00" y1="373.60" x2="128.20" y2="373.60" stroke="#e23a44" stroke-width="1.7" />
<text x="132.70" y="376.60" font-size="8" text-anchor="start" fill="#3a3a3a" letter-spacing="0.35">Control</text>
<line x1="117.00" y1="382.60" x2="128.20" y2="382.60" stroke="#55b947" stroke-width="1.7" />
<text x="132.70" y="385.60" font-size="8" text-anchor="start" fill="#3a3a3a" letter-spacing="0.35">0.5 μM</text>
<line x1="117.00" y1="391.60" x2="128.20" y2="391.60" stroke="#3b4ba6" stroke-width="1.7" />
<text x="132.70" y="394.60" font-size="8" text-anchor="start" fill="#3a3a3a" letter-spacing="0.35">1 μM</text>
<line x1="117.00" y1="400.60" x2="128.20" y2="400.60" stroke="#b53d9d" stroke-width="1.7" />
<text x="132.70" y="403.60" font-size="8" text-anchor="start" fill="#3a3a3a" letter-spacing="0.35">2.5 μM</text>
<line x1="117.00" y1="409.60" x2="128.20" y2="409.60" stroke="#5bc6e6" stroke-width="1.7" />
<text x="132.70" y="412.60" font-size="8" text-anchor="start" fill="#3a3a3a" letter-spacing="0.35">5 μM</text>
<line x1="117.00" y1="418.60" x2="128.20" y2="418.60" stroke="#6a4fb4" stroke-width="1.7" />
<text x="132.70" y="421.60" font-size="8" text-anchor="start" fill="#3a3a3a" letter-spacing="0.35">10 μM</text>
<line x1="117.00" y1="427.60" x2="128.20" y2="427.60" stroke="#c9a3aa" stroke-width="1.7" />
<text x="132.70" y="430.60" font-size="8" text-anchor="start" fill="#3a3a3a" letter-spacing="0.35">15 μM</text>
<line x1="117.00" y1="436.60" x2="128.20" y2="436.60" stroke="#3fae7c" stroke-width="1.7" />
<text x="132.70" y="439.60" font-size="8" text-anchor="start" fill="#3a3a3a" letter-spacing="0.35">20 μM</text>
<text x="190.00" y="431.00" font-size="14" text-anchor="start" fill="#262626" textLength="89.5" lengthAdjust="spacing">+ OSN4F/ISN</text>
<line x1="216.80" y1="436.00" x2="216.80" y2="456.00" stroke="#333" stroke-width="1" />
<path d="M216.80,456.00 L215.00,452.00 L218.60,452.00Z" fill="#333"/>
<line x1="109.60" y1="533.30" x2="109.60" y2="661.90" stroke="#4e4e4e" stroke-width="1.25" />
<line x1="109.00" y1="661.30" x2="395.80" y2="661.30" stroke="#4e4e4e" stroke-width="1.25" />
<line x1="109.60" y1="533.30" x2="114.10" y2="533.30" stroke="#4e4e4e" stroke-width="1" />
<text x="105.60" y="538.40" font-size="15" text-anchor="end" fill="#262626" >7</text>
<line x1="109.60" y1="549.30" x2="114.10" y2="549.30" stroke="#4e4e4e" stroke-width="1" />
<text x="105.60" y="554.40" font-size="15" text-anchor="end" fill="#262626" >6</text>
<line x1="109.60" y1="565.30" x2="114.10" y2="565.30" stroke="#4e4e4e" stroke-width="1" />
<text x="105.60" y="570.40" font-size="15" text-anchor="end" fill="#262626" >5</text>
<line x1="109.60" y1="581.30" x2="114.10" y2="581.30" stroke="#4e4e4e" stroke-width="1" />
<text x="105.60" y="586.40" font-size="15" text-anchor="end" fill="#262626" >4</text>
<line x1="109.60" y1="597.30" x2="114.10" y2="597.30" stroke="#4e4e4e" stroke-width="1" />
<text x="105.60" y="602.40" font-size="15" text-anchor="end" fill="#262626" >3</text>
<line x1="109.60" y1="613.30" x2="114.10" y2="613.30" stroke="#4e4e4e" stroke-width="1" />
<text x="105.60" y="618.40" font-size="15" text-anchor="end" fill="#262626" >2</text>
<line x1="109.60" y1="629.30" x2="114.10" y2="629.30" stroke="#4e4e4e" stroke-width="1" />
<text x="105.60" y="634.40" font-size="15" text-anchor="end" fill="#262626" >1</text>
<line x1="109.60" y1="645.30" x2="114.10" y2="645.30" stroke="#4e4e4e" stroke-width="1" />
<text x="105.60" y="650.40" font-size="15" text-anchor="end" fill="#262626" >0</text>
<text x="105.60" y="666.40" font-size="15" text-anchor="end" fill="#262626" >−1</text>
<text x="110.40" y="678.90" font-size="15" text-anchor="middle" fill="#262626" >0</text>
<line x1="150.41" y1="661.30" x2="150.41" y2="657.30" stroke="#4e4e4e" stroke-width="1" />
<text x="151.22" y="678.90" font-size="15" text-anchor="middle" fill="#262626" >5</text>
<line x1="191.23" y1="661.30" x2="191.23" y2="657.30" stroke="#4e4e4e" stroke-width="1" />
<text x="192.03" y="678.90" font-size="15" text-anchor="middle" fill="#262626" >10</text>
<line x1="232.05" y1="661.30" x2="232.05" y2="657.30" stroke="#4e4e4e" stroke-width="1" />
<text x="232.85" y="678.90" font-size="15" text-anchor="middle" fill="#262626" >15</text>
<line x1="272.86" y1="661.30" x2="272.86" y2="657.30" stroke="#4e4e4e" stroke-width="1" />
<text x="273.66" y="678.90" font-size="15" text-anchor="middle" fill="#262626" >20</text>
<line x1="313.68" y1="661.30" x2="313.68" y2="657.30" stroke="#4e4e4e" stroke-width="1" />
<text x="314.48" y="678.90" font-size="15" text-anchor="middle" fill="#262626" >25</text>
<line x1="354.49" y1="661.30" x2="354.49" y2="657.30" stroke="#4e4e4e" stroke-width="1" />
<text x="355.29" y="678.90" font-size="15" text-anchor="middle" fill="#262626" >30</text>
<line x1="395.30" y1="661.30" x2="395.30" y2="657.30" stroke="#4e4e4e" stroke-width="1" />
<text x="396.10" y="678.90" font-size="15" text-anchor="middle" fill="#262626" >35</text>
<path d="M109.6,644.5V646.1M108.6,644.5h2.0M108.6,646.1h2.0M113.7,641.6V643.3M112.7,641.6h2.0M112.7,643.3h2.0M117.8,638.8V640.6M116.8,638.8h2.0M116.8,640.6h2.0M121.8,635.8V637.7M120.8,635.8h2.0M120.8,637.7h2.0M125.9,633.3V635.3M124.9,633.3h2.0M124.9,635.3h2.0M130.0,631.3V633.4M129.0,631.3h2.0M129.0,633.4h2.0M134.1,630.3V632.5M133.1,630.3h2.0M133.1,632.5h2.0M138.2,629.7V631.9M137.2,629.7h2.0M137.2,631.9h2.0M142.3,629.2V631.6M141.3,629.2h2.0M141.3,631.6h2.0M146.3,628.8V631.3M145.3,628.8h2.0M145.3,631.3h2.0M150.4,628.5V631.1M149.4,628.5h2.0M149.4,631.1h2.0M154.5,632.0V634.9M153.5,632.0h2.0M153.5,634.9h2.0M158.6,631.7V634.9M157.6,631.7h2.0M157.6,634.9h2.0M162.7,631.7V634.9M161.7,631.7h2.0M161.7,634.9h2.0M166.7,631.7V634.9M165.7,631.7h2.0M165.7,634.9h2.0M170.8,631.7V634.9M169.8,631.7h2.0M169.8,634.9h2.0M174.9,631.7V634.9M173.9,631.7h2.0M173.9,634.9h2.0M179.0,631.7V634.9M178.0,631.7h2.0M178.0,634.9h2.0M183.1,631.7V634.9M182.1,631.7h2.0M182.1,634.9h2.0M187.1,631.6V634.8M186.1,631.6h2.0M186.1,634.8h2.0M191.2,631.5V634.7M190.2,631.5h2.0M190.2,634.7h2.0M195.3,631.4V634.6M194.3,631.4h2.0M194.3,634.6h2.0M199.4,631.3V634.5M198.4,631.3h2.0M198.4,634.5h2.0M203.5,631.1V634.3M202.5,631.1h2.0M202.5,634.3h2.0M207.6,630.9V634.1M206.6,630.9h2.0M206.6,634.1h2.0M211.6,630.6V633.8M210.6,630.6h2.0M210.6,633.8h2.0M215.7,630.2V633.4M214.7,630.2h2.0M214.7,633.4h2.0M219.8,629.9V633.1M218.8,629.9h2.0M218.8,633.1h2.0M223.9,629.4V632.6M222.9,629.4h2.0M222.9,632.6h2.0M228.0,628.9V632.1M227.0,628.9h2.0M227.0,632.1h2.0M232.0,628.4V631.6M231.0,628.4h2.0M231.0,631.6h2.0M236.1,627.7V631.1M235.1,627.7h2.0M235.1,631.1h2.0M240.2,627.0V630.6M239.2,627.0h2.0M239.2,630.6h2.0M244.3,626.3V630.2M243.3,626.3h2.0M243.3,630.2h2.0M248.4,625.6V629.7M247.4,625.6h2.0M247.4,629.7h2.0M252.5,624.9V629.2M251.5,624.9h2.0M251.5,629.2h2.0M256.5,624.1V628.6M255.5,624.1h2.0M255.5,628.6h2.0M260.6,623.3V628.0M259.6,623.3h2.0M259.6,628.0h2.0M264.7,622.5V627.3M263.7,622.5h2.0M263.7,627.3h2.0M268.8,621.6V626.7M267.8,621.6h2.0M267.8,626.7h2.0M272.9,620.6V625.9M271.9,620.6h2.0M271.9,625.9h2.0M276.9,619.4V624.9M275.9,619.4h2.0M275.9,624.9h2.0M281.0,618.0V623.7M280.0,618.0h2.0M280.0,623.7h2.0M285.1,616.3V622.2M284.1,616.3h2.0M284.1,622.2h2.0M289.2,614.3V620.5M288.2,614.3h2.0M288.2,620.5h2.0M293.3,612.2V618.6M292.3,612.2h2.0M292.3,618.6h2.0M297.3,610.1V616.7M296.3,610.1h2.0M296.3,616.7h2.0M301.4,607.8V614.6M300.4,607.8h2.0M300.4,614.6h2.0M305.5,605.3V612.3M304.5,605.3h2.0M304.5,612.3h2.0M309.6,602.8V610.0M308.6,602.8h2.0M308.6,610.0h2.0M313.7,600.4V607.8M312.7,600.4h2.0M312.7,607.8h2.0M317.8,598.1V605.7M316.8,598.1h2.0M316.8,605.7h2.0M321.8,595.8V603.7M320.8,595.8h2.0M320.8,603.7h2.0M325.9,593.7V601.7M324.9,593.7h2.0M324.9,601.7h2.0M330.0,591.6V599.8M329.0,591.6h2.0M329.0,599.8h2.0M334.1,589.6V598.1M333.1,589.6h2.0M333.1,598.1h2.0M338.2,587.7V596.4M337.2,587.7h2.0M337.2,596.4h2.0M342.2,586.0V594.9M341.2,586.0h2.0M341.2,594.9h2.0M346.3,584.3V593.4M345.3,584.3h2.0M345.3,593.4h2.0M350.4,582.7V592.0M349.4,582.7h2.0M349.4,592.0h2.0M354.5,581.0V590.5M353.5,581.0h2.0M353.5,590.5h2.0" stroke="#3fae7c" stroke-width="0.75" stroke-opacity="0.6" fill="none"/>
<path d="M109.6,644.5V646.1M108.6,644.5h2.0M108.6,646.1h2.0M113.7,641.7V643.4M112.7,641.7h2.0M112.7,643.4h2.0M117.8,638.9V640.7M116.8,638.9h2.0M116.8,640.7h2.0M121.8,636.1V638.0M120.8,636.1h2.0M120.8,638.0h2.0M125.9,633.6V635.6M124.9,633.6h2.0M124.9,635.6h2.0M130.0,631.7V633.8M129.0,631.7h2.0M129.0,633.8h2.0M134.1,630.7V632.9M133.1,630.7h2.0M133.1,632.9h2.0M138.2,630.1V632.4M137.2,630.1h2.0M137.2,632.4h2.0M142.3,629.7V632.0M141.3,629.7h2.0M141.3,632.0h2.0M146.3,629.3V631.7M145.3,629.3h2.0M145.3,631.7h2.0M150.4,629.0V631.5M149.4,629.0h2.0M149.4,631.5h2.0M154.5,632.3V635.2M153.5,632.3h2.0M153.5,635.2h2.0M158.6,632.2V635.4M157.6,632.2h2.0M157.6,635.4h2.0M162.7,632.4V635.6M161.7,632.4h2.0M161.7,635.6h2.0M166.7,632.9V636.1M165.7,632.9h2.0M165.7,636.1h2.0M170.8,633.4V636.6M169.8,633.4h2.0M169.8,636.6h2.0M174.9,633.7V636.9M173.9,633.7h2.0M173.9,636.9h2.0M179.0,633.8V637.0M178.0,633.8h2.0M178.0,637.0h2.0M183.1,633.8V637.0M182.1,633.8h2.0M182.1,637.0h2.0M187.1,633.8V637.0M186.1,633.8h2.0M186.1,637.0h2.0M191.2,633.8V637.0M190.2,633.8h2.0M190.2,637.0h2.0M195.3,633.8V637.0M194.3,633.8h2.0M194.3,637.0h2.0M199.4,633.7V636.9M198.4,633.7h2.0M198.4,636.9h2.0M203.5,633.5V636.7M202.5,633.5h2.0M202.5,636.7h2.0M207.6,633.0V636.2M206.6,633.0h2.0M206.6,636.2h2.0M211.6,632.5V635.7M210.6,632.5h2.0M210.6,635.7h2.0M215.7,631.9V635.1M214.7,631.9h2.0M214.7,635.1h2.0M219.8,631.4V634.6M218.8,631.4h2.0M218.8,634.6h2.0M223.9,630.8V634.0M222.9,630.8h2.0M222.9,634.0h2.0M228.0,630.2V633.4M227.0,630.2h2.0M227.0,633.4h2.0M232.0,629.5V632.7M231.0,629.5h2.0M231.0,632.7h2.0M236.1,628.6V632.1M235.1,628.6h2.0M235.1,632.1h2.0M240.2,627.8V631.4M239.2,627.8h2.0M239.2,631.4h2.0M244.3,627.0V630.8M243.3,627.0h2.0M243.3,630.8h2.0M248.4,626.1V630.1M247.4,626.1h2.0M247.4,630.1h2.0M252.5,625.2V629.4M251.5,625.2h2.0M251.5,629.4h2.0M256.5,624.1V628.6M255.5,624.1h2.0M255.5,628.6h2.0M260.6,623.0V627.7M259.6,623.0h2.0M259.6,627.7h2.0M264.7,621.8V626.7M263.7,621.8h2.0M263.7,626.7h2.0M268.8,620.5V625.6M267.8,620.5h2.0M267.8,625.6h2.0M272.9,619.0V624.3M271.9,619.0h2.0M271.9,624.3h2.0M276.9,617.3V622.8M275.9,617.3h2.0M275.9,622.8h2.0M281.0,615.1V620.8M280.0,615.1h2.0M280.0,620.8h2.0M285.1,612.1V618.0M284.1,612.1h2.0M284.1,618.0h2.0M289.2,608.7V614.8M288.2,608.7h2.0M288.2,614.8h2.0M293.3,605.2V611.6M292.3,605.2h2.0M292.3,611.6h2.0M297.3,602.1V608.7M296.3,602.1h2.0M296.3,608.7h2.0M301.4,599.2V606.0M300.4,599.2h2.0M300.4,606.0h2.0M305.5,596.5V603.5M304.5,596.5h2.0M304.5,603.5h2.0M309.6,593.7V600.9M308.6,593.7h2.0M308.6,600.9h2.0M313.7,590.8V598.2M312.7,590.8h2.0M312.7,598.2h2.0M317.8,587.5V595.2M316.8,587.5h2.0M316.8,595.2h2.0M321.8,583.9V591.8M320.8,583.9h2.0M320.8,591.8h2.0M325.9,580.1V588.1M324.9,580.1h2.0M324.9,588.1h2.0M330.0,576.1V584.4M329.0,576.1h2.0M329.0,584.4h2.0M334.1,572.2V580.7M333.1,572.2h2.0M333.1,580.7h2.0M338.2,568.4V577.1M337.2,568.4h2.0M337.2,577.1h2.0M342.2,564.5V573.4M341.2,564.5h2.0M341.2,573.4h2.0M346.3,560.7V569.8M345.3,560.7h2.0M345.3,569.8h2.0M350.4,556.8V566.1M349.4,556.8h2.0M349.4,566.1h2.0M354.5,552.9V562.4M353.5,552.9h2.0M353.5,562.4h2.0" stroke="#e23a44" stroke-width="0.75" stroke-opacity="0.6" fill="none"/>
<path d="M109.6,644.5V646.1M108.6,644.5h2.0M108.6,646.1h2.0M113.7,641.6V643.3M112.7,641.6h2.0M112.7,643.3h2.0M117.8,638.7V640.5M116.8,638.7h2.0M116.8,640.5h2.0M121.8,635.7V637.6M120.8,635.7h2.0M120.8,637.6h2.0M125.9,633.1V635.1M124.9,633.1h2.0M124.9,635.1h2.0M130.0,631.1V633.1M129.0,631.1h2.0M129.0,633.1h2.0M134.1,630.0V632.1M133.1,630.0h2.0M133.1,632.1h2.0M138.2,629.3V631.6M137.2,629.3h2.0M137.2,631.6h2.0M142.3,628.9V631.2M141.3,628.9h2.0M141.3,631.2h2.0M146.3,628.5V630.9M145.3,628.5h2.0M145.3,630.9h2.0M150.4,628.2V630.7M149.4,628.2h2.0M149.4,630.7h2.0M154.5,633.5V636.7M153.5,633.5h2.0M153.5,636.7h2.0M158.6,632.1V636.0M157.6,632.1h2.0M157.6,636.0h2.0M162.7,631.9V635.8M161.7,631.9h2.0M161.7,635.8h2.0M166.7,631.8V635.6M165.7,631.8h2.0M165.7,635.6h2.0M170.8,631.7V635.5M169.8,631.7h2.0M169.8,635.5h2.0M174.9,631.6V635.4M173.9,631.6h2.0M173.9,635.4h2.0M179.0,631.5V635.3M178.0,631.5h2.0M178.0,635.3h2.0M183.1,631.4V635.2M182.1,631.4h2.0M182.1,635.2h2.0M187.1,631.2V635.1M186.1,631.2h2.0M186.1,635.1h2.0M191.2,631.1V635.0M190.2,631.1h2.0M190.2,635.0h2.0M195.3,631.0V634.8M194.3,631.0h2.0M194.3,634.8h2.0M199.4,630.8V634.6M198.4,630.8h2.0M198.4,634.6h2.0M203.5,630.5V634.3M202.5,630.5h2.0M202.5,634.3h2.0M207.6,630.1V633.9M206.6,630.1h2.0M206.6,633.9h2.0M211.6,629.7V633.5M210.6,629.7h2.0M210.6,633.5h2.0M215.7,629.2V633.0M214.7,629.2h2.0M214.7,633.0h2.0M219.8,628.6V632.5M218.8,628.6h2.0M218.8,632.5h2.0M223.9,627.9V631.7M222.9,627.9h2.0M222.9,631.7h2.0M228.0,627.0V630.8M227.0,627.0h2.0M227.0,630.8h2.0M232.0,626.0V629.8M231.0,626.0h2.0M231.0,629.8h2.0M236.1,625.0V628.9M235.1,625.0h2.0M235.1,628.9h2.0M240.2,624.1V628.1M239.2,624.1h2.0M239.2,628.1h2.0M244.3,623.4V627.3M243.3,623.4h2.0M243.3,627.3h2.0M248.4,622.6V626.7M247.4,622.6h2.0M247.4,626.7h2.0M252.5,621.9V626.0M251.5,621.9h2.0M251.5,626.0h2.0M256.5,621.1V625.2M255.5,621.1h2.0M255.5,625.2h2.0M260.6,620.1V624.3M259.6,620.1h2.0M259.6,624.3h2.0M264.7,619.0V623.2M263.7,619.0h2.0M263.7,623.2h2.0M268.8,617.7V622.0M267.8,617.7h2.0M267.8,622.0h2.0M272.9,616.3V620.6M271.9,616.3h2.0M271.9,620.6h2.0M276.9,614.7V619.0M275.9,614.7h2.0M275.9,619.0h2.0M281.0,612.6V617.0M280.0,612.6h2.0M280.0,617.0h2.0M285.1,610.0V614.4M284.1,610.0h2.0M284.1,614.4h2.0M289.2,606.9V611.5M288.2,606.9h2.0M288.2,611.5h2.0M293.3,603.8V608.4M292.3,603.8h2.0M292.3,608.4h2.0M297.3,600.8V605.4M296.3,600.8h2.0M296.3,605.4h2.0M301.4,598.0V602.6M300.4,598.0h2.0M300.4,602.6h2.0M305.5,595.1V599.8M304.5,595.1h2.0M304.5,599.8h2.0M309.6,592.2V596.9M308.6,592.2h2.0M308.6,596.9h2.0M313.7,589.0V593.8M312.7,589.0h2.0M312.7,593.8h2.0M317.8,585.0V590.7M316.8,585.0h2.0M316.8,590.7h2.0M321.8,580.5V587.1M320.8,580.5h2.0M320.8,587.1h2.0M325.9,575.6V583.2M324.9,575.6h2.0M324.9,583.2h2.0M330.0,570.6V579.1M329.0,570.6h2.0M329.0,579.1h2.0M334.1,565.6V575.0M333.1,565.6h2.0M333.1,575.0h2.0M338.2,560.8V571.2M337.2,560.8h2.0M337.2,571.2h2.0M342.2,556.1V567.3M341.2,556.1h2.0M341.2,567.3h2.0M346.3,551.3V563.5M345.3,551.3h2.0M345.3,563.5h2.0M350.4,546.5V559.6M349.4,546.5h2.0M349.4,559.6h2.0M354.5,541.8V555.8M353.5,541.8h2.0M353.5,555.8h2.0" stroke="#3b4ba6" stroke-width="0.75" stroke-opacity="0.6" fill="none"/>
<path d="M109.6,644.5V646.1M108.6,644.5h2.0M108.6,646.1h2.0M113.7,641.7V643.4M112.7,641.7h2.0M112.7,643.4h2.0M117.8,638.9V640.7M116.8,638.9h2.0M116.8,640.7h2.0M121.8,636.0V637.9M120.8,636.0h2.0M120.8,637.9h2.0M125.9,633.5V635.5M124.9,633.5h2.0M124.9,635.5h2.0M130.0,631.6V633.7M129.0,631.6h2.0M129.0,633.7h2.0M134.1,630.6V632.8M133.1,630.6h2.0M133.1,632.8h2.0M138.2,630.0V632.3M137.2,630.0h2.0M137.2,632.3h2.0M142.3,629.5V631.9M141.3,629.5h2.0M141.3,631.9h2.0M146.3,629.1V631.6M145.3,629.1h2.0M145.3,631.6h2.0M150.4,628.8V631.4M149.4,628.8h2.0M149.4,631.4h2.0M154.5,632.5V635.4M153.5,632.5h2.0M153.5,635.4h2.0M158.6,631.9V635.1M157.6,631.9h2.0M157.6,635.1h2.0M162.7,632.0V635.2M161.7,632.0h2.0M161.7,635.2h2.0M166.7,632.3V635.5M165.7,632.3h2.0M165.7,635.5h2.0M170.8,632.6V635.8M169.8,632.6h2.0M169.8,635.8h2.0M174.9,632.8V636.0M173.9,632.8h2.0M173.9,636.0h2.0M179.0,632.8V636.0M178.0,632.8h2.0M178.0,636.0h2.0M183.1,632.8V636.0M182.1,632.8h2.0M182.1,636.0h2.0M187.1,632.7V635.9M186.1,632.7h2.0M186.1,635.9h2.0M191.2,632.6V635.8M190.2,632.6h2.0M190.2,635.8h2.0M195.3,632.5V635.7M194.3,632.5h2.0M194.3,635.7h2.0M199.4,632.4V635.6M198.4,632.4h2.0M198.4,635.6h2.0M203.5,632.1V635.3M202.5,632.1h2.0M202.5,635.3h2.0M207.6,631.7V634.9M206.6,631.7h2.0M206.6,634.9h2.0M211.6,631.3V634.5M210.6,631.3h2.0M210.6,634.5h2.0M215.7,630.8V634.0M214.7,630.8h2.0M214.7,634.0h2.0M219.8,630.3V633.5M218.8,630.3h2.0M218.8,633.5h2.0M223.9,629.6V632.8M222.9,629.6h2.0M222.9,632.8h2.0M228.0,628.9V632.1M227.0,628.9h2.0M227.0,632.1h2.0M232.0,628.1V631.3M231.0,628.1h2.0M231.0,631.3h2.0M236.1,627.1V630.5M235.1,627.1h2.0M235.1,630.5h2.0M240.2,626.2V629.8M239.2,626.2h2.0M239.2,629.8h2.0M244.3,625.3V629.2M243.3,625.3h2.0M243.3,629.2h2.0M248.4,624.5V628.5M247.4,624.5h2.0M247.4,628.5h2.0M252.5,623.5V627.8M251.5,623.5h2.0M251.5,627.8h2.0M256.5,622.5V627.0M255.5,622.5h2.0M255.5,627.0h2.0M260.6,621.4V626.1M259.6,621.4h2.0M259.6,626.1h2.0M264.7,620.2V625.1M263.7,620.2h2.0M263.7,625.1h2.0M268.8,618.9V624.0M267.8,618.9h2.0M267.8,624.0h2.0M272.9,617.4V622.7M271.9,617.4h2.0M271.9,622.7h2.0M276.9,615.7V621.2M275.9,615.7h2.0M275.9,621.2h2.0M281.0,613.6V619.3M280.0,613.6h2.0M280.0,619.3h2.0M285.1,610.8V616.8M284.1,610.8h2.0M284.1,616.8h2.0M289.2,607.7V613.9M288.2,607.7h2.0M288.2,613.9h2.0M293.3,604.5V610.9M292.3,604.5h2.0M292.3,610.9h2.0M297.3,601.4V608.0M296.3,601.4h2.0M296.3,608.0h2.0M301.4,598.4V605.2M300.4,598.4h2.0M300.4,605.2h2.0M305.5,595.3V602.3M304.5,595.3h2.0M304.5,602.3h2.0M309.6,592.2V599.4M308.6,592.2h2.0M308.6,599.4h2.0M313.7,589.1V596.5M312.7,589.1h2.0M312.7,596.5h2.0M317.8,585.8V593.5M316.8,585.8h2.0M316.8,593.5h2.0M321.8,582.5V590.3M320.8,582.5h2.0M320.8,590.3h2.0M325.9,579.1V587.1M324.9,579.1h2.0M324.9,587.1h2.0M330.0,575.7V583.9M329.0,575.7h2.0M329.0,583.9h2.0M334.1,572.4V580.9M333.1,572.4h2.0M333.1,580.9h2.0M338.2,569.3V578.0M337.2,569.3h2.0M337.2,578.0h2.0M342.2,566.3V575.2M341.2,566.3h2.0M341.2,575.2h2.0M346.3,563.4V572.5M345.3,563.4h2.0M345.3,572.5h2.0M350.4,560.6V569.9M349.4,560.6h2.0M349.4,569.9h2.0M354.5,557.7V567.2M353.5,557.7h2.0M353.5,567.2h2.0" stroke="#b53d9d" stroke-width="0.75" stroke-opacity="0.6" fill="none"/>
<path d="M109.6,644.5V646.1M108.6,644.5h2.0M108.6,646.1h2.0M113.7,641.5V643.2M112.7,641.5h2.0M112.7,643.2h2.0M117.8,638.5V640.4M116.8,638.5h2.0M116.8,640.4h2.0M121.8,635.3V637.4M120.8,635.3h2.0M120.8,637.4h2.0M125.9,632.7V634.9M124.9,632.7h2.0M124.9,634.9h2.0M130.0,630.5V632.9M129.0,630.5h2.0M129.0,632.9h2.0M134.1,629.3V631.9M133.1,629.3h2.0M133.1,631.9h2.0M138.2,628.6V631.4M137.2,628.6h2.0M137.2,631.4h2.0M142.3,628.1V631.0M141.3,628.1h2.0M141.3,631.0h2.0M146.3,627.7V630.8M145.3,627.7h2.0M145.3,630.8h2.0M150.4,627.4V630.6M149.4,627.4h2.0M149.4,630.6h2.0M154.5,632.1V635.3M153.5,632.1h2.0M153.5,635.3h2.0M158.6,630.9V634.1M157.6,630.9h2.0M157.6,634.1h2.0M162.7,630.9V634.2M161.7,630.9h2.0M161.7,634.2h2.0M166.7,630.9V634.3M165.7,630.9h2.0M165.7,634.3h2.0M170.8,630.9V634.4M169.8,630.9h2.0M169.8,634.4h2.0M174.9,630.9V634.5M173.9,630.9h2.0M173.9,634.5h2.0M179.0,630.9V634.5M178.0,630.9h2.0M178.0,634.5h2.0M183.1,630.9V634.6M182.1,630.9h2.0M182.1,634.6h2.0M187.1,630.8V634.6M186.1,630.8h2.0M186.1,634.6h2.0M191.2,630.7V634.6M190.2,630.7h2.0M190.2,634.6h2.0M195.3,630.6V634.6M194.3,630.6h2.0M194.3,634.6h2.0M199.4,630.5V634.6M198.4,630.5h2.0M198.4,634.6h2.0M203.5,630.3V634.4M202.5,630.3h2.0M202.5,634.4h2.0M207.6,629.9V634.2M206.6,629.9h2.0M206.6,634.2h2.0M211.6,629.6V633.9M210.6,629.6h2.0M210.6,633.9h2.0M215.7,629.2V633.6M214.7,629.2h2.0M214.7,633.6h2.0M219.8,628.7V633.2M218.8,628.7h2.0M218.8,633.2h2.0M223.9,628.1V632.7M222.9,628.1h2.0M222.9,632.7h2.0M228.0,627.5V632.2M227.0,627.5h2.0M227.0,632.2h2.0M232.0,626.7V631.5M231.0,626.7h2.0M231.0,631.5h2.0M236.1,626.0V631.1M235.1,626.0h2.0M235.1,631.1h2.0M240.2,625.3V630.8M239.2,625.3h2.0M239.2,630.8h2.0M244.3,624.6V630.5M243.3,624.6h2.0M243.3,630.5h2.0M248.4,624.0V630.1M247.4,624.0h2.0M247.4,630.1h2.0M252.5,623.3V629.8M251.5,623.3h2.0M251.5,629.8h2.0M256.5,622.6V629.4M255.5,622.6h2.0M255.5,629.4h2.0M260.6,621.8V629.0M259.6,621.8h2.0M259.6,629.0h2.0M264.7,621.1V628.6M263.7,621.1h2.0M263.7,628.6h2.0M268.8,620.3V628.2M267.8,620.3h2.0M267.8,628.2h2.0M272.9,619.4V627.6M271.9,619.4h2.0M271.9,627.6h2.0M276.9,618.3V626.9M275.9,618.3h2.0M275.9,626.9h2.0M281.0,616.9V625.8M280.0,616.9h2.0M280.0,625.8h2.0M285.1,615.0V624.3M284.1,615.0h2.0M284.1,624.3h2.0M289.2,612.7V622.3M288.2,612.7h2.0M288.2,622.3h2.0M293.3,610.3V620.8M292.3,610.3h2.0M292.3,620.8h2.0M297.3,607.8V619.4M296.3,607.8h2.0M296.3,619.4h2.0M301.4,605.4V617.9M300.4,605.4h2.0M300.4,617.9h2.0M305.5,602.8V616.3M304.5,602.8h2.0M304.5,616.3h2.0M309.6,600.1V614.6M308.6,600.1h2.0M308.6,614.6h2.0M313.7,597.4V612.9M312.7,597.4h2.0M312.7,612.9h2.0M317.8,594.8V611.2M316.8,594.8h2.0M316.8,611.2h2.0M321.8,592.2V609.6M320.8,592.2h2.0M320.8,609.6h2.0M325.9,589.5V607.9M324.9,589.5h2.0M324.9,607.9h2.0M330.0,586.9V606.2M329.0,586.9h2.0M329.0,606.2h2.0M334.1,584.4V604.7M333.1,584.4h2.0M333.1,604.7h2.0M338.2,582.0V603.3M337.2,582.0h2.0M337.2,603.3h2.0M342.2,579.8V602.0M341.2,579.8h2.0M341.2,602.0h2.0M346.3,577.6V600.8M345.3,577.6h2.0M345.3,600.8h2.0M350.4,575.4V599.6M349.4,575.4h2.0M349.4,599.6h2.0M354.5,573.2V598.4M353.5,573.2h2.0M353.5,598.4h2.0" stroke="#5bc6e6" stroke-width="0.75" stroke-opacity="0.6" fill="none"/>
<path d="M109.6,644.5V646.1M108.6,644.5h2.0M108.6,646.1h2.0M113.7,641.6V643.3M112.7,641.6h2.0M112.7,643.3h2.0M117.8,638.8V640.6M116.8,638.8h2.0M116.8,640.6h2.0M121.8,635.8V637.7M120.8,635.8h2.0M120.8,637.7h2.0M125.9,633.3V635.3M124.9,633.3h2.0M124.9,635.3h2.0M130.0,631.3V633.4M129.0,631.3h2.0M129.0,633.4h2.0M134.1,630.3V632.5M133.1,630.3h2.0M133.1,632.5h2.0M138.2,629.7V631.9M137.2,629.7h2.0M137.2,631.9h2.0M142.3,629.2V631.6M141.3,629.2h2.0M141.3,631.6h2.0M146.3,628.8V631.3M145.3,628.8h2.0M145.3,631.3h2.0M150.4,628.5V631.1M149.4,628.5h2.0M149.4,631.1h2.0M154.5,632.3V635.1M153.5,632.3h2.0M153.5,635.1h2.0M158.6,631.9V635.1M157.6,631.9h2.0M157.6,635.1h2.0M162.7,631.9V635.2M161.7,631.9h2.0M161.7,635.2h2.0M166.7,631.9V635.3M165.7,631.9h2.0M165.7,635.3h2.0M170.8,632.0V635.4M169.8,632.0h2.0M169.8,635.4h2.0M174.9,632.0V635.6M173.9,632.0h2.0M173.9,635.6h2.0M179.0,632.0V635.6M178.0,632.0h2.0M178.0,635.6h2.0M183.1,631.9V635.6M182.1,631.9h2.0M182.1,635.6h2.0M187.1,631.8V635.6M186.1,631.8h2.0M186.1,635.6h2.0M191.2,631.6V635.6M190.2,631.6h2.0M190.2,635.6h2.0M195.3,631.5V635.5M194.3,631.5h2.0M194.3,635.5h2.0M199.4,631.3V635.4M198.4,631.3h2.0M198.4,635.4h2.0M203.5,631.0V635.2M202.5,631.0h2.0M202.5,635.2h2.0M207.6,630.7V634.9M206.6,630.7h2.0M206.6,634.9h2.0M211.6,630.2V634.6M210.6,630.2h2.0M210.6,634.6h2.0M215.7,629.8V634.2M214.7,629.8h2.0M214.7,634.2h2.0M219.8,629.3V633.9M218.8,629.3h2.0M218.8,633.9h2.0M223.9,628.8V633.5M222.9,628.8h2.0M222.9,633.5h2.0M228.0,628.3V633.0M227.0,628.3h2.0M227.0,633.0h2.0M232.0,627.7V632.5M231.0,627.7h2.0M231.0,632.5h2.0M236.1,627.3V632.2M235.1,627.3h2.0M235.1,632.2h2.0M240.2,626.8V632.0M239.2,626.8h2.0M239.2,632.0h2.0M244.3,626.4V631.7M243.3,626.4h2.0M243.3,631.7h2.0M248.4,625.9V631.4M247.4,625.9h2.0M247.4,631.4h2.0M252.5,625.4V631.0M251.5,625.4h2.0M251.5,631.0h2.0M256.5,624.8V630.6M255.5,624.8h2.0M255.5,630.6h2.0M260.6,624.2V630.2M259.6,624.2h2.0M259.6,630.2h2.0M264.7,623.6V629.8M263.7,623.6h2.0M263.7,629.8h2.0M268.8,622.9V629.2M267.8,622.9h2.0M267.8,629.2h2.0M272.9,622.1V628.6M271.9,622.1h2.0M271.9,628.6h2.0M276.9,621.2V627.9M275.9,621.2h2.0M275.9,627.9h2.0M281.0,620.0V626.9M280.0,620.0h2.0M280.0,626.9h2.0M285.1,618.5V625.5M284.1,618.5h2.0M284.1,625.5h2.0M289.2,616.8V624.0M288.2,616.8h2.0M288.2,624.0h2.0M293.3,614.7V622.4M292.3,614.7h2.0M292.3,622.4h2.0M297.3,612.6V620.8M296.3,612.6h2.0M296.3,620.8h2.0M301.4,610.3V619.0M300.4,610.3h2.0M300.4,619.0h2.0M305.5,607.9V617.0M304.5,607.9h2.0M304.5,617.0h2.0M309.6,605.3V615.0M308.6,605.3h2.0M308.6,615.0h2.0M313.7,602.9V613.0M312.7,602.9h2.0M312.7,613.0h2.0M317.8,600.6V611.2M316.8,600.6h2.0M316.8,611.2h2.0M321.8,598.4V609.5M320.8,598.4h2.0M320.8,609.5h2.0M325.9,596.2V607.8M324.9,596.2h2.0M324.9,607.8h2.0M330.0,594.1V606.2M329.0,594.1h2.0M329.0,606.2h2.0M334.1,592.2V604.7M333.1,592.2h2.0M333.1,604.7h2.0M338.2,590.3V603.4M337.2,590.3h2.0M337.2,603.4h2.0M342.2,588.6V602.2M341.2,588.6h2.0M341.2,602.2h2.0M346.3,587.0V601.0M345.3,587.0h2.0M345.3,601.0h2.0M350.4,585.4V599.9M349.4,585.4h2.0M349.4,599.9h2.0M354.5,583.7V598.7M353.5,583.7h2.0M353.5,598.7h2.0" stroke="#6a4fb4" stroke-width="0.75" stroke-opacity="0.6" fill="none"/>
<path d="M109.6,644.5V646.1M108.6,644.5h2.0M108.6,646.1h2.0M113.7,641.6V643.3M112.7,641.6h2.0M112.7,643.3h2.0M117.8,638.8V640.6M116.8,638.8h2.0M116.8,640.6h2.0M121.8,635.8V637.7M120.8,635.8h2.0M120.8,637.7h2.0M125.9,633.3V635.3M124.9,633.3h2.0M124.9,635.3h2.0M130.0,631.3V633.4M129.0,631.3h2.0M129.0,633.4h2.0M134.1,630.3V632.5M133.1,630.3h2.0M133.1,632.5h2.0M138.2,629.7V631.9M137.2,629.7h2.0M137.2,631.9h2.0M142.3,629.2V631.6M141.3,629.2h2.0M141.3,631.6h2.0M146.3,628.8V631.3M145.3,628.8h2.0M145.3,631.3h2.0M150.4,628.5V631.1M149.4,628.5h2.0M149.4,631.1h2.0M154.5,631.8V634.7M153.5,631.8h2.0M153.5,634.7h2.0M158.6,631.5V634.7M157.6,631.5h2.0M157.6,634.7h2.0M162.7,631.5V634.7M161.7,631.5h2.0M161.7,634.7h2.0M166.7,631.5V634.7M165.7,631.5h2.0M165.7,634.7h2.0M170.8,631.5V634.7M169.8,631.5h2.0M169.8,634.7h2.0M174.9,631.5V634.7M173.9,631.5h2.0M173.9,634.7h2.0M179.0,631.5V634.7M178.0,631.5h2.0M178.0,634.7h2.0M183.1,631.5V634.7M182.1,631.5h2.0M182.1,634.7h2.0M187.1,631.4V634.6M186.1,631.4h2.0M186.1,634.6h2.0M191.2,631.4V634.6M190.2,631.4h2.0M190.2,634.6h2.0M195.3,631.3V634.5M194.3,631.3h2.0M194.3,634.5h2.0M199.4,631.1V634.3M198.4,631.1h2.0M198.4,634.3h2.0M203.5,631.0V634.2M202.5,631.0h2.0M202.5,634.2h2.0M207.6,630.7V633.9M206.6,630.7h2.0M206.6,633.9h2.0M211.6,630.4V633.6M210.6,630.4h2.0M210.6,633.6h2.0M215.7,630.1V633.3M214.7,630.1h2.0M214.7,633.3h2.0M219.8,629.7V632.9M218.8,629.7h2.0M218.8,632.9h2.0M223.9,629.3V632.5M222.9,629.3h2.0M222.9,632.5h2.0M228.0,628.8V632.0M227.0,628.8h2.0M227.0,632.0h2.0M232.0,628.2V631.4M231.0,628.2h2.0M231.0,631.4h2.0M236.1,627.5V630.9M235.1,627.5h2.0M235.1,630.9h2.0M240.2,626.8V630.5M239.2,626.8h2.0M239.2,630.5h2.0M244.3,626.2V630.0M243.3,626.2h2.0M243.3,630.0h2.0M248.4,625.5V629.5M247.4,625.5h2.0M247.4,629.5h2.0M252.5,624.8V629.0M251.5,624.8h2.0M251.5,629.0h2.0M256.5,624.0V628.4M255.5,624.0h2.0M255.5,628.4h2.0M260.6,623.1V627.8M259.6,623.1h2.0M259.6,627.8h2.0M264.7,622.3V627.2M263.7,622.3h2.0M263.7,627.2h2.0M268.8,621.3V626.4M267.8,621.3h2.0M267.8,626.4h2.0M272.9,620.3V625.6M271.9,620.3h2.0M271.9,625.6h2.0M276.9,619.1V624.6M275.9,619.1h2.0M275.9,624.6h2.0M281.0,617.7V623.4M280.0,617.7h2.0M280.0,623.4h2.0M285.1,616.0V621.9M284.1,616.0h2.0M284.1,621.9h2.0M289.2,614.1V620.2M288.2,614.1h2.0M288.2,620.2h2.0M293.3,612.0V618.4M292.3,612.0h2.0M292.3,618.4h2.0M297.3,609.9V616.5M296.3,609.9h2.0M296.3,616.5h2.0M301.4,607.7V614.4M300.4,607.7h2.0M300.4,614.4h2.0M305.5,605.2V612.2M304.5,605.2h2.0M304.5,612.2h2.0M309.6,602.7V609.9M308.6,602.7h2.0M308.6,609.9h2.0M313.7,600.2V607.6M312.7,600.2h2.0M312.7,607.6h2.0M317.8,597.9V605.5M316.8,597.9h2.0M316.8,605.5h2.0M321.8,595.6V603.5M320.8,595.6h2.0M320.8,603.5h2.0M325.9,593.4V601.5M324.9,593.4h2.0M324.9,601.5h2.0M330.0,591.3V599.6M329.0,591.3h2.0M329.0,599.6h2.0M334.1,589.3V597.7M333.1,589.3h2.0M333.1,597.7h2.0M338.2,587.4V596.1M337.2,587.4h2.0M337.2,596.1h2.0M342.2,585.6V594.5M341.2,585.6h2.0M341.2,594.5h2.0M346.3,583.9V593.0M345.3,583.9h2.0M345.3,593.0h2.0M350.4,582.2V591.5M349.4,582.2h2.0M349.4,591.5h2.0M354.5,580.5V590.1M353.5,580.5h2.0M353.5,590.1h2.0" stroke="#c9a3aa" stroke-width="0.75" stroke-opacity="0.6" fill="none"/>
<path d="M109.6,645.3 L111.2,644.2 L112.8,643.1 L114.5,641.9 L116.1,640.8 L117.3,640.0 L117.7,639.7 L119.3,638.6 L121.0,637.4 L122.6,636.3 L124.2,635.3 L125.1,634.7 L125.8,634.4 L127.4,633.5 L129.1,632.8 L130.7,632.1 L131.6,631.9 L132.3,631.7 L133.9,631.4 L135.5,631.1 L137.2,630.9 L137.4,630.9 L138.8,630.7 L140.4,630.6 L142.0,630.4 L143.7,630.2 L145.3,630.1 L145.5,630.1 L146.9,630.0 L148.5,629.9 L150.1,629.8 L150.4,629.8 L151.8,631.9 L152.9,633.5 L153.4,633.5 L155.0,633.4 L156.6,633.3 L157.8,633.3 L158.3,633.3 L159.9,633.3 L161.5,633.3 L163.1,633.3 L164.7,633.3 L166.4,633.3 L168.0,633.3 L169.6,633.3 L171.2,633.3 L172.9,633.3 L174.5,633.3 L176.1,633.3 L176.5,633.3 L177.7,633.3 L179.3,633.3 L181.0,633.3 L182.6,633.3 L184.2,633.2 L185.8,633.2 L187.4,633.2 L189.1,633.2 L190.7,633.1 L192.3,633.1 L193.9,633.1 L195.6,633.0 L196.9,633.0 L197.2,633.0 L198.8,632.9 L200.4,632.9 L202.0,632.8 L203.7,632.7 L205.3,632.6 L206.9,632.5 L208.5,632.4 L210.2,632.3 L211.8,632.2 L213.4,632.0 L215.0,631.9 L216.6,631.8 L217.4,631.7 L218.3,631.6 L219.9,631.5 L221.5,631.3 L223.1,631.1 L224.8,630.9 L226.4,630.7 L228.0,630.5 L229.6,630.3 L231.2,630.1 L232.9,629.9 L234.5,629.6 L236.1,629.4 L237.7,629.2 L239.3,628.9 L240.2,628.8 L241.0,628.7 L242.6,628.5 L244.2,628.3 L245.8,628.0 L247.5,627.8 L249.1,627.6 L250.7,627.3 L252.3,627.1 L253.9,626.8 L255.6,626.5 L257.2,626.3 L258.8,626.0 L259.0,625.9 L260.4,625.7 L262.1,625.4 L263.7,625.1 L265.3,624.8 L266.9,624.5 L268.5,624.2 L270.2,623.8 L271.8,623.5 L273.4,623.1 L275.0,622.7 L276.7,622.2 L277.8,621.9 L278.3,621.8 L279.9,621.3 L281.5,620.7 L283.1,620.1 L284.8,619.4 L286.4,618.7 L288.0,617.9 L289.6,617.2 L291.2,616.4 L292.9,615.6 L294.5,614.8 L296.1,614.0 L296.5,613.8 L297.7,613.2 L299.4,612.3 L301.0,611.4 L302.6,610.5 L304.2,609.6 L305.8,608.6 L307.5,607.7 L309.1,606.7 L310.7,605.8 L312.3,604.8 L314.0,603.9 L315.6,603.0 L316.1,602.7 L317.2,602.2 L318.8,601.3 L320.4,600.5 L322.1,599.6 L323.7,598.8 L325.3,598.0 L326.9,597.2 L328.6,596.4 L330.2,595.6 L331.8,594.9 L333.4,594.1 L334.9,593.5 L335.0,593.4 L336.7,592.7 L338.3,592.0 L339.9,591.4 L341.5,590.7 L343.1,590.1 L344.8,589.5 L346.4,588.8 L348.0,588.2 L349.6,587.6 L351.3,587.0 L352.9,586.4 L354.5,585.8 L356.1,585.1" stroke="#3fae7c" stroke-width="1.9" fill="none" stroke-linejoin="round"/>
<path d="M109.6,645.3 L111.2,644.2 L112.8,643.1 L114.5,642.0 L116.1,641.0 L117.3,640.2 L117.7,639.9 L119.3,638.8 L121.0,637.6 L122.6,636.5 L124.2,635.5 L125.1,635.0 L125.8,634.7 L127.4,633.9 L129.1,633.1 L130.7,632.6 L131.6,632.3 L132.3,632.1 L133.9,631.8 L135.5,631.6 L137.2,631.4 L137.4,631.4 L138.8,631.2 L140.4,631.0 L142.0,630.9 L143.7,630.7 L145.3,630.6 L145.5,630.6 L146.9,630.5 L148.5,630.3 L150.1,630.3 L150.4,630.3 L151.8,632.3 L152.9,633.8 L153.4,633.8 L155.0,633.8 L156.6,633.8 L157.8,633.8 L158.3,633.8 L159.9,633.8 L161.5,633.9 L163.1,634.1 L164.7,634.3 L166.4,634.5 L168.0,634.7 L169.6,634.9 L171.2,635.1 L172.9,635.2 L174.5,635.3 L176.1,635.4 L176.5,635.4 L177.7,635.4 L179.3,635.4 L181.0,635.4 L182.6,635.4 L184.2,635.4 L185.8,635.4 L187.4,635.4 L189.1,635.4 L190.7,635.4 L192.3,635.4 L193.9,635.4 L195.6,635.4 L196.9,635.4 L197.2,635.4 L198.8,635.4 L200.4,635.3 L202.0,635.2 L203.7,635.0 L205.3,634.9 L206.9,634.7 L208.5,634.5 L210.2,634.3 L211.8,634.0 L213.4,633.8 L215.0,633.6 L216.6,633.4 L217.4,633.3 L218.3,633.2 L219.9,633.0 L221.5,632.7 L223.1,632.5 L224.8,632.3 L226.4,632.0 L228.0,631.8 L229.6,631.5 L231.2,631.2 L232.9,630.9 L234.5,630.6 L236.1,630.4 L237.7,630.1 L239.3,629.8 L240.2,629.6 L241.0,629.5 L242.6,629.2 L244.2,628.9 L245.8,628.6 L247.5,628.3 L249.1,628.0 L250.7,627.6 L252.3,627.3 L253.9,627.0 L255.6,626.6 L257.2,626.2 L258.8,625.8 L259.0,625.8 L260.4,625.4 L262.1,625.0 L263.7,624.6 L265.3,624.1 L266.9,623.6 L268.5,623.2 L270.2,622.6 L271.8,622.1 L273.4,621.5 L275.0,620.9 L276.7,620.2 L277.8,619.7 L278.3,619.5 L279.9,618.6 L281.5,617.6 L283.1,616.5 L284.8,615.3 L286.4,614.0 L288.0,612.7 L289.6,611.4 L291.2,610.0 L292.9,608.7 L294.5,607.4 L296.1,606.2 L296.5,605.9 L297.7,605.1 L299.4,604.0 L301.0,602.9 L302.6,601.9 L304.2,600.8 L305.8,599.8 L307.5,598.7 L309.1,597.7 L310.7,596.6 L312.3,595.5 L314.0,594.3 L315.6,593.1 L316.1,592.7 L317.2,591.8 L318.8,590.5 L320.4,589.1 L322.1,587.7 L323.7,586.2 L325.3,584.7 L326.9,583.2 L328.6,581.6 L330.2,580.1 L331.8,578.6 L333.4,577.1 L334.9,575.7 L335.0,575.6 L336.7,574.1 L338.3,572.6 L339.9,571.1 L341.5,569.6 L343.1,568.1 L344.8,566.6 L346.4,565.2 L348.0,563.7 L349.6,562.2 L351.3,560.7 L352.9,559.2 L354.5,557.7 L356.1,556.2" stroke="#e23a44" stroke-width="1.9" fill="none" stroke-linejoin="round"/>
<path d="M109.6,645.3 L111.2,644.2 L112.8,643.0 L114.5,641.9 L116.1,640.7 L117.3,639.9 L117.7,639.6 L119.3,638.4 L121.0,637.3 L122.6,636.1 L124.2,635.1 L125.1,634.5 L125.8,634.2 L127.4,633.3 L129.1,632.5 L130.7,631.9 L131.6,631.6 L132.3,631.4 L133.9,631.1 L135.5,630.8 L137.2,630.6 L137.4,630.6 L138.8,630.4 L140.4,630.2 L142.0,630.1 L143.7,629.9 L145.3,629.8 L145.5,629.8 L146.9,629.7 L148.5,629.5 L150.1,629.5 L150.4,629.5 L151.8,632.9 L152.9,635.4 L153.4,635.3 L155.0,634.9 L156.6,634.3 L157.8,634.1 L158.3,634.1 L159.9,634.0 L161.5,633.9 L163.1,633.8 L164.7,633.8 L166.4,633.7 L168.0,633.7 L169.6,633.6 L171.2,633.6 L172.9,633.6 L174.5,633.5 L176.1,633.5 L176.5,633.5 L177.7,633.4 L179.3,633.4 L181.0,633.3 L182.6,633.3 L184.2,633.2 L185.8,633.2 L187.4,633.2 L189.1,633.1 L190.7,633.1 L192.3,633.0 L193.9,632.9 L195.6,632.9 L196.9,632.8 L197.2,632.8 L198.8,632.7 L200.4,632.6 L202.0,632.5 L203.7,632.4 L205.3,632.2 L206.9,632.1 L208.5,631.9 L210.2,631.8 L211.8,631.6 L213.4,631.4 L215.0,631.2 L216.6,631.0 L217.4,630.9 L218.3,630.8 L219.9,630.5 L221.5,630.2 L223.1,629.9 L224.8,629.6 L226.4,629.2 L228.0,628.9 L229.6,628.5 L231.2,628.1 L232.9,627.7 L234.5,627.3 L236.1,627.0 L237.7,626.6 L239.3,626.3 L240.2,626.1 L241.0,626.0 L242.6,625.6 L244.2,625.4 L245.8,625.1 L247.5,624.8 L249.1,624.5 L250.7,624.2 L252.3,624.0 L253.9,623.6 L255.6,623.3 L257.2,623.0 L258.8,622.6 L259.0,622.6 L260.4,622.2 L262.1,621.8 L263.7,621.4 L265.3,620.9 L266.9,620.5 L268.5,620.0 L270.2,619.4 L271.8,618.9 L273.4,618.3 L275.0,617.6 L276.7,617.0 L277.8,616.5 L278.3,616.3 L279.9,615.5 L281.5,614.5 L283.1,613.5 L284.8,612.4 L286.4,611.3 L288.0,610.1 L289.6,608.9 L291.2,607.6 L292.9,606.4 L294.5,605.2 L296.1,604.0 L296.5,603.7 L297.7,602.9 L299.4,601.7 L301.0,600.6 L302.6,599.5 L304.2,598.4 L305.8,597.2 L307.5,596.1 L309.1,594.9 L310.7,593.7 L312.3,592.4 L314.0,591.1 L315.6,589.8 L316.1,589.3 L317.2,588.3 L318.8,586.8 L320.4,585.2 L322.1,583.5 L323.7,581.8 L325.3,580.0 L326.9,578.2 L328.6,576.4 L330.2,574.6 L331.8,572.8 L333.4,571.0 L334.9,569.5 L335.0,569.3 L336.7,567.6 L338.3,565.9 L339.9,564.2 L341.5,562.5 L343.1,560.8 L344.8,559.0 L346.4,557.3 L348.0,555.6 L349.6,553.9 L351.3,552.2 L352.9,550.5 L354.5,548.8 L356.1,547.1" stroke="#3b4ba6" stroke-width="1.9" fill="none" stroke-linejoin="round"/>
<path d="M109.6,645.3 L111.2,644.2 L112.8,643.1 L114.5,642.0 L116.1,640.9 L117.3,640.1 L117.7,639.8 L119.3,638.7 L121.0,637.5 L122.6,636.4 L124.2,635.4 L125.1,634.9 L125.8,634.6 L127.4,633.8 L129.1,633.0 L130.7,632.4 L131.6,632.1 L132.3,632.0 L133.9,631.7 L135.5,631.5 L137.2,631.2 L137.4,631.2 L138.8,631.0 L140.4,630.9 L142.0,630.7 L143.7,630.6 L145.3,630.4 L145.5,630.4 L146.9,630.3 L148.5,630.2 L150.1,630.1 L150.4,630.1 L151.8,632.4 L152.9,634.1 L153.4,634.1 L155.0,633.8 L156.6,633.5 L157.8,633.5 L158.3,633.5 L159.9,633.5 L161.5,633.6 L163.1,633.7 L164.7,633.8 L166.4,633.9 L168.0,634.0 L169.6,634.1 L171.2,634.2 L172.9,634.3 L174.5,634.4 L176.1,634.4 L176.5,634.4 L177.7,634.4 L179.3,634.4 L181.0,634.4 L182.6,634.4 L184.2,634.4 L185.8,634.3 L187.4,634.3 L189.1,634.3 L190.7,634.3 L192.3,634.2 L193.9,634.2 L195.6,634.1 L196.9,634.1 L197.2,634.1 L198.8,634.0 L200.4,633.9 L202.0,633.8 L203.7,633.7 L205.3,633.6 L206.9,633.4 L208.5,633.2 L210.2,633.1 L211.8,632.9 L213.4,632.7 L215.0,632.5 L216.6,632.3 L217.4,632.2 L218.3,632.1 L219.9,631.8 L221.5,631.6 L223.1,631.3 L224.8,631.0 L226.4,630.8 L228.0,630.5 L229.6,630.1 L231.2,629.8 L232.9,629.5 L234.5,629.2 L236.1,628.8 L237.7,628.5 L239.3,628.2 L240.2,628.0 L241.0,627.9 L242.6,627.6 L244.2,627.3 L245.8,627.0 L247.5,626.6 L249.1,626.3 L250.7,626.0 L252.3,625.7 L253.9,625.3 L255.6,625.0 L257.2,624.6 L258.8,624.2 L259.0,624.2 L260.4,623.8 L262.1,623.4 L263.7,623.0 L265.3,622.5 L266.9,622.0 L268.5,621.5 L270.2,621.0 L271.8,620.4 L273.4,619.9 L275.0,619.2 L276.7,618.6 L277.8,618.1 L278.3,617.9 L279.9,617.1 L281.5,616.1 L283.1,615.1 L284.8,614.0 L286.4,612.9 L288.0,611.7 L289.6,610.5 L291.2,609.2 L292.9,608.0 L294.5,606.8 L296.1,605.6 L296.5,605.3 L297.7,604.4 L299.4,603.3 L301.0,602.1 L302.6,601.0 L304.2,599.8 L305.8,598.6 L307.5,597.4 L309.1,596.2 L310.7,595.0 L312.3,593.8 L314.0,592.5 L315.6,591.3 L316.1,590.9 L317.2,590.1 L318.8,588.8 L320.4,587.5 L322.1,586.2 L323.7,584.9 L325.3,583.6 L326.9,582.3 L328.6,580.9 L330.2,579.7 L331.8,578.4 L333.4,577.1 L334.9,576.0 L335.0,575.9 L336.7,574.7 L338.3,573.6 L339.9,572.4 L341.5,571.3 L343.1,570.2 L344.8,569.0 L346.4,567.9 L348.0,566.8 L349.6,565.7 L351.3,564.6 L352.9,563.5 L354.5,562.4 L356.1,561.3" stroke="#b53d9d" stroke-width="1.9" fill="none" stroke-linejoin="round"/>
<path d="M109.6,645.3 L111.2,644.1 L112.8,643.0 L114.5,641.8 L116.1,640.6 L117.3,639.8 L117.7,639.5 L119.3,638.3 L121.0,637.0 L122.6,635.9 L124.2,634.8 L125.1,634.2 L125.8,633.8 L127.4,632.9 L129.1,632.1 L130.7,631.4 L131.6,631.1 L132.3,631.0 L133.9,630.6 L135.5,630.4 L137.2,630.1 L137.4,630.1 L138.8,629.9 L140.4,629.7 L142.0,629.6 L143.7,629.4 L145.3,629.3 L145.5,629.3 L146.9,629.2 L148.5,629.1 L150.1,629.0 L150.4,629.0 L151.8,631.9 L152.9,634.1 L153.4,634.0 L155.0,633.4 L156.6,632.7 L157.8,632.5 L158.3,632.5 L159.9,632.5 L161.5,632.5 L163.1,632.5 L164.7,632.5 L166.4,632.5 L168.0,632.5 L169.6,632.5 L171.2,632.5 L172.9,632.5 L174.5,632.5 L176.1,632.5 L176.5,632.5 L177.7,632.5 L179.3,632.5 L181.0,632.5 L182.6,632.5 L184.2,632.4 L185.8,632.4 L187.4,632.4 L189.1,632.4 L190.7,632.3 L192.3,632.3 L193.9,632.3 L195.6,632.2 L196.9,632.2 L197.2,632.2 L198.8,632.1 L200.4,632.0 L202.0,632.0 L203.7,631.9 L205.3,631.7 L206.9,631.6 L208.5,631.5 L210.2,631.3 L211.8,631.2 L213.4,631.0 L215.0,630.8 L216.6,630.7 L217.4,630.6 L218.3,630.5 L219.9,630.3 L221.5,630.1 L223.1,629.8 L224.8,629.6 L226.4,629.3 L228.0,629.0 L229.6,628.8 L231.2,628.5 L232.9,628.2 L234.5,627.9 L236.1,627.6 L237.7,627.3 L239.3,627.0 L240.2,626.9 L241.0,626.8 L242.6,626.5 L244.2,626.2 L245.8,626.0 L247.5,625.7 L249.1,625.4 L250.7,625.2 L252.3,624.9 L253.9,624.6 L255.6,624.3 L257.2,624.0 L258.8,623.7 L259.0,623.7 L260.4,623.4 L262.1,623.1 L263.7,622.8 L265.3,622.5 L266.9,622.2 L268.5,621.9 L270.2,621.6 L271.8,621.2 L273.4,620.9 L275.0,620.5 L276.7,620.0 L277.8,619.7 L278.3,619.5 L279.9,619.0 L281.5,618.3 L283.1,617.6 L284.8,616.8 L286.4,615.9 L288.0,615.0 L289.6,614.1 L291.2,613.2 L292.9,612.2 L294.5,611.3 L296.1,610.3 L296.5,610.1 L297.7,609.4 L299.4,608.5 L301.0,607.5 L302.6,606.5 L304.2,605.5 L305.8,604.5 L307.5,603.5 L309.1,602.5 L310.7,601.5 L312.3,600.5 L314.0,599.4 L315.6,598.4 L316.1,598.1 L317.2,597.4 L318.8,596.4 L320.4,595.4 L322.1,594.4 L323.7,593.4 L325.3,592.4 L326.9,591.3 L328.6,590.3 L330.2,589.3 L331.8,588.4 L333.4,587.4 L334.9,586.6 L335.0,586.5 L336.7,585.6 L338.3,584.7 L339.9,583.8 L341.5,583.0 L343.1,582.2 L344.8,581.3 L346.4,580.5 L348.0,579.7 L349.6,578.9 L351.3,578.0 L352.9,577.2 L354.5,576.4 L356.1,575.5" stroke="#5bc6e6" stroke-width="1.9" fill="none" stroke-linejoin="round"/>
<path d="M109.6,645.3 L111.2,644.2 L112.8,643.1 L114.5,641.9 L116.1,640.8 L117.3,640.0 L117.7,639.7 L119.3,638.6 L121.0,637.4 L122.6,636.3 L124.2,635.3 L125.1,634.7 L125.8,634.4 L127.4,633.5 L129.1,632.8 L130.7,632.1 L131.6,631.9 L132.3,631.7 L133.9,631.4 L135.5,631.1 L137.2,630.9 L137.4,630.9 L138.8,630.7 L140.4,630.6 L142.0,630.4 L143.7,630.2 L145.3,630.1 L145.5,630.1 L146.9,630.0 L148.5,629.9 L150.1,629.8 L150.4,629.8 L151.8,632.1 L152.9,633.8 L153.4,633.8 L155.0,633.6 L156.6,633.5 L157.8,633.5 L158.3,633.5 L159.9,633.5 L161.5,633.5 L163.1,633.5 L164.7,633.6 L166.4,633.6 L168.0,633.6 L169.6,633.7 L171.2,633.7 L172.9,633.7 L174.5,633.8 L176.1,633.8 L176.5,633.8 L177.7,633.8 L179.3,633.8 L181.0,633.8 L182.6,633.7 L184.2,633.7 L185.8,633.7 L187.4,633.7 L189.1,633.6 L190.7,633.6 L192.3,633.6 L193.9,633.5 L195.6,633.5 L196.9,633.5 L197.2,633.5 L198.8,633.4 L200.4,633.3 L202.0,633.2 L203.7,633.1 L205.3,633.0 L206.9,632.9 L208.5,632.7 L210.2,632.6 L211.8,632.4 L213.4,632.2 L215.0,632.1 L216.6,631.9 L217.4,631.9 L218.3,631.8 L219.9,631.6 L221.5,631.4 L223.1,631.2 L224.8,631.0 L226.4,630.8 L228.0,630.6 L229.6,630.4 L231.2,630.2 L232.9,630.0 L234.5,629.8 L236.1,629.6 L237.7,629.3 L239.3,629.1 L240.2,629.0 L241.0,628.9 L242.6,628.6 L244.2,628.4 L245.8,628.2 L247.5,628.0 L249.1,627.7 L250.7,627.5 L252.3,627.2 L253.9,627.0 L255.6,626.7 L257.2,626.4 L258.8,626.1 L259.0,626.1 L260.4,625.8 L262.1,625.6 L263.7,625.3 L265.3,625.0 L266.9,624.6 L268.5,624.3 L270.2,624.0 L271.8,623.6 L273.4,623.2 L275.0,622.8 L276.7,622.4 L277.8,622.1 L278.3,621.9 L279.9,621.4 L281.5,620.9 L283.1,620.2 L284.8,619.6 L286.4,618.9 L288.0,618.1 L289.6,617.4 L291.2,616.6 L292.9,615.8 L294.5,615.0 L296.1,614.1 L296.5,613.9 L297.7,613.3 L299.4,612.5 L301.0,611.6 L302.6,610.6 L304.2,609.6 L305.8,608.7 L307.5,607.7 L309.1,606.7 L310.7,605.7 L312.3,604.7 L314.0,603.8 L315.6,602.9 L316.1,602.6 L317.2,602.0 L318.8,601.1 L320.4,600.3 L322.1,599.4 L323.7,598.6 L325.3,597.7 L326.9,596.9 L328.6,596.1 L330.2,595.3 L331.8,594.6 L333.4,593.8 L334.9,593.1 L335.0,593.1 L336.7,592.4 L338.3,591.7 L339.9,591.0 L341.5,590.3 L343.1,589.7 L344.8,589.1 L346.4,588.4 L348.0,587.8 L349.6,587.2 L351.3,586.6 L352.9,585.9 L354.5,585.3 L356.1,584.7" stroke="#6a4fb4" stroke-width="1.9" fill="none" stroke-linejoin="round"/>
<path d="M109.6,645.3 L111.2,644.2 L112.8,643.1 L114.5,641.9 L116.1,640.8 L117.3,640.0 L117.7,639.7 L119.3,638.6 L121.0,637.4 L122.6,636.3 L124.2,635.3 L125.1,634.7 L125.8,634.4 L127.4,633.5 L129.1,632.8 L130.7,632.1 L131.6,631.9 L132.3,631.7 L133.9,631.4 L135.5,631.1 L137.2,630.9 L137.4,630.9 L138.8,630.7 L140.4,630.6 L142.0,630.4 L143.7,630.2 L145.3,630.1 L145.5,630.1 L146.9,630.0 L148.5,629.9 L150.1,629.8 L150.4,629.8 L151.8,631.8 L152.9,633.3 L153.4,633.3 L155.0,633.2 L156.6,633.2 L157.8,633.1 L158.3,633.1 L159.9,633.1 L161.5,633.1 L163.1,633.1 L164.7,633.1 L166.4,633.1 L168.0,633.1 L169.6,633.1 L171.2,633.1 L172.9,633.1 L174.5,633.1 L176.1,633.1 L176.5,633.1 L177.7,633.1 L179.3,633.1 L181.0,633.1 L182.6,633.1 L184.2,633.1 L185.8,633.1 L187.4,633.0 L189.1,633.0 L190.7,633.0 L192.3,632.9 L193.9,632.9 L195.6,632.9 L196.9,632.8 L197.2,632.8 L198.8,632.8 L200.4,632.7 L202.0,632.6 L203.7,632.5 L205.3,632.4 L206.9,632.3 L208.5,632.2 L210.2,632.1 L211.8,632.0 L213.4,631.9 L215.0,631.7 L216.6,631.6 L217.4,631.5 L218.3,631.5 L219.9,631.3 L221.5,631.1 L223.1,631.0 L224.8,630.8 L226.4,630.6 L228.0,630.4 L229.6,630.1 L231.2,629.9 L232.9,629.7 L234.5,629.5 L236.1,629.2 L237.7,629.0 L239.3,628.8 L240.2,628.7 L241.0,628.6 L242.6,628.3 L244.2,628.1 L245.8,627.9 L247.5,627.6 L249.1,627.4 L250.7,627.2 L252.3,626.9 L253.9,626.6 L255.6,626.4 L257.2,626.1 L258.8,625.8 L259.0,625.8 L260.4,625.5 L262.1,625.2 L263.7,624.9 L265.3,624.6 L266.9,624.3 L268.5,623.9 L270.2,623.6 L271.8,623.2 L273.4,622.8 L275.0,622.4 L276.7,621.9 L277.8,621.6 L278.3,621.5 L279.9,620.9 L281.5,620.4 L283.1,619.8 L284.8,619.1 L286.4,618.4 L288.0,617.7 L289.6,616.9 L291.2,616.2 L292.9,615.4 L294.5,614.6 L296.1,613.8 L296.5,613.6 L297.7,613.0 L299.4,612.2 L301.0,611.3 L302.6,610.4 L304.2,609.5 L305.8,608.5 L307.5,607.5 L309.1,606.6 L310.7,605.6 L312.3,604.7 L314.0,603.8 L315.6,602.9 L316.1,602.6 L317.2,602.0 L318.8,601.1 L320.4,600.3 L322.1,599.4 L323.7,598.6 L325.3,597.8 L326.9,596.9 L328.6,596.1 L330.2,595.3 L331.8,594.6 L333.4,593.8 L334.9,593.1 L335.0,593.1 L336.7,592.4 L338.3,591.7 L339.9,591.0 L341.5,590.3 L343.1,589.7 L344.8,589.1 L346.4,588.4 L348.0,587.8 L349.6,587.2 L351.3,586.6 L352.9,585.9 L354.5,585.3 L356.1,584.7" stroke="#c9a3aa" stroke-width="1.9" fill="none" stroke-linejoin="round"/>
<line x1="119.60" y1="538.70" x2="131.20" y2="538.70" stroke="#e23a44" stroke-width="1.7" />
<text x="133.70" y="541.70" font-size="8" text-anchor="start" fill="#3a3a3a" letter-spacing="0.35">Control</text>
<line x1="119.60" y1="547.70" x2="131.20" y2="547.70" stroke="#3b4ba6" stroke-width="1.7" />
<text x="133.70" y="550.70" font-size="8" text-anchor="start" fill="#3a3a3a" letter-spacing="0.35">1 μM</text>
<line x1="119.60" y1="556.70" x2="131.20" y2="556.70" stroke="#b53d9d" stroke-width="1.7" />
<text x="133.70" y="559.70" font-size="8" text-anchor="start" fill="#3a3a3a" letter-spacing="0.35">2.5 μM</text>
<line x1="119.60" y1="565.70" x2="131.20" y2="565.70" stroke="#5bc6e6" stroke-width="1.7" />
<text x="133.70" y="568.70" font-size="8" text-anchor="start" fill="#3a3a3a" letter-spacing="0.35">5 μM</text>
<line x1="119.60" y1="574.70" x2="131.20" y2="574.70" stroke="#6a4fb4" stroke-width="1.7" />
<text x="133.70" y="577.70" font-size="8" text-anchor="start" fill="#3a3a3a" letter-spacing="0.35">10 μM</text>
<line x1="119.60" y1="583.70" x2="131.20" y2="583.70" stroke="#c9a3aa" stroke-width="1.7" />
<text x="133.70" y="586.70" font-size="8" text-anchor="start" fill="#3a3a3a" letter-spacing="0.35">15 μM</text>
<line x1="119.60" y1="592.70" x2="131.20" y2="592.70" stroke="#3fae7c" stroke-width="1.7" />
<text x="133.70" y="595.70" font-size="8" text-anchor="start" fill="#3a3a3a" letter-spacing="0.35">20 μM</text>
<text x="160.60" y="605.80" font-size="14" text-anchor="start" fill="#262626" textLength="89.8" lengthAdjust="spacing">+ OSN4F/ISN</text>
<line x1="170.40" y1="608.50" x2="159.80" y2="625.00" stroke="#333" stroke-width="1" />
<path d="M159.80,625.00 L160.45,620.66 L163.48,622.61Z" fill="#333"/>
<line x1="454.80" y1="10.90" x2="454.80" y2="136.00" stroke="#6a6a6a" stroke-width="1.2" />
<line x1="454.20" y1="136.00" x2="675.30" y2="136.00" stroke="#4e4e4e" stroke-width="1.3" />
<text x="0" y="0" font-size="14.5" text-anchor="end" fill="#262626" transform="translate(450.50,141.70) scale(0.9,1)">0</text>
<line x1="454.80" y1="115.15" x2="458.80" y2="115.15" stroke="#4e4e4e" stroke-width="1" />
<text x="0" y="0" font-size="14.5" text-anchor="end" fill="#262626" transform="translate(450.50,120.85) scale(0.9,1)">20</text>
<line x1="454.80" y1="94.30" x2="458.80" y2="94.30" stroke="#4e4e4e" stroke-width="1" />
<text x="0" y="0" font-size="14.5" text-anchor="end" fill="#262626" transform="translate(450.50,100.00) scale(0.9,1)">40</text>
<line x1="454.80" y1="73.45" x2="458.80" y2="73.45" stroke="#4e4e4e" stroke-width="1" />
<text x="0" y="0" font-size="14.5" text-anchor="end" fill="#262626" transform="translate(450.50,79.15) scale(0.9,1)">60</text>
<line x1="454.80" y1="52.60" x2="458.80" y2="52.60" stroke="#4e4e4e" stroke-width="1" />
<text x="0" y="0" font-size="14.5" text-anchor="end" fill="#262626" transform="translate(450.50,58.30) scale(0.9,1)">80</text>
<line x1="454.80" y1="31.75" x2="458.80" y2="31.75" stroke="#4e4e4e" stroke-width="1" />
<text x="0" y="0" font-size="14.5" text-anchor="end" fill="#262626" transform="translate(450.50,37.45) scale(0.9,1)">100</text>
<line x1="454.80" y1="10.90" x2="458.80" y2="10.90" stroke="#4e4e4e" stroke-width="1" />
<text x="0" y="0" font-size="14.5" text-anchor="end" fill="#262626" transform="translate(450.50,16.60) scale(0.9,1)">120</text>
<line x1="476.93" y1="136.00" x2="476.93" y2="133.80" stroke="#4e4e4e" stroke-width="1" />
<line x1="489.87" y1="136.00" x2="489.87" y2="133.80" stroke="#4e4e4e" stroke-width="1" />
<line x1="499.05" y1="136.00" x2="499.05" y2="133.80" stroke="#4e4e4e" stroke-width="1" />
<line x1="506.17" y1="136.00" x2="506.17" y2="133.80" stroke="#4e4e4e" stroke-width="1" />
<line x1="511.99" y1="136.00" x2="511.99" y2="133.80" stroke="#4e4e4e" stroke-width="1" />
<line x1="516.91" y1="136.00" x2="516.91" y2="133.80" stroke="#4e4e4e" stroke-width="1" />
<line x1="521.18" y1="136.00" x2="521.18" y2="133.80" stroke="#4e4e4e" stroke-width="1" />
<line x1="524.94" y1="136.00" x2="524.94" y2="133.80" stroke="#4e4e4e" stroke-width="1" />
<line x1="550.43" y1="136.00" x2="550.43" y2="133.80" stroke="#4e4e4e" stroke-width="1" />
<line x1="563.37" y1="136.00" x2="563.37" y2="133.80" stroke="#4e4e4e" stroke-width="1" />
<line x1="572.55" y1="136.00" x2="572.55" y2="133.80" stroke="#4e4e4e" stroke-width="1" />
<line x1="579.67" y1="136.00" x2="579.67" y2="133.80" stroke="#4e4e4e" stroke-width="1" />
<line x1="585.49" y1="136.00" x2="585.49" y2="133.80" stroke="#4e4e4e" stroke-width="1" />
<line x1="590.41" y1="136.00" x2="590.41" y2="133.80" stroke="#4e4e4e" stroke-width="1" />
<line x1="594.68" y1="136.00" x2="594.68" y2="133.80" stroke="#4e4e4e" stroke-width="1" />
<line x1="598.44" y1="136.00" x2="598.44" y2="133.80" stroke="#4e4e4e" stroke-width="1" />
<line x1="623.93" y1="136.00" x2="623.93" y2="133.80" stroke="#4e4e4e" stroke-width="1" />
<line x1="636.87" y1="136.00" x2="636.87" y2="133.80" stroke="#4e4e4e" stroke-width="1" />
<line x1="646.05" y1="136.00" x2="646.05" y2="133.80" stroke="#4e4e4e" stroke-width="1" />
<line x1="653.17" y1="136.00" x2="653.17" y2="133.80" stroke="#4e4e4e" stroke-width="1" />
<line x1="658.99" y1="136.00" x2="658.99" y2="133.80" stroke="#4e4e4e" stroke-width="1" />
<line x1="663.91" y1="136.00" x2="663.91" y2="133.80" stroke="#4e4e4e" stroke-width="1" />
<line x1="668.18" y1="136.00" x2="668.18" y2="133.80" stroke="#4e4e4e" stroke-width="1" />
<line x1="671.94" y1="136.00" x2="671.94" y2="133.80" stroke="#4e4e4e" stroke-width="1" />
<line x1="528.30" y1="136.00" x2="528.30" y2="132.50" stroke="#4e4e4e" stroke-width="1" />
<line x1="601.80" y1="136.00" x2="601.80" y2="132.50" stroke="#4e4e4e" stroke-width="1" />
<line x1="675.30" y1="136.00" x2="675.30" y2="132.50" stroke="#4e4e4e" stroke-width="1" />
<text x="0" y="0" font-size="14.5" text-anchor="middle" fill="#262626" transform="translate(455.80,152.60) scale(0.9,1)">0.1</text>
<text x="0" y="0" font-size="14.5" text-anchor="middle" fill="#262626" transform="translate(528.80,152.60) scale(0.9,1)">1</text>
<text x="0" y="0" font-size="14.5" text-anchor="middle" fill="#262626" transform="translate(601.80,152.60) scale(0.9,1)">10</text>
<text x="0" y="0" font-size="14.5" text-anchor="middle" fill="#262626" transform="translate(672.30,152.60) scale(0.9,1)">100</text>
<path d="M454.80,40.09 L458.16,40.09 L461.52,40.09 L464.89,40.09 L468.25,40.10 L471.61,40.10 L474.97,40.10 L478.34,40.10 L481.70,40.10 L485.06,40.10 L488.42,40.10 L491.79,40.10 L495.15,40.11 L498.51,40.11 L501.87,40.11 L505.23,40.12 L508.60,40.12 L511.96,40.13 L515.32,40.13 L518.68,40.14 L522.05,40.14 L525.41,40.15 L528.77,40.16 L532.13,40.17 L535.49,40.19 L538.86,40.20 L542.22,40.22 L545.58,40.24 L548.94,40.26 L552.31,40.29 L555.67,40.32 L559.03,40.35 L562.39,40.39 L565.76,40.44 L569.12,40.49 L572.48,40.55 L575.84,40.62 L579.20,40.70 L582.57,40.79 L585.93,40.90 L589.29,41.03 L592.65,41.17 L596.02,41.33 L599.38,41.52 L602.74,41.74 L606.10,41.99 L609.46,42.27 L612.83,42.60 L616.19,42.98 L619.55,43.40 L622.91,43.89 L626.28,44.45 L629.64,45.09 L633.00,45.81 L636.36,46.64 L639.73,47.57 L643.09,48.62 L646.45,49.80 L649.81,51.12 L653.17,52.60" stroke="#555" stroke-width="1.2" stroke-dasharray="1.2,1.0" fill="none"/>
<path d="M454.80,27.81L457.70,30.71L454.80,33.61L451.90,30.71Z" fill="#b4b4b4" stroke="#5a5a5a" stroke-width="0.9"/>
<path d="M506.17,42.40L509.07,45.30L506.17,48.20L503.27,45.30Z" fill="#b4b4b4" stroke="#5a5a5a" stroke-width="0.9"/>
<path d="M528.30,29.89L531.20,32.79L528.30,35.69L525.40,32.79Z" fill="#b4b4b4" stroke="#5a5a5a" stroke-width="0.9"/>
<path d="M557.55,33.84V48.43M555.85,33.84h3.4M555.85,48.43h3.4" stroke="#505050" stroke-width="1.0" fill="none"/>
<path d="M557.55,38.23L560.45,41.13L557.55,44.03L554.65,41.13Z" fill="#b4b4b4" stroke="#5a5a5a" stroke-width="0.9"/>
<path d="M579.67,47.62L582.57,50.52L579.67,53.41L576.77,50.52Z" fill="#b4b4b4" stroke="#5a5a5a" stroke-width="0.9"/>
<path d="M601.80,43.74V50.52M600.10,43.74h3.4M600.10,50.52h3.4" stroke="#505050" stroke-width="1.0" fill="none"/>
<path d="M601.80,44.49L604.70,47.39L601.80,50.29L598.90,47.39Z" fill="#b4b4b4" stroke="#5a5a5a" stroke-width="0.9"/>
<path d="M623.93,39.05V53.64M622.23,39.05h3.4M622.23,53.64h3.4" stroke="#505050" stroke-width="1.0" fill="none"/>
<path d="M623.93,43.45L626.83,46.34L623.93,49.24L621.03,46.34Z" fill="#b4b4b4" stroke="#5a5a5a" stroke-width="0.9"/>
<path d="M653.17,50.74L656.07,53.64L653.17,56.54L650.27,53.64Z" fill="#b4b4b4" stroke="#5a5a5a" stroke-width="0.9"/>
<text x="0" y="0" font-size="15" text-anchor="middle" fill="#262626" textLength="90.5" lengthAdjust="spacingAndGlyphs" transform="translate(427.70,73.30) rotate(-90)">Cell survival, %</text>
<text x="565.70" y="167.70" font-size="15" text-anchor="middle" fill="#262626" textLength="84" lengthAdjust="spacingAndGlyphs">[OSN4F], μM</text>
<text x="467.20" y="125.80" font-size="14.5" fill="#262626">IC<tspan font-size="10.5" dy="3">50</tspan><tspan dy="-3"> = 201.8 μM</tspan></text>
<line x1="456.90" y1="175.19" x2="456.90" y2="302.80" stroke="#6a6a6a" stroke-width="1.2" />
<line x1="456.30" y1="302.80" x2="677.40" y2="302.80" stroke="#4e4e4e" stroke-width="1.3" />
<text x="0" y="0" font-size="14.5" text-anchor="end" fill="#262626" transform="translate(452.60,308.50) scale(0.9,1)">0</text>
<line x1="456.90" y1="284.57" x2="460.90" y2="284.57" stroke="#4e4e4e" stroke-width="1" />
<text x="0" y="0" font-size="14.5" text-anchor="end" fill="#262626" transform="translate(452.60,290.27) scale(0.9,1)">20</text>
<line x1="456.90" y1="266.34" x2="460.90" y2="266.34" stroke="#4e4e4e" stroke-width="1" />
<text x="0" y="0" font-size="14.5" text-anchor="end" fill="#262626" transform="translate(452.60,272.04) scale(0.9,1)">40</text>
<line x1="456.90" y1="248.11" x2="460.90" y2="248.11" stroke="#4e4e4e" stroke-width="1" />
<text x="0" y="0" font-size="14.5" text-anchor="end" fill="#262626" transform="translate(452.60,253.81) scale(0.9,1)">60</text>
<line x1="456.90" y1="229.88" x2="460.90" y2="229.88" stroke="#4e4e4e" stroke-width="1" />
<text x="0" y="0" font-size="14.5" text-anchor="end" fill="#262626" transform="translate(452.60,235.58) scale(0.9,1)">80</text>
<line x1="456.90" y1="211.65" x2="460.90" y2="211.65" stroke="#4e4e4e" stroke-width="1" />
<text x="0" y="0" font-size="14.5" text-anchor="end" fill="#262626" transform="translate(452.60,217.35) scale(0.9,1)">100</text>
<line x1="456.90" y1="193.42" x2="460.90" y2="193.42" stroke="#4e4e4e" stroke-width="1" />
<text x="0" y="0" font-size="14.5" text-anchor="end" fill="#262626" transform="translate(452.60,199.12) scale(0.9,1)">120</text>
<line x1="456.90" y1="175.19" x2="460.90" y2="175.19" stroke="#4e4e4e" stroke-width="1" />
<text x="0" y="0" font-size="14.5" text-anchor="end" fill="#262626" transform="translate(452.60,180.89) scale(0.9,1)">140</text>
<line x1="479.03" y1="302.80" x2="479.03" y2="300.60" stroke="#4e4e4e" stroke-width="1" />
<line x1="491.97" y1="302.80" x2="491.97" y2="300.60" stroke="#4e4e4e" stroke-width="1" />
<line x1="501.15" y1="302.80" x2="501.15" y2="300.60" stroke="#4e4e4e" stroke-width="1" />
<line x1="508.27" y1="302.80" x2="508.27" y2="300.60" stroke="#4e4e4e" stroke-width="1" />
<line x1="514.09" y1="302.80" x2="514.09" y2="300.60" stroke="#4e4e4e" stroke-width="1" />
<line x1="519.01" y1="302.80" x2="519.01" y2="300.60" stroke="#4e4e4e" stroke-width="1" />
<line x1="523.28" y1="302.80" x2="523.28" y2="300.60" stroke="#4e4e4e" stroke-width="1" />
<line x1="527.04" y1="302.80" x2="527.04" y2="300.60" stroke="#4e4e4e" stroke-width="1" />
<line x1="552.53" y1="302.80" x2="552.53" y2="300.60" stroke="#4e4e4e" stroke-width="1" />
<line x1="565.47" y1="302.80" x2="565.47" y2="300.60" stroke="#4e4e4e" stroke-width="1" />
<line x1="574.65" y1="302.80" x2="574.65" y2="300.60" stroke="#4e4e4e" stroke-width="1" />
<line x1="581.77" y1="302.80" x2="581.77" y2="300.60" stroke="#4e4e4e" stroke-width="1" />
<line x1="587.59" y1="302.80" x2="587.59" y2="300.60" stroke="#4e4e4e" stroke-width="1" />
<line x1="592.51" y1="302.80" x2="592.51" y2="300.60" stroke="#4e4e4e" stroke-width="1" />
<line x1="596.78" y1="302.80" x2="596.78" y2="300.60" stroke="#4e4e4e" stroke-width="1" />
<line x1="600.54" y1="302.80" x2="600.54" y2="300.60" stroke="#4e4e4e" stroke-width="1" />
<line x1="626.03" y1="302.80" x2="626.03" y2="300.60" stroke="#4e4e4e" stroke-width="1" />
<line x1="638.97" y1="302.80" x2="638.97" y2="300.60" stroke="#4e4e4e" stroke-width="1" />
<line x1="648.15" y1="302.80" x2="648.15" y2="300.60" stroke="#4e4e4e" stroke-width="1" />
<line x1="655.27" y1="302.80" x2="655.27" y2="300.60" stroke="#4e4e4e" stroke-width="1" />
<line x1="661.09" y1="302.80" x2="661.09" y2="300.60" stroke="#4e4e4e" stroke-width="1" />
<line x1="666.01" y1="302.80" x2="666.01" y2="300.60" stroke="#4e4e4e" stroke-width="1" />
<line x1="670.28" y1="302.80" x2="670.28" y2="300.60" stroke="#4e4e4e" stroke-width="1" />
<line x1="674.04" y1="302.80" x2="674.04" y2="300.60" stroke="#4e4e4e" stroke-width="1" />
<line x1="530.40" y1="302.80" x2="530.40" y2="299.30" stroke="#4e4e4e" stroke-width="1" />
<line x1="603.90" y1="302.80" x2="603.90" y2="299.30" stroke="#4e4e4e" stroke-width="1" />
<line x1="677.40" y1="302.80" x2="677.40" y2="299.30" stroke="#4e4e4e" stroke-width="1" />
<text x="0" y="0" font-size="14.5" text-anchor="middle" fill="#262626" transform="translate(457.90,319.40) scale(0.9,1)">0.1</text>
<text x="0" y="0" font-size="14.5" text-anchor="middle" fill="#262626" transform="translate(530.90,319.40) scale(0.9,1)">1</text>
<text x="0" y="0" font-size="14.5" text-anchor="middle" fill="#262626" transform="translate(603.90,319.40) scale(0.9,1)">10</text>
<text x="0" y="0" font-size="14.5" text-anchor="middle" fill="#262626" transform="translate(674.40,319.40) scale(0.9,1)">100</text>
<path d="M456.90,203.45 L460.26,203.45 L463.62,203.45 L466.99,203.45 L470.35,203.46 L473.71,203.46 L477.07,203.46 L480.44,203.46 L483.80,203.46 L487.16,203.46 L490.52,203.47 L493.89,203.47 L497.25,203.47 L500.61,203.48 L503.97,203.48 L507.33,203.48 L510.70,203.49 L514.06,203.49 L517.42,203.50 L520.78,203.51 L524.15,203.52 L527.51,203.53 L530.87,203.54 L534.23,203.55 L537.59,203.56 L540.96,203.58 L544.32,203.59 L547.68,203.61 L551.04,203.64 L554.41,203.66 L557.77,203.69 L561.13,203.72 L564.49,203.76 L567.86,203.80 L571.22,203.84 L574.58,203.90 L577.94,203.96 L581.30,204.02 L584.67,204.10 L588.03,204.18 L591.39,204.28 L594.75,204.39 L598.12,204.51 L601.48,204.65 L604.84,204.81 L608.20,204.99 L611.56,205.19 L614.93,205.41 L618.29,205.67 L621.65,205.95 L625.01,206.28 L628.38,206.64 L631.74,207.05 L635.10,207.50 L638.46,208.01 L641.83,208.59 L645.19,209.23 L648.55,209.94 L651.91,210.74 L655.27,211.63" stroke="#555" stroke-width="1.2" stroke-dasharray="1.2,1.0" fill="none"/>
<path d="M456.90,208.75L459.80,211.65L456.90,214.55L454.00,211.65Z" fill="#b4b4b4" stroke="#5a5a5a" stroke-width="0.9"/>
<path d="M508.27,214.22L511.17,217.12L508.27,220.02L505.37,217.12Z" fill="#b4b4b4" stroke="#5a5a5a" stroke-width="0.9"/>
<path d="M530.40,195.99L533.30,198.89L530.40,201.79L527.50,198.89Z" fill="#b4b4b4" stroke="#5a5a5a" stroke-width="0.9"/>
<path d="M559.65,194.17L562.55,197.07L559.65,199.97L556.75,197.07Z" fill="#b4b4b4" stroke="#5a5a5a" stroke-width="0.9"/>
<path d="M581.77,184.76V196.15M580.07,184.76h3.4M580.07,196.15h3.4" stroke="#505050" stroke-width="1.0" fill="none"/>
<path d="M581.77,187.79L584.67,190.69L581.77,193.59L578.87,190.69Z" fill="#b4b4b4" stroke="#5a5a5a" stroke-width="0.9"/>
<path d="M603.90,197.07V206.18M602.20,197.07h3.4M602.20,206.18h3.4" stroke="#505050" stroke-width="1.0" fill="none"/>
<path d="M603.90,198.72L606.80,201.62L603.90,204.52L601.00,201.62Z" fill="#b4b4b4" stroke="#5a5a5a" stroke-width="0.9"/>
<path d="M626.03,209.66L628.93,212.56L626.03,215.46L623.13,212.56Z" fill="#b4b4b4" stroke="#5a5a5a" stroke-width="0.9"/>
<path d="M655.27,209.66L658.17,212.56L655.27,215.46L652.37,212.56Z" fill="#b4b4b4" stroke="#5a5a5a" stroke-width="0.9"/>
<text x="0" y="0" font-size="15" text-anchor="middle" fill="#262626" textLength="96.3" lengthAdjust="spacingAndGlyphs" transform="translate(427.20,235.40) rotate(-90)">Cell survival, %</text>
<text x="567.20" y="335.30" font-size="15" text-anchor="middle" fill="#262626" textLength="85.7" lengthAdjust="spacingAndGlyphs">[OSN4F], μM</text>
<text x="468.10" y="293.00" font-size="14.5" fill="#262626">IC<tspan font-size="10.5" dy="3">50</tspan><tspan dy="-3"> = 385.8 μM</tspan></text>
<line x1="465.50" y1="383.38" x2="465.50" y2="502.00" stroke="#6a6a6a" stroke-width="1.2" />
<line x1="464.90" y1="502.00" x2="677.00" y2="502.00" stroke="#4e4e4e" stroke-width="1.3" />
<text x="0" y="0" font-size="14.5" text-anchor="end" fill="#262626" transform="translate(461.20,507.70) scale(0.9,1)">0</text>
<line x1="465.50" y1="488.82" x2="469.50" y2="488.82" stroke="#4e4e4e" stroke-width="1" />
<text x="0" y="0" font-size="14.5" text-anchor="end" fill="#262626" transform="translate(461.20,494.52) scale(0.9,1)">50</text>
<line x1="465.50" y1="475.64" x2="469.50" y2="475.64" stroke="#4e4e4e" stroke-width="1" />
<text x="0" y="0" font-size="14.5" text-anchor="end" fill="#262626" transform="translate(461.20,481.34) scale(0.9,1)">100</text>
<line x1="465.50" y1="462.46" x2="469.50" y2="462.46" stroke="#4e4e4e" stroke-width="1" />
<text x="0" y="0" font-size="14.5" text-anchor="end" fill="#262626" transform="translate(461.20,468.16) scale(0.9,1)">150</text>
<line x1="465.50" y1="449.28" x2="469.50" y2="449.28" stroke="#4e4e4e" stroke-width="1" />
<text x="0" y="0" font-size="14.5" text-anchor="end" fill="#262626" transform="translate(461.20,454.98) scale(0.9,1)">200</text>
<line x1="465.50" y1="436.10" x2="469.50" y2="436.10" stroke="#4e4e4e" stroke-width="1" />
<text x="0" y="0" font-size="14.5" text-anchor="end" fill="#262626" transform="translate(461.20,441.80) scale(0.9,1)">250</text>
<line x1="465.50" y1="422.92" x2="469.50" y2="422.92" stroke="#4e4e4e" stroke-width="1" />
<text x="0" y="0" font-size="14.5" text-anchor="end" fill="#262626" transform="translate(461.20,428.62) scale(0.9,1)">300</text>
<line x1="465.50" y1="409.74" x2="469.50" y2="409.74" stroke="#4e4e4e" stroke-width="1" />
<text x="0" y="0" font-size="14.5" text-anchor="end" fill="#262626" transform="translate(461.20,415.44) scale(0.9,1)">350</text>
<line x1="465.50" y1="396.56" x2="469.50" y2="396.56" stroke="#4e4e4e" stroke-width="1" />
<text x="0" y="0" font-size="14.5" text-anchor="end" fill="#262626" transform="translate(461.20,402.26) scale(0.9,1)">400</text>
<line x1="465.50" y1="383.38" x2="469.50" y2="383.38" stroke="#4e4e4e" stroke-width="1" />
<text x="0" y="0" font-size="14.5" text-anchor="end" fill="#262626" transform="translate(461.20,389.08) scale(0.9,1)">450</text>
<line x1="486.72" y1="502.00" x2="486.72" y2="499.80" stroke="#4e4e4e" stroke-width="1" />
<line x1="499.14" y1="502.00" x2="499.14" y2="499.80" stroke="#4e4e4e" stroke-width="1" />
<line x1="507.95" y1="502.00" x2="507.95" y2="499.80" stroke="#4e4e4e" stroke-width="1" />
<line x1="514.78" y1="502.00" x2="514.78" y2="499.80" stroke="#4e4e4e" stroke-width="1" />
<line x1="520.36" y1="502.00" x2="520.36" y2="499.80" stroke="#4e4e4e" stroke-width="1" />
<line x1="525.08" y1="502.00" x2="525.08" y2="499.80" stroke="#4e4e4e" stroke-width="1" />
<line x1="529.17" y1="502.00" x2="529.17" y2="499.80" stroke="#4e4e4e" stroke-width="1" />
<line x1="532.77" y1="502.00" x2="532.77" y2="499.80" stroke="#4e4e4e" stroke-width="1" />
<line x1="557.22" y1="502.00" x2="557.22" y2="499.80" stroke="#4e4e4e" stroke-width="1" />
<line x1="569.64" y1="502.00" x2="569.64" y2="499.80" stroke="#4e4e4e" stroke-width="1" />
<line x1="578.45" y1="502.00" x2="578.45" y2="499.80" stroke="#4e4e4e" stroke-width="1" />
<line x1="585.28" y1="502.00" x2="585.28" y2="499.80" stroke="#4e4e4e" stroke-width="1" />
<line x1="590.86" y1="502.00" x2="590.86" y2="499.80" stroke="#4e4e4e" stroke-width="1" />
<line x1="595.58" y1="502.00" x2="595.58" y2="499.80" stroke="#4e4e4e" stroke-width="1" />
<line x1="599.67" y1="502.00" x2="599.67" y2="499.80" stroke="#4e4e4e" stroke-width="1" />
<line x1="603.27" y1="502.00" x2="603.27" y2="499.80" stroke="#4e4e4e" stroke-width="1" />
<line x1="627.72" y1="502.00" x2="627.72" y2="499.80" stroke="#4e4e4e" stroke-width="1" />
<line x1="640.14" y1="502.00" x2="640.14" y2="499.80" stroke="#4e4e4e" stroke-width="1" />
<line x1="648.95" y1="502.00" x2="648.95" y2="499.80" stroke="#4e4e4e" stroke-width="1" />
<line x1="655.78" y1="502.00" x2="655.78" y2="499.80" stroke="#4e4e4e" stroke-width="1" />
<line x1="661.36" y1="502.00" x2="661.36" y2="499.80" stroke="#4e4e4e" stroke-width="1" />
<line x1="666.08" y1="502.00" x2="666.08" y2="499.80" stroke="#4e4e4e" stroke-width="1" />
<line x1="670.17" y1="502.00" x2="670.17" y2="499.80" stroke="#4e4e4e" stroke-width="1" />
<line x1="673.77" y1="502.00" x2="673.77" y2="499.80" stroke="#4e4e4e" stroke-width="1" />
<line x1="536.00" y1="502.00" x2="536.00" y2="498.50" stroke="#4e4e4e" stroke-width="1" />
<line x1="606.50" y1="502.00" x2="606.50" y2="498.50" stroke="#4e4e4e" stroke-width="1" />
<line x1="677.00" y1="502.00" x2="677.00" y2="498.50" stroke="#4e4e4e" stroke-width="1" />
<text x="0" y="0" font-size="14.5" text-anchor="middle" fill="#262626" transform="translate(466.50,518.60) scale(0.9,1)">0.1</text>
<text x="0" y="0" font-size="14.5" text-anchor="middle" fill="#262626" transform="translate(536.50,518.60) scale(0.9,1)">1</text>
<text x="0" y="0" font-size="14.5" text-anchor="middle" fill="#262626" transform="translate(606.50,518.60) scale(0.9,1)">10</text>
<text x="0" y="0" font-size="14.5" text-anchor="middle" fill="#262626" transform="translate(674.00,518.60) scale(0.9,1)">100</text>
<path d="M465.50,453.58 L468.25,453.59 L471.00,453.60 L473.75,453.61 L476.50,453.62 L479.25,453.64 L482.00,453.65 L484.75,453.67 L487.50,453.69 L490.25,453.71 L493.00,453.74 L495.74,453.77 L498.49,453.80 L501.24,453.83 L503.99,453.87 L506.74,453.92 L509.49,453.96 L512.24,454.02 L514.99,454.08 L517.74,454.15 L520.49,454.22 L523.24,454.30 L525.99,454.40 L528.74,454.50 L531.49,454.61 L534.24,454.74 L536.99,454.88 L539.74,455.04 L542.49,455.21 L545.24,455.40 L547.99,455.61 L550.74,455.85 L553.49,456.11 L556.23,456.40 L558.98,456.71 L561.73,457.06 L564.48,457.44 L567.23,457.86 L569.98,458.32 L572.73,458.82 L575.48,459.37 L578.23,459.96 L580.98,460.61 L583.73,461.30 L586.48,462.05 L589.23,462.86 L591.98,463.72 L594.73,464.64 L597.48,465.62 L600.23,466.65 L602.98,467.74 L605.73,468.87 L608.48,470.05 L611.23,471.28 L613.97,472.54 L616.72,473.83 L619.47,475.15 L622.22,476.48 L624.97,477.82 L627.72,479.15" stroke="#555" stroke-width="1.2" stroke-dasharray="1.2,1.0" fill="none"/>
<path d="M463.28,472.74L466.18,475.64L463.28,478.54L460.38,475.64Z" fill="#b4b4b4" stroke="#5a5a5a" stroke-width="0.9"/>
<path d="M514.78,392.61V470.37M513.08,392.61h3.4M513.08,470.37h3.4" stroke="#505050" stroke-width="1.0" fill="none"/>
<path d="M514.78,428.46L517.68,431.36L514.78,434.26L511.88,431.36Z" fill="#b4b4b4" stroke="#5a5a5a" stroke-width="0.9"/>
<path d="M536.00,449.02L538.90,451.92L536.00,454.82L533.10,451.92Z" fill="#b4b4b4" stroke="#5a5a5a" stroke-width="0.9"/>
<path d="M564.05,443.48V476.96M562.35,443.48h3.4M562.35,476.96h3.4" stroke="#505050" stroke-width="1.0" fill="none"/>
<path d="M564.05,456.92L566.95,459.82L564.05,462.72L561.15,459.82Z" fill="#b4b4b4" stroke="#5a5a5a" stroke-width="0.9"/>
<path d="M585.28,449.54L588.18,452.44L585.28,455.34L582.38,452.44Z" fill="#b4b4b4" stroke="#5a5a5a" stroke-width="0.9"/>
<path d="M606.50,459.82V467.20M604.80,459.82h3.4M604.80,467.20h3.4" stroke="#505050" stroke-width="1.0" fill="none"/>
<path d="M606.50,461.67L609.40,464.57L606.50,467.47L603.60,464.57Z" fill="#b4b4b4" stroke="#5a5a5a" stroke-width="0.9"/>
<path d="M618.91,476.96V484.34M617.21,476.96h3.4M617.21,484.34h3.4" stroke="#505050" stroke-width="1.0" fill="none"/>
<path d="M618.91,478.01L621.81,480.91L618.91,483.81L616.01,480.91Z" fill="#b4b4b4" stroke="#5a5a5a" stroke-width="0.9"/>
<path d="M627.72,470.37V486.71M626.02,470.37h3.4M626.02,486.71h3.4" stroke="#505050" stroke-width="1.0" fill="none"/>
<path d="M627.72,475.38L630.62,478.28L627.72,481.18L624.82,478.28Z" fill="#b4b4b4" stroke="#5a5a5a" stroke-width="0.9"/>
<text x="0" y="0" font-size="15" text-anchor="middle" fill="#262626" textLength="93" lengthAdjust="spacingAndGlyphs" transform="translate(435.40,446.30) rotate(-90)">Cell survival, %</text>
<text x="571.40" y="534.00" font-size="15" text-anchor="middle" fill="#262626" textLength="116.7" lengthAdjust="spacingAndGlyphs">[OSN4F/ISN], μM</text>
<text x="477.70" y="493.50" font-size="14.5" fill="#262626">IC<tspan font-size="10.5" dy="3">50</tspan><tspan dy="-3"> = 33.1 μM</tspan></text>
<line x1="462.20" y1="541.04" x2="462.20" y2="661.60" stroke="#6a6a6a" stroke-width="1.2" />
<line x1="461.60" y1="661.60" x2="676.10" y2="661.60" stroke="#4e4e4e" stroke-width="1.3" />
<text x="0" y="0" font-size="14.5" text-anchor="end" fill="#262626" transform="translate(457.90,667.30) scale(0.9,1)">0</text>
<line x1="462.20" y1="646.53" x2="466.20" y2="646.53" stroke="#4e4e4e" stroke-width="1" />
<text x="0" y="0" font-size="14.5" text-anchor="end" fill="#262626" transform="translate(457.90,652.23) scale(0.9,1)">20</text>
<line x1="462.20" y1="631.46" x2="466.20" y2="631.46" stroke="#4e4e4e" stroke-width="1" />
<text x="0" y="0" font-size="14.5" text-anchor="end" fill="#262626" transform="translate(457.90,637.16) scale(0.9,1)">40</text>
<line x1="462.20" y1="616.39" x2="466.20" y2="616.39" stroke="#4e4e4e" stroke-width="1" />
<text x="0" y="0" font-size="14.5" text-anchor="end" fill="#262626" transform="translate(457.90,622.09) scale(0.9,1)">60</text>
<line x1="462.20" y1="601.32" x2="466.20" y2="601.32" stroke="#4e4e4e" stroke-width="1" />
<text x="0" y="0" font-size="14.5" text-anchor="end" fill="#262626" transform="translate(457.90,607.02) scale(0.9,1)">80</text>
<line x1="462.20" y1="586.25" x2="466.20" y2="586.25" stroke="#4e4e4e" stroke-width="1" />
<text x="0" y="0" font-size="14.5" text-anchor="end" fill="#262626" transform="translate(457.90,591.95) scale(0.9,1)">100</text>
<line x1="462.20" y1="571.18" x2="466.20" y2="571.18" stroke="#4e4e4e" stroke-width="1" />
<text x="0" y="0" font-size="14.5" text-anchor="end" fill="#262626" transform="translate(457.90,576.88) scale(0.9,1)">120</text>
<line x1="462.20" y1="556.11" x2="466.20" y2="556.11" stroke="#4e4e4e" stroke-width="1" />
<text x="0" y="0" font-size="14.5" text-anchor="end" fill="#262626" transform="translate(457.90,561.81) scale(0.9,1)">140</text>
<line x1="462.20" y1="541.04" x2="466.20" y2="541.04" stroke="#4e4e4e" stroke-width="1" />
<text x="0" y="0" font-size="14.5" text-anchor="end" fill="#262626" transform="translate(457.90,546.74) scale(0.9,1)">160</text>
<line x1="483.66" y1="661.60" x2="483.66" y2="659.40" stroke="#4e4e4e" stroke-width="1" />
<line x1="496.22" y1="661.60" x2="496.22" y2="659.40" stroke="#4e4e4e" stroke-width="1" />
<line x1="505.13" y1="661.60" x2="505.13" y2="659.40" stroke="#4e4e4e" stroke-width="1" />
<line x1="512.04" y1="661.60" x2="512.04" y2="659.40" stroke="#4e4e4e" stroke-width="1" />
<line x1="517.68" y1="661.60" x2="517.68" y2="659.40" stroke="#4e4e4e" stroke-width="1" />
<line x1="522.46" y1="661.60" x2="522.46" y2="659.40" stroke="#4e4e4e" stroke-width="1" />
<line x1="526.59" y1="661.60" x2="526.59" y2="659.40" stroke="#4e4e4e" stroke-width="1" />
<line x1="530.24" y1="661.60" x2="530.24" y2="659.40" stroke="#4e4e4e" stroke-width="1" />
<line x1="554.96" y1="661.60" x2="554.96" y2="659.40" stroke="#4e4e4e" stroke-width="1" />
<line x1="567.52" y1="661.60" x2="567.52" y2="659.40" stroke="#4e4e4e" stroke-width="1" />
<line x1="576.43" y1="661.60" x2="576.43" y2="659.40" stroke="#4e4e4e" stroke-width="1" />
<line x1="583.34" y1="661.60" x2="583.34" y2="659.40" stroke="#4e4e4e" stroke-width="1" />
<line x1="588.98" y1="661.60" x2="588.98" y2="659.40" stroke="#4e4e4e" stroke-width="1" />
<line x1="593.76" y1="661.60" x2="593.76" y2="659.40" stroke="#4e4e4e" stroke-width="1" />
<line x1="597.89" y1="661.60" x2="597.89" y2="659.40" stroke="#4e4e4e" stroke-width="1" />
<line x1="601.54" y1="661.60" x2="601.54" y2="659.40" stroke="#4e4e4e" stroke-width="1" />
<line x1="626.26" y1="661.60" x2="626.26" y2="659.40" stroke="#4e4e4e" stroke-width="1" />
<line x1="638.82" y1="661.60" x2="638.82" y2="659.40" stroke="#4e4e4e" stroke-width="1" />
<line x1="647.73" y1="661.60" x2="647.73" y2="659.40" stroke="#4e4e4e" stroke-width="1" />
<line x1="654.64" y1="661.60" x2="654.64" y2="659.40" stroke="#4e4e4e" stroke-width="1" />
<line x1="660.28" y1="661.60" x2="660.28" y2="659.40" stroke="#4e4e4e" stroke-width="1" />
<line x1="665.06" y1="661.60" x2="665.06" y2="659.40" stroke="#4e4e4e" stroke-width="1" />
<line x1="669.19" y1="661.60" x2="669.19" y2="659.40" stroke="#4e4e4e" stroke-width="1" />
<line x1="672.84" y1="661.60" x2="672.84" y2="659.40" stroke="#4e4e4e" stroke-width="1" />
<line x1="533.50" y1="661.60" x2="533.50" y2="658.10" stroke="#4e4e4e" stroke-width="1" />
<line x1="604.80" y1="661.60" x2="604.80" y2="658.10" stroke="#4e4e4e" stroke-width="1" />
<line x1="676.10" y1="661.60" x2="676.10" y2="658.10" stroke="#4e4e4e" stroke-width="1" />
<text x="0" y="0" font-size="14.5" text-anchor="middle" fill="#262626" transform="translate(463.20,678.20) scale(0.9,1)">0.1</text>
<text x="0" y="0" font-size="14.5" text-anchor="middle" fill="#262626" transform="translate(534.00,678.20) scale(0.9,1)">1</text>
<text x="0" y="0" font-size="14.5" text-anchor="middle" fill="#262626" transform="translate(604.80,678.20) scale(0.9,1)">10</text>
<text x="0" y="0" font-size="14.5" text-anchor="middle" fill="#262626" transform="translate(673.10,678.20) scale(0.9,1)">100</text>
<path d="M462.20,576.59 L464.86,576.60 L467.53,576.62 L470.19,576.63 L472.85,576.65 L475.52,576.67 L478.18,576.70 L480.85,576.72 L483.51,576.75 L486.17,576.78 L488.84,576.82 L491.50,576.85 L494.16,576.90 L496.83,576.94 L499.49,577.00 L502.15,577.05 L504.82,577.12 L507.48,577.19 L510.15,577.26 L512.81,577.35 L515.47,577.45 L518.14,577.55 L520.80,577.67 L523.46,577.79 L526.13,577.93 L528.79,578.09 L531.45,578.26 L534.12,578.45 L536.78,578.65 L539.45,578.88 L542.11,579.13 L544.77,579.41 L547.44,579.71 L550.10,580.05 L552.76,580.41 L555.43,580.81 L558.09,581.25 L560.75,581.73 L563.42,582.26 L566.08,582.83 L568.74,583.46 L571.41,584.14 L574.07,584.88 L576.74,585.68 L579.40,586.55 L582.06,587.49 L584.73,588.50 L587.39,589.59 L590.05,590.76 L592.72,592.01 L595.38,593.34 L598.04,594.76 L600.71,596.26 L603.37,597.84 L606.04,599.51 L608.70,601.25 L611.36,603.07 L614.03,604.96 L616.69,606.92 L619.35,608.93" stroke="#555" stroke-width="1.2" stroke-dasharray="1.2,1.0" fill="none"/>
<path d="M460.94,583.35L463.84,586.25L460.94,589.15L458.04,586.25Z" fill="#b4b4b4" stroke="#5a5a5a" stroke-width="0.9"/>
<path d="M533.50,553.10V577.96M531.80,553.10h3.4M531.80,577.96h3.4" stroke="#505050" stroke-width="1.0" fill="none"/>
<path d="M533.50,562.25L536.40,565.15L533.50,568.05L530.60,565.15Z" fill="#b4b4b4" stroke="#5a5a5a" stroke-width="0.9"/>
<path d="M561.87,574.19V583.24M560.17,574.19h3.4M560.17,583.24h3.4" stroke="#505050" stroke-width="1.0" fill="none"/>
<path d="M561.87,575.82L564.77,578.72L561.87,581.62L558.97,578.72Z" fill="#b4b4b4" stroke="#5a5a5a" stroke-width="0.9"/>
<path d="M583.34,584.74V596.05M581.64,584.74h3.4M581.64,596.05h3.4" stroke="#505050" stroke-width="1.0" fill="none"/>
<path d="M583.34,587.87L586.24,590.77L583.34,593.67L580.44,590.77Z" fill="#b4b4b4" stroke="#5a5a5a" stroke-width="0.9"/>
<path d="M604.80,587.76V617.90M603.10,587.76h3.4M603.10,617.90h3.4" stroke="#505050" stroke-width="1.0" fill="none"/>
<path d="M604.80,599.93L607.70,602.83L604.80,605.73L601.90,602.83Z" fill="#b4b4b4" stroke="#5a5a5a" stroke-width="0.9"/>
<path d="M617.36,598.31V623.17M615.66,598.31h3.4M615.66,623.17h3.4" stroke="#505050" stroke-width="1.0" fill="none"/>
<path d="M617.36,607.46L620.26,610.36L617.36,613.26L614.46,610.36Z" fill="#b4b4b4" stroke="#5a5a5a" stroke-width="0.9"/>
<path d="M626.26,608.86V614.13M624.56,608.86h3.4M624.56,614.13h3.4" stroke="#505050" stroke-width="1.0" fill="none"/>
<path d="M626.26,608.97L629.16,611.87L626.26,614.77L623.36,611.87Z" fill="#b4b4b4" stroke="#5a5a5a" stroke-width="0.9"/>
<text x="0" y="0" font-size="15" text-anchor="middle" fill="#262626" textLength="91.4" lengthAdjust="spacingAndGlyphs" transform="translate(432.50,602.10) rotate(-90)">Cell survival, %</text>
<text x="569.00" y="693.50" font-size="15" text-anchor="middle" fill="#262626" textLength="115.8" lengthAdjust="spacingAndGlyphs">[OSN4F/ISN], μM</text>
<text x="473.90" y="653.50" font-size="14.5" fill="#262626">IC<tspan font-size="10.5" dy="3">50</tspan><tspan dy="-3"> = 28.1 μM</tspan></text>
<text x="27.00" y="15.00" font-size="15" text-anchor="start" fill="#262626" >(a)</text>
<text x="6.80" y="76.00" font-size="15" text-anchor="start" fill="#262626" textLength="61" lengthAdjust="spacingAndGlyphs">HEK293T</text>
<text x="6.40" y="243.00" font-size="15" text-anchor="start" fill="#262626" textLength="34.5" lengthAdjust="spacingAndGlyphs">T98G</text>
<text x="14.30" y="375.80" font-size="15" text-anchor="start" fill="#262626" >(b)</text>
<text x="0.90" y="437.80" font-size="15" text-anchor="start" fill="#262626" textLength="61.8" lengthAdjust="spacingAndGlyphs">HEK293T</text>
<text x="1.10" y="602.10" font-size="15" text-anchor="start" fill="#262626" textLength="33.8" lengthAdjust="spacingAndGlyphs">T98G</text>
<text x="0" y="0" font-size="15" text-anchor="middle" fill="#262626" textLength="59.5" lengthAdjust="spacingAndGlyphs" transform="translate(82.70,71.75) rotate(-90)">Cell index</text>
<text x="0" y="0" font-size="15" text-anchor="middle" fill="#262626" textLength="58.5" lengthAdjust="spacingAndGlyphs" transform="translate(87.10,237.80) rotate(-90)">Cell index</text>
<text x="0" y="0" font-size="15" text-anchor="middle" fill="#262626" textLength="58.5" lengthAdjust="spacingAndGlyphs" transform="translate(74.50,436.50) rotate(-90)">Cell index</text>
<text x="0" y="0" font-size="15" text-anchor="middle" fill="#262626" textLength="58.8" lengthAdjust="spacingAndGlyphs" transform="translate(74.50,597.10) rotate(-90)">Cell index</text>
<text x="251.30" y="168.00" font-size="15" text-anchor="middle" fill="#262626" textLength="46" lengthAdjust="spacingAndGlyphs">Time, h</text>
<text x="255.30" y="334.80" font-size="15" text-anchor="middle" fill="#262626" textLength="46" lengthAdjust="spacingAndGlyphs">Time, h</text>
<text x="252.00" y="533.80" font-size="15" text-anchor="middle" fill="#262626" textLength="46" lengthAdjust="spacingAndGlyphs">Time, h</text>
<text x="252.00" y="694.00" font-size="15" text-anchor="middle" fill="#262626" textLength="46" lengthAdjust="spacingAndGlyphs">Time, h</text>
</svg>
</body></html>
